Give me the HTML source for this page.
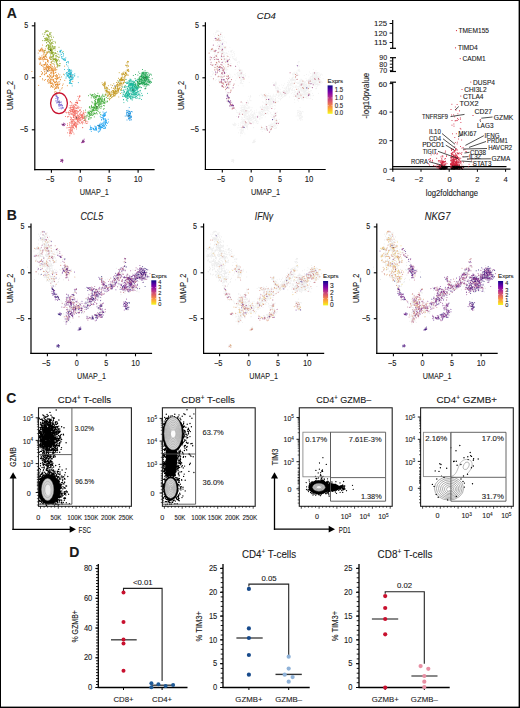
<!DOCTYPE html>
<html><head><meta charset="utf-8"><title>Figure</title>
<style>html,body{margin:0;padding:0;background:#fff}svg{display:block}text{font-family:"Liberation Sans",sans-serif;fill:#1a1a1a;stroke:#1a1a1a;stroke-width:0.1px}</style>
</head><body>
<svg width="520" height="708" viewBox="0 0 520 708">
<rect x="0" y="0" width="520" height="708" fill="#000"/>
<rect x="1" y="1" width="517.6" height="705.6" fill="#fff"/>
<text x="6.8" y="18.2" font-size="14" font-weight="bold" fill="#000">A</text>
<path d="M42.4 45.1h0m-3.5 5.1h0m.9 .3h0m.7-1.1h0m.1 1.1h0m.1-.4h0m.3-.3h0m.2-1h0m.3 .2h0m.4-1h0m.3 2.6h0m.1-.5h0m.2-.9h0m.4 .4h0m.6 1.4h0m1.5-.6h0m.3-1.5h0m5.9 3h0m-2.3-.5h0m-.6 .8h0m-1.1 .2h0m-.2 .9h0m0-1.5h0m-.4 1.2h0m-2.2-1.8h0m-.1 1.4h0m-.6 .4h0m-.4-2h0m-.4 .8h0m-1-.8h0m-1.4 0h0m-.9 .3h0m-1.4 1.8h0m1.1 3.9h0m2.6-1.1h0m1.3-1h0m.6 1.6h0m.1 .3h0m.1-2.6h0m.5 2.1h0m.7-.8h0m.2 .8h0m.1-1.6h0m.2 1.6h0m.4 .3h0m.5-2.1h0m4.2 1.9h0m5.8 3h0m-3.1-.4h0m-2.9 .4h0m-1.1-1h0m-.1-1h0m-2.1 2h0m-.3-.1h0m-.3-1.7h0m-.5 1.9h0m-.7-.4h0m-.4 .3h0m-.4-1.8h0m-.2 1.6h0m0-.9h0m-.8 1.2h0m-.4-2h0m0-.1h0m-.2 0h0m-.2 .7h0m-.2 .4h0m-.4 1.2h0m-.6-.5h0m-.6-1.9h0m-.2 .9h0m-.3-.6h0m-.1 1.5h0m-.3 .2h0m-.1-.7h0m-.6 .2h0m-.1 .9h0m-1-.8h0m1.8 3.4h0m3.1-1.2h0m2.2 1.3h0m.5 .5h0m1.5-1.3h0m.2-.7h0m.1-.2h0m.1 .5h0m.2-.7h0m.2 1.6h0m2.8 .1h0m.1 .2h0m1.4-1.3h0m4 1.4h0m1 2.9h0m-3-.4h0m-1.8-1.4h0m-1.6 1.4h0m-.7 0h0m-.1-.4h0m-.3-.2h0m-1.8 1.6h0m-.9-1.6h0m0-.1h0m-.5 1.4h0m-.3-.6h0m-.7-1.1h0m-.6-.4h0m0 1.1h0m-.3 .1h0m-.3-.3h0m-.1 .4h0m-.4 0h0m-.4-.3h0m-1.8 .2h0m-.3 .7h0m-.4 0h0m-.6-2.2h0m-.7 1.2h0m-.2-.7h0m3 2.4h0m.4-.1h0m.5 2h0m.4-.7h0m.7 1.6h0m.4-1.5h0m.6 1h0m.4-1.7h0m.4-.5h0m.3 .4h0m0 .9h0m0 .4h0m.6-.6h0m0-1h0m.4 1.1h0m.2 1.2h0m.4-2.5h0m0 2.2h0m.1-.9h0m.5 1.3h0m0-1.8h0m.1-.4h0m.1 1.8h0m.2-1.8h0m.7 1.3h0m0-.2h0m.1-.2h0m0-.4h0m.6-1h0m.6 2h0m.1 .1h0m.4-.1h0m0-1.8h0m.2 2.2h0m.4-1.7h0m.9 1.2h0m1-1.3h0m.4 2.2h0m.1-.7h0m.2-.5h0m.4 1.3h0m1.5-2.8h0m7.6 0h0m-7.9 3.3h0m-.9 .7h0m-.3-.1h0m-1.1-.1h0m-.3 0h0m-.5 1.2h0m-.2-.6h0m-.3 .6h0m-.1 .5h0m0-2.4h0m-.2 .1h0m-.3 .6h0m-.1 .8h0m-.4-.4h0m-.6-.3h0m-.2-.7h0m-.1-.3h0m-.2 1.6h0m-.8-.5h0m-.7 .3h0m-.7 .8h0m0-1.6h0m-.1 .2h0m-.2-.3h0m-.7 .5h0m-1.2 .8h0m-.2-1.8h0m-.2 .2h0m-.1-.2h0m-.1 .8h0m-1.2 1.6h0m-.5-1.8h0m-.1-.3h0m-.3 .5h0m-2.6 1.6h0m-9.4 0h0m9.6 2.7h0m.4 .5h0m.5-2h0m.1 .7h0m1.8 1h0m.2 .4h0m.2-2.8h0m.2 2h0m1-.5h0m.4-.9h0m0 .7h0m3 1.6h0m.2-.3h0m1.3-1h0m.2-.9h0m.1-.6h0m.2 .2h0m.5 1.6h0m1.1-1.1h0m.6 1.4h0m.1-1.7h0m0 1h0m.3 .1h0m.1-.5h0m1.7-.5h0m.1-.3h0m.7 2.4h0m2-.7h0m1.4 .9h0m3.7-.6h0m-2.1 2.6h0m-1.6 .8h0m-.4-.7h0m-1.2 .7h0m-.9-2.1h0m-.2 .8h0m0 1.2h0m-.5-.6h0m-.3-1.9h0m-.3 1.7h0m-.3-.5h0m-.1-.8h0m-1.8-.3h0m0 .4h0m-.5 1h0m0-.5h0m-.2 .2h0m-.1-.1h0m-.4 1.6h0m-.5-.9h0m-.4 .7h0m-.6-.6h0m-.2-1.3h0m-.4 .4h0m-.4-.2h0m-.1 .8h0m-.5 1h0m-1.3-1h0m-.3-.4h0m-.3-.1h0m-.1-.4h0m-.4 .9h0m-6.8-.2h0m-.4 .1h0m2.5 2.1h0m.3 1.1h0m1.7 .5h0m.9-.8h0m2.1 1.4h0m.3-1h0m.6-.5h0m.7 .8h0m.2-2h0m.6 2.6h0m.7-.9h0m.2-1h0m0 .5h0m.2 1.4h0m.4-1.5h0m.9 .5h0m.8 0h0m.1 .5h0m.1-.6h0m.3 .3h0m1.4-1.4h0m.7-.1h0m.5 .2h0m.1 1.2h0m.2-.2h0m.7-1.1h0m.3-.3h0m.1 .3h0m.2 .3h0m.3-.8h0m2.1 1.7h0m.4-.2h0m4.2 .8h0m8 1h0m-12.9 2.3h0m-.2-1.9h0m-1.4 .1h0m-.4 2.1h0m-.1-1h0m-.7-.6h0m-.1 1.6h0m-.4-2.5h0m-.4 .2h0m-.5 .5h0m-.1 .2h0m-.8 .1h0m-.4-.2h0m-.2-1h0m-.1 2.5h0m-.5-2.3h0m-1.1 2.4h0m-.4-1.2h0m-.2 .7h0m-.5 0h0m-.6-.2h0m0-1.2h0m-.2 .8h0m-.3 .9h0m0-2h0m-.1-.5h0m-.3 1.7h0m-.8-.4h0m-.2-.6h0m-.7 1.3h0m-.5-2h0m-9 4.2h0m12.5 0h0m.1 .3h0m0 .8h0m.1-.4h0m1 .8h0m.3-2.8h0m.4 1h0m.5 0h0m1.2 1.6h0m.7-2h0m.1-.3h0m.1 1.1h0m.2-.8h0m.2-.6h0m.5 .6h0m.1 1.8h0m.5 .2h0m.3-2h0m.2-.3h0m.2 1.3h0m0-1h0m0 .7h0m.2-.9h0m1.4 0h0m3 .8h0m.7-1.3h0m4.1 1.7h0m-5.1 2h0m-.4 1.1h0m-3.2-.5h0m-.3-.7h0m-.2-.6h0m-.3 .9h0m-1.3-.6h0m-.2 1h0m-.5 .2h0m-.3-.6h0m-.2 .2h0m-.6 .8h0m0 .7h0m-1.5-2.5h0m-.4 .1h0m-2.2-.1h0m4 5h0m1.1-.4h0m.7 .6h0m2.9 .2h0m.6-1.5h0m.2-.9h0m-1.2 3.2h0m-2 1.7h0m-.7-.9h0m-.6-.1h0" stroke="#E3892B" stroke-width="1" stroke-linecap="round"/>
<path d="M45 32.7h0m.1-.2h0m.7-1.7h0m.1 .6h0m.7 .2h0m.3-.4h0m.1-.6h0m.8 .6h0m.4 .2h0m1.7 1.3h0m1.1-.1h0m-.3 1.6h0m-.8-.6h0m-.1 .6h0m-.1 .1h0m-1.5 1h0m-.1 .6h0m-.1-.3h0m-.4-.1h0m-.1-1.1h0m-.3 1.2h0m-.3-.9h0m-2.2-.4h0m-1.9-.3h0m.9 2.4h0m.7 2h0m1.1-.2h0m0 .6h0m1.2-1h0m.3 .4h0m0 .5h0m.9-.5h0m.7-1.7h0m.1 .9h0m.9 .6h0m0-1.7h0m1-.1h0m.9 1.5h0m.2-1.7h0m1.8 1.2h0m1.7 4.8h0m-1.3-.6h0m-1.8-1.4h0m-.1-.5h0m-1.4 1.4h0m-.1 .1h0m-.2-.8h0m-.4-.8h0m-.7 1.1h0m-.8-1.3h0m0 2.4h0m-.3 .2h0m0-1.7h0m-.2-.1h0m-.3 1h0m0-1.2h0m-.1-.5h0m-.3-.1h0m-.7 .9h0m-.2 .2h0m-.1-1.2h0m-.2 .2h0m-.1 .5h0m-.1 .9h0m-.7-.6h0m-.8 .6h0m-1.6-.1h0m3.9 2.1h0m.1 0h0m1.1 1.8h0m1.2 .4h0m.3-2.8h0m.1 .5h0m.5 .6h0m.1 .4h0m.7-.4h0m0 1.5h0m.8-.7h0m.2-1.4h0m.1 .5h0m.2 .1h0m.4-1.1h0m.6 1.4h0m2.5-.6h0m3.5 4.4h0m-4 .5h0m0-1h0m-.1-.3h0m-.8 .8h0m-.7-.4h0m-1-.8h0m-.1 .2h0m-.2 1.2h0m0-2.1h0m-.3 1.6h0m-1.2 .8h0m0-1h0m-.3-1.8h0m-.2 1.8h0m0-.7h0m-.3-.5h0m-.3 2h0m-.1-.8h0m-.7 .3h0m-.1 .7h0m-.1 0h0m-.1-1.4h0m0-.7h0m0-.6h0m-.1 .5h0m-.1 1.8h0m-1.2-1.8h0m-.4 0h0m-.3 .4h0m-.2 .7h0m-1.3 4h0m.2-.2h0m2.8-1.8h0m.6-.2h0m.1 1.3h0m.4-.3h0m.3-.1h0m.5 0h0m.3-.6h0m.1 .9h0m.4-.8h0m.2 0h0m.1 1.4h0m.1 .5h0m0-1.7h0m.1-.3h0m0 1h0m.1 .8h0m0-.1h0m.1-.6h0m0-.6h0m.2 .8h0m0-.9h0m.2 1.4h0m0-1.2h0m0 1.2h0m.2-1.5h0m.2 .9h0m.2 .9h0m.2-1.7h0m.7-.9h0m.3 .6h0m.6-.6h0m0 .3h0m.9-.3h0m.2 1.8h0m8 1.5h0m-5.5 .1h0m-.8 2h0m-1.1-.4h0m-.2-.1h0m-.1-.3h0m-1.1 .3h0m-.4-.5h0m-.7-.4h0m-.3 .1h0m-.4 .5h0m0-.2h0m-.2 .3h0m-.1 .3h0m-.1-2.3h0m-.2 1.9h0m-.1-1.3h0m-.1 1.5h0m0-.4h0m0-1h0m-.5 2.1h0m0-.7h0m0 .5h0m-.1-2h0m-.5 1.2h0m-.9 0h0m0-1.1h0m-1.6 .1h0m-.7 1.1h0m-2.5-.1h0m1 2.9h0m4.2 1.1h0m.4-1.8h0m.8 1.9h0m.9-.4h0m.6-.5h0m.1-1.8h0m0-.2h0m.1 2.3h0m.3-.7h0m.1-.7h0m.2 1.2h0m.1-.9h0m0 .6h0m.4-1.4h0m1.8 1.6h0m0-.2h0m.3-.4h0m.7 .9h0m.8 .3h0m.5-2.3h0m1.4 2.9h0m-1.1 .1h0m-.2 2h0m-1.5 .3h0m-.8-1.7h0m-.1 .9h0m0 .8h0m-.1-.1h0m-.3-.1h0m-.3-.9h0m-.4 .3h0m-.3 .7h0m-.5-.2h0m0 .1h0m0-.1h0m-.1 .7h0m-.6-.8h0m-.2-2.1h0m-.2 2.7h0m0-1.6h0m-.1-.2h0m-1.4-.2h0m-.1 1.7h0m-.3-2h0m-.3 .5h0m-.4 1.1h0m1.3 3.9h0m.2-1.6h0m2.1 0h0m1 .7h0m.5-1.5h0m.1 0h0m.1-.5h0m.1 .6h0m.7 1.3h0m0-.6h0m.1-1.1h0m.2 1.8h0m.2-.4h0m.1-1.2h0m.2 0h0m.3-.3h0m.3 .6h0m1.5 .2h0m.7 2.5h0m0 2.2h0m-.1-2h0m-.3 2.1h0m-.3-.2h0m-1-.5h0m-1-.7h0m-.3-.8h0m0 .2h0m-.1 .4h0m-3.1-.2h0m3.3 3.4h0m.7-1.3h0m.2-.1h0" stroke="#8DA82A" stroke-width="1" stroke-linecap="round"/>
<path d="M60.2 50.4h0m1.2-.1h0m2.1 3.7h0m-.2-.3h0m-.9-1.1h0m-1.5 .2h0m-.2-1.1h0m-.2-.3h0m-.1-.2h0m-.3 .1h0m-.4 .5h0m.4 3.2h0m1.3 1.7h0m0-2.2h0m.7 2.2h0m1.5-.8h0m2.2 2h0m-.5 1.9h0m-.2-.6h0m-.4-.3h0m-.8 .5h0m-.1-.3h0m-.1 .6h0m-.7-.6h0m-.3-.7h0m-1.3-.4h0m2.9 2.4h0m1 .1h0m1.1 2.2h0m.2-.3h0m1-.6h0m.8 1.1h0m.2-1.1h0m-2 2.9h0m1.3 1.3h0" stroke="#1EB5CC" stroke-width="1" stroke-linecap="round"/>
<path d="M68.7 68h0m3.2 3.2h0m-.8-1.1h0m-.2 .9h0m-.1-.8h0m-.7 1h0m-.2-.2h0m-.3-1.4h0m-.2 1.4h0m0-1h0m-.3-.5h0m-.2 .8h0m-.2 1h0m-.3-.4h0m-.3 1.1h0m-.2-2.5h0m-3.5 0h0m0 5.4h0m1.6-1.3h0m.6-1h0m.4 1.8h0m.1 .4h0m0-1.6h0m.1-.6h0m1.2 1.2h0m.2-.3h0m.3 .4h0m0 1h0m.6-.2h0m0-.7h0m.1-.5h0m.4-1.1h0m0 .5h0m.2 1.5h0m.1-1.4h0m.1 1.1h0m.2 .5h0m.1-.3h0m.1-.4h0m.1-.2h0m0-.9h0m.1 2h0m.2-.5h0m.1-1.3h0m.1-.3h0m1.1 2.2h0m1.3-.1h0m1-1h0m3.2 3.1h0m-3.2-1.2h0m-.2 .3h0m-1.1 1.2h0m-.8-2.1h0m-.1 1.7h0m0 1.2h0m-.5-.6h0m-.4 .3h0m-.8-.9h0m0 .4h0m-.1-1.2h0m-.1 .2h0m-.3 .7h0m-.2-.6h0m-.5 .8h0m0 .5h0m-.5-.6h0m-.5-1.2h0m0 1.8h0m-.1-1.8h0m-.4 .5h0m-.4-.4h0m-.1-.3h0m-.2 .4h0m-.4-.6h0m-.9 1.5h0m-.2 1.3h0m3.3-.1h0m.3 2.3h0m.2 .5h0m.1-2.1h0m.4 1.4h0m.1-.8h0m0 .2h0m.1 1.2h0m.7-1.7h0m.2 .5h0m.1 .1h0m.5-1.1h0m.5 .6h0m.6-.3h0m5.2 3.7h0m-6.3 1.1h0m-.4-.2h0m-.9-.6h0m0-1.3h0m-.4 1.7h0m-.3-.5h0m-.4-.2h0m-.3 .8h0m2.9 2.5h0" stroke="#1EB5CC" stroke-width="1" stroke-linecap="round"/>
<path d="M57.2 92.8h0m-.8 2.3h0m-.1 .7h0m-.7 0h0m.2 2.8h0m.5-2h0m.1 .1h0m.4-.5h0m.3 .7h0m0 1.5h0m.2-1.5h0m0 1.8h0m.2-1.1h0m.5 .7h0m0-.8h0m.4 .3h0m3 4.2h0m-1.7-1.1h0m-1.4 .8h0m-.3-1.6h0m-.1 1.3h0m0-1.7h0m-.4 1.2h0m-.1-1.5h0m-1 1.6h0m-.7-.1h0m.8 2h0m.7-.2h0m.4-.1h0m1.1 1.7h0m.1-1.9h0m.1 2.4h0m.2 0h0m.2-1.2h0m.3 .8h0m0-2h0m.4-.1h0m.5 0h0m.3 2.2h0m.3-.2h0m.1 .3h0m.6-.3h0m1.4 3.5h0m-.4-.2h0m-.6-2h0m0 0h0m0 0h0m-.1 1.4h0m0 .6h0m-1-2h0m-.8 .2h0m0-.6h0m-1 .8h0m-.2-.1h0m-.2 0h0m.2 2.4h0m1.6-.3h0m.6 .9h0m.7-.6h0m1-.1h0" stroke="#7F6FD8" stroke-width="1" stroke-linecap="round"/>
<path d="M79.8 95.8h0m-1.9 .6h0m.5 1.9h0m1-1.2h0m.1-.3h0m.3-.8h0m.1 .4h0m.2 4.3h0m-.7-.3h0m-.8-.4h0m-1.5 1.8h0m-.3-1.4h0m-6.4 1.1h0m-.2 .5h0m1.5 .7h0m.3 1.3h0m2.2 .3h0m1.1 .5h0m0-.1h0m.2-2h0m.4-.3h0m.5 .1h0m.2 .2h0m.6-.1h0m.1 .9h0m0-.7h0m0-.1h0m.2 .5h0m.2-.1h0m3.4 4.6h0m-2-.4h0m-.4 .7h0m-.6-1.6h0m-.4 1.2h0m-.7-1.7h0m-.1 2h0m-.3-2.8h0m-.9 2.8h0m-.5-2.3h0m-.8 1.5h0m-.3-.6h0m-.1 .2h0m-.2 .8h0m-.1-1.7h0m-.4-.4h0m-.2 2h0m-.4-1.4h0m-.3 1.7h0m-.1-.5h0m-.7 .5h0m-.1-2h0m-.9 1.3h0m0 .6h0m-.5-2.1h0m-.9 2.3h0m-4.5 1.7h0m.9 1.2h0m3.9-.2h0m.6-1.7h0m.4 1.9h0m.2-2.5h0m.1 1.5h0m.7-.1h0m.3 .1h0m.1 1.1h0m.5-.1h0m0-.9h0m.3-.1h0m.1 .3h0m0-.6h0m.3-.1h0m.3-1h0m.1 1.1h0m.2 1.5h0m.2-1.2h0m0-1.4h0m.2 1.5h0m.1-1.5h0m.8 2.6h0m.1-.8h0m0 .7h0m.1-.4h0m.7-2.2h0m.5 .3h0m.1 2.1h0m.5-.3h0m.9-1.9h0m1.5 1.6h0m.3 .6h0m.5 .2h0m.3-1h0m3.1 1.1h0m1.8 1.4h0m-1.5 .1h0m0 .9h0m-.3 .5h0m-.5-.8h0m0 .6h0m-1.5-1.9h0m-1 1.1h0m-.6 .9h0m-1.4-2h0m-.5 0h0m-.8 1.1h0m0-1.5h0m-.2 2h0m-.4-1.3h0m-.4 1.6h0m-.4-2.5h0m-.3 .7h0m-.1 .4h0m-.2 1.7h0m0-.1h0m-.2-1.4h0m-.4 1.4h0m0-2.6h0m-.2 0h0m-.2 .6h0m-.1-.5h0m0 .7h0m0 1.5h0m-.2-1h0m0 .4h0m0-1.5h0m-.4 1.3h0m-.4-.1h0m-.3-1.2h0m-.2 .1h0m-.2-.2h0m0 1.9h0m-.3-1.3h0m-.6 1.8h0m-.3-2h0m-.4-.3h0m-.5 0h0m-.2 1.4h0m-.5 0h0m-.9-.8h0m-.5 .6h0m-.2 0h0m-1.6 .2h0m-.6-.5h0m-.3 4.2h0m2 .4h0m.4-.2h0m.4-2.7h0m.4 2.4h0m.8-1.7h0m.7-.7h0m1.3 .3h0m.8 .4h0m.7 .2h0m.2 .9h0m.3-.3h0m.1-1.1h0m.1 2h0m.3-1h0m.6-.1h0m.1-.4h0m.2 .4h0m.1-1.2h0m0 2.6h0m.7-.6h0m.3 .7h0m.1-.5h0m.5 .4h0m.6-.8h0m.1-.7h0m.5-.4h0m.1 2.2h0m.5-1.4h0m.2 1.3h0m.5-.4h0m.1 .2h0m.3-2.4h0m.4 1.5h0m.5-1h0m.4 .5h0m.5 0h0m0 .9h0m.3-1.3h0m.1-.3h0m0 1.6h0m.2-1.1h0m.1 1.2h0m.3-1.6h0m.3 1.2h0m.1-.3h0m0 .6h0m.1-1.2h0m1.1 1.4h0m.3-1.6h0m.6 2h0m.9-.5h0m.2 1.7h0m-.6 1.7h0m-.6 .3h0m-.2-2.6h0m-1 .6h0m-.3 .2h0m-.2 .1h0m-.1-1.1h0m-.2 1.1h0m-.1-.9h0m-.1 1.5h0m-.5-1.1h0m0-.7h0m-.2 2.4h0m-.2-1.7h0m-.5-.5h0m-.6 .9h0m-.1-.6h0m0 2.1h0m-.8-1.6h0m-.1 .8h0m-.4-.4h0m-.1 .5h0m0-.8h0m-.3 .9h0m0-1.2h0m-.4-.1h0m0 0h0m-.3 1.9h0m-.4-.3h0m-.4-1h0m-.1 .1h0m0-1.2h0m-.2 2.5h0m-.4-1.5h0m-.1 1h0m0-.3h0m-.4-.4h0m-.6 .6h0m-.2-2h0m-.3 1.3h0m-.9-.9h0m-.1 2h0m-.1-.1h0m-.3-2h0m-.3-.4h0m0 .3h0m-.4 2.5h0m-.5-.3h0m-1-.9h0m-.2-1.2h0m-.4 1.7h0m-.4-2.1h0m-.1 2.5h0m-.8 3.2h0m1.5-1.6h0m.1 1.5h0m.3-1.3h0m0 .5h0m0-1.9h0m.7 2.1h0m.1 .8h0m.1-1.9h0m.1 .4h0m.6 1.5h0m.3-1.2h0m.3-1.3h0m.8 1.4h0m.5-.7h0m.1 1.4h0m.1 .3h0m.4-.1h0m1.6-1.1h0m.3-.8h0m.1 .3h0m.3-.8h0m.4-.2h0m.4 1.4h0m.4 .8h0m0 .7h0m.1-3h0m.2 2.2h0m.5-1.7h0m.7 .2h0m.8 1.8h0m.4-1.3h0m.3 1.7h0m.7-1.1h0m.3 .8h0m.4-1.8h0m1-.5h0m.1-.1h0m.1 .2h0m1 1.5h0m.1-.2h0m1-.6h0m1.1 .8h0m-.8 1.6h0m-.3-.1h0m-1.6-.3h0m-2.7 .7h0m-2.3-.2h0m-2.2 1h0m-.3-1.6h0m-.4 1.2h0m-.6-1h0m0 2.4h0m-.3-.9h0m-.3-1.7h0m-.3 1.2h0m-.4-1.1h0m0 2.8h0m-.1-.1h0m-.1-.1h0m-.4-1.3h0m0-.9h0m0 .4h0m0 1.1h0m-.1-.4h0m-.3 .8h0m-.1-1.1h0m-.2 0h0m-.2-.5h0m0 .9h0m-.1 .1h0m-.5 .7h0m-.7 .4h0m-.2-2.1h0m-.4 1.9h0m-.1-.6h0m-.4-1.3h0m-1.2-.7h0m-.2 2.8h0m-.6-1.1h0m-1.8 .7h0m-.2-1.7h0m-.5 4.1h0m1.3-.3h0m1.6-.1h0m.4 .3h0m0-.5h0m.7 1.4h0m.1 .3h0m.3-1.5h0m.7-1.1h0m.1-.1h0m.1 1.5h0m.6 .2h0m.3-.6h0m.1 .2h0m.1 0h0m.1-1.4h0m.8 2.5h0m1.4-2.4h0m.1 .4h0m.3 .4h0m.3-.8h0m0 .1h0m0 1.1h0m.3 1.5h0m5.8-1.4h0m.4 0h0m-10.3 2.5h0m-.1-.3h0m-.2 1.8h0m-.5-1.1h0m-.5-1.3h0m-.3 1.9h0m0-.8h0m-.3 .9h0m-.3-1.1h0m-.3-.6h0m-.6 1.6h0m-.5-1.1h0m-1.2 2.8h0m1.9 .8h0m.1-1.2h0m.4 1.4h0m.3-.7h0m.2-.7h0m.3-.4h0m.4 1.7h0m.1-.5h0m1.6-.9h0m1 1.7h0m-4.2 1.8h0" stroke="#F26C62" stroke-width="1" stroke-linecap="round"/>
<path d="M106.1 89.9h0m-.1 4.1h0m-.3 .9h0m-.7 .2h0m-2.2-.8h0m-.6 1.2h0m-2.8-.1h0m-1.2 .5h0m-.3-2.6h0m-.6 2.2h0m-.1 .1h0m-.4-.1h0m-1.2-.7h0m-.8 1h0m-.2-1.9h0m-.9 1h0m-1.1-.3h0m-.3 .5h0m-.3 .3h0m-.4 0h0m-.6-.5h0m-.8-.7h0m-1.7 1.5h0m2.7 2.1h0m.7-1.6h0m1.2 .4h0m.3 .2h0m.1 1h0m1.1-1h0m0 1.4h0m.6-.3h0m.1-1.4h0m.3 1.1h0m.3-.4h0m.3 .4h0m.2-1.4h0m.4 .7h0m.5-.8h0m.9 2.5h0m.5-.3h0m.2-1.6h0m.4 2.3h0m0-2.1h0m.2-.1h0m.1 1.9h0m0-2.3h0m1 2.2h0m.2-1.3h0m.1 1.4h0m.4-2h0m.7 1h0m.7 1h0m.2-2.4h0m.5-.1h0m1.3 .5h0m0 1.8h0m1.6-1.1h0m1.6 1.1h0m3.1-2.4h0m-3.6 5.5h0m-.2-.6h0m-1.5 1h0m-.9-1.3h0m-.1-1.7h0m-.3 1.8h0m0-1.3h0m-.1-.1h0m-.1 .2h0m-.2 .6h0m-.9 1.2h0m-.2 0h0m-.1 .5h0m-.7-1.8h0m0-.9h0m-.1 1.7h0m-.1-.9h0m-.1 1.5h0m0-.7h0m-.8-1.3h0m0-.5h0m0 1.5h0m-.1 1.1h0m-.2-2.6h0m-1.1 2.7h0m0-1.6h0m-.1 .8h0m-.2-1h0m-.2-.1h0m-.4-.7h0m-.1 .7h0m-.1-.5h0m0 2.7h0m-.2-1.3h0m-.1 .2h0m-.1 .4h0m-.3-1.9h0m0 1.4h0m-.2-.8h0m-.1 .1h0m-.1 1.8h0m-1.2-2.8h0m-.7 2.2h0m0-1.8h0m-.2 2h0m-.3-1.1h0m-.5 .5h0m-2.6 .9h0m.4 1h0m1.8 .4h0m.2 1.4h0m0 .3h0m.3-1.7h0m.8 1.3h0m0-.1h0m.1-2.3h0m.1 1.4h0m.2 .3h0m.1-.6h0m0-.5h0m.8 .7h0m.1 .6h0m.4-1.8h0m.3 .1h0m.5 1.1h0m.2 1h0m0 .2h0m.1-2h0m.7 .8h0m.4 1h0m.3-2.2h0m.1 1.4h0m.1-1.6h0m.3 2.3h0m.1-1.3h0m.2 1.1h0m.4-1.1h0m.2-.9h0m.2 1h0m.6 .8h0m1.1-.5h0m.4-1h0m.7 .9h0m.1-.4h0m.3-.5h0m.4 1.2h0m2-1.6h0m-2.5 3.8h0m-1-.3h0m-1.5 .9h0m-.6 .5h0m-.1-1.9h0m-1.2 1.4h0m0 .5h0m-.7-1.7h0m0 2.5h0m-.4-2h0m-.1 1.4h0m-.2-1.6h0m-.7 1h0m-.8 .4h0m0 .8h0m-.4-1.2h0m0 .3h0m-.5-.1h0m0 0h0m-.2-.8h0m-.2 1.9h0m-.3-2h0m-.1-.5h0m-.1 .5h0m-.2 1.3h0m-.4 .6h0m-.1-.1h0m0-1.6h0m-.3 1.8h0m-.2-.2h0m-.1-.3h0m-.2-.3h0m-.3 .1h0m-.5 .1h0m-.3 .5h0m-.2 0h0m-.6-.6h0m-.4-.8h0m0-.9h0m-.2 1.8h0m-.1-.3h0m-1.7 .9h0m-.1-1.1h0m-.1 .6h0m-3.9 2.8h0m3.8 .9h0m1.7-2.7h0m.2 .9h0m1.3 1.8h0m.1-1.4h0m.5 1.3h0m.1-.4h0m.1-.2h0m.1-1.6h0m0 .7h0m.3-.1h0m.4 1.6h0m0-.4h0m.1-1.4h0m.4-.9h0m.4 2.2h0m.7-1.3h0m0 1h0m.3-1.7h0m.3-.2h0m.3 2.4h0m0-1.9h0m.2-.4h0m.1 1h0m.3-.2h0m.5 1.6h0m.1-2.3h0m1 .5h0m2.2-.4h0m2.8 .8h0m.4-.8h0m-4.1 3.8h0m-.3 .8h0m-1.5-1.7h0m-1 2.5h0m-.6-1h0m-.3-.2h0m-.8 1.1h0m-.8-.2h0m0-.1h0m-.5-.6h0m-.6 .2h0m-1.3 0h0m0-2h0m-.7 .2h0m-.1 1.1h0m-.2 .5h0m-.1-1.9h0m-.5 2.3h0m0-1.9h0m-.3-.1h0m-.9 1h0m0 .8h0m-.2-.1h0m-.1 .9h0m-.4 0h0m-.1-1.7h0m-.3 .2h0m-.1 1.1h0m-.4-1.5h0m-.7 .9h0m-2.3 3.3h0m1.8 .7h0m.1-1.5h0m.6-.3h0m.7 1.6h0m1-.4h0m.2-1.1h0m.1-.8h0m.7 .9h0m.7 .1h0m0-1.1h0m.3 1h0m.2-1.3h0m.5 .6h0m.9 .9h0m.4-.9h0m.7 0h0m.5 2.3h0m6.1-2.2h0m-9 3.1h0m-.9 0h0m-.6 1.2h0m-.4-2h0m-.7 1.4h0m-.4 .9h0m-3.4-1.2h0m-.2 .2h0m.4 2.1h0" stroke="#3DAA35" stroke-width="1" stroke-linecap="round"/>
<path d="M106.4 112.1h0m-.7 .5h0m-.1 1.3h0m-1.1-.7h0m-.2 .7h0m-.3-.7h0m-1-1.2h0m-2.8 4.3h0m1.7-1.4h0m.7 .5h0m.5 1.3h0m.2-1.6h0m.2 .9h0m.3-1.7h0m.2 .8h0m.1-.1h0m.1 1.2h0m0 .1h0m0-.8h0m.2 0h0m.4 .2h0m0-.4h0m.3-.9h0m.2 1.2h0m2.9 3.7h0m-2.3 .4h0m-.6-1h0m-.9 .3h0m-.8-.6h0m0-1.3h0m-.1 1.7h0m-.2 .7h0m-.3-1h0m-.8-1h0m-.4 0h0m-.1 2.1h0m-.7-1.9h0m.4 2.3h0m1.7 2.7h0m.8-2.7h0m.1 2.3h0m.1-.7h0m.7 1.4h0m.4-2.2h0m.1 1.7h0m.1-2.3h0m.1-.1h0m.3 1.5h0m.2-.7h0m.2 1.2h0m.1 .1h0m0 .5h0m.3-2h0m.2 2h0m1.6-.7h0m-1 1.4h0m-1 2.2h0m-.9-1.1h0m0-1.1h0m-.4 .2h0m-.3 2h0m-.2-.6h0m-1.1-1.2h0m-.1 1h0m-.2 .4h0m-.2 .1h0m-.5 .1h0m-.1 .1h0m-.1-1.9h0m-.4 1.4h0m-.1-1.2h0m-.6 .7h0m-.4 .3h0m0-1.7h0m-.2 2.9h0m-.6-1.2h0m-.4-.6h0m-.2 1.5h0m-.2 .3h0m-.2-.9h0m-.7 .4h0m-.3 0h0m-.4-.1h0m-7.3 .6h0m.1 1.4h0m.1 1.4h0m.3-1.5h0m.4 1.4h0m.5-1.2h0m1.2 .6h0m.1 .8h0m.5-.4h0m.1 .2h0m1.2-2.5h0m.4 1.6h0m.2 .7h0m.2 .4h0m.1-2.1h0m.1 2h0m.2-.3h0m.1-1.4h0m.1 0h0m.4 1h0m2 .6h0m.3-1.4h0m.2 .9h0m.1-2.1h0m.4 2.1h0m0-1.9h0m.3 1.5h0m.4-.4h0m.3 1.4h0m.1-2.2h0m0 .6h0m.2 1.5h0m.2-1.2h0m.1-.9h0m.3 .6h0m.2 .3h0m.2 .1h0m.6 0h0m.2-.6h0m.3-.8h0m.7 2.3h0m.2-2h0m.1-.4h0m0 .9h0m.5 1.4h0m.7-1.4h0m.2 1.2h0m.1-.5h0m-5.2 1.7h0m-.3 1.1h0m0-.9h0m-.3 1.8h0m-1.6-.2h0m-1.4-1.8h0m-.2-.3h0m0 1h0m-.4-.3h0m-.7 .2h0m-.9 0h0m-.4-.7h0m-.3 .5h0m-.3-.7h0m-1.9 .4h0m-.3 1.9h0m-1-1.7h0m-.4-.3h0m8.6 2.7h0" stroke="#1FA3F0" stroke-width="1" stroke-linecap="round"/>
<path d="M129.2 107.6h0m-2.7 3.3h0m.5-.4h0m1.1-.2h0m4.1 1.6h0m-.6-.4h0m-1 1.8h0m-.4 .1h0m0-.9h0m-.1-.5h0m0 1.5h0m-.3-2h0m-.1 0h0m-.1 2.4h0m-.4-.1h0m0-2h0m-.1-.7h0m-.2 2.5h0m-.2 .1h0m-.1-.4h0m-.3-1.6h0m-.4 .9h0m-.5-.5h0m-.2 .5h0m-.2 .1h0m-.4 .3h0m-1.4 3.1h0m1.2-2h0m.5 .9h0m0 .8h0m.4 .2h0m.8-.9h0m.1 1.7h0m0-1h0m0-1.5h0m.5 1.6h0m.3 .1h0m.6-.5h0m.1-.2h0m.1 .3h0m.1-.9h0m.5 1.9h0m.1-2.6h0m.4 1.6h0m.7 1h0m-.1 3.2h0m-.1-2.5h0m-.5-.1h0m-.1 1.8h0m-.4-1.1h0m-.2-.8h0m-.4 1.8h0m-.2-1h0m-.3-.3h0m-.1 1.1h0m-.2 .3h0m-.5-.3h0m0-.6h0m-1.5 1.9h0m2.9 .5h0" stroke="#1F95E0" stroke-width="1" stroke-linecap="round"/>
<path d="M126.9 62.8h0m.5-1.4h0m.4 1.5h0m.3-1.4h0m.2 .4h0m-.2 3.9h0m-.7-.7h0m-.9 .7h0m-.5-.4h0m-.1-.2h0m1.2 1.8h0m1.3-.8h0m.6 4.9h0m-.7 .4h0m0-.8h0m0-1.1h0m-.2-.3h0m-.7 1.3h0m0 0h0m-.2-.9h0m-1.1 1.3h0m-2.1 1h0m-4.8 .7h0m2.3 1.3h0m.7 .6h0m0-1h0m.1 1.1h0m.6-1.8h0m.5 1.1h0m.1 .2h0m.1-.9h0m1 1.2h0m.3 .3h0m.2-1.5h0m.4 .1h0m0-.8h0m0 1.1h0m.1-.5h0m.4-.7h0m.4 2h0m.3-1h0m1.2 1.2h0m.1 .8h0m-1.9-.1h0m-.4 .1h0m-.3 .4h0m-.3 1.1h0m-.5-.1h0m-.1-.8h0m-1.3 1.7h0m-.5-.7h0m-.6-1.1h0m-.5 1.7h0m-.5 .2h0m-3.4 2.9h0m.8-2.5h0m1 1.3h0m.3 .8h0m.2-.3h0m.3-1.2h0m0 .6h0m.1-.1h0m.2 .3h0m.3 .4h0m.2 .1h0m.2-1.5h0m.1 1.3h0m.1-1.6h0m0 2.2h0m.1-1.2h0m0 .5h0m.1-1.3h0m.1-.4h0m.5 2.1h0m0-.3h0m.1-.3h0m.3 .2h0m.1-.5h0m0 .8h0m.1-.8h0m0 .5h0m.6 .1h0m.4 0h0m.3-.8h0m.2 1.2h0m.2-2.3h0m1 1.2h0m-1 2.9h0m-.3-1h0m-.5 1.1h0m-.4 .9h0m0-.6h0m-.2 1.1h0m-1.3-1.5h0m-.3 1.1h0m-.3 .1h0m-.5-.1h0m-.2-.4h0m-.1-1.8h0m-.3 2.3h0m-.3-.2h0m-.5 .5h0m-.5-1.7h0m-.1 .2h0m-.4 .5h0m-.7 .4h0m-1.1-.6h0m-2.8 1.3h0m-8.3-.5h0m-.3-1.1h0m-.4-.1h0m-.3 .7h0m-.1 .9h0m-.4 .3h0m-.3-.2h0m-1.6-1h0m.6 1.7h0m.4 .6h0m.4 .6h0m.5-.6h0m.4 .7h0m.1 .3h0m.3 .7h0m.1-2.4h0m.1 1.4h0m0-1.6h0m0 .3h0m3.3 1.2h0m2.6-.8h0m1.6 .7h0m3.1 1.3h0m1.1-1.7h0m.1 .8h0m.1-1.4h0m.1 1.3h0m.4-1.4h0m0 .4h0m.2-.7h0m.2 2.2h0m0-.2h0m.6-1.1h0m0-.1h0m1-.9h0m.3 .8h0m.1 .5h0m.6-.6h0m.6 .5h0m.2 1.4h0m.1-2.6h0m.9 1.9h0m.1-1.9h0m2.8 1.5h0m-.8 1.8h0m-2.8 1h0m0 1.5h0m-.6-.3h0m-.8-1.9h0m-.5 1.3h0m-.3-.7h0m-.1 .1h0m0-1.3h0m-.5 2.8h0m-.2 .1h0m-.2-1.1h0m-.3 0h0m0 .4h0m-.2-.8h0m-.2-1.3h0m-.1 1h0m-.3-1.2h0m-1.2 1.5h0m-.5-1.1h0m-.1 .7h0m0-.5h0m-.3 1.4h0m-.2-.9h0m-.2 1.7h0m-.8-1.8h0m-.6 .6h0m-1.7-.9h0m-2.2 2h0m-1.3-.6h0m-.6-1h0m-.1-.1h0m-.3 1.8h0m-.4-2.5h0m-.2 .7h0m-.4-.9h0m0 1.2h0m-.3-.1h0m-.9 .3h0m0 .4h0m-.2-1.4h0m.5 3.4h0m.7-.4h0m.2 1.6h0m.3-1.7h0m.1 .4h0m.3 .1h0m.1 1h0m.2 .2h0m0-1.1h0m0 .1h0m0 .5h0m.8 .3h0m.1 .2h0m.4 0h0m.4 .1h0m.2 .4h0m.1-1h0m.6 1h0m1.4-.6h0m.6-.6h0m1-.8h0m.2 1.8h0m.1-1.6h0m.2 1.4h0m.1-.6h0m.2-1.1h0m.2 1.4h0m0-.5h0m.2 1h0m.2-1.3h0m.2 1.3h0m.2-.7h0m.5 1h0m.6-1.9h0m0 .1h0m.2 1.2h0m.1-1.2h0m0 .6h0m0 .2h0m.1-1.6h0m.1 1.1h0m.2 .4h0m.7 .8h0m.1-2.4h0m.3 1.2h0m.5-.9h0m.1-.2h0m.1 .2h0m.2 1.3h0m0-1h0m.5 1.6h0m1.7-2h0m-.1 3.3h0m-2.7-.4h0m-.8 .1h0m-.5 .5h0m-.5 .1h0m-.1-.6h0m-.2 0h0m-.3 1.8h0m-.2-.5h0m-.2 1.5h0m-.2-.5h0m0-1.7h0m-.1-.3h0m-.4-.3h0m-.2 .2h0m-.3 2h0m0-2.3h0m-.2 1.5h0m-.3 .2h0m-.1-1.5h0m-.9 1.1h0m-.6-1.4h0m-.1 1.8h0m-.3 .2h0m-.5 .7h0m-.1 .3h0m-.1-1.3h0m-.2-1.5h0m-.1 1.9h0m-.6-.9h0m0-.2h0m-.1-.5h0m0 .2h0m-.4 .6h0m-.8 1.4h0m0-1.7h0m-.2 1.2h0m-.3-1.4h0m-.6 1.6h0m-1.4-.6h0m-.4-.4h0m2.1 2h0m1.6 2.1h0m.1-1.5h0m1.1-.7h0m.4 2.2h0m0-2.4h0m.9 1.5h0m.3-.2h0m.5-.8h0m1-.5h0m.5 0h0m4.9 .9h0m-9.1 2.6h0m-.3 .2h0" stroke="#C49A22" stroke-width="1" stroke-linecap="round"/>
<path d="M126.2 79.4h0m3 1.3h0m0 .1h0m.8-.7h0m0-.9h0m.6 1.6h0m.2-1.4h0m.3 .7h0m.9 .9h0m3.6-.6h0m.1 .2h0m.3-.1h0m.1-.4h0m1.5-.8h0m.5 1.8h0m-.3 .3h0m-.7 2.4h0m-2-1.7h0m-.7 .1h0m-.2-.4h0m-.5 2.1h0m0-1.7h0m-.3 .9h0m0 .8h0m-.1-2.7h0m-.3 1.8h0m-.3 1h0m-.1-.2h0m-.1 0h0m-.2-2.3h0m-.4 1.1h0m0 1.2h0m-.2-2.6h0m-.1 2.3h0m-.1 .1h0m-.3-.2h0m-.2 .6h0m-.3-.7h0m-.4-2.1h0m0 2.6h0m-.1-.6h0m0 .1h0m0 .6h0m-.1-.2h0m-.2 .1h0m-.4-2.4h0m-.1 1.5h0m-.6 .2h0m0-2h0m-.3 1.7h0m-.8 .4h0m0 .3h0m-.4-.6h0m-.2-1h0m-.4 1.7h0m-.4-.7h0m-.6-.4h0m-6.6-1.5h0m5.1 6h0m.2-.3h0m1-.6h0m1.2 .7h0m1.3-.3h0m.5 0h0m0-.8h0m.2 .3h0m.1-1.3h0m.2 1.6h0m.6-.9h0m.2-.9h0m.1 1.3h0m.3-.9h0m.1-.5h0m.1 1.7h0m0-1.2h0m.1 .1h0m.5 .1h0m.1-.7h0m.1 .9h0m0-.3h0m.2 .8h0m.4-1.5h0m.1 0h0m.2 .8h0m.1-.6h0m.1 .6h0m0 1.6h0m.2-.8h0m0 .1h0m.3 .3h0m.1-1.3h0m0 1.8h0m0-2.1h0m.1 1.2h0m.2-.4h0m.1-.2h0m.2-.8h0m.3 .9h0m.4 1.4h0m0-.1h0m0-2.1h0m0 2.2h0m.1-2.6h0m.1 .5h0m.2 1.1h0m.5 .2h0m.1 .6h0m.1 .4h0m.2-2.8h0m.1 1.2h0m.5 .7h0m.1-1.2h0m.3 2h0m0-.4h0m.3-.3h0m.6-.1h0m2.4-1.4h0m1.8 2.9h0m-2.3 0h0m-1.1 1.1h0m-.3-.7h0m0 0h0m0-.1h0m-.1-.4h0m-.1 1h0m-.3 1h0m-.6-1h0m0-.9h0m-.1 1.7h0m-.3-.7h0m-.4-.7h0m-.1 1.2h0m-.2-1.2h0m-.2 .1h0m-.1-.4h0m-.3-.2h0m-.5 1.3h0m-.3-.9h0m0 2.2h0m0-.4h0m-.3-.8h0m0 1.2h0m-.1-.8h0m-.4-.3h0m-.1-.8h0m-.3-.8h0m0 1.2h0m-.2-.4h0m-.2 1.1h0m0-.9h0m-.1-.9h0m0 0h0m-.1 .3h0m-.1 1.7h0m0-1.9h0m-.2 2.3h0m-.2-1.7h0m-.1-.5h0m-.2 .7h0m-.1-1.1h0m-.4 2h0m-.3 .2h0m-.2-.5h0m-.1-.5h0m-.4-1.1h0m0 .4h0m-.1 1.2h0m-.1 .6h0m0-2.3h0m-.1 .9h0m-.5-.1h0m-.5 2h0m-.5-.1h0m-.1-2.7h0m-.4 1.3h0m-.2 .4h0m-.2 0h0m-.2-.7h0m-1.4 1.1h0m-.7-1.8h0m-1.2 2.3h0m-1.4-2.7h0m-.7 3.3h0m.1 2.2h0m1.2-2.2h0m.7 .5h0m.1 1.4h0m.3 0h0m.3-.8h0m1.8 .7h0m.1 .2h0m.3 .1h0m.1-.4h0m.2-2h0m.2 1.3h0m.2 .1h0m0 1.3h0m.4-2.2h0m.4 1.5h0m.2 0h0m.2-.1h0m.1-1.2h0m0 1.9h0m.5-1.8h0m.6-.7h0m1 .3h0m.1 1h0m.1-.9h0m.9 .1h0m0 1h0m.2 .2h0m.1-1.4h0m.2-.4h0m.2 1.9h0m.1-1.9h0m.2 2.1h0m0-1.8h0m.2 .5h0m0-.4h0m.2 1h0m.3 1.3h0m0-1.4h0m0 .2h0m.1 .9h0m.4-1.4h0m0-.4h0m.2 .8h0m.3 1.4h0m0-1.4h0m.2-.7h0m0 1.1h0m.1-1.4h0m.1-.3h0m.5 2.1h0m.2-2.2h0m.1 .4h0m.2 1.5h0m.3 .7h0m.2 .1h0m.1-.1h0m.4-2.7h0m.1 .2h0m.3 2.5h0m.1-1.3h0m.7 0h0m.3 .5h0m1.5-1.2h0m0 1.3h0m.3-1.6h0m7.3 3h0m-5 2h0m-.6 .4h0m-.3-2.4h0m-1.7 1.9h0m-.2-.4h0m-.7-.9h0m-.1 .2h0m-.7 .6h0m-.2-.9h0m-.1 1h0m-.5 .7h0m-.7-2.4h0m-.4 1.3h0m0 .3h0m-.7 0h0m0-1.4h0m-.4 1h0m-.1 .1h0m-.1-1.3h0m0 2h0m-.1-1.3h0m-.3 .1h0m-.1 1h0m0-1.1h0m-.8 1.2h0m-.1-.8h0m0 .2h0m-.1-1.2h0m-.6 2.5h0m-.4-1.2h0m0-1.5h0m-.6 1.5h0m-.2-.4h0m-.4-.1h0m-.1 0h0m-.3-1h0m-.9 .2h0m0 1.8h0m-.5-.5h0m-.1 .1h0m-.1-1.3h0m-.1 .4h0m-.1 .3h0m-.3-.1h0m-.1 1.7h0m-.3-1.7h0m-.2 1.7h0m-.1-2.2h0m-.1 1.9h0m-.1-.7h0m-.1 .5h0m-.1-.4h0m0 .4h0m-.2-.6h0m0 1.4h0m-.2-1.6h0m-.1 .3h0m0 1.3h0m-.1-.5h0m0-1.1h0m-.2-1.2h0m-.2 2.4h0m-.1-2.4h0m0 .7h0m0-.3h0m-.5 1.7h0m0-2h0m-.6 1.1h0m-.2-.2h0m-.1-.8h0m-.1 1.9h0m-.2 .6h0m-.1-.7h0m-.9-.3h0m-.6-.6h0m-.4-.2h0m-.6 2.1h0m.7 .2h0m1.3-.2h0m.5-.1h0m.4 0h0m.2 .7h0m.3 .6h0m.4-.3h0m.3-.4h0m.2 1.3h0m.7 .6h0m0-1.6h0m.3-.2h0m.2 1.3h0m.2 .3h0m.1-2.3h0m.8 .1h0m.1 1.3h0m.4-1.1h0m.5 .2h0m0 .6h0m.4 1.3h0m0-1.1h0m.1-1.3h0m.1 2.6h0m.2-2.5h0m.5 .7h0m.4 1.4h0m0-2.3h0m.6 1h0m.2 .4h0m.2 1.5h0m.3-2.3h0m.5 1h0m1.1-.2h0m.6-1h0m.2 .8h0m.2 .8h0m.6-1.6h0m.1 1.8h0m.3-1.8h0m1 1.5h0m1.4 .8h0m.9-1.8h0m0 1.6h0m1.6 1h0m-9.3 .6h0m-1.1-.9h0m-3.4 1.9h0m-.8-1.2h0m-.6 .1h0m-2.7-.2h0m0-.3h0m.3 3.1h0" stroke="#1DB89C" stroke-width="1" stroke-linecap="round"/>
<path d="M145.1 70.8h0m-2.7-1.3h0m-6.9 5h0m3.2-2.5h0m1.1 1.5h0m1.5 .6h0m.4 0h0m.3-1.4h0m.5 .7h0m0-1h0m.1 1.2h0m.3 .8h0m.4-2.1h0m.2 1.4h0m.2 .3h0m0-1.1h0m.2 .2h0m.1-.9h0m.1 2.3h0m0-1.5h0m.7 .1h0m.2 1.7h0m.2-.5h0m.2-1.8h0m.4 1.2h0m.1 .1h0m.4 1.1h0m.1-1.7h0m.3-.6h0m.4-.2h0m.2 2.5h0m.8-1.9h0m.8 1h0m1 .3h0m.9-.2h0m.6 .9h0m-1.9 .6h0m-.3 1.9h0m-.3-1.6h0m-.4 .9h0m-.3 .8h0m-.7 .1h0m-.2-2.7h0m-.1 2.1h0m-.1-.2h0m-.1-.4h0m-.1 .7h0m-.1-.7h0m-.1 .7h0m0-.4h0m0 .1h0m-.1 .3h0m-.3 .5h0m-.2-.8h0m-.1-1.2h0m-.2 1.8h0m-.3 .2h0m0-2.6h0m-.1 1.1h0m-.1-.3h0m-.1-.1h0m-.1 .6h0m0 1.2h0m-.2 0h0m-.1-.3h0m-.1 .6h0m-.1-2.8h0m-.5 1h0m-.1 .7h0m-.1 1.1h0m-.1-.5h0m-.2-.9h0m-.2-.2h0m-.1 1.6h0m0-2.7h0m-.1 2.1h0m-.2 .7h0m-.3 0h0m0-.3h0m0-2.6h0m-.4 2.3h0m-.2-.5h0m-.1-1.5h0m0 1.3h0m0-.6h0m-.1 .9h0m-.1-1.1h0m-.2-.5h0m-.2 1.6h0m-.1-.6h0m-.2 .1h0m-.2 .5h0m-.3-.8h0m-.6 .3h0m0 .6h0m-.6 .7h0m-1.5-2.7h0m-4.6 .4h0m1.8 3.1h0m3.1 .8h0m.6 0h0m.1-1.3h0m0 2.7h0m.2-1.5h0m.3 .9h0m.2-1.7h0m.3 .8h0m.1 .7h0m.2 0h0m.1-1h0m.5 .4h0m.1 .6h0m.2-.8h0m0 .4h0m.2 0h0m0 .4h0m.1-.9h0m.1-.4h0m.1 .5h0m.1 1.5h0m.9-.7h0m0 0h0m.1 .8h0m.4-2.7h0m0 2.3h0m.3-1.9h0m.2 0h0m.1-.2h0m.2 .3h0m.1 2.1h0m0-1.8h0m.2 .7h0m0 .3h0m0 .3h0m0-.7h0m.1 .8h0m.1-.7h0m.1 .3h0m.5 .6h0m.3-.3h0m.3-2.2h0m.1 2.2h0m.1-1.1h0m.1 1.5h0m.2-1.6h0m.1-.2h0m.1 .5h0m.1 .7h0m.1-1.4h0m0 .6h0m.1-.1h0m.3 .8h0m.1-.4h0m.6-1h0m.4 2.3h0m0-1.2h0m.1 0h0m.1 .8h0m.3-.4h0m.2-1.1h0m.6 1.2h0m.7 0h0m2.2-1.4h0m-.9 3.6h0m0-.2h0m-.9-.7h0m-.2 .8h0m-.1 1.3h0m-.4-2h0m-.1 1h0m-.1-.8h0m-.6 1.1h0m-.1-.7h0m-.4-.3h0m-.5 .4h0m-.3-.8h0m-.4 1.7h0m-.6-2h0m-.1 2.3h0m-.5 0h0m0-.7h0m-.1 1.2h0m-.5-2.4h0m-.5-.3h0m-.1 .7h0m0 .8h0m-.3-.2h0m-.1 1.4h0m-.2-1.6h0m-.2 1.2h0m-.1 .1h0m-.1-2h0m-.2 1.5h0m-.3-.5h0m-.1 .9h0m0-1.4h0m-.1 .1h0m-.2 .6h0m-.1-.6h0m-.2 .6h0m-.4 .3h0m-.1 .7h0m0-.9h0m-.3-1.7h0m0 .4h0m-.1 1.1h0m-.1 1.1h0m-.1-.3h0m-.2-1.2h0m0 0h0m-.2 .6h0m-.4-1.4h0m-.2 2.1h0m-.4 0h0m0-.2h0m-.1-.3h0m-.1 .7h0m-.2-2.2h0m-.1 2.1h0m0-.4h0m0 .6h0m-.1-2.9h0m-.2 .8h0m0 1.8h0m0-2.2h0m0 2.3h0m-.1-.2h0m0 .2h0m-.5-.9h0m-.3 .9h0m-.2-.4h0m0-.9h0m-.5-.7h0m0 1.1h0m-.4-1.5h0m0 1.5h0m0-1.1h0m-.2-.5h0m-1.4 2.7h0m-.6 0h0m-1-1.6h0m.6 4.3h0m.6-1.8h0m.5 .6h0m1.6 .5h0m.3-1.7h0m.1 .8h0m.3-.5h0m.2 .8h0m0 1.1h0m.1-.6h0m.2-.1h0m.5 1.1h0m.8-2.5h0m.1 2.4h0m.1-2.6h0m2.2 .6h0m.8-.1h0m.8 1.3h0m.5-1.4h0m.4-.3h0m.1 1.7h0m.2-1.5h0m.1 .2h0m.5-.1h0m.7-.3h0m.3 1.9h0m0-1.1h0m.4-.7h0m.4 .3h0m.4 .5h0m.5-.7h0m.7 .7h0m-3.3 2h0m0 1.4h0m-.2 .2h0m-.8 0h0m-3.8-1.1h0m-2.9 0h0m-1.8 .3h0" stroke="#1FA553" stroke-width="1" stroke-linecap="round"/>
<path d="M65 124.1h0m0 .4h0m-.6 1h0m-.1-1.9h0m-.5 2.1h0m-.1-2.6h0m-.3 1h0m-.1 .6h0m-.1 .4h0m-.3-.4h0m-.2 .4h0m0-.4h0m-.5-.1h0m-.2-.5h0" stroke="#A03C9C" stroke-width="1" stroke-linecap="round"/>
<path d="M82.5 140.3h0m.9 .3h0m.1-.4h0m.7-1h0m.3 2.1h0m-.6 .5h0m0 .3h0m-.2-.7h0m-.5 1h0m-.2-.4h0m-.2 .6h0m-.1-.4h0m0 .1h0m-.1-.9h0m-.7 .8h0m-.3 .5h0" stroke="#A03C9C" stroke-width="1" stroke-linecap="round"/>
<path d="M63 160.2h0m-.2 .2h0m0 .7h0m-.5-.6h0m0-1.2h0m-.1 2.2h0m-.2-2h0m-.2 .1h0m0 1.8h0m-.1-1.1h0m-.5 .7h0m-.6 .5h0m0-1.6h0m1.9 2.5h0" stroke="#A03C9C" stroke-width="1" stroke-linecap="round"/>
<path d="M50.4 50.2h0" stroke="#333" stroke-width="1.4" stroke-linecap="round" stroke-opacity="0.8"/>
<path d="M47.5 71h0" stroke="#333" stroke-width="1.4" stroke-linecap="round" stroke-opacity="0.8"/>
<path d="M76.5 117.7h0" stroke="#333" stroke-width="1.4" stroke-linecap="round" stroke-opacity="0.8"/>
<path d="M97 107h0" stroke="#333" stroke-width="1.4" stroke-linecap="round" stroke-opacity="0.8"/>
<path d="M99 126h0" stroke="#333" stroke-width="1.4" stroke-linecap="round" stroke-opacity="0.8"/>
<path d="M129 116h0" stroke="#333" stroke-width="1.4" stroke-linecap="round" stroke-opacity="0.8"/>
<path d="M115 86h0" stroke="#333" stroke-width="1.4" stroke-linecap="round" stroke-opacity="0.8"/>
<path d="M133 90h0" stroke="#333" stroke-width="1.4" stroke-linecap="round" stroke-opacity="0.8"/>
<path d="M145 78h0" stroke="#333" stroke-width="1.4" stroke-linecap="round" stroke-opacity="0.8"/>
<path d="M71 76h0" stroke="#333" stroke-width="1.4" stroke-linecap="round" stroke-opacity="0.8"/>
<path d="M59 102h0" stroke="#333" stroke-width="1.4" stroke-linecap="round" stroke-opacity="0.8"/>
<path d="M63.3 124.6h0" stroke="#333" stroke-width="1.4" stroke-linecap="round" stroke-opacity="0.8"/>
<path d="M82.9 141.3h0" stroke="#333" stroke-width="1.4" stroke-linecap="round" stroke-opacity="0.8"/>
<path d="M62 160.5h0" stroke="#333" stroke-width="1.4" stroke-linecap="round" stroke-opacity="0.8"/>
<ellipse cx="59" cy="103.3" rx="8.4" ry="10.4" fill="none" stroke="#C8102E" stroke-width="1.3"/>
<line x1="34.8" y1="22.3" x2="34.8" y2="170.3" stroke="#000" stroke-width="1.2"/>
<line x1="34.2" y1="169.7" x2="154.6" y2="169.7" stroke="#000" stroke-width="1.2"/>
<line x1="31.8" y1="25.8" x2="34.8" y2="25.8" stroke="#000" stroke-width="1.1"/>
<text x="28.3" y="28.3" font-size="8.7" text-anchor="end" textLength="4" lengthAdjust="spacingAndGlyphs">5</text>
<line x1="31.8" y1="77.8" x2="34.8" y2="77.8" stroke="#000" stroke-width="1.1"/>
<text x="28.3" y="80.3" font-size="8.7" text-anchor="end" textLength="4" lengthAdjust="spacingAndGlyphs">0</text>
<line x1="31.8" y1="129.8" x2="34.8" y2="129.8" stroke="#000" stroke-width="1.1"/>
<text x="28.3" y="132.3" font-size="8.7" text-anchor="end" textLength="8.6" lengthAdjust="spacingAndGlyphs">−5</text>
<line x1="51.4" y1="169.7" x2="51.4" y2="172.7" stroke="#000" stroke-width="1.1"/>
<text x="50.1" y="182.1" font-size="8.7" text-anchor="middle" textLength="8.6" lengthAdjust="spacingAndGlyphs">−5</text>
<line x1="80.3" y1="169.7" x2="80.3" y2="172.7" stroke="#000" stroke-width="1.1"/>
<text x="80.3" y="182.1" font-size="8.7" text-anchor="middle" textLength="4" lengthAdjust="spacingAndGlyphs">0</text>
<line x1="109.2" y1="169.7" x2="109.2" y2="172.7" stroke="#000" stroke-width="1.1"/>
<text x="109.2" y="182.1" font-size="8.7" text-anchor="middle" textLength="4" lengthAdjust="spacingAndGlyphs">5</text>
<line x1="138.1" y1="169.7" x2="138.1" y2="172.7" stroke="#000" stroke-width="1.1"/>
<text x="138.1" y="182.1" font-size="8.7" text-anchor="middle" textLength="8.6" lengthAdjust="spacingAndGlyphs">10</text>
<text x="94.3" y="195.4" font-size="9.9" text-anchor="middle" textLength="29.2" lengthAdjust="spacingAndGlyphs">UMAP_1</text>
<text x="9" y="99.1" font-size="9.9" text-anchor="middle" textLength="29.2" lengthAdjust="spacingAndGlyphs" transform="rotate(-90 9 95.5)">UMAP_2</text>
<text x="266.3" y="18.5" font-size="9.4" text-anchor="middle" textLength="19" lengthAdjust="spacingAndGlyphs" font-style="italic" fill="#111">CD4</text>
<path d="M215.9 32.7h0m.1-.2h0m.7-1.7h0m.1 .6h0m.7 .2h0m.3-.4h0m.1-.6h0m.8 .6h0m.4 .2h0m1.7 1.3h0m1.1-.1h0m-.3 1.6h0m-.8-.6h0m-.1 .6h0m-1.6 1.1h0m-.1 .6h0m-.1-.3h0m-.5-1.2h0m-.3 1.2h0m-.3-.9h0m-2.2-.4h0m-1.9-.3h0m.9 2.4h0m1.8 1.8h0m1.2-.4h0m.3 .4h0m0 .5h0m1.6-2.2h0m.1 .9h0m.9 .6h0m0-1.7h0m1-.1h0m.9 1.5h0m.2-1.7h0m1.8 1.2h0m1.7 4.8h0m-1.3-.6h0m-1.8-1.4h0m-.1-.5h0m-1.4 1.4h0m-.1 .1h0m-.2-.8h0m-.4-.8h0m-1.5-.2h0m0 2.4h0m-.3 .2h0m-.2-1.8h0m-.3 1h0m0-1.2h0m-.1-.5h0m-1.2 1h0m-.1-1.2h0m-.2 .2h0m-.1 .5h0m-.1 .9h0m-1.5 0h0m-1.6-.1h0m3.9 2.1h0m.1 0h0m1.1 1.8h0m1.2 .4h0m.3-2.8h0m.1 .5h0m.5 .6h0m.1 .4h0m.7-.4h0m0 1.5h0m1-2.1h0m.1 .5h0m.2 .1h0m.4-1.1h0m.6 1.4h0m2.5-.6h0m3.5 4.4h0m-4 .5h0m0-1h0m-.1-.3h0m-1.5 .4h0m-1-.8h0m-.1 .2h0m-.2 1.2h0m0-2.1h0m-.3 1.6h0m-1.2 .8h0m0-1h0m-.3-1.8h0m-.2 1.8h0m0-.7h0m-.3-.5h0m-.3 2h0m-.1-.8h0m-.7 .3h0m-.1 .7h0m-.1 0h0m-.1-2.1h0m0-.6h0m-.1 .5h0m-.1 1.8h0m-1.2-1.8h0m-.4 0h0m-.3 .4h0m-.2 .7h0m-7.2 3.5h0m.9 .3h0m.8 0h0m.1-.4h0m.3-.3h0m.9-1.8h0m.3 2.6h0m.1-.5h0m.2-.9h0m.4 .4h0m1.9 1.1h0m.2-.2h0m.3-1.6h0m3.1-.4h0m.1 1.3h0m.4-.3h0m.3-.1h0m.5 0h0m.3-.6h0m.1 .9h0m.4-.8h0m.2 0h0m.1 1.4h0m.1 .5h0m0-1.7h0m.1-.3h0m0 1h0m.1 .7h0m.1-.6h0m0-.6h0m.2 .8h0m.2 .5h0m0 0h0m.2-1.5h0m.2 .9h0m.2 .9h0m.2-1.7h0m.7-.9h0m.3 .6h0m.6-.6h0m0 .3h0m.9-.3h0m.2 1.8h0m5.1 .3h0m1.2-.1h0m2.1 3.7h0m-.2-.3h0m-.2-2.1h0m-.7 1h0m-1.5 .2h0m-.2-1.1h0m-.2-.3h0m-.1-.2h0m-.3 .1h0m-.4 .5h0m-2.1-.1h0m-.8 2h0m-1.1-.4h0m-.2-.1h0m-.1-.3h0m-1.1 .3h0m-.4-.5h0m-.7-.4h0m-.3 .1h0m-.4 .5h0m0-.2h0m-.2 .3h0m-.1 .3h0m-.1-2.3h0m-.2 1.9h0m-.1-1.3h0m-.1 1.5h0m0-.4h0m0-1h0m-.5 2.1h0m0-.7h0m0-1.2h0m-.1-.3h0m-.5 1.2h0m-.9 0h0m0-1.1h0m-.8-.3h0m-.6 .8h0m-.2-.4h0m-.7 1.1h0m-.4 .4h0m0-1.5h0m-.4 1.2h0m-1.7-.2h0m-.6-.2h0m-.6 .4h0m-.8-1.2h0m-1-.8h0m-1.4 0h0m-.9 .3h0m2.3 4.6h0m1.3-1h0m.6 1.6h0m.1 .3h0m.1-2.6h0m.5 2.1h0m1-1.6h0m.4 1h0m.2 .9h0m.5-2.1h0m3.5 2.3h0m1.2 .1h0m.9-.4h0m.6-.5h0m.1-1.8h0m0-.2h0m.4 1.6h0m.1-.7h0m.2 1.2h0m.1-.9h0m0 .6h0m.4-1.4h0m1.8 1.6h0m0-.2h0m.3-.4h0m1.5 1.2h0m.5-2.3h0m1.9 .7h0m1.3 1.7h0m0-2.2h0m.7 2.2h0m1.5-.8h0m2.2 2h0m-.5 1.9h0m-.2-.6h0m-.4-.3h0m-.8 .5h0m-.1-.3h0m-.1 .6h0m-.7-.6h0m-.3-.7h0m-1.3-.4h0m-1.8-.8h0m-1.1 .1h0m-1.7 2.3h0m-.2-.2h0m-.6-1.5h0m-.1 .9h0m0 .8h0m-.1-.1h0m-.3-.1h0m-.3-.9h0m-.4 .3h0m-.3 .7h0m-.5-.2h0m0 .1h0m0-.1h0m-.1 .7h0m-.6-.8h0m-.2-2.1h0m-.2 2.7h0m0-1.6h0m-.1-.2h0m-1.4-.2h0m-.1 1.7h0m-.3-2h0m-.3 .5h0m-.4 1.1h0m-.8-.7h0m-.1-1h0m-2.7 .2h0m-.5 1.9h0m-1.1-.1h0m-.4-1.8h0m-.2 1.6h0m0-.9h0m-1.2-.8h0m-.2-.1h0m-.2 .7h0m-.2 .4h0m-.4 1.2h0m-.6-.5h0m-.6-1.9h0m-.2 .9h0m-.4 .9h0m-.3 .2h0m-.1-.7h0m-.6 .2h0m-1.1 .1h0m4.9 2.2h0m4.2 .5h0m.2-.7h0m.1-.2h0m.3-.2h0m3 1.7h0m.5 .8h0m.2-1.6h0m.8-.3h0m1.3 .3h0m1.5-.8h0m.1 0h0m.1-.5h0m.1 .6h0m.7 1.3h0m.2 .5h0m.1-.4h0m.3-1.6h0m.5-.3h0m.3 .6h0m1.5 .2h0m5-.6h0m1 .1h0m1.1 2.2h0m.2-.3h0m1-.6h0m.8 1.1h0m.2-1.1h0m58.3 1h0m.5-1.4h0m.4 1.5h0m.3-1.4h0m.2 .4h0m-.2 3.9h0m-.7-.7h0m-1.4 .3h0m-.1-.2h0m-59.3-.5h0m-6.6-1.2h0m-.1 .2h0m-.3 2.1h0m-1.3-.7h0m-.7 .3h0m-.6-1.8h0m0 .2h0m-.1 .4h0m-2.3 .8h0m-.8-1h0m-1-.4h0m-2.3 1.4h0m-.1-.4h0m-2.1 1.4h0m-.9-1.6h0m0-.1h0m-.5 1.4h0m-.3-.6h0m-.7-1.1h0m-.6-.4h0m0 1.1h0m-.7 .2h0m-.4 0h0m-.4-.3h0m-2.1 .9h0m-1-2.2h0m-.9 .5h0m3 2.4h0m.4-.1h0m.5 2h0m1.1 .9h0m.4-1.5h0m.6 1h0m1.1-1.8h0m0 .9h0m0 .4h0m.6-.6h0m0-1h0m.6 2.3h0m.4-.3h0m.6 .4h0m.2-.4h0m.2-1.8h0m.7 1.1h0m.1-.6h0m.6-1h0m.7 2.1h0m.4-.1h0m0-1.8h0m.2 2.2h0m2.3-1.8h0m.4 2.2h0m.1-.7h0m.2-.5h0m.4 1.3h0m1.5-1.6h0m.7-1.3h0m.2-.1h0m9.9 0h0m.8 2h0m58.4-1h0m1.3-.8h0m16.7 4.6h0m-2.7-1.3h0m-13.4 1.6h0m-.7 .4h0m0-.8h0m0-1.1h0m-.2-.3h0m-.7 1.3h0m0 0h0m-.2-.9h0m-1.1 1.3h0m-2.1 1h0m-52.1-.8h0m-.8-1.1h0m-.2 .9h0m-.1-.8h0m-.7 1h0m-.2-.2h0m-.3-1.4h0m-.2 1.4h0m0-1h0m-.3-.5h0m-.4 1.8h0m-.3-.4h0m-.3 1.1h0m-.2-2.5h0m-3.5 0h0m-7.6 0h0m-.9 .7h0m-.3-.1h0m-1.1-.1h0m-.3 0h0m-.5 1.2h0m-.2-.6h0m-.3 .6h0m-.3-1.8h0m-.8 1h0m-.8-1h0m-.1-.3h0m-.2 1.6h0m-.8-.5h0m-.7 .3h0m-.7-.8h0m-.1 .2h0m-2.5-.6h0m-.2 .6h0m-1.2 1.6h0m-.5-1.8h0m-.1-.3h0m-2.9 2.1h0m-9.4 0h0m9.6 2.7h0m.4 .5h0m.5-2h0m.1 .7h0m1.8 1h0m1.6-.9h0m.4-.2h0m3 1.6h0m.2-.3h0m1.6-2.5h0m1.8 .7h0m.6 1.4h0m.4-.6h0m1.8-1h0m.1-.3h0m.7 2.4h0m2-.7h0m1.4 .9h0m3.7-.6h0m.8 .6h0m1.6-1.3h0m.6-1h0m.4 1.8h0m.1 .4h0m0-1.6h0m.1-.6h0m1.2 1.2h0m.2-.3h0m.3 .4h0m0 1h0m.6-.2h0m0-.7h0m.1-.5h0m.4-1.1h0m0 .5h0m.2 1.5h0m.2-.3h0m.2 .5h0m.1-.3h0m.1-.4h0m.1-.2h0m0-.9h0m.1 2h0m.2-.5h0m.1-1.3h0m.1-.3h0m1.1 2.2h0m1.3-.1h0m1-1h0m46.7 .2h0m.7 .6h0m0-1h0m.1 1.1h0m.6-1.8h0m.5 1.1h0m.1 .2h0m.1-.9h0m1.3 1.5h0m.2-1.5h0m.4 .1h0m0-.8h0m0 1.1h0m.1-.5h0m.4-.7h0m.4 2h0m.3-1h0m1.2 1.2h0m7.6-.2h0m3.2-2.5h0m1.1 1.5h0m1.5 .6h0m.4 0h0m.3-1.4h0m.5 .7h0m0-1h0m.1 1.2h0m.3 .8h0m.4-2.1h0m.2 1.4h0m.2 .3h0m.2-.9h0m.1-.9h0m.1 2.3h0m0-1.5h0m.7 .1h0m.2 1.7h0m.2-.5h0m.2-1.8h0m.4 1.2h0m.1 .1h0m.4 1.1h0m.1-1.7h0m.3-.6h0m.4-.2h0m.2 2.5h0m.8-1.9h0m.8 1h0m1 .3h0m.9-.2h0m.6 .9h0m-1.9 .6h0m-.3 1.9h0m-.3-1.6h0m-.4 .9h0m-.3 .8h0m-.7 .1h0m-.2-2.7h0m-.1 2.1h0m-.1-.2h0m-.1-.4h0m-.1 .7h0m-.1-.7h0m-.1 .7h0m0-.4h0m0 .1h0m-.1 .3h0m-.3 .5h0m-.2-.8h0m-.1-1.2h0m-.2 1.8h0m-.3 .2h0m0-2.6h0m-.1 1.1h0m-.1-.3h0m-.1-.1h0m-.1 .6h0m0 1.2h0m-.2 0h0m-.1-.3h0m-.1 .6h0m-.1-2.8h0m-.5 1h0m-.1 .7h0m-.1 1.1h0m-.1-.5h0m-.2-.9h0m-.2-.2h0m-.1 1.6h0m0-2.7h0m-.1 2.1h0m-.2 .7h0m-.3 0h0m0-.3h0m0-2.6h0m-.4 2.3h0m-.2-.5h0m-.1-1.5h0m0 1.3h0m0-.6h0m-.1 .9h0m-.1-1.1h0m-.2-.5h0m-.2 1.6h0m-.1-.6h0m-.2 .1h0m-.2 .5h0m-.3-.8h0m-.6 .3h0m0 .6h0m-.6 .7h0m-1.5-2.7h0m-4.6 .4h0m-5.3 0h0m-2.3 0h0m-.3 .4h0m-.3 1.1h0m-.6-.9h0m-1.3 1.7h0m-.5-.7h0m-.6-1.1h0m-.5 1.7h0m-.5 .2h0m-43.1-1h0m-3.2-1.2h0m-.2 .3h0m-1.1 1.2h0m-.8-2.1h0m-.1 1.7h0m0 1.2h0m-.9-.3h0m-.8-.9h0m0 .4h0m-.1-1.2h0m-.1 .2h0m-.3 .7h0m-.2-.6h0m-.5 .8h0m0 .5h0m-.5-.6h0m-.5-1.2h0m-.1 0h0m-.4 .5h0m-.4-.4h0m-.1-.3h0m-.2 .4h0m-.4-.6h0m-.9 1.5h0m-4.7 0h0m-1.6 .8h0m-.4-.7h0m-2.3 .6h0m-.5-.6h0m-.3-1.9h0m-.3 1.7h0m-.4-1.3h0m-1.8-.3h0m0 .4h0m-.5 1h0m0-.5h0m-.7 1.7h0m-.5-.9h0m-.4 .7h0m-.8-1.9h0m-.4 .4h0m-.4-.2h0m-.6 1.8h0m-1.3-1h0m-.6-.5h0m-.1-.4h0m-7.2 .7h0m-.4 .1h0m2.8 3.2h0m1.7 .5h0m.9-.8h0m2.1 1.4h0m.3-1h0m.6-.5h0m.7 .8h0m.2-2h0m.6 2.6h0m.9-1.9h0m.2 1.9h0m.4-1.5h0m1.8 1h0m.4-.3h0m1.4-1.4h0m1.2 .1h0m.1 1.2h0m.9-1.3h0m.6 .3h0m.3-.8h0m2.1 1.7h0m4.6 .6h0m1.2-2.2h0m3.3-.1h0m.3 2.3h0m.2 .5h0m.1-2.1h0m.4 1.4h0m.1-.8h0m0 .2h0m.1 1.2h0m.7-1.7h0m.2 .5h0m.1 .1h0m.5-1.1h0m.5 .6h0m45.2 1.6h0m.8-2.5h0m1 1.3h0m.3 .8h0m.2-.3h0m.3-1.2h0m0 .6h0m.1-.1h0m.2 .3h0m.3 .4h0m.2 .1h0m.2-1.5h0m.1 1.3h0m.1-1.6h0m0 2.2h0m.1-1.2h0m0 .5h0m.1-1.3h0m.1-.4h0m.5 2.1h0m0-.3h0m.1-.3h0m.3 .2h0m.1-.5h0m0 .8h0m.1-.8h0m0 .5h0m.6 .1h0m.4 0h0m.3-.8h0m.2 1.2h0m.2-2.3h0m1 1.2h0m3.6 1.4h0m0 .1h0m.8-.7h0m0-.9h0m.6 1.6h0m.2-1.4h0m.3 .7h0m4-1.5h0m.5 1.8h0m.1 .2h0m.3-.1h0m.1-.4h0m1.5-.8h0m.6 .1h0m.6 0h0m.1-1.3h0m0 2.7h0m.2-1.5h0m.3 .9h0m.2-1.7h0m.3 .8h0m.1 .7h0m.2 0h0m.1-1h0m.5 .4h0m.1 .6h0m.2-.8h0m0 .4h0m.2 0h0m0 .4h0m.1-.9h0m.1-.4h0m.1 .5h0m.1 1.5h0m.9-.7h0m0 0h0m.1 .8h0m.4-2.7h0m0 2.3h0m.3-1.9h0m.2 0h0m.1-.2h0m.3 2.4h0m0-1.8h0m.2 .7h0m0 .3h0m0 .3h0m.1 .1h0m.1-.7h0m.1 .3h0m.5 .6h0m.3-.3h0m.3-2.2h0m.1 2.2h0m.1-1.1h0m.1 1.5h0m.2-1.6h0m.1-.2h0m.1 .5h0m.1 .7h0m.1-1.4h0m0 .6h0m.1-.1h0m.3 .8h0m.1-.4h0m1 1.3h0m.1-1.2h0m.1 .8h0m.3-.4h0m.2-1.1h0m.6 1.2h0m.7 0h0m2.2-1.4h0m-.9 3.6h0m0-.2h0m-.9-.7h0m-.2 .8h0m-.1 1.3h0m-.4-2h0m-.1 1h0m-.1-.8h0m-.6 1.1h0m-.5-1h0m-.5 .4h0m-.3-.8h0m-.4 1.7h0m-.6-2h0m-.1 2.3h0m-.5 0h0m0-.7h0m-.1 1.2h0m-.5-2.4h0m-.5-.3h0m-.1 .7h0m0 .8h0m-.3-.2h0m-.1 1.4h0m-.2-1.6h0m-.2 1.2h0m-.1 .1h0m-.1-2h0m-.2 1.5h0m-.3-.5h0m-.1 .9h0m0-1.4h0m-.1 .1h0m-.2 .6h0m-.1-.6h0m-.2 .6h0m-.4 .3h0m-.1 .7h0m0-.9h0m-.3-1.7h0m0 .4h0m-.1 1.1h0m-.1 1.1h0m-.1-.3h0m-.2-1.2h0m0 0h0m-.2 .6h0m-.4-1.4h0m-.2 2.1h0m-.4-.2h0m-.1-.3h0m-.1 .7h0m-.2-2.2h0m-.1 2.1h0m0-.4h0m0 .6h0m-.3-2.1h0m0 1.8h0m0-2.2h0m0 2.3h0m-.1-.2h0m0 .2h0m-.5-.9h0m-.3 .9h0m-.2-1.3h0m-.4-1h0m-.1 .3h0m-.4-.4h0m0 1.5h0m0-1.1h0m-.2-.5h0m0 2.6h0m-1.4 .1h0m-.6-1.8h0m0 1.8h0m-.7-1.7h0m-.2-.4h0m-.1 .5h0m-.4 1.6h0m0-1.7h0m-.3 .9h0m0 .8h0m-.1-2.7h0m-.3 1.8h0m-.3 1h0m-.1-.2h0m-.1 0h0m-.2-2.3h0m-.4 1.1h0m0 1.2h0m-.2-2.6h0m-.1 2.3h0m-.1 .1h0m-.3-.2h0m-.5-.1h0m-.4-2.1h0m0 2.6h0m-.1-.6h0m0 .1h0m0 .6h0m-.1-.2h0m-.2 .1h0m-.4-2.4h0m-.1 1.5h0m-.6 .2h0m0-2h0m-.3 1.7h0m-.8 .4h0m0 .3h0m-.4-.6h0m-.2-1h0m-.4 1.7h0m-.4-.7h0m-.6-.4h0m-1.1-.3h0m-.3-1h0m-.5 1.1h0m-.4 .3h0m-.2 1.1h0m-1.3-1.5h0m-.3 1.1h0m-.3 .1h0m-.5-.1h0m-.2-.4h0m-.1-1.8h0m-.3 2.3h0m-.3-.2h0m-.5 .5h0m-.3-2.7h0m-.2 1h0m-.1 .2h0m-.4 .5h0m-.7 .4h0m-1.1-.6h0m-2.8 1.3h0m-8.3-.5h0m-.3-1.1h0m-.4-.1h0m-.3 .7h0m-.1 .9h0m-.4 .3h0m-.3-.2h0m-1.6-1h0m-23.8-.2h0m-5.5-1.2h0m-.8 2.3h0m-.4-.2h0m-.9-.6h0m0-1.3h0m-.4 1.7h0m-.3-.5h0m-.4-.2h0m-.3 .8h0m-9.4 .3h0m-2.8-1.3h0m-.5-.9h0m-.9 .7h0m-.1 .2h0m-1.5 1.4h0m-.5-2.3h0m-1.1 2.4h0m-1.1-.5h0m-.6-.2h0m-.5 .5h0m-.4-.8h0m-1.7 .3h0m-.5-2h0m-9 4.2h0m14.4-.3h0m.5 0h0m1.9-.4h0m.4 0h0m.2-.6h0m.5 .6h0m.1 1.8h0m.5 .2h0m.3-2h0m.2-.3h0m.2 1.3h0m0-.3h0m.2-.9h0m1.4 0h0m7.8 1.2h0m4.9 .2h0m30.5-1.4h0m.8 1.2h0m.5-.6h0m.4 .7h0m.1 .3h0m.3 .7h0m.1-2.4h0m.1 1.4h0m0-1.6h0m0 .3h0m3.3 1.2h0m2.6-.8h0m1.6 .7h0m3.1 1.3h0m1.1-1.7h0m.1 .8h0m.1-1.4h0m.1 1.3h0m.4-1.4h0m0 .4h0m.2-.7h0m.2 2.2h0m0-.2h0m.6-1.1h0m0-.1h0m1-.9h0m.3 .8h0m.1 .5h0m.6-.6h0m.6 .5h0m.2 1.4h0m.1-2.6h0m.9 1.9h0m.1-1.9h0m1.9 2.9h0m.2-.3h0m.7-1.1h0m.3 .5h0m1.2 .7h0m1.3-.3h0m.5 0h0m0-.8h0m.2 .3h0m.1-1.3h0m.2 1.6h0m.6-.9h0m.2-.9h0m.1 1.3h0m.3-.9h0m.1-.5h0m.1 1.7h0m.1-1.1h0m.5 .1h0m.1-.7h0m.1 .9h0m0-.3h0m.2 .8h0m.4-1.5h0m.1 0h0m.2 .8h0m.1-.6h0m.1 .6h0m0 1.6h0m.2-.8h0m0 .1h0m.3 .3h0m.1-1.3h0m0 1.8h0m0-2.1h0m.1 1.2h0m.2-.4h0m.1-.2h0m.2-.8h0m.3 .9h0m.4 1.4h0m0-.1h0m0-2.1h0m0 2.2h0m.1-2.6h0m.1 .5h0m.2 1.1h0m.2 .8h0m.3-.6h0m.1 .6h0m.1 .4h0m.1-2.2h0m.1-.6h0m.1 1.2h0m.3 0h0m.2 .7h0m.1-1.2h0m.3 2h0m0-.4h0m.3-.3h0m.6-.1h0m.1-.2h0m.3-1.7h0m.1 .8h0m.3-.5h0m.2 .8h0m0 1.1h0m.1-.6h0m.2-.1h0m.5 1.1h0m.6-2.1h0m.2-.4h0m.1 2.4h0m.1-2.6h0m3 .5h0m.8 1.3h0m.5-1.4h0m.4-.3h0m.1 1.7h0m.2-1.5h0m.1 .2h0m.5-.1h0m.7-.3h0m.3 1.9h0m0-1.1h0m.4-.7h0m.4 .3h0m.4 .5h0m.5-.7h0m.7 .7h0m-3.3 2h0m0 1.4h0m-.2 .2h0m-.8 0h0m-3.8-1.1h0m-1.8 0h0m-1.1 0h0m0 1.1h0m-.3-.7h0m0 0h0m0-.1h0m-.1-.4h0m-.4 2h0m-.6-1h0m0-.9h0m-.1 1.7h0m-.3-1.4h0m0 .7h0m-.5 .5h0m-.2-1.2h0m-.2 .1h0m-.1-.4h0m-.3-.2h0m-.5 1.3h0m-.3-.9h0m0 2.2h0m0-.4h0m-.3-.8h0m0 1.2h0m-.1-.8h0m-.4-.3h0m-.1-.8h0m-.3-.8h0m0 1.2h0m-.2-.4h0m-.2 1.1h0m-.1-1.8h0m0 0h0m-.1 .3h0m-.1 1.7h0m0-1.9h0m-.2 2.3h0m-.2-1.7h0m-.3 .2h0m-.1-1.1h0m-.4 2h0m-.3 .2h0m-.2-.5h0m-.1-.5h0m-.4-1.1h0m0 .4h0m-.1 1.2h0m-.1 .6h0m0-2.3h0m-.1 .9h0m-.5-.1h0m-.5 2h0m-.5-.1h0m-.1-2.7h0m-.4 1.3h0m-.2 .4h0m-.2 0h0m-.2-.7h0m-2.1-.7h0m-.8-.1h0m-.4 2.4h0m-1.4-2.7h0m-1 1.3h0m0 1.5h0m-.6-.3h0m-.8-1.9h0m-.5 1.3h0m-.3-.7h0m-.1 .1h0m0-1.3h0m-.5 2.8h0m-.2 .1h0m-.2-1.1h0m-.3 0h0m0 .4h0m-.2-.8h0m-.2-1.3h0m-.1 1h0m-.3-1.2h0m-1.2 1.5h0m-.5-1.1h0m-.1 .7h0m0-.5h0m-.3 1.4h0m-.2-.9h0m-.2 1.7h0m-.8-1.8h0m-.6 .6h0m-1.7-.9h0m-2.2 2h0m-1.3-.6h0m-.6-1h0m-.1-.1h0m-.3 1.8h0m-.4-2.5h0m-.2 .7h0m-.4 1.9h0m0-2.8h0m0 1.2h0m-.3-.1h0m-.9 .3h0m0 .4h0m-.2-1.4h0m-42.9 1.3h0m-3.2-.5h0m-.3-.7h0m-.2-.6h0m-1.8 1.3h0m-.8-.4h0m-.2 .2h0m-.6 .8h0m-1.5-1.8h0m-2.6 0h0m4 5h0m1.1-.4h0m.7 .6h0m48.8-1.4h0m.7-.4h0m.2 1.6h0m.3-1.7h0m.1 .4h0m.3 .1h0m.1 1h0m.2-.8h0m0 .5h0m.8 .3h0m.1 .2h0m.4 0h0m.4 .1h0m.2 .4h0m.1-1h0m.6 1h0m1.4-.6h0m.6-.6h0m1-.8h0m.3 .2h0m.2 1.4h0m.1-.6h0m.2-1.1h0m.2 1.4h0m0-.5h0m.2 1h0m.2-1.3h0m.2 1.3h0m.2-.7h0m.5 1h0m.6-1.9h0m0 .1h0m.2 1.2h0m.1-1.2h0m0 .6h0m0 .2h0m.1-1.6h0m.1 1.1h0m.2 .4h0m.7 .8h0m.1-2.4h0m.3 1.2h0m.5-.9h0m.1-.2h0m.1 .2h0m.2 1.3h0m0-1h0m.5 1.6h0m1.7-2h0m1.3 .2h0m.1 2.2h0m1.2-2.2h0m.7 .5h0m.1 1.4h0m.3 0h0m.3-.8h0m1.8 .7h0m.1 .2h0m.3 .1h0m.1-.4h0m.2-2h0m.2 1.3h0m.2 .1h0m0 1.3h0m.4-2.2h0m.4 1.5h0m.4-.1h0m.1-1.2h0m0 1.9h0m.5-1.8h0m.6-.7h0m1 .3h0m.1 1h0m.1-.9h0m.9 .1h0m0 1h0m.2 .2h0m.1-1.4h0m.2-.4h0m.2 1.9h0m.1-1.9h0m.2 2.1h0m0-1.8h0m.2 .5h0m0-.4h0m.2 1h0m.3 1.3h0m0-1.4h0m0 .2h0m.1 .9h0m.4-1.4h0m0-.4h0m.2 .8h0m.3 1.4h0m0-1.4h0m.2-.7h0m0 1.1h0m.1-1.4h0m.1-.3h0m.5 2.1h0m.2-2.2h0m.1 .4h0m.2 1.5h0m.3 .7h0m.2 .1h0m.1-.1h0m.4-2.7h0m.1 .2h0m.3 2.5h0m.1-1.3h0m.7 0h0m.3 .5h0m1.5-1.2h0m0 1.3h0m.3-1.6h0m7.3 3h0m-5 2h0m-.6 .4h0m-.3-2.4h0m-1.7 1.9h0m-.2-.4h0m-.7-.9h0m-.1 .2h0m-.7 .6h0m-1.5-1.6h0m-.4 1.3h0m0 .3h0m-.7 0h0m0-1.4h0m-.4 1h0m-.1 .1h0m-.1-1.3h0m0 2h0m-.1-1.3h0m-.3 .1h0m-.1 1h0m0-1.1h0m-.8 1.2h0m-.1-.8h0m0 .2h0m-.1-1.2h0m-.6 2.5h0m-.4-1.2h0m0-1.5h0m-.6 1.5h0m-.2-.4h0m-.4-.1h0m-.1 0h0m-.3-1h0m-.9 .2h0m-.5 1.3h0m-.1 .1h0m-.1-1.3h0m-.1 .4h0m-.1 .3h0m-.3-.1h0m-.1 1.7h0m-.3-1.7h0m-.2 1.7h0m-.1-2.2h0m-.1 1.9h0m-.1-.7h0m-.1 .5h0m-.1-.4h0m0 .4h0m-.2-.6h0m0 1.4h0m-.2-1.6h0m-.1 .3h0m0 1.3h0m-.1-.5h0m0-1.1h0m-.2-1.2h0m-.2 2.4h0m-.1-2.4h0m0 .4h0m-.5 1.7h0m0-2h0m-.6 1.1h0m-.2-.2h0m-.1-.8h0m-.1 1.9h0m-.2 .6h0m-.1-.7h0m-.9-.3h0m-.6-.6h0m-.4-.2h0m-2.6-.6h0m-2.7-.4h0m-.8 .1h0m-.5 .5h0m-.5 .1h0m-.1-.6h0m-.2 0h0m-.3 1.8h0m-.2-.5h0m-.2 1.5h0m-.2-.5h0m0-1.7h0m-.1-.3h0m-.6-.1h0m-.3 2h0m0-2.3h0m-.2 1.5h0m-.3 .2h0m-.1-1.5h0m-.9 1.1h0m-.6-1.4h0m-.1 1.8h0m-.3 .2h0m-.5 .7h0m-.1 .3h0m-.1-1.3h0m-.2-1.5h0m-.1 1.9h0m-.6-.9h0m0-.2h0m-.1-.5h0m0 .2h0m-.4 .6h0m-.8 1.4h0m0-1.7h0m-.2 1.2h0m-.3-1.4h0m-.6 1.6h0m-1.2-1.4h0m-.2 .8h0m-.1 .1h0m-.3-.5h0m-.4 .7h0m-2.2-.8h0m-.6 1.2h0m-2.8-.1h0m-1.2 .5h0m-.3-2.6h0m-.6 2.2h0m-.1 .1h0m-.4-.1h0m-1.2-.7h0m-1-.9h0m-2 .7h0m-.3 .5h0m-.3 .3h0m-.4 0h0m-.6-.5h0m-.8-.7h0m-1.7 1.5h0m-8.7 .1h0m-20.9-2.5h0m-2.7 .8h0m-.6 1.7h0m0-1.8h0m.7 2.6h0m.5-.4h0m.3 .7h0m0 1.5h0m.4-.8h0m20.4-1.2h0m.5 1.9h0m1-1.2h0m.1-.3h0m.3-.8h0m.1 .4h0m11.3 1.4h0m.7-1.6h0m1.2 .4h0m.3 .2h0m.1 1h0m1.1-1h0m0 1.4h0m.6-.3h0m.1-1.4h0m.3 1.1h0m.3-.4h0m.3 .4h0m.2-1.4h0m.4 .7h0m.5-.8h0m.9 2.5h0m.5-.3h0m.2-1.6h0m.4 2.3h0m0-2.1h0m.2-.1h0m.1 1.9h0m0-2.3h0m1 2.2h0m.2-1.3h0m.1 1.4h0m.4-2h0m.7 1h0m.7 1h0m.2-2.4h0m.5-.1h0m1.3 .5h0m0 1.8h0m1.6-1.1h0m1.2-1h0m.4 2.1h0m1.2 0h0m.1-1.5h0m1.1-.7h0m.4 2.2h0m0-2.4h0m.3 0h0m.6 1.5h0m.3-.2h0m.5-.8h0m1-.5h0m.5 0h0m4.9 .9h0m3.6-.8h0m.7 .2h0m1.3-.2h0m.9-.1h0m.2 .7h0m.3 .6h0m.4-.3h0m.3-.4h0m.2 1.3h0m.7 .6h0m0-1.6h0m.3-.2h0m.2 1.3h0m.3-2h0m.8 .1h0m.1 1.3h0m.4-1.1h0m.5 .2h0m0 .6h0m.4 1.3h0m0-1.1h0m.1-1.3h0m.1 2.6h0m.2-2.5h0m.5 .7h0m.4 1.4h0m0-2.3h0m.6 1h0m.4 1.9h0m.3-2.3h0m.5 1h0m1.1-.2h0m.6-1h0m.2 .8h0m.2 .8h0m.6-1.6h0m.1 1.8h0m.3-1.8h0m1 1.5h0m1.4 .8h0m.9-1.8h0m0 1.6h0m1.6 1h0m-9.3 .6h0m-1.1-.9h0m-3.4 1.9h0m-.8-1.2h0m-.6 .1h0m-2.7-.2h0m0-.3h0m-13.9 .1h0m-.3 .2h0m-2 1.8h0m-.2-.6h0m-1.5 1h0m-.9-1.3h0m-.1-1.7h0m-.3 1.8h0m0-1.3h0m-.1-.1h0m-.1 .2h0m-.2 .6h0m-.9 1.2h0m-.2 0h0m-.8-1.3h0m0-.9h0m-.1 1.7h0m-.1-.9h0m-.1 1.5h0m0-.7h0m-.8-1.3h0m0-.5h0m0 1.5h0m-.1 1.1h0m-.2-2.6h0m-1.1 2.7h0m0-1.6h0m-.1 .8h0m-.2-1h0m-.2-.1h0m-.4-.7h0m-.1 .7h0m-.1-.5h0m0 2.7h0m-.2-1.3h0m-.1 .2h0m-.1 .4h0m-.3-.5h0m-.2-.8h0m-.1 .1h0m-.1 1.8h0m-1.2-2.8h0m-.7 2.2h0m-.2 .2h0m-.3-1.1h0m-.5 .5h0m-2.6 .9h0m-11.8-1.1h0m-.7-.3h0m-.8-.4h0m-1.5 1.8h0m-.3-1.4h0m-6.4 1.1h0m-9 .5h0m-3.4-1.9h0m-.1-.4h0m-.5-.3h0m-1.7 1.5h0m.8 2h0m.7-.2h0m.4-.1h0m1.1 1.7h0m.2 .5h0m.2 0h0m.5-2.4h0m.9-.1h0m.6 2h0m.1 .3h0m10.5-1.9h0m.3 1.3h0m2.2 .3h0m1.1 .5h0m0-.1h0m.6-2.3h0m.5 .1h0m.2 .2h0m.6-.1h0m.1 .9h0m0-.7h0m0-.1h0m.2 .5h0m.2-.1h0m14.6-.3h0m1.8 .4h0m.2 1.4h0m0 .3h0m.3-1.7h0m.8 1.2h0m.1-2.3h0m.1 1.4h0m.2 .3h0m.1-.6h0m0-.5h0m.8 .7h0m.1 .6h0m.4-1.8h0m.3 .1h0m.5 1.1h0m.2 1h0m0 .2h0m.1-2h0m.7 .8h0m.4 1h0m.3-2.2h0m.1 1.4h0m.1-1.6h0m.3 2.3h0m.1-1.3h0m.2 1.1h0m.4-1.1h0m.2-.9h0m.2 1h0m.6 .8h0m1.1-.5h0m.4-1h0m.7 .9h0m.1-.4h0m.7 .7h0m2-1.6h0m17 .6h0m5.3 5h0m-24.8-1.8h0m-1-.3h0m-1.5 .9h0m-.6 .5h0m-.1-1.9h0m-1.2 1.4h0m0 .5h0m-.7-1.7h0m0 2.5h0m-.4-2h0m-.1 1.4h0m-.2-1.6h0m-.7 1h0m-.8 .4h0m0 .8h0m-.4-1.2h0m0 .3h0m-.5-.1h0m0 0h0m-.2-.8h0m-.2 1.9h0m-.3-2h0m-.1-.5h0m-.1 .5h0m-.2 1.3h0m-.4 .6h0m-.1-.1h0m0-1.6h0m-.3 1.8h0m-.2-.2h0m-.1-.3h0m-.2-.3h0m-.3 .1h0m-.5 .1h0m-.3 .5h0m-.2 0h0m-.6-.6h0m-.4-.8h0m0-.9h0m-.2 1.8h0m-.1-.3h0m-1.7 .9h0m-.1-1.1h0m-.1 .6h0m-8.2 .4h0m-2-.4h0m-.4 .7h0m-.6-1.6h0m-.4 1.2h0m-.7-1.7h0m-.1 2h0m-.3-2.8h0m-.9 2.8h0m-.5-2.3h0m-.8 1.5h0m-.3-.6h0m-.1 .2h0m-.2 .8h0m-.1-1.7h0m-.4-.4h0m-.2 2h0m-.4-1.4h0m-.3 1.7h0m-.1-.5h0m-.7 .5h0m-.1-2h0m-.9 1.3h0m0 .6h0m-.5-2.1h0m-.9 2.3h0m-6.4-.2h0m-.7 0h0m-2.8-1.6h0m-.2-.1h0m0 2.4h0m1.6-.3h0m4 1.5h0m.9 1.2h0m3.9-.2h0m.6-1.7h0m.4 1.9h0m.2-2.5h0m.1 1.5h0m.7-.1h0m.3 .1h0m.1 1.1h0m.5-.1h0m0-.9h0m.3-.1h0m.1 .3h0m0-.6h0m.3-.1h0m.3-1h0m.1 1.1h0m.2 1.5h0m.2-1.2h0m0-1.4h0m.2 1.5h0m.1-1.5h0m.8 2.6h0m.1-.8h0m.1 .3h0m.7-2.2h0m.5 .3h0m.1 2.1h0m.5-.3h0m.9-1.9h0m1.5 1.6h0m.3 .6h0m.5 .2h0m.3-1h0m3.1 1.1h0m1.8-.8h0m3.8 .9h0m1.7-2.7h0m1.5 2.7h0m.1-1.4h0m.5 1.3h0m.1-.4h0m.1-.2h0m.1-1.6h0m0 .7h0m.3-.1h0m.4 1.6h0m0-.4h0m.1-1.4h0m.4-.9h0m.4 2.2h0m.7-1.3h0m0 1h0m.3-1.7h0m.3-.2h0m.3 2.4h0m0-1.9h0m.2-.4h0m.1 1h0m.3-.2h0m.5 1.6h0m.1-2.3h0m1 .5h0m5 .4h0m.4-.8h0m22.4 2.4h0m.5-.4h0m1.1-.2h0m4.1 1.6h0m-.6-.4h0m-1 1.8h0m-.4 .1h0m0-.9h0m-.1-.5h0m0 1.5h0m-.3-2h0m-.1 0h0m-.1 2.4h0m-.4-.1h0m0-2h0m-.1-.7h0m-.2 2.5h0m-.2 .1h0m-.1-.4h0m-.3-1.6h0m-.4 .9h0m-.5-.5h0m-.2 .5h0m-.2 .1h0m-.4 .3h0m-20.2-.9h0m-.7 .5h0m-.1 1.3h0m-1.3 0h0m-.3-.7h0m-1-1.2h0m-3 .3h0m-.3 .8h0m-1.5-1.7h0m-1 2.5h0m-.6-1h0m-.3-.2h0m-.8 1.1h0m-.8-.2h0m-.5-.7h0m-.6 .2h0m-1.3 0h0m0-2h0m-.7 .2h0m-.1 1.1h0m-.2 .5h0m-.1-1.9h0m-.5 2.3h0m0-1.9h0m-.3-.1h0m-.9 1h0m0 .8h0m-.2-.1h0m-.1 .9h0m-.4 0h0m-.1-1.7h0m-.3 .2h0m-.1 1.1h0m-.4-1.5h0m-.7 .9h0m-1.8-.6h0m-1.5 .1h0m0 .9h0m-.3 .5h0m-.5-.8h0m0 .6h0m-1.5-1.9h0m-1 1.1h0m-.6 .9h0m-1.4-2h0m-.5 0h0m-.8 1.1h0m0-1.5h0m-.2 2h0m-.4-1.3h0m-.4 1.6h0m-.4-2.5h0m-.3 .7h0m-.1 .4h0m-.2 1.7h0m0-.1h0m-.2-1.4h0m-.4 1.4h0m0-2.6h0m-.2 0h0m-.2 .6h0m-.1-.5h0m0 .7h0m0 1.5h0m-.2-1h0m0 .4h0m0-1.5h0m-.4 1.3h0m-.4-.1h0m-.3-1.2h0m-.2 .1h0m-.2-.2h0m0 1.9h0m-.3-1.3h0m-.6 1.8h0m-.3-2h0m-.4-.3h0m-.5 0h0m-.2 1.4h0m-.5 0h0m-.9-.8h0m-.5 .6h0m-.2 0h0m-1.6 .2h0m-.6-.5h0m-.3 4.2h0m2.4 .2h0m.8-.3h0m.8-1.7h0m.7-.7h0m2.1 .7h0m.7 .2h0m.2 .9h0m.3-.3h0m.1-1.1h0m.1 2h0m.3-1h0m.6-.1h0m.1-.4h0m.2 .4h0m.1-1.2h0m0 2.6h0m.7-.6h0m.3 .7h0m.1-.5h0m.5 .4h0m.6-.8h0m.1-.7h0m.5-.4h0m.1 2.2h0m.5-1.4h0m.2 1.3h0m.5-.4h0m.1 .2h0m.3-2.4h0m.4 1.5h0m.5-1h0m.4 .5h0m.5 0h0m0 .9h0m.3-1.3h0m.1-.3h0m0 1.6h0m.2-1.1h0m.1 1.2h0m.3-1.6h0m.3 1.2h0m.1-.3h0m0 .6h0m.1-1.2h0m1.1 1.4h0m.3-1.6h0m.6 2h0m0-.6h0m.9 .1h0m1-.9h0m.6-.3h0m.7 1.6h0m1-.4h0m.2-1.1h0m.1-.8h0m.7 .9h0m.7 .1h0m0-1.1h0m.3 1h0m.2-1.3h0m.5 .6h0m.9 .9h0m.4-.9h0m.7 0h0m.5 2.3h0m5.9-.6h0m.2-1.6h0m1.5 .2h0m.7 .5h0m.7-.3h0m.2 .9h0m.3-1.7h0m.2 .8h0m.1-.1h0m.1 1.2h0m0 .1h0m0-.8h0m.2 0h0m.4-.2h0m.3-.9h0m.2 1.2h0m19.9 .5h0m1.2-2h0m.5 .9h0m0 .8h0m.4 .2h0m.8-.9h0m.1 1.7h0m0-1h0m0-1.5h0m.5 1.6h0m.3 .1h0m.6-.5h0m.1-.2h0m.1 .3h0m.1-.9h0m.5 1.9h0m.1-2.6h0m.4 1.6h0m.7 1h0m-.1 3.2h0m-.1-2.5h0m-.5-.1h0m-.1 1.8h0m-.4-1.1h0m-.2-.8h0m-.4 1.8h0m-.2-1h0m-.3-.3h0m-.1 1.1h0m-.2 .3h0m-.5-.3h0m0-.6h0m-1.5 1.9h0m-18.8-.7h0m-2.3 .4h0m-.6-1h0m-.9 .3h0m-.8-.6h0m0-1.3h0m-.1 1.7h0m-.2 .7h0m-.3-1h0m-.8-1h0m-.4 0h0m-.8 .2h0m-9.6 .1h0m-.9 0h0m-.6 1.2h0m-.4-2h0m-.7 1.4h0m-.4 .9h0m-2.4-1.3h0m-.6 1.7h0m-.4-1.6h0m-.2 1.9h0m0-1.7h0m-.2-.9h0m-1 .6h0m-.3 .2h0m-.2 .1h0m-.1-1.1h0m-.2 1.1h0m-.1-.9h0m-.1 1.5h0m-.5-1.1h0m0-.7h0m-.2 2.4h0m-.2-1.7h0m-.5-.5h0m-.6 .9h0m-.1-.6h0m0 2.1h0m-.8-1.6h0m-.1 .8h0m-.4-.4h0m-.1 .5h0m0-.8h0m-.3 .9h0m0-1.2h0m-.4-.1h0m0 0h0m-.3 1.9h0m-.4-.3h0m-.4-1h0m-.1 .1h0m0-1.2h0m-.2 2.5h0m-.4-1.5h0m-.1 1h0m0-.3h0m-.4-.4h0m-.6 .6h0m-.2-2h0m-.3 1.3h0m-.9-.9h0m-.1 2h0m-.1-.1h0m-.3-2h0m-.3-.4h0m0 .3h0m-.4 2.5h0m-.5-.3h0m-1-.9h0m-.2-1.2h0m-.4 1.7h0m-.4-2.1h0m-.1 2.5h0m-.8 3.2h0m1.5-1.6h0m.1 1.5h0m.3-1.3h0m0 .5h0m0-1.9h0m.7 2.1h0m.1 .8h0m.1-1.9h0m.1 .4h0m.6 1.5h0m.3-1.2h0m.3-1.3h0m1.3 .7h0m.1 1.4h0m.5 .2h0m1.6-1.1h0m.3-.8h0m.1 .3h0m.3-.8h0m.4-.2h0m.4 1.4h0m.4 .8h0m.1-2.3h0m.2 2.2h0m.5-1.7h0m.7 .2h0m.8 1.8h0m.4-1.3h0m.3 1.7h0m.7-1.1h0m.3 .8h0m.4-1.8h0m1-.5h0m.1-.1h0m.1 .2h0m.6 0h0m.4 1.5h0m.1-.2h0m1-.6h0m1.1 .8h0m13.6-1.9h0m1.7 2.7h0m.8-2.7h0m.1 2.3h0m.1-.7h0m.7 1.4h0m.4-2.2h0m.1 1.7h0m.2-2.4h0m.3 1.5h0m.2-.7h0m.2 1.2h0m.1 .1h0m0 .5h0m.3-2h0m.2 2h0m1.6-.7h0m21.5-1.5h0m-23.5 5.1h0m-.9-1.1h0m-.4-.9h0m-.3 2h0m-.2-.6h0m-1.1-1.2h0m-.1 1h0m-.2 .4h0m-.2 .1h0m-.5 .1h0m-.1 .1h0m-.1-1.9h0m-.4 1.4h0m-.1-1.2h0m-.6 .7h0m-.4 .3h0m0-1.7h0m-.2 2.9h0m-.6-1.2h0m-.4-.6h0m-.2 1.5h0m-.2 .3h0m-.2-.9h0m-.7 .4h0m-.3 0h0m-.4-.1h0m-7.3 .6h0m-3.3-2.5h0m-.3-.1h0m-1.6-.3h0m-2.7 .7h0m-4.5 .8h0m-.3-1.6h0m-.4 1.2h0m-.6-1h0m0 2.4h0m-.3-.9h0m-.3-1.7h0m-.3 1.2h0m-.4-1.1h0m0 2.8h0m-.1-.1h0m-.1-.1h0m-.4-1.3h0m0-.9h0m0 .4h0m0 1.1h0m-.1-.4h0m-.3 .8h0m-.1-1.1h0m-.2 0h0m-.2-.5h0m0 .9h0m-.1 .1h0m-.5 .7h0m-.7 .4h0m-.2-2.1h0m-.4 1.9h0m-.1-.6h0m-.4-1.3h0m-1.2-.7h0m-.2 2.8h0m-.6-1.1h0m-1.8 .7h0m-.2-1.7h0m-2.4 .3h0m0 .4h0m-.6 1h0m-.1-1.9h0m-.5 2.1h0m-.1-2.6h0m-.3 1h0m-.1 .6h0m-.1 .4h0m-.3-.4h0m-.2 .4h0m0-.4h0m-.5-.1h0m-.2-.5h0m4.9 3.8h0m1.3-.3h0m1.6-.1h0m.4 .3h0m0-.5h0m.7 1.4h0m.1 .3h0m1-2.6h0m.2 1.4h0m.6 .2h0m.4-.4h0m.1 0h0m.1-1.4h0m.8 2.5h0m1.4-2.4h0m.1 .4h0m.3 .4h0m.3-.8h0m0 .1h0m0 1.1h0m.3 1.5h0m5.8-1.4h0m.4 0h0m7.6-.2h0m.1 1.4h0m.7-.1h0m.5-1.2h0m1.2 .6h0m.1 .8h0m.5-.4h0m.1 .2h0m1.2-2.5h0m.4 1.6h0m.2 .7h0m.2 .4h0m.4-.4h0m.1-1.4h0m.1 0h0m.4 1h0m2 .6h0m.3-1.4h0m.2 .9h0m.1-2.1h0m.4 2.1h0m0-1.9h0m.3 1.5h0m.4-.4h0m.4-.8h0m0 .6h0m.2 1.5h0m.2-1.2h0m.4-.3h0m.2 .3h0m.2 .1h0m.6 0h0m.2-.6h0m.3-.8h0m.7 2.3h0m.2-2h0m.1-.4h0m0 .9h0m.5 1.4h0m.7-1.4h0m.2 1.2h0m.1-.5h0m-5.2 1.7h0m-.3 1.1h0m-.3 .9h0m-1.6-.2h0m-1.4-1.8h0m-.2-.3h0m-.4 .7h0m-.7 .2h0m-.9 0h0m-.4-.7h0m-.3 .5h0m-.3-.7h0m-1.9 .4h0m-.3 1.9h0m-1-1.7h0m-.4-.3h0m-17.4 .7h0m-.1-.3h0m-.2 1.8h0m-.5-1.1h0m-.5-1.3h0m-.3 1.9h0m0-.8h0m-.3 .9h0m-.3-1.1h0m-.3-.6h0m-.6 1.6h0m-.5-1.1h0m-1.2 2.8h0m1.9 .8h0m.1-1.2h0m.4 1.4h0m.3-.7h0m.2-.7h0m.3-.4h0m.4 1.7h0m.1-.5h0m1.6-.9h0m1 1.7h0m-4.2 1.8h0m12.7 4.5h0m.9 .3h0m.1-.4h0m.7-1h0m.3 2.1h0m-.6 .5h0m0 .3h0m-.2-.7h0m-.5 1h0m-.2-.4h0m-.2 .6h0m-.1-.4h0m0 .1h0m-.1-.9h0m-.7 .8h0m-.3 .5h0m-18.6 17.5h0m-.2 .2h0m0 .7h0m-.5-.6h0m0-1.2h0m-.1 2.2h0m-.2-2h0m-.2 .1h0m0 1.8h0m-.1-1.1h0m-.5 .7h0m-.6 .5h0m0-1.6h0m1.9 2.5h0" stroke="#f0f0f0" stroke-width="1" stroke-linecap="round"/>
<path d="M220.6 34.3h0m-8.5 14.5h0m9.9 1.8h0m.1 3h0m-4-1.2h0m-3.9-1.4h0m1.9 4.5h0m.2 .8h0m.3 0h0m4.8-1.3h0m2.5 1.3h0m.5 2.7h0m-8 .1h0m-4.9-1.5h0m7.3 3.6h0m.4 .9h0m11.7 3.6h0m-2.7-1.3h0m-6.1 .6h0m-4.6 1.3h0m2 1.2h0m.6-.9h0m1.1 .9h0m18.6 2.8h0m-15.8-1h0m-.5 .7h0m-3.8 1.3h0m-1-1.2h0m6.2 3h0m72.1 2.3h0m-57.4 2.2h0m-10.4 .1h0m-5.1-1.4h0m-.1-.1h0m-5.9 .5h0m-4.7 2h0m10.6 1.1h0m2.6-1.3h0m1.8-.2h0m3.1 1.3h0m65.6-.2h0m17.7-.8h0m4.1 1h0m.8 2.5h0m-9.3-1.1h0m-1.3 2.3h0m-7.2 .7h0m-73.2-1h0m-7-1h0m-.2 .8h0m5.1 2.7h0m6.8-.2h0m.7-1.3h0m-5.4 3.9h0m-.9 7.1h0m68 1.1h0m3.2 2.3h0m4.4-1h0m-37 2.1h0m-25.3 2.5h0m25.2 2.5h0m-32.2 3.3h0m-1-2.2h0m-1.9-.4h0m1 3.7h0m.7-.6h0m13.1 2.5h0m16-1.6h0m3.6 4.3h0m-23.1 .8h0m33.2 1.4h0m-30.4 6.1h0m.7 1h0m3.9 .2h0m-7.7 4.5h0m29.9-.9h0" stroke="#c06771" stroke-width="1.1" stroke-linecap="round" stroke-opacity="0.85"/>
<path d="M219.3 46.4h0m-.6 2.3h0m-.5 10.7h0m-3.6 .1h0m-.4-2.1h0m-3.9 2.3h0m.8 2.6h0m16.3-2h0m.4 1.4h0m2.4 3.9h0m-9.2-1.2h0m-5.1 .4h0m-.3-.3h0m-3.4 1h0m-1.3-1h0m9.1 2.5h0m1.1 .9h0m2.9 3.8h0m-.6-.9h0m-1-.7h0m-4.9 .8h0m5.2 3h0m18.5-.9h0m48.9-.3h0m24.5 .2h0m-92.5 4.1h0m5.3 2.7h0m1.1-1.1h0m86.6 .9h0m3.4-1h0m-9.5 2.6h0m-78.4 .7h0m-2.7 2.2h0m-4.9-1.3h0m-3-.2h0m2.1 2.9h0m.1 .3h0m0 .8h0m79-1.6h0m-71 7.6h0m47.8-1.5h0m5.8 1.4h0m15.5-.3h0m9.1 3.5h0m-10.8-1.7h0m-12.5-.7h0m-55.8 4.6h0m-2 3.2h0m3.2 3.4h0m15.9-1.7h0m25.4 5.8h0m3.6 4.7h0m-36.1 .8h0m34.7 2.7h0m4.3 6.7h0m-1.9 0h0m-25.4 .2h0m-8 2.7h0m23.6 .5h0m.1 2h0m4.2 .8h0m-3.5 .5h0m2 2h0" stroke="#b25577" stroke-width="1.1" stroke-linecap="round" stroke-opacity="0.85"/>
<path d="M219 40.1h0m-5.7 5h0m2.6 5.3h0m6.4-1.2h0m.2 .2h0m-7.2 1.8h0m-5.1 5.8h0m11.5-.6h0m7.5 2.9h0m-11.3 0h0m4.2 3.1h0m-3.3 5.1h0m3.6 .6h0m13.2-1.9h0m-20.2 8.6h0m1.8-2.2h0m4.5 1h0m.5-1.3h0m2.3 1.2h0m18.5 3.9h0m-14.9-1h0m-6.6 3.5h0m.2-.5h0m2.5 .3h0m5 2.2h0m-3.9 .4h0m-.2-1h0m-3.9 .4h0m-.1-.5h0m1.2 4.9h0m4.2-1.7h0m47.5 .7h0m39.2-.4h0m-.8 2.9h0m-79.3 .1h0m-6.4 .8h0m1.4 4.3h0m.8 5.5h0m44.8 3.6h0m-42.8 .4h0m2.1 4.7h0m.9 1.2h0m4.6 8.7h0m19.1 0h0" stroke="#9e417e" stroke-width="1.1" stroke-linecap="round" stroke-opacity="0.85"/>
<path d="M218.5 35.5h0m-2.1 3.3h0m2.4-.6h0m1.3 2.3h0m-2-1.3h0m-.7 .9h0m-1.4 0h0m9 7.2h0m-13.6 2.1h0m1-.4h0m2 2h0m-5.3 2.1h0m18.7 3.2h0m-6.3 3.1h0m-5.1 3h0m.5 .5h0m8.9-.8h0m2.3-1.6h0m-15.2 4.3h0m2.1 2.6h0m2.1-.6h0m2.3-.6h0m4.1 .6h0m.9 1.2h0m3.6-1.8h0m-10.7 2.9h0m-.3 0h0m-2.2 .8h0m1 4.1h0m6.1-1.3h0m73.6 1.8h0m0 2.4h0m-67.2-1.3h0m-1.6 .7h0m-5.7 .4h0m-2.1-.4h0m25.1 2.6h0m58.9 2.1h0m5.7 1.8h0m-14.3 .4h0m-65.5 .8h0m-1.7-2.3h0m-1.4 .8h0m-2.9 .9h0m-3-1.5h0m3.5 5h0m.3-2.8h0m2.1 2.6h0m3.1-2h0m79.7 3.8h0m-5-.2h0m-.8-.7h0m-6 1.7h0m-71.1 .3h0m-1.9-2.4h0m7.1 3.8h0m.2-.9h0m47 2h0m31 1.8h0m-8 1.2h0m-35.3 .7h0m-1.1-.9h0m-36.4 3.8h0m3.5 5.8h0m43.7-2.1h0m.9 17.8h0m-14.6 7.1h0m9.8 1.5h0" stroke="#cd796a" stroke-width="1.1" stroke-linecap="round" stroke-opacity="0.85"/>
<path d="M215.3 38.4h0m.3 33.6h0m8.9 .5h0m2.7 23.3h0m-.5 2.8h0m1.5-1.7h0m40.5 2.5h0m-39 3h0m.5 1.2h0m2.5 .7h0m.4 1.3h0m-1.1 0h0" stroke="#751c86" stroke-width="1.1" stroke-linecap="round" stroke-opacity="0.85"/>
<path d="M219.4 69.6h0m87.4 18.3h0m-79.5 7.2h0m1.6 2.4h0m-.5 3.4h0m44.2 18.7h0m-28.6 7.8h0" stroke="#2c0e73" stroke-width="1.1" stroke-linecap="round" stroke-opacity="0.85"/>
<path d="M223.2 79.8h0m4.2 7.5h0m3.8 18.5h0" stroke="#460f7f" stroke-width="1.1" stroke-linecap="round" stroke-opacity="0.85"/>
<path d="M222.4 44h0m4.9 17.4h0m70.1 4.4h0m11.5 29.1h0m-81.6 1.8h0m1.5 4.7h0m4.3 4.2h0" stroke="#5e1284" stroke-width="1.1" stroke-linecap="round" stroke-opacity="0.85"/>
<path d="M311 83.6h0m-80.4 17.3h0m-.8 5h0" stroke="#892d83" stroke-width="1.1" stroke-linecap="round" stroke-opacity="0.85"/>
<path d="M229.2 101.7h0" stroke="#100d66" stroke-width="1.1" stroke-linecap="round" stroke-opacity="0.85"/>
<line x1="205.4" y1="22.3" x2="205.4" y2="170.1" stroke="#000" stroke-width="1.2"/>
<line x1="204.8" y1="169.5" x2="325.7" y2="169.5" stroke="#000" stroke-width="1.2"/>
<line x1="202.4" y1="25.8" x2="205.4" y2="25.8" stroke="#000" stroke-width="1.1"/>
<text x="198.9" y="28.3" font-size="8.7" text-anchor="end" textLength="4" lengthAdjust="spacingAndGlyphs">5</text>
<line x1="202.4" y1="77.8" x2="205.4" y2="77.8" stroke="#000" stroke-width="1.1"/>
<text x="198.9" y="80.3" font-size="8.7" text-anchor="end" textLength="4" lengthAdjust="spacingAndGlyphs">0</text>
<line x1="202.4" y1="129.8" x2="205.4" y2="129.8" stroke="#000" stroke-width="1.1"/>
<text x="198.9" y="132.3" font-size="8.7" text-anchor="end" textLength="8.6" lengthAdjust="spacingAndGlyphs">−5</text>
<line x1="222.3" y1="169.5" x2="222.3" y2="172.5" stroke="#000" stroke-width="1.1"/>
<text x="221" y="181.9" font-size="8.7" text-anchor="middle" textLength="8.6" lengthAdjust="spacingAndGlyphs">−5</text>
<line x1="251.2" y1="169.5" x2="251.2" y2="172.5" stroke="#000" stroke-width="1.1"/>
<text x="251.2" y="181.9" font-size="8.7" text-anchor="middle" textLength="4" lengthAdjust="spacingAndGlyphs">0</text>
<line x1="280.1" y1="169.5" x2="280.1" y2="172.5" stroke="#000" stroke-width="1.1"/>
<text x="280.1" y="181.9" font-size="8.7" text-anchor="middle" textLength="4" lengthAdjust="spacingAndGlyphs">5</text>
<line x1="309" y1="169.5" x2="309" y2="172.5" stroke="#000" stroke-width="1.1"/>
<text x="309" y="181.9" font-size="8.7" text-anchor="middle" textLength="8.6" lengthAdjust="spacingAndGlyphs">10</text>
<text x="265.5" y="195.4" font-size="9.9" text-anchor="middle" textLength="29.2" lengthAdjust="spacingAndGlyphs">UMAP_1</text>
<text x="180.7" y="99.1" font-size="9.9" text-anchor="middle" textLength="29.2" lengthAdjust="spacingAndGlyphs" transform="rotate(-90 180.7 95.5)">UMAP_2</text>
<defs><linearGradient id="g3276" x1="0" y1="0" x2="0" y2="1"><stop offset="0" stop-color="#0d0887"/><stop offset="0.13" stop-color="#4c02a1"/><stop offset="0.25" stop-color="#7e03a8"/><stop offset="0.38" stop-color="#a92395"/><stop offset="0.5" stop-color="#cc4778"/><stop offset="0.63" stop-color="#e56b5d"/><stop offset="0.75" stop-color="#f89441"/><stop offset="0.88" stop-color="#fdc328"/><stop offset="1.0" stop-color="#f0f921"/></linearGradient></defs>
<rect x="327.6" y="85.4" width="5" height="28.4" fill="url(#g3276)"/>
<line x1="327.6" y1="97.9" x2="328.7" y2="97.9" stroke="#fff" stroke-width="0.5"/>
<line x1="331.5" y1="97.9" x2="332.6" y2="97.9" stroke="#fff" stroke-width="0.5"/>
<line x1="327.6" y1="105.6" x2="328.7" y2="105.6" stroke="#fff" stroke-width="0.5"/>
<line x1="331.5" y1="105.6" x2="332.6" y2="105.6" stroke="#fff" stroke-width="0.5"/>
<text x="327.6" y="82.7" font-size="5.9" textLength="15.5" lengthAdjust="spacingAndGlyphs">Exprs</text>
<text x="334.8" y="92.4" font-size="6.4" textLength="8.4" lengthAdjust="spacingAndGlyphs">1.5</text>
<text x="334.8" y="100.2" font-size="6.4" textLength="8.4" lengthAdjust="spacingAndGlyphs">1.0</text>
<text x="334.8" y="107.9" font-size="6.4" textLength="8.4" lengthAdjust="spacingAndGlyphs">0.5</text>
<text x="334.8" y="115" font-size="6.4" textLength="8.4" lengthAdjust="spacingAndGlyphs">0.0</text>
<line x1="392.7" y1="20.1" x2="392.7" y2="48.3" stroke="#000" stroke-width="1.2"/>
<line x1="390" y1="48.3" x2="396" y2="48.3" stroke="#000" stroke-width="1.2"/>
<line x1="389.6" y1="23.5" x2="392.7" y2="23.5" stroke="#000" stroke-width="1"/>
<text x="387.1" y="26.4" font-size="8" text-anchor="end" textLength="13" lengthAdjust="spacingAndGlyphs">125</text>
<line x1="389.6" y1="33.1" x2="392.7" y2="33.1" stroke="#000" stroke-width="1"/>
<text x="387.1" y="36" font-size="8" text-anchor="end" textLength="13" lengthAdjust="spacingAndGlyphs">120</text>
<line x1="389.6" y1="42.5" x2="392.7" y2="42.5" stroke="#000" stroke-width="1"/>
<text x="387.1" y="45.4" font-size="8" text-anchor="end" textLength="13" lengthAdjust="spacingAndGlyphs">115</text>
<line x1="392.7" y1="57.7" x2="392.7" y2="71.5" stroke="#000" stroke-width="1.2"/>
<line x1="390" y1="57.7" x2="396" y2="57.7" stroke="#000" stroke-width="1.2"/>
<line x1="390" y1="71.5" x2="396" y2="71.5" stroke="#000" stroke-width="1.2"/>
<line x1="389.8" y1="60.9" x2="392.7" y2="60.9" stroke="#000" stroke-width="0.9"/>
<line x1="389.8" y1="64.2" x2="392.7" y2="64.2" stroke="#000" stroke-width="0.9"/>
<line x1="389.8" y1="67.4" x2="392.7" y2="67.4" stroke="#000" stroke-width="0.9"/>
<line x1="389.8" y1="70.4" x2="392.7" y2="70.4" stroke="#000" stroke-width="0.9"/>
<text x="387.1" y="59.9" font-size="7.6" text-anchor="end" textLength="7.8" lengthAdjust="spacingAndGlyphs">90</text>
<text x="387.1" y="66.5" font-size="7.6" text-anchor="end" textLength="7.8" lengthAdjust="spacingAndGlyphs">80</text>
<text x="387.1" y="73.3" font-size="7.6" text-anchor="end" textLength="7.8" lengthAdjust="spacingAndGlyphs">70</text>
<line x1="392.7" y1="82.2" x2="392.7" y2="169.8" stroke="#000" stroke-width="1.2"/>
<line x1="390" y1="82.2" x2="396" y2="82.2" stroke="#000" stroke-width="1.2"/>
<line x1="389.6" y1="83.6" x2="392.7" y2="83.6" stroke="#000" stroke-width="1"/>
<text x="387.1" y="86.9" font-size="8" text-anchor="end" textLength="8.6" lengthAdjust="spacingAndGlyphs">60</text>
<line x1="389.6" y1="112.1" x2="392.7" y2="112.1" stroke="#000" stroke-width="1"/>
<text x="387.1" y="115.4" font-size="8" text-anchor="end" textLength="8.6" lengthAdjust="spacingAndGlyphs">40</text>
<line x1="389.6" y1="140.7" x2="392.7" y2="140.7" stroke="#000" stroke-width="1"/>
<text x="387.1" y="143.9" font-size="8" text-anchor="end" textLength="8.6" lengthAdjust="spacingAndGlyphs">20</text>
<line x1="389.6" y1="169.2" x2="392.7" y2="169.2" stroke="#000" stroke-width="1"/>
<text x="387.1" y="172.5" font-size="8" text-anchor="end" textLength="4" lengthAdjust="spacingAndGlyphs">0</text>
<line x1="392.1" y1="169.2" x2="510.5" y2="169.2" stroke="#000" stroke-width="1.3"/>
<line x1="392.7" y1="166.6" x2="506.5" y2="166.6" stroke="#000" stroke-width="1.3"/>
<line x1="392.8" y1="169.2" x2="392.8" y2="171.8" stroke="#000" stroke-width="1"/>
<text x="390.6" y="182" font-size="7.6" text-anchor="middle">−4</text>
<line x1="421" y1="169.2" x2="421" y2="171.8" stroke="#000" stroke-width="1"/>
<text x="418.8" y="182" font-size="7.6" text-anchor="middle">−2</text>
<line x1="449.2" y1="169.2" x2="449.2" y2="171.8" stroke="#000" stroke-width="1"/>
<text x="449.5" y="182" font-size="7.6" text-anchor="middle">0</text>
<line x1="477.4" y1="169.2" x2="477.4" y2="171.8" stroke="#000" stroke-width="1"/>
<text x="477.4" y="182" font-size="7.6" text-anchor="middle">2</text>
<line x1="505.6" y1="169.2" x2="505.6" y2="171.8" stroke="#000" stroke-width="1"/>
<text x="505.6" y="182" font-size="7.6" text-anchor="middle">4</text>
<text x="451.9" y="196.3" font-size="9" text-anchor="middle" textLength="52.3" lengthAdjust="spacingAndGlyphs">log2foldchange</text>
<text x="366.2" y="98.9" font-size="9" text-anchor="middle" textLength="45.8" lengthAdjust="spacingAndGlyphs" transform="rotate(-90 366.2 95.7)">-log10pvalue</text>
<path d="M451.9 104.3h0m5.2 .2h0m-1.8 2.5h0m2.6 6.8h0m-6.5 1.2h0m2.3-.2h0m1 2h0m5.9 2.4h0m-.3-1.3h0m-1.6 1.5h0m-1.2-1h0m-5.5 2.1h0m3.1 .3h0m.7-.1h0m1.2-.1h0m.1-.3h0m3.8 2.2h0m-7 1.5h0m-1.9 1.2h0m2 1h0m6.2 2.2h0m.7 .7h0m-1.2 2.6h0m-7.3 2.1h0m3.9-.1h0m-1.5 3.8h0m3.6 1.5h0m3.3 1h0m-4.4 2.2h0m-.2 1.7h0m-1.8-1.4h0m-.5 4.2h0m5.7-.2h0m4.5 3.1h0m-1.2 .3h0m-.7-2.4h0m-1.1 .7h0m-5.8 .4h0m-.1 1.2h0m-.2 .2h0m0-.7h0m-.4 .6h0m-2.3-.4h0m-.2-.3h0m-1.2 .3h0m-.7-.8h0m-5.9 4h0m6.3-2.3h0m.1-.2h0m.5 2.8h0m.2-.6h0m.8 .2h0m.2-.8h0m.9-1.2h0m.4 .1h0m.1 1.1h0m0 .3h0m.1-1.5h0m.2 .3h0m2.1 1.8h0m.3-2.7h0m1.8 2.9h0m2.7-.3h0m4-1.1h0m.8 .4h0m-5.1 2.4h0m-.8-.9h0m-1.9 .4h0m-.6-.4h0m-.1 .3h0m-.7-.4h0m-.6 1.6h0m-.1 .5h0m-.8 .1h0m-.2-1.1h0m0 .9h0m-.2-1.9h0m-1.5 1.9h0m-.1 .5h0m-.1-.7h0m-.5 .7h0m-.5-.8h0m-.1-.7h0m-.1-.2h0m-.7 .6h0m-.4 .6h0m-.1-1.7h0m-.1 .6h0m-.2-.7h0m-4.7 2.4h0m-3.7 0h0m-.7 .1h0m-4.8-2.6h0m-.3 .9h0m-1.2-1.2h0m-1.7 .9h0m-3 .9h0m-.7 3.6h0m6.3-.2h0m4.3-1.4h0m.8 1.5h0m1-1.5h0m2.5 1.6h0m1.1-2.2h0m4.4 2.7h0m0-1.5h0m.4-1.4h0m.1 1.7h0m0-.7h0m.2 1h0m0-.7h0m1.1-.4h0m.1 1h0m.1-1.3h0m.1 .5h0m.6 .5h0m0 .7h0m.2-2.3h0m.3 .3h0m.7 1.6h0m.1-1.8h0m.2 1.2h0m0 1h0m.2-1.9h0m.3 .4h0m.2 1.1h0m0-1.6h0m.2 0h0m.1 .7h0m.1 1h0m.2-1h0m0 1.3h0m.3-.3h0m.2-.4h0m.1-.4h0m0 1.2h0m.1 .1h0m.3-1.3h0m.2-.7h0m0 .5h0m0 .7h0m.1 .5h0m.3 .5h0m.2-1.4h0m0 .7h0m.8-.5h0m.1 .8h0m.9 .4h0m.9-.6h0m2.2-1.7h0m6.2-.5h0m2.2 4.1h0m-3.5-.8h0m-6.8 2h0m-.6 .4h0m-.2-.3h0m-.4-1h0m-.6-.3h0m-.1 1.6h0m-.3-2.3h0m-.2 .2h0m-.1 .1h0m-.5 1.5h0m-.2-.5h0m-1.1 .1h0m0 .4h0m-.1-2h0m-.2 2.2h0m-.1-2.4h0m0 2.5h0m-.2-2.5h0m0 2.9h0m-.1-.2h0m0-1.2h0m-.3-1.2h0m-.1-.3h0m0 2.9h0m-.5-2.6h0m-.6 2.1h0m-.1-.4h0m0-1.4h0m0 .1h0m-.2 1.3h0m-.3-.7h0m-.1 .5h0m0 .6h0m-.2-2h0m-.1 1.3h0m0-1.6h0m-.1 .7h0m-.1 2.2h0m-.2-2.6h0m0 1.5h0m0 .2h0m-.2 .5h0m-.1-1.3h0m-.3 1.5h0m0-2.3h0m-.2 .9h0m-.4-1h0m-.2 2.3h0m-.2-1.7h0m-.2 .5h0m-.3 .6h0m-.5-.5h0m-5.1 .6h0m0 .3h0m-.7-2.4h0m-.3 2.4h0m-.8 0h0m-.6 .4h0m0-1h0m-.1 .5h0m-.4 .3h0m-.1 .2h0m-.1-.4h0m-.5-1.6h0m0 .3h0m-.1 1h0m-.7 .2h0m-.2-.2h0m-1-.7h0m-.1 .4h0m-.7 1.1h0m-.5-1.2h0m-.3 .1h0m-5.9-.7h0m-.1 .6h0m-1.9-.6h0m-.5 1h0m-.4-2h0m-1.1 .6h0m.1 4h0m3.7-1.8h0m5 2.5h0m3.4-2.2h0m.4 2.6h0m.1-2.4h0m0 1.3h0m.2-.4h0m.2-.5h0m.1 1.6h0m.1-1.2h0m.1 .2h0m.3 1h0m.3-2.2h0m0-.1h0m.2 1.4h0m.1-1.2h0m.1 1.8h0m.2-1.7h0m0 .6h0m.1 1.8h0m.1-2.4h0m.5-.3h0m.1 1.7h0m.6 .8h0m.1-2.4h0m.5 1.4h0m.3 .4h0m.5 .6h0m.1-1.8h0m1.1 .7h0m3.6 .1h0m0 .6h0m.1 0h0m.3 .4h0m.1-1.5h0m.2 1.1h0m0 .3h0m0-.7h0m.5-.9h0m0 1.3h0m.1-2h0m0 1.2h0m.2 1.2h0m0-.2h0m.1-.9h0m0-1.3h0m.3 1.5h0m0 .6h0m0 .2h0m.1-1.8h0m.2-.1h0m.2 2.2h0m0-2.7h0m.2 .4h0m0 1.9h0m.1-2.2h0m.1 1h0m0 .7h0m0-.8h0m.1 .6h0m.1 .2h0m.3-.4h0m.2 .9h0m.1-.9h0m0-1.2h0m.1 1.7h0m.1-1h0m.4 1.2h0m0 .3h0m.1 .2h0m.1-.4h0m.1-.3h0m.1-1.1h0m.2-.5h0m0 1.5h0m.2-1.2h0m0 1.4h0m0 .2h0m.1-2.3h0m0 2.1h0m.1-1.8h0m.1 .2h0m0-.3h0m.2 .5h0m.1 1h0m0 .7h0m.1-.3h0m.1-.5h0m.1 .3h0m0-1.3h0m.1 .6h0m0 .2h0m0 1.2h0m0-.2h0m.2-2.3h0m0 .2h0m0 2.5h0m0-.9h0m.1-1.4h0m.5-.4h0m.2 2.4h0m.1-.6h0m0 .7h0m.1-1.4h0m.1-1.2h0m.2 2.4h0m.1-2.5h0m.2 .3h0m.5 1.4h0m.2-1.2h0m.2 2.5h0m.3-.1h0m.4-2h0m.9 .7h0m.1-1.1h0m.9 2.5h0m1.5-2.8h0m5.7 2.1h0m4 .3h0m-4.8 2.1h0m-5.1 .7h0m-2.3-.9h0m-.6 1h0m-.4 .2h0m-.1-2.3h0m0 2h0m-.3-.7h0m0-1h0m0 1.3h0m-.2-1h0m0 .5h0m-.1-1.2h0m-.1 1.9h0m-.1 .2h0m-.1-1.1h0m0 .2h0m0 .2h0m-.4-.1h0m-.1 1.1h0m0-1h0m-.3 1h0m0-2.4h0m-.1 1.2h0m-.1 .4h0m0 .8h0m-.1-1.3h0m0 1.3h0m-.1-.3h0m0-1.1h0m0 1.3h0m-.5-1.5h0m0-.9h0m-.1 2h0m0 .3h0m-.1-1.2h0m0 1.1h0m0-.3h0m-.1 0h0m-.1-1.2h0m0-.6h0m-.2 2.1h0m0-1.5h0m-.1-.4h0m-.1 1.6h0m0-.9h0m-.4 1.6h0m0-1.8h0m-.1 1.5h0m0-1h0m-.1-1h0m0 1.2h0m0 1.2h0m-.1-2.8h0m0 1.6h0m-.1 .6h0m0 .1h0m-.1-1.6h0m-.1 .2h0m-.1 .7h0m-.1 1.3h0m0-1.4h0m-.1 .8h0m-.2-2.4h0m0 1.6h0m-.1-1.2h0m-.1 .4h0m0 .1h0m-.1 1.9h0m-.2-1.1h0m0 0h0m-.1-1.1h0m-.1 1h0m0 1.3h0m0-.8h0m-.1 .1h0m-.1-.2h0m0-.7h0m0-1h0m-.1 .9h0m0 .8h0m0-.2h0m-.1-1.2h0m0 1.6h0m0-2.2h0m-.1 2.7h0m-.1-2.7h0m0 .3h0m-.2 2.2h0m0-.2h0m-.1 .5h0m0-1.7h0m-.1-.4h0m0 .6h0m-.1-.3h0m0 .3h0m-.2 1.6h0m0-1.9h0m0-.2h0m-.2 1.3h0m-.1 .3h0m-.1-1h0m-.1-.6h0m0 1.5h0m-.1 .1h0m0-1.7h0m0-.4h0m-.1 .4h0m0 1.7h0m-.1-.4h0m-.2-.4h0m0-.7h0m-.2 1.2h0m-.2 .7h0m-.2-2h0m-.1 1.4h0m-.1-.8h0m0 1.5h0m-.1-2.6h0m-.1 1.5h0m-.2 .5h0m-4.3 .4h0m-.4 .2h0m-1-1.1h0m-.1-1.6h0m-.1-.1h0m-.2 1.5h0m-.1-.6h0m-.5 1.4h0m-.1-2.2h0m-.1 1.4h0m-.5-.5h0m-.2-.6h0m-.1-.4h0m-.4 1.5h0m-.1 1.1h0m0-1.8h0m0 .7h0m-.3-.4h0m-.2-1h0m0 .9h0m-.1-.3h0m-.2 .6h0m-.3-1.2h0m0 .4h0m-.1 2.3h0m0-.9h0m0-1.3h0m-.2 .9h0m-.1-1.2h0m0 2.2h0m0 .2h0m-.1-1h0m-.1 .6h0m-.1-.5h0m-.3 .5h0m0 .6h0m0-2.5h0m-.1 1.5h0m-.1-1h0m-.1 1.2h0m0 .3h0m-.4 .4h0m0-2.1h0m-.3-.8h0m0 .5h0m-.6 1.6h0m-.5-1.8h0m-.7 2.6h0m-.7-1.9h0m-.2 1h0m-1.7-1h0m-1.4-.4h0m-4.1-.5h0m9.5 3.2h0m0 0h0m.4 .3h0m0 .1h0m1-.5h0m.4-.1h0m.4 .3h0m.2-.2h0m.9 .4h0m.3-.4h0m.4-.1h0m2.3 0h0m.7 .6h0m5.4-.7h0m.1 .5h0m.3-.2h0m0 .4h0m.5-.6h0m.5 .1h0m.4-.1h0m.3 0h0m.8-.1h0m.7 .1h0m0 .6h0m.4-.3h0m.6 .1h0m.4 .1h0m1.6 0h0m0-.3h0m.1 .3h0m.4-.6h0m0 .7h0m1.5-.5h0m1.1 .5h0m.7-.5h0m.9 .1h0" stroke="#D0243E" stroke-width="1" stroke-linecap="round"/>
<path d="M463.7 167.2h0m-.4-.2h0m-.1-.8h0m-1.1 .6h0m-.1 0h0m-.6 .6h0m-.5 .1h0m-.2-.5h0m-.4-.2h0m-.2 .1h0m-.2 .4h0m-.1 .6h0m-.3-.5h0m-.2 .2h0m-.1-.2h0m0-1.1h0m-.2 .7h0m-.1 .5h0m-.1-.4h0m-.3-.3h0m0-.5h0m-.1 .1h0m-.2 1.2h0m0-1.4h0m-.1 .5h0m-.1 0h0m-.4-.4h0m0 .2h0m-.1 1h0m-.1 0h0m-.1-.8h0m-.2-.6h0m-.1 1.5h0m0-.3h0m-.2-.9h0m-.2 .3h0m0-.5h0m-.1 .9h0m-.2 .3h0m0 .2h0m-.3-.2h0m-.2 .1h0m0-1.1h0m-.2 1.3h0m-.1-.1h0m0-.3h0m-.3 .4h0m0 .3h0m-.1-1.9h0m-.1 .2h0m0 1.4h0m-.2-.5h0m-.1 .4h0m-.1 .4h0m-.1-.4h0m0 .3h0m0-.3h0m-.2-.2h0m-.1-.2h0m0-.2h0m0-.6h0m-.1 0h0m0 1.1h0m-.3-.8h0m-.2 .6h0m-.1-.7h0m-.2-.3h0m0 1.4h0m-.3-.8h0m-.6-.8h0m-.4 .1h0m0 1.7h0m-4.6 0h0m-.4-.9h0m-.1-.1h0m-.3-.1h0m-.4-.4h0m-.1 1h0m-.2-.9h0m-.1 1.1h0m0-1.2h0m-.1 .1h0m-.2 .7h0m-.6 .1h0m-.1-.7h0m-.1 .3h0m0-.5h0m0-.3h0m-.1 .8h0m-.1 .5h0m0-1h0m-.1 .8h0m-.2 .8h0m-.1-1.1h0m0-.3h0m-.1 .4h0m0-.5h0m-.2 1.5h0m-.1-.5h0m0-.1h0m-.2-1.1h0m0 1.4h0m-.1-.8h0m0 1h0m0-.3h0m-.2 .2h0m-.1-.3h0m-.1 .1h0m0-.4h0m-.1 0h0m0 .1h0m-.1-.1h0m-.1 .5h0m-.1-.6h0m0-.6h0m-.1 .3h0m-.1-.2h0m-.1 .5h0m-.1-.8h0m-.3 1h0m-.1 .1h0m0-.5h0m-.4-.7h0m-.1-.1h0m-.7 1.8h0m-1.5-.2h0m.3 1h0m.9 .4h0m.8 .1h0m0-.1h0m.1-.6h0m.1 0h0m.1 .2h0m0 .3h0m.3-.6h0m.1 .1h0m.1-.3h0m0 .9h0m.2-1h0m.1 .1h0m.3 .1h0m.1 .5h0m.1-.5h0m0 0h0m.1 .4h0m.1 .2h0m0-.7h0m0 .1h0m.1 .7h0m0-.6h0m.3 .5h0m.3 .2h0m0-.7h0m.1-.1h0m.1-.1h0m.1-.1h0m.1 0h0m.1 .8h0m.1-.5h0m.2 .7h0m.1-.8h0m0 .4h0m.1-.5h0m0 0h0m.4 .8h0m.1-.9h0m.1 .4h0m.2 .5h0m.1-.7h0m.4-.1h0m.7 .1h0m.1 .2h0m4.4-.4h0m.4 .9h0m.5-.8h0m.1-.1h0m.2 .6h0m.1 .1h0m.3-.7h0m.1 .6h0m0 .3h0m.2 0h0m.7-.3h0m.3 .5h0m.2-.7h0m.1 .4h0m.4 0h0m.3 0h0m.7-.5h0m.1-.1h0m.2-.3h0m.2 .6h0m0 0h0m0 0h0m.3 .2h0m.5-.6h0m.1 .6h0m.2-.1h0m.3-.4h0m.1 .1h0m.5-.3h0m0 .9h0m1.1 .1h0m.6-.9h0m1.2 .5h0m.2-.6h0m.6 0h0m.7 1.1h0" stroke="#000" stroke-width="1.1" stroke-linecap="round"/>
<path d="M456.5 30.6h0" stroke="#D0243E" stroke-width="1.2" stroke-linecap="round"/>
<text x="458.6" y="33.3" font-size="6.6">TMEM155</text>
<path d="M455.5 47.8h0" stroke="#D0243E" stroke-width="1.2" stroke-linecap="round"/>
<text x="458" y="49.9" font-size="6.6">TIMD4</text>
<path d="M460.2 58.6h0" stroke="#D0243E" stroke-width="1.2" stroke-linecap="round"/>
<text x="462.6" y="61.4" font-size="6.6">CADM1</text>
<path d="M470.8 82h0" stroke="#D0243E" stroke-width="1.2" stroke-linecap="round"/>
<text x="473" y="84.9" font-size="6.6">DUSP4</text>
<path d="M462 89.5h0" stroke="#D0243E" stroke-width="1.2" stroke-linecap="round"/>
<text x="464.3" y="92.2" font-size="6.6">CHI3L2</text>
<path d="M460.8 96h0" stroke="#D0243E" stroke-width="1.2" stroke-linecap="round"/>
<text x="463" y="98.6" font-size="6.6">CTLA4</text>
<text x="459.5" y="106.2" font-size="6.6" textLength="19" lengthAdjust="spacingAndGlyphs">TOX2</text>
<text x="448" y="118.9" font-size="6.6" text-anchor="end" textLength="26" lengthAdjust="spacingAndGlyphs">TNFRSF9</text>
<text x="474.5" y="114.4" font-size="6.6" textLength="17.5" lengthAdjust="spacingAndGlyphs">CD27</text>
<text x="493.8" y="119.9" font-size="6.6" textLength="19.5" lengthAdjust="spacingAndGlyphs">GZMK</text>
<text x="477" y="128.2" font-size="6.6" textLength="16.5" lengthAdjust="spacingAndGlyphs">LAG3</text>
<text x="440.8" y="133.9" font-size="6.6" text-anchor="end" textLength="11.8" lengthAdjust="spacingAndGlyphs">IL10</text>
<text x="458.2" y="136.4" font-size="6.6" textLength="18.2" lengthAdjust="spacingAndGlyphs">MKI67</text>
<text x="484.6" y="137.6" font-size="6.6" textLength="15" lengthAdjust="spacingAndGlyphs">IFNG</text>
<text x="441" y="141.2" font-size="6.6" text-anchor="end" textLength="12" lengthAdjust="spacingAndGlyphs">CD4</text>
<text x="487" y="143.4" font-size="6.6" textLength="20.7" lengthAdjust="spacingAndGlyphs">PRDM1</text>
<text x="444.5" y="147.2" font-size="6.6" text-anchor="end">PDCD1</text>
<text x="488.2" y="150.3" font-size="6.6" textLength="24" lengthAdjust="spacingAndGlyphs">HAVCR2</text>
<text x="436.8" y="154" font-size="6.6" text-anchor="end" textLength="14.1" lengthAdjust="spacingAndGlyphs">TIGIT</text>
<text x="470" y="154.6" font-size="6.6" textLength="16" lengthAdjust="spacingAndGlyphs">CD38</text>
<text x="469.2" y="159" font-size="6.6" textLength="11.8" lengthAdjust="spacingAndGlyphs">IL32</text>
<text x="491.5" y="161" font-size="6.6" textLength="18.8" lengthAdjust="spacingAndGlyphs">GZMA</text>
<text x="428" y="164.4" font-size="6.6" text-anchor="end" textLength="17" lengthAdjust="spacingAndGlyphs">RORA</text>
<text x="472.8" y="165.6" font-size="6.6" textLength="18.6" lengthAdjust="spacingAndGlyphs">STAT3</text>
<line x1="455" y1="110" x2="458.8" y2="106.5" stroke="#222" stroke-width="0.8"/>
<line x1="450.5" y1="116.6" x2="464.5" y2="114.4" stroke="#222" stroke-width="0.8"/>
<line x1="481.3" y1="118.2" x2="492.5" y2="117" stroke="#222" stroke-width="0.8"/>
<line x1="480" y1="120.2" x2="480.6" y2="121.8" stroke="#222" stroke-width="0.8"/>
<line x1="442" y1="133.5" x2="455" y2="144.3" stroke="#222" stroke-width="0.8"/>
<line x1="443" y1="138.8" x2="455.8" y2="148.5" stroke="#222" stroke-width="0.8"/>
<line x1="445.8" y1="145.2" x2="454" y2="150" stroke="#222" stroke-width="0.8"/>
<line x1="438" y1="151.3" x2="458" y2="158.5" stroke="#222" stroke-width="0.8"/>
<line x1="429" y1="161.7" x2="442.7" y2="165.4" stroke="#222" stroke-width="0.8"/>
<line x1="465.4" y1="145.4" x2="483.8" y2="135.7" stroke="#222" stroke-width="0.8"/>
<line x1="469" y1="147.4" x2="486" y2="141.5" stroke="#222" stroke-width="0.8"/>
<line x1="463" y1="149" x2="487" y2="148.5" stroke="#222" stroke-width="0.8"/>
<line x1="467" y1="159" x2="490.8" y2="158.8" stroke="#222" stroke-width="0.8"/>
<line x1="461.5" y1="161" x2="472.3" y2="161.8" stroke="#222" stroke-width="0.8"/>
<line x1="473" y1="115.5" x2="473" y2="115.6" stroke="#222" stroke-width="0.8"/>
<line x1="464.5" y1="153" x2="469.5" y2="152.3" stroke="#222" stroke-width="0.8"/>
<line x1="462.5" y1="157" x2="468.5" y2="156.6" stroke="#222" stroke-width="0.8"/>
<line x1="458" y1="136.8" x2="462.5" y2="134.6" stroke="#222" stroke-width="0.8"/>
<path d="M451 109.5h0" stroke="#D0243E" stroke-width="1.2" stroke-linecap="round"/>
<path d="M456 110h0" stroke="#D0243E" stroke-width="1.2" stroke-linecap="round"/>
<path d="M459.5 110.8h0" stroke="#D0243E" stroke-width="1.2" stroke-linecap="round"/>
<path d="M473 115.5h0" stroke="#D0243E" stroke-width="1.2" stroke-linecap="round"/>
<path d="M480.3 119.5h0" stroke="#D0243E" stroke-width="1.2" stroke-linecap="round"/>
<path d="M445.5 151h0" stroke="#D0243E" stroke-width="1.2" stroke-linecap="round"/>
<text x="6.8" y="219.8" font-size="14" font-weight="bold" fill="#000">B</text>
<text x="91.8" y="219.9" font-size="10" text-anchor="middle" textLength="22.8" lengthAdjust="spacingAndGlyphs" font-style="italic" fill="#111">CCL5</text>
<path d="M47.1 232.9h0m-1.2 .1h0m-2.1-1.3h0m-.8-.6h0m-1.1 .8h0m-.1-.5h0m-.8 1.4h0m0 .2h0m-2.3 1.2h0m.9 2h0m1.1-1.8h0m2.5 1.1h0m.3-1h0m.1 1h0m.4 0h0m.1 .3h0m.1-.5h0m.5 1.1h0m.9-.2h0m.1-1.8h0m.1-.1h0m.9 1.8h0m0-1.8h0m1.1 1.6h0m1.7 1h0m-1.3 2.5h0m-.1-.4h0m-2.2-.1h0m-.3-1.2h0m-.9-.6h0m-.2 1.6h0m-.4 .8h0m-.2-1.6h0m0 1.6h0m-.3-.2h0m-.1-.4h0m-.3-.2h0m-.2-.4h0m0-.4h0m-.4-.4h0m-.1 2h0m-.3-.8h0m-.2 .1h0m-.2 .5h0m-.3-1h0m-.1-.4h0m-.4 1.7h0m-2.4 .4h0m1.6 0h0m1.6 .1h0m.8 1.7h0m.1 .1h0m.9-1.6h0m.5 .8h0m.3-.3h0m.9 .4h0m.6 1h0m.1 .5h0m.6-2.3h0m.1 1.9h0m.9 .7h0m.1-1.3h0m.3 .5h0m.5-.9h0m.5 1.2h0m2.6-.5h0m-.6 3.2h0m-.8 .7h0m-.7-.4h0m-1.1-.7h0m-.3-.6h0m-.3 1.4h0m-1.1-2h0m0 1.9h0m-.4-1.6h0m-.2 1.5h0m0-.6h0m-.3-.4h0m-.4 1h0m-.4-1.6h0m-.3 1.9h0m-.3-.7h0m0-.5h0m-.1-.2h0m-.1 1.6h0m-.5-2.5h0m-.7 1h0m-.4-.1h0m-.4 .4h0m-3.9-.7h0m-2.7 4.7h0m.8-1h0m.1 1h0m.1-.4h0m.3-.2h0m.2-.9h0m.3 .2h0m.4-.9h0m1 1.4h0m1.9 .9h0m.2-.2h0m.1 .1h0m2.8-1.6h0m.6-.2h0m.1-.6h0m.1 0h0m.3 1.6h0m.4-.2h0m.3-1.5h0m.1 1.5h0m.8-.4h0m.2-1h0m0 1h0m.3 1.6h0m0-1.4h0m0-.3h0m0 .9h0m.2 .6h0m0-.5h0m0-.6h0m.5 1.2h0m0-1.1h0m0 1.1h0m.2-1.4h0m.2 .8h0m.1-2.1h0m.3 1.4h0m1-.2h0m.6-.5h0m0 .3h0m.9-.3h0m.1-.5h0m5.3 2.3h0m3.2 2.9h0m-.3-1.8h0m-.7 .8h0m-1.5 .3h0m-.5-1.5h0m-.7 .6h0m-2.1-.2h0m-.9 1.8h0m-1.1-.4h0m-.3-.3h0m-1.2 .3h0m-.3-.4h0m-.8-.4h0m-.2 .1h0m-.1 1.6h0m-.3-1.2h0m-.3 .1h0m0-1.9h0m-.1 2.2h0m0-2h0m-.3 1.7h0m-.1-1.2h0m0 1h0m-.1-.9h0m-.4 1.8h0m0-.6h0m0 .4h0m-.1-1.4h0m0-.3h0m-2.3-.2h0m-.6 .7h0m-.2-.3h0m-.7 .9h0m-.2-.4h0m-.2 .8h0m-2.7-1.9h0m0 1.2h0m-.3 1.5h0m-.3-1.1h0m-.3-1.8h0m-.2 .1h0m-.3 .6h0m-1.1-.6h0m-1.4 0h0m-.9 .2h0m-1.5 1.6h0m1.2 3.4h0m1.7 .3h0m.9-1.3h0m1.2 1.4h0m.1-2.2h0m.1 2.2h0m0 .1h0m.5-.9h0m.2 .2h0m.6-.4h0m.1 1.2h0m.8-1.2h0m.1-1.4h0m.1 1.5h0m.3-.6h0m3.5 1.5h0m.7-.5h0m.4-1.6h0m.3 1.2h0m.3 1h0m.3-.6h0m1.7-.5h0m.1 .7h0m.1-1.3h0m.2-.6h0m.2 1.1h0m0-.9h0m.1 .6h0m.3-1.3h0m1.9 1.5h0m0-.2h0m.3-.4h0m.7 .8h0m1.3-1.7h0m.4 2.6h0m1.1-.1h0m.5-1.9h0m1.3 1.5h0m0-1.9h0m.7 1.9h0m3.3 2.7h0m-.2-.5h0m-1.5 .4h0m-.7-.5h0m-3.8 1.7h0m-1-1.5h0m-.4 1.3h0m-.3-.6h0m-.4 .4h0m-.2-.1h0m-.1-.7h0m-.4 .5h0m-.5-2.1h0m-.1 .8h0m0 .8h0m-.2 .9h0m-.1-1.2h0m-.1 1.1h0m-.3-1.9h0m-.4 .3h0m-.3 .7h0m-.5-.2h0m0 .1h0m0-.1h0m-.2 .6h0m-.9-.2h0m0-1.4h0m-.1-.2h0m-1.4-.2h0m-.2 1.5h0m-.5-1.3h0m-.1 1.2h0m-.4-.2h0m-.8-.6h0m-1.4 1.8h0m-.4 .2h0m-.1 .1h0m-.3-1.2h0m-.3-.1h0m-.3-1.5h0m-.5 1.6h0m-.8-.3h0m-.4 .2h0m-.5-.1h0m-.1-.8h0m-.7 1.1h0m-.9-1.3h0m-.6 1.4h0m-.6-.4h0m-1.2-1.4h0m-.1 1.3h0m-.2 .1h0m-.8 .5h0m.4 3.5h0m.4-1.3h0m.5 .9h0m2.7-2h0m2.6 2.7h0m.1-1.1h0m1.4 1.2h0m0 .1h0m.1-2.4h0m.8 .4h0m1.8 2.1h0m1.1-2h0m0 .2h0m.5 .5h0m.2-1.4h0m1 2h0m2.1-1.3h0m1.5-.1h0m.3 .4h0m0-.4h0m.3 1.9h0m0-2.2h0m.1 1.6h0m2.9 .2h0m.1-.2h0m6.5-.8h0m.2-.2h0m1-.5h0m60.3 .8h0m.1 3.7h0m-.6-1h0m-.4-.4h0m-.1-.1h0m-62.3 .9h0m-4.7-.5h0m-.4 .1h0m-.3-.2h0m-1.3 .4h0m-.5-.5h0m-.3-.9h0m-.1 1.6h0m-.1 1h0m-1.9 .3h0m-.6-2.4h0m-.1 1.5h0m-1.9 .1h0m-.6-.5h0m-.8-1.1h0m-.8 0h0m-.1 1.9h0m-.8-.5h0m-.4 0h0m-.1 .4h0m-.6-.7h0m-.2-.2h0m-.4 1.3h0m-.4-1h0m0 .9h0m-.6 .2h0m0-1.7h0m0 .9h0m-.3-.3h0m-.4 .4h0m-1.2-1.7h0m-.3-.3h0m-.6 2.6h0m-.4-2.6h0m-1 1.4h0m-1.1-.6h0m-.4 .1h0m2.4 2.2h0m.3 1.7h0m.3-.3h0m.5-.6h0m1.1-.4h0m.2 1.2h0m.1-.6h0m.1 .1h0m.1-.2h0m.3 1.6h0m1.5-1.9h0m.4 .8h0m0-1.1h0m.2 1.3h0m.1-.1h0m.3-.8h0m.3-.4h0m.1 1.9h0m.7-2.4h0m0 2.1h0m.9 .5h0m.4-.6h0m.1-1.8h0m.1 .1h0m.4-.1h0m.2 .4h0m.3 2h0m.1-.7h0m.2-.5h0m.2-.1h0m.2 1.6h0m.3-2.8h0m0 2.4h0m.2 .5h0m.5-1.1h0m.3 0h0m.4-.9h0m.1-.7h0m.6 .7h0m0 1h0m.3 .1h0m.9-.6h0m11.8 1.2h0m.8-1.3h0m.5 .2h0m.3 1.2h0m.2 .1h0m1-.9h0m57.2 .4h0m.7-1.1h0m.1 .3h0m0 .9h0m22.9 3h0m-3.7-1.5h0m-1.3 1.2h0m-.5-1h0m-1.3 .3h0m0 1.4h0m-.1-2.1h0m-1.5 1.3h0m0-.2h0m-1.2 .6h0m-5.9 .4h0m-7.4-2.7h0m-1.6 1.8h0m-1.1-.3h0m-1 1.2h0m-1.2-.5h0m-.6-.9h0m-.6 .6h0m-3.1-.8h0m-45 1h0m-4.1-.1h0m-.5-.6h0m-.3-.6h0m-.5 1h0m-.7 .3h0m-.5-.1h0m-1.2-1h0m-.1 .6h0m-3.6 .9h0m-5.1-.3h0m-2.7-1.4h0m-.2 .2h0m-1.7 .4h0m-.1 .5h0m-.3-.1h0m0-.9h0m-.1 1.5h0m-.5-2.2h0m-.2 1h0m-1.1 1h0m-.4-1.5h0m-.3-.2h0m0 .6h0m-.3 .8h0m-1.3 .8h0m-.7-2.9h0m-2.5 1.9h0m-.5 .1h0m-1-1.8h0m-.2 .5h0m-.4 2.1h0m-1.9-1.5h0m-.9 1.3h0m-.2-2.4h0m-9.6 0h0m10.2 2.9h0m2.6 .1h0m2.8 1.6h0m.4-.7h0m.7 .8h0m1.1-1.7h0m.2 2.5h0m.5-.9h0m.2-.7h0m.7-.1h0m.3 1.1h0m1-.1h0m.5 .8h0m.3-1.4h0m.2 .1h0m.2-.2h0m0 .4h0m.5-.9h0m0-.3h0m1.8 .3h0m.1 .7h0m.3 .4h0m.3-1.5h0m.1-.3h0m.7 2.5h0m.1-1h0m.2-.8h0m.8 1.9h0m1.2-.6h0m.5-1.8h0m1.6 1.7h0m3-1.8h0m3.1 1h0m1.2-.1h0m0-.1h0m.9-.9h0m.9 1.9h0m.3-.8h0m.2 .7h0m1.7 0h0m.9 .3h0m1.3-1.3h0m48.3-.8h0m.9 2.7h0m1.4-.8h0m.5 .1h0m.3-1h0m.3-.3h0m.4-.1h0m14.7 .7h0m.8 .2h0m.2-.9h0m.2 .4h0m.2 1h0m.1-.1h0m1 1h0m.2-2.5h0m.5 2h0m.2 .4h0m.1-1h0m.7 1h0m.3-2.8h0m.1 2.5h0m.1-1h0m0-.5h0m.2 .3h0m.6-.5h0m.1 1.1h0m.2 .7h0m.8-.7h0m1.9-.8h0m.6-.4h0m1.9-.4h0m-1 5.5h0m-.4-1.1h0m-.7 .1h0m-.8-.2h0m-1.6-.4h0m-.1 .4h0m-.3 1h0m-.3-1.6h0m-.1-.4h0m-.3 1.5h0m-1 .6h0m-.5-1.4h0m-.1 .6h0m-.3 .4h0m-.4-1.9h0m-.5-.5h0m-.4 2.4h0m-.2-.6h0m-.7 1h0m-.2-.4h0m-.1-1.4h0m-.1-.4h0m-.1 .3h0m-.3 .5h0m-.2-.2h0m-.5-.3h0m-.1 .8h0m-.4-.6h0m-.7 .1h0m-.4 0h0m-2.7 .6h0m-1-1.3h0m-1.9 2.3h0m-1.2-.2h0m-.4 .2h0m-.6-.9h0m-.3-.7h0m-.2 1.2h0m-.3 .4h0m-1.1-.3h0m0-.2h0m-.5 .4h0m-4.2-2.6h0m-.2 2h0m-.2-1h0m-.3 .6h0m-1 0h0m-.2-.5h0m-.4 .5h0m-.1 .3h0m-.7-.8h0m-.6 .7h0m-.6-.7h0m-.5 .9h0m-.4-.7h0m-47.4 1.5h0m-.3-1.9h0m-.5-.5h0m-.7 .9h0m-.2-.4h0m-1.4 1.5h0m-.4-2.4h0m-4.7 2h0m-6.8-2h0m-.2 .6h0m-.2-.2h0m-.1-.3h0m-.4 .3h0m-.9 1.1h0m-.5-1.2h0m-.8 .1h0m-.8 2.4h0m-.6-1.1h0m-.3-.3h0m-.1 .5h0m-.1-.4h0m-1.7-.4h0m-.7 0h0m0-.4h0m-.1 .9h0m-.4 1.1h0m-.4-.3h0m-.6-2.3h0m-.9 1h0m-.6 .4h0m-.1 1.2h0m-3.2-.8h0m-1.8-.4h0m-.3-1h0m5.8 4h0m.7-1.2h0m.2 .6h0m.9 .3h0m.3-1h0m.1 1.7h0m.2-.7h0m.2-.8h0m.1 1.1h0m.5 .1h0m.5 0h0m.6 .5h0m.2 .2h0m1-2.3h0m.5 2h0m.3-1.3h0m.4 .1h0m.7 2h0m.2-2h0m0-.3h0m.2 2.3h0m.2-.6h0m.2-2.1h0m.3 2.7h0m.1-2.8h0m.4 2.2h0m0-1.4h0m.5 2h0m.2-1.5h0m.2 1.5h0m0-.7h0m.1 .5h0m1.5 0h0m.2-2.4h0m3.5 2h0m6.6-1.3h0m.3 .2h0m1.6 .6h0m.5 .2h0m32.1 .1h0m.4 .1h0m.4-.2h0m.1-.8h0m.7-.6h0m.3 1h0m12.4-.1h0m.7-.4h0m.5-.6h0m1 1h0m.7-.2h0m.7 .5h0m1 .5h0m1.6-1.5h0m1.9 .2h0m2.9 .2h0m.2 1.7h0m1.2-.8h0m.2 .5h0m0-.4h0m.1-.5h0m1.6 .8h0m.3 .2h0m.4-.6h0m.6-.7h0m.3 .8h0m.1-.7h0m.7-1.1h0m.9 1.8h0m.3 .3h0m2.4-1.3h0m.4 1.5h0m.1-1.8h0m.2 1.1h0m.3-.8h0m.6 .8h0m0-.1h0m0-1.5h0m.3 1.8h0m.1 .7h0m.3-1.4h0m.1 .2h0m.1 .7h0m.9-1.1h0m.2-.5h0m.1 0h0m.8 1.3h0m.6-1.4h0m.3 0h0m.1-.1h0m.1 1.2h0m.4-.3h0m.3 .4h0m1.2 .7h0m.8-.5h0m.1-1h0m1.1 1.5h0m1.3 0h0m.1-2.3h0m.3 .3h0m.2 .6h0m.6-.9h0m.6 1.6h0m1.2-1.3h0m-4.7 3.5h0m-.8 .9h0m-4.5 .4h0m-.5 .1h0m-1.9-.8h0m-.7-.8h0m-.1 .5h0m-.2 1.1h0m-.3 .3h0m-.1-.1h0m-1.1-1.5h0m-.2 .3h0m-.4-.3h0m-.3-.7h0m-.2 0h0m-.1 2.3h0m-.3-1.2h0m-.2-.6h0m-.7 1.6h0m-1.4-1.6h0m-.1 .7h0m0-1.6h0m-.3 2.2h0m-.1-1.4h0m-.4-.7h0m0 2.7h0m-.2-.4h0m-.3-.4h0m-.4-2h0m-.2 .1h0m-.6-.1h0m0 1h0m-.2 1.1h0m-.1 .4h0m-.2-1.7h0m-.9 .4h0m-.8 .8h0m-1.6-.4h0m-2.4 .2h0m-1.7 .1h0m-2.4 .5h0m-.3-2h0m-.1-.4h0m-2.2 2h0m-.1 .8h0m-.1-2.9h0m-.7 .3h0m-1.3 2.6h0m-.1-.4h0m-.4 .4h0m-4.2-2.8h0m-2.6 .7h0m-1.6 1.4h0m-2.3-1.4h0m-.4-.6h0m-.6 .5h0m-36.7 .1h0m-4.9-.4h0m-.2 2.1h0m-4.5-1.7h0m0 2h0m-.7-1.1h0m-.4-.3h0m-.3 .8h0m-.7-1.6h0m-.2 2.1h0m-.3 .2h0m-.5-1.2h0m-1.6 .3h0m-.1-1.8h0m-.4 1.9h0m-.4-.3h0m-1-.7h0m-.1 .4h0m0-1h0m-.7 1.5h0m-12-1.5h0m16.2 3.1h0m1.1-.4h0m.5-.2h0m2.4 .1h0m1.5 1.6h0m1.7-1.2h0m44.7-.5h0m.7 2.3h0m2.6 .6h0m.3-1.6h0m3.4 .8h0m.6 .9h0m0-2.7h0m.4 2.5h0m1-1.4h0m1 .9h0m0 .1h0m.2-.1h0m.1-.7h0m.1 1h0m.3 .4h0m.8-1.4h0m.8 .2h0m.1-.1h0m0-1.1h0m.1 1.2h0m.2-1.2h0m.4 .9h0m1.8 .2h0m.4-.5h0m.6 .3h0m.1-1.3h0m1.6 1.8h0m.8-.6h0m3.1 .2h0m.2 1.2h0m.3-2.2h0m.3 1.5h0m2.1-.4h0m0-.6h0m.2-.5h0m.8 .5h0m0 1.8h0m.2-.8h0m.9 .1h0m.7-2.1h0m.3 1.8h0m1.9 .3h0m.3-.4h0m.7-.2h0m.1-.8h0m0 1.2h0m.8-1.1h0m.1-.6h0m.4 1.4h0m.2-.5h0m.9 1.6h0m2.1-.9h0m4.6-1.5h0m1-.1h0m-4.2 4.3h0m-1.9 1.3h0m-1.5-.1h0m-.3 .1h0m-1.6-1.9h0m-.7 .6h0m-.2-1h0m-.3 1.9h0m-.2-.5h0m-.2-1.7h0m-.2 .9h0m-.1 .8h0m-.9 .6h0m-.1-1.5h0m-1 1.5h0m0-2.2h0m-.8 1.9h0m-.4-.1h0m-.1 0h0m-1.9-.6h0m-.2 .3h0m-1.7 .7h0m-.8-2.2h0m-.1 1h0m0 .6h0m0-1.2h0m-.5 .6h0m-2.2 1.5h0m-1-.7h0m-1.2-1.3h0m-3.1-.4h0m-1.8 .1h0m-.6 1.2h0m-.6-1.4h0m-1.6 .3h0m-.2 .9h0m-.4-.3h0m-.5 1.5h0m0-2.3h0m-.3 .2h0m-1.3 .5h0m-.5-.9h0m-.8 1.1h0m-.8 .7h0m0-.3h0m-.5 .6h0m-.7-2h0m-.4 0h0m-.1-.2h0m-.8 .2h0m-1.3 2.4h0m-.4-.3h0m-46.9-1.7h0m-.3 .7h0m-2 1.5h0m-.5-2.4h0m-.3 1.6h0m-.5-2.1h0m-1.1 .3h0m25.6 3.3h0m8.8-.1h0m3.5 .4h0m4.3 1.3h0m.7-1.9h0m.5 0h0m.9 .4h0m1.2-.4h0m.2 .8h0m1.2 .8h0m1.3 .3h0m1.4-1.3h0m4.2 .2h0m1.7 .5h0m.9-1.6h0m.6 .5h0m.3 .4h0m1.4 .4h0m1-.4h0m9.2 .1h0m2.5-1h0m0 .8h0m.6 .7h0m.7-1.4h0m.5 2.5h0m.6-2.3h0m.3 .4h0m.6 2.2h0m0-2.1h0m.1-.3h0m.8 .5h0m.1 1.1h0m.9-2.2h0m.5 .9h0m2.5-.3h0m.8-.5h0m1.4 1.1h0m1.1 0h0m.1 1.6h0m1.2-2.3h0m2.4 1.2h0m2.8-1.4h0m-1.1 3.7h0m-1.7-.9h0m-.9 .2h0m-6.9 1.2h0m-1.8-1.4h0m-2.7 2.3h0m-.4-2.2h0m-.4 1.1h0m-3.4 0h0m-14.1-.3h0m-.4 .2h0m-2 1.6h0m-2.7-2.2h0m-.3 1.5h0m-.1-1.2h0m0 0h0m-2.2 .6h0m0-.9h0m-.2 .8h0m-.1 1.3h0m-.9-2.1h0m-.1 2.2h0m-1.2 .1h0m-.4-1.6h0m0-.8h0m-.6 .1h0m-.2 .2h0m-.2 1.2h0m-.1-1.9h0m-3 2.6h0m-.2-1h0m-3.2 1.3h0m-12.7-1.2h0m-2.4 1.2h0m-.3-1.2h0m-6.5 .9h0m-13.3-2.5h0m1.9 5.4h0m.1-1h0m1.1 1.4h0m.2-2.6h0m.9-.3h0m14.1 2.4h0m.7-2h0m1.2 .2h0m.1 .2h0m.5 .2h0m16.6 .1h0m1.8 .6h0m.1-.6h0m.8 .7h0m.4-1.6h0m1.3-.2h0m.9 2.9h0m2-1.9h0m1.8 .3h0m1.1-.1h0m0-.3h0m20-.4h0m-19.7 2.9h0m-.4 2.4h0m-2.1-1.8h0m-.7 .3h0m-1.3-.4h0m0 .5h0m-3 0h0m-.4 1.2h0m-.5-1.4h0m-.8-1.2h0m-1.4 1.8h0m-2.7-.2h0m-.1-.2h0m-1.7 .7h0m-.3-.3h0m-8.3 .3h0m-2-.3h0m-.4 .5h0m-1.1-.3h0m-.6-1.5h0m-1.9-.3h0m-1 2.4h0m-.1-1.6h0m-.1 .2h0m-1.7 .9h0m0-.5h0m-.7 .5h0m-1 .5h0m-1.5-.4h0m-7.2-.2h0m-.1 .6h0m2.7 1h0m.9 1.2h0m3.4 1h0m1.5-.4h0m.4-1.6h0m1.6 .9h0m.1-.8h0m.3 0h0m0 1.5h0m.1-1.8h0m.3-.1h0m1 .4h0m.6 1.3h0m.3-.3h0m.1-.7h0m.1 .3h0m.4 1.2h0m1-1h0m.4-.3h0m1.7 1.2h0m1.1-.9h0m4 .2h0m4.4 1h0m2.4-.6h0m.4 .1h0m.3-2h0m.6 1.9h0m.7-.2h0m.7-.2h0m.3-1.9h0m.3 .5h0m.5-.2h0m1.6 .9h0m.8 .4h0m.4-1.1h0m.3-.1h0m30.3 1.2h0m2.8 .8h0m.1 0h0m.7 1.6h0m0 .7h0m-.3-.6h0m-.1 .2h0m-.4 1.5h0m-1.2-1.7h0m-23.3 .5h0m-1.1-.7h0m-.4 1.6h0m-.1 .1h0m-1.1-2.7h0m-1.1 2.5h0m-1.5-.1h0m-4.2-1.8h0m-2.7 .3h0m-1.3 .1h0m-.8-.6h0m-.3 .4h0m-.5 .3h0m-.7 1.8h0m-.6-1.9h0m-.1 1.1h0m0 .7h0m-.1-1.9h0m-.1 .8h0m-.4-.1h0m0-1.4h0m-.5 1.1h0m-1-.5h0m-3.5-.5h0m-.2 1.3h0m-.6-.2h0m-.2 1.3h0m-.5-.4h0m-1 .6h0m-.8-2.2h0m-.1 1.8h0m-2.6-.1h0m-1.7-1h0m-1 .3h0m-.2 .1h0m-.1 1.1h0m-.8 0h0m-.2-2.1h0m-.3 1.3h0m-.1-1.5h0m-.4-.1h0m-.1 2.1h0m-.6-1.5h0m-.1 1.3h0m-4.2-1.9h0m-.2 .1h0m-1.7 .1h0m4.8 4.1h0m.2 1.1h0m2-1.1h0m0-.3h0m.5-.7h0m1.2 1.9h0m.1-1.6h0m.8-.5h0m.3 .2h0m.4 1.8h0m.1-1.4h0m1.8 .9h0m.4 .1h0m2.4-.5h0m.5 .4h0m.1-1.4h0m.3 .1h0m.6 .9h0m.1 .9h0m0-2.4h0m.1 .5h0m.5 1.7h0m.7-1.5h0m.9 .3h0m0-.5h0m.9 .1h0m.9 .5h0m2.2 1.4h0m5.5-1.4h0m9.5 .2h0m.5-.8h0m.1 .1h0m1.1-.6h0m20.2 .4h0m3.9-.1h0m.7-.3h0m.7 2h0m0-1.1h0m.5-.9h0m0 1.4h0m.6 2.3h0m-1.6 .5h0m-23.7 .3h0m-.6 .2h0m-.1-1.1h0m-.4 .4h0m-.1 0h0m-1.3 1.2h0m-.2-1.3h0m-2.3-.4h0m-.3 .4h0m-14.9 .9h0m-1 .6h0m-1.1-1.2h0m-2 1.2h0m-1-.5h0m-1.2-1.3h0m0 .9h0m-.7-.2h0m-1.2 .9h0m-.4-1.3h0m-.5 .2h0m-1.3-.9h0m-2.5 .3h0m-.1-.1h0m-1.5 .1h0m-.1 1.6h0m0-.4h0m-.9-.8h0m0 1.6h0m-4.1 1.7h0m.2 1.5h0m1.9-.6h0m.1-1.7h0m1.6-.2h0m1.9 .2h0m.2 2.3h0m1.2 0h0m.3-.4h0m0-1h0m.1 .4h0m.2-1.7h0m.4 .6h0m.6-.1h0m.6 2.3h0m.7-1.3h0m1.8-1.6h0m7.8 1h0m.3 0h0m10.8 1.7h0m2-1h0m.4 .5h0m.8 0h0m.4-.3h0m2.4-.6h0m1.3-.7h0m.3 .5h0m.4-.1h0m1.9-.1h0m-1.9 3.8h0m-2.9-.6h0m-1 .4h0m-.1-.2h0m-.5 .3h0m-.3-.3h0m-.5 .2h0m-1.4-.1h0m-2.3 .7h0m-.6-.9h0m-.7 1.3h0m-.6-2.1h0m-1.3 2.1h0m-1.8-.9h0m-.6 1h0m-.3-1.2h0m-.6-1.2h0m-7.6 1.4h0m-6.6-1h0m-.6 .3h0m-.5-.9h0m-1 2.6h0m-.8-2.2h0m-.3 1.1h0m-1-1h0m-.2-.5h0m-1.1 2.6h0m-.7-.7h0m-3.3 0h0m2.6 2.9h0m.2 1.1h0m.4-2.5h0m.5 1.4h0m.3-.7h0m.1 1.5h0m2 .2h0m17.3-2.5h0m3.7-.3h0m.2 .6h0m.3-.4h0m2.6 0h0m1.5 1.6h0m1.9-1.4h0m0 .8h0m-26.4 3.1h0m-2.6-.7h0m-.1 .5h0m-1.2 .1h0m-2.5-1h0m14.4 8.3h0" stroke="#e6e6e6" stroke-width="1" stroke-linecap="round"/>
<path d="M42.3 239.7h0m7.7 1h0m-5.6 3.3h0m-9.7 4.4h0m11.3-1.2h0m.2 .8h0m5 .3h0m.4 2.7h0m-3.8 0h0m-2.1-.2h0m-4.8-.1h0m13 3.3h0m-12.4 5.2h0m7.2-1.1h0m1.2 .2h0m3.2 2.1h0m-6.1 2h0m-.5-1.3h0m-.2 2.8h0m-10.5-2.8h0m4.3 4.2h0m7.2-.2h0m18.4 .8h0m.1 .9h0m1.1 3.2h0m-2-1h0m-29 2.7h0m7.8-.3h0m9.2 .7h0m16.1 .8h0m2-1.7h0m-4.2 3.2h0m-10.4 .1h0m-4-.9h0m-4 1h0m3.3 4h0m23.1-1.6h0m-20.6 4h0m-.1-1.5h0m-4.4-.2h0m6.4 5.2h0m22.2 20.8h0" stroke="#da8f63" stroke-width="1.1" stroke-linecap="round" stroke-opacity="0.68"/>
<path d="M46.6 240.3h0m8.6 5.5h0m-17.1 3h0m3 4.4h0m7.8 .4h0m2.8 3.6h0m-13.1-1.4h0m86.8 2.7h0m-80.8 5.2h0m-3.4-2.5h0m19.5 4.2h0m4.3-1.2h0m57.7 5h0m-56.8 .2h0m-21.9 2.1h0m2.6-.2h0m19.4 1.4h0m.1-.5h0m53.7 0h0m-1.2 3.1h0m-61.9-.9h0m-13.2 1.1h0m10.4 3.1h0m.5-2.2h0m66 1.6h0m-10.9 1.7h0m-5.1 2.2h0m-.1-.1h0m-.9 0h0m-1.8-1h0m10.6 1.9h0m-3 4.7h0m-1.7 .3h0m-31.1 1.5h0m28.7-1h0m-30 4.2h0m-3.4 4.2h0m-.9 2h0m-.4 3.8h0m.2 .6h0m1.8-.8h0m1.3 .2h0m-6.9 5.1h0m5.7 1.3h0m.1-1.6h0m1.1-.8h0m0 2.2h0m1.5-1.2h0m1.2-1.1h0m.7 2.2h0m1.5-1h0m1 .1h0m-9.6 2.8h0m9 3h0m-11.6 4.6h0m-2.9-1.3h0" stroke="#cd796a" stroke-width="1.1" stroke-linecap="round" stroke-opacity="0.68"/>
<path d="M42.9 234.8h0m3.4 4.8h0m4.8 5.8h0m-9-.1h0m-.8 2h0m5.5 1.2h0m.3 .3h0m.3-.5h0m12.4 3.5h0m-3.5-2.4h0m3.5 4.1h0m-8.3 4.1h0m-14.7-2.1h0m7 2.6h0m6 2.6h0m2.8-2.4h0m-13.5 4.1h0m3.8 1.8h0m98.5 4.4h0m-.6-.7h0m-4.7-.2h0m-15.4 1.9h0m-2-.1h0m-51.1 .2h0m-.4-.3h0m-.7 .4h0m-3.2 0h0m3.2 1.7h0m58.6-1.4h0m10.2 .3h0m1.6 2.4h0m.5-1.2h0m4.9 .8h0m2.4-.2h0m1.5 1.5h0m-3.7 1.5h0m-5.5 .5h0m-3.6-.5h0m-14.8-1.9h0m-51.8 2.2h0m-.5-1.8h0m-.7 4.1h0m50.9 .5h0m1.9 0h0m2.1-1.2h0m.1 .5h0m6.9 0h0m4 1.2h0m.1 .1h0m5.4-1.2h0m.3 .4h0m1.8 0h0m.7 .8h0m.5-1.7h0m1.2 .6h0m.8 .7h0m0-2.1h0m1.2 1.3h0m1.9 1.5h0m-8.8 2.2h0m-1.4 .4h0m-.5-1.7h0m-2.7 .5h0m-2-.3h0m-.3-.3h0m-1.3-.6h0m-1.1-.3h0m-.3 2.8h0m-.5-.1h0m-.8-1.3h0m-3.1-.4h0m-7.7 .3h0m-6.3 1.1h0m-40-1.5h0m-14.2 1.5h0m47.4 1.1h0m1.2 .9h0m10 1.4h0m3.3-2.7h0m11.5 .4h0m3.4 .9h0m0-1h0m.8 2.4h0m2.9-.1h0m.6 2.2h0m-2.1-1.6h0m-.9 1h0m-2.3-.9h0m-.8-.3h0m-3.6 1.9h0m-1.6-.7h0m-11.2 .6h0m-.1-.6h0m-.3 0h0m-17.9 .1h0m-43 .6h0m1.2 2h0m38.4 1.7h0m8.5-1.7h0m7.7-.3h0m1.3 1.3h0m13.7-1.1h0m.9 .8h0m.3-.4h0m.8-.6h0m.5-.6h0m.2-.1h0m.8 .5h0m.8 .6h0m.5 .7h0m5.7 .7h0m1-1.4h0m-6.1 2h0m-26.3-.2h0m-2.1 .3h0m-3.2 1.9h0m-23.3 1.6h0m18 1.7h0m1.2-2.3h0m4.4 1.4h0m4.8-1h0m.4 .9h0m.8-1.4h0m-7.9 4.1h0m-1.8 1.4h0m-1.6-1.9h0m-.8 .9h0m-2.3-1.5h0m-13.7 .9h0m-4.2 1.8h0m-2.1 1.1h0m1 .4h0m.9 .7h0m4.5 .7h0m2.5-1.7h0m25.5 2.6h0m-1.7 .5h0m-9.4 .3h0m-14.1 1.5h0m-12.3 .9h0m9.9-.7h0m4.7 2.5h0m9.7-2.5h0m10.5 2.7h0m0-1.6h0m.4 1.8h0m5 2.8h0m-20.3-2.3h0m-.5 2.2h0m-9.9-1.9h0m-5.9 3.6h0m5.3-.7h0m.4 1.4h0m3.4-1.9h0m17.3 2.7h0m.7-.3h0m3.4-1.3h0m.7 1.4h0m1-2.6h0m0 4.1h0m0-.8h0m-.3 2.1h0m-1.8-.7h0m-5.9-.5h0m-3.3 .9h0m-17.9-1.9h0m-5.6 1.4h0m1.4 1.4h0m19.5 .5h0m.9 1.5h0m3.3-1.2h0" stroke="#9e417e" stroke-width="1.1" stroke-linecap="round" stroke-opacity="0.68"/>
<path d="M59 255.7h0m-17.7 4.6h0m23.4-.7h0m60.6 2.6h0m-58 4.6h0m72.6-1.3h0m4 3.3h0m-.4 .5h0m-3.2 .5h0m-3-.8h0m-98.9-.1h0m25 1.2h0m.6 .8h0m4 1.9h0m75-.1h0m1.5-.4h0m.4-2h0m.1 2.4h0m1-.7h0m-.9 4h0m-1.1-2h0m-.1 .8h0m-1.9-.2h0m-2 .1h0m-1.5-.7h0m-3.3 1.9h0m-.5 0h0m-7.9 .1h0m-8-2.5h0m-.3 .1h0m-1.1 .7h0m-64.8 .2h0m14.4 2.8h0m47 1.5h0m1.9-2.1h0m5.9 0h0m3.1 1.1h0m2.4 .2h0m1.2-.3h0m1.4 .4h0m1.1-1.4h0m.8 0h0m.6-.1h0m.2 2.3h0m3-1.2h0m3.6-1.5h0m2.1-.1h0m2.7 1.7h0m.8-.3h0m.3 1.3h0m2.7-2.1h0m-16.3 4.1h0m-.5-1.3h0m-1.3 2h0m-2-2.4h0m-5.4 .6h0m-8 1.3h0m-11.3 0h0m5.7 3.8h0m1.8-.8h0m2.6-1.7h0m1.4 2.4h0m.9 .3h0m0-.9h0m.2-.6h0m6.1 1.4h0m2.7-2.9h0m.4 .6h0m.8 .9h0m.3 .8h0m.5 .1h0m3-1h0m.1 .6h0m.5-1.1h0m.4 1.1h0m1 .2h0m.3 .7h0m.2-2.5h0m3.1-.1h0m1.5 4.8h0m-2.8-1.1h0m-6.9 1.7h0m-.8-1.7h0m-.4-.5h0m-.1-.1h0m-.3 2.3h0m-.1 .1h0m-2.5-.5h0m-8.6-.9h0m-1-1.3h0m-.8 2.4h0m-.5-.6h0m-6-1.4h0m-.5 1.6h0m-5.5 .2h0m-7.4 .5h0m-38.7 2.5h0m1 .2h0m19.8-1.3h0m14.6-1.1h0m2.3 1.5h0m7.7-1.2h0m4.2 1.7h0m5.4 .2h0m2.2-2h0m1 .1h0m10.6-.2h0m1.7 .3h0m3.2 .9h0m.4 .7h0m.9-.4h0m.4-.8h0m-22.9 2.2h0m-6.3 2.5h0m-1.2-.5h0m-1.1-2h0m-2.5 2.1h0m-18.5-.2h0m-20.6 .2h0m-1.1 3h0m11.7-2h0m22.5 .6h0m4.5 .6h0m10.3-1.2h0m22.7 4.9h0m-31.1-1.9h0m-.9 2.6h0m-1-1.6h0m-19.1 1.6h0m-1-.5h0m-6.5-.7h0m.8 4.1h0m.5-.7h0m1.1 .5h0m1.4 .3h0m.2-.5h0m5.8-.4h0m12.5-1h0m5.2 .9h0m29.4 .2h0m3.6 1h0m-.5 1.7h0m-.4-.1h0m-.4-.2h0m-1.5-1.3h0m-1 1.7h0m-20.3-1.7h0m-14.8 2.2h0m-3.5-2h0m-1.6 2.7h0m-1.4-2.8h0m-10.9 1.4h0m-9.3 2.4h0m20.8 1.3h0m42.8-1.9h0m.6 0h0m.5 2.5h0m.4-2.8h0m.1 3h0m-2.7 .9h0m-21.1 2h0m-.5-.5h0m-21-1.1h0m-.3-.4h0m-2.3-.9h0m-9.8 .9h0m-1.5 1.2h0m-6.6 2.8h0m18.3-1.6h0m19.8 2.5h0m.9-.6h0m-.9 2.4h0m-1.6 1h0m-1.5-2.6h0m-.3 2.1h0m-5.6 .6h0m-.6 .1h0m-17.2-1.6h0m-.5-.7h0m-3.2 3.1h0m24.5 .2h0m-27.2 5.1h0m14.3 5.3h0m-21.8 16.5h0" stroke="#751c86" stroke-width="1.1" stroke-linecap="round" stroke-opacity="0.68"/>
<path d="M45.9 233.8h0m-3.3-1.8h0m1.9 16.1h0m2.9-.6h0m10.2 1h0m-.7 1.3h0m-8.3 .8h0m-1.9 .1h0m-4.1 1.6h0m19.4 3h0m-9.3 1.3h0m-.7 0h0m-2.7-.2h0m-13.9-.4h0m89.3 5.6h0m-70.7 .9h0m-7.7 1.2h0m1 1.7h0m.9 .9h0m18.9-.2h0m1.2 .9h0m54 1.8h0m-57.9-1.1h0m-2.1 1.4h0m4.8 2.3h0m1.8-1.2h0m49.3 2.7h0m17.3 2.8h0m-16.5-2.5h0m-.8 1.7h0m-16.3 3.5h0m8.9-.3h0m8-.4h0m7.8-.4h0m1 .8h0m1.4 .5h0m2.1-.4h0m.4 .3h0m3.6 2.8h0m-3.6-.6h0m-1.2 .5h0m-.2 .7h0m-.6-2.6h0m-2.4 1.8h0m-5.5-.4h0m-.1 .6h0m-3.4-1.9h0m-2.6-.1h0m-.6 1h0m-13.5-.2h0m-50.6 3.1h0m53.3 1.7h0m23.7-2.7h0m2.5 .1h0m1.2 .9h0m4.9 4h0m-4.4-.1h0m-.9 .3h0m-6.7 0h0m-3.8 0h0m-9.7-1.7h0m-.4 2h0m-2.1 .1h0m-1.9-1.1h0m-3.5-1.3h0m-9.8 3.6h0m17.7-.1h0m11.3-.1h0m5.9 .2h0m4.3-.8h0m-2.3 3.2h0m-6.6 1h0m-50.5 4.5h0m.7-1.4h0m20.5-1.4h0m-2.8 5.1h0m-.2 .5h0m-5.1-1.4h0m-19.2 .8h0m3 1.6h0m8.2 2h0m11-.6h0m-12.6 2.4h0m-2.8 4.3h0m1.1-.7h0m1-1h0m3.5-.7h0m2.3 2h0m.4 1.4h0m-2.1 1h0m-5.9 .2h0m-6.6 .1h0m3 2.7h0m1.7 0h0m3.4-1.1h0m-2.5 5.3h0m-4.2-2.8h0m-1.2 1.5h0m-1.1-.2h0m.5 4.5h0m1.1-1.7h0" stroke="#c06771" stroke-width="1.1" stroke-linecap="round" stroke-opacity="0.68"/>
<path d="M45.4 241.7h0m2.4 .4h0m-9.4 5.5h0m10.8-.8h0m-3.5 2.9h0m3.9 6.5h0m4.8 5.4h0m-13.9-.2h0m3.3 4.6h0m23.9 2.3h0m-2.7 4.3h0m4.4 1.2h0m-22.4 1.7h0m1.2 1.6h0m-.9 2.6h0" stroke="#e3a55d" stroke-width="1.1" stroke-linecap="round" stroke-opacity="0.68"/>
<path d="M42.9 231.6h0m4.6 5.8h0m.9 7.6h0m-10.2 3.4h0m4.8 1.5h0m-.4 1h0m-.5 3.1h0m6.1 0h0m-12.3 1.8h0m89.2 3.9h0m-60.9 2.7h0m-24.1-1h0m-2.2-.1h0m27.4 4.9h0m58 .6h0m-.6 2.2h0m-80.4-.8h0m-6 3.5h0m11.5 .9h0m17.7-.5h0m75.8 1.4h0m-14 .5h0m-3.9 .2h0m-2.8 .6h0m-.6-.6h0m-1.2 .5h0m-1.4-.9h0m-2.6 1.6h0m-48.2-.5h0m-.6 .2h0m1 1h0m34.7 2.5h0m.2 .1h0m14.6-.7h0m.9-.2h0m1.6-1.1h0m5 1.3h0m2.9 .7h0m1.4-.1h0m.5-.7h0m5.7 .2h0m7.4 .1h0m-7.9 3.2h0m-1.6-.2h0m-2.6 .1h0m-.2 0h0m-3.7-1.2h0m-.2-.3h0m-7.4 .8h0m-4.3-.7h0m-.1 .1h0m-12.3 1.4h0m1.2 2.6h0m23.2-.5h0m4.7-.9h0m4.8-.2h0m-.7 3.5h0m-1 1.9h0m-19.1-1.5h0m-4-1h0m-4.2 2h0m-3.9 .6h0m-11.2-.9h0m-15.5 2.8h0m14.2-.2h0m.1 .8h0m1.8-1.1h0m.6 .6h0m1.5-.9h0m1.4 1.9h0m.6-1.2h0m2-.2h0m3.5 0h0m23.7-1.1h0m4.5 1.7h0m3-.2h0m-12 2.1h0m-16.6 1.3h0m-2.5-.2h0m-4.2-1.6h0m-1.1-.3h0m-1.5 2.4h0m-.5-1.2h0m-3.2 .8h0m3.1 1.2h0m.4 1h0m.3 .9h0m0 .2h0m2-.3h0m-.9 3h0m-.4-1.8h0m-4.9 1.7h0m-2.2-.4h0m-16.3 .9h0m-2.1-.5h0m-.1-1.6h0m-.3 2.2h0m-3 2.2h0m1.1-1h0m.7 2h0m26.3-.5h0m1.6 1.6h0m-4.3 .6h0m-.8-.3h0m-10.5 1.2h0m-1.3-1.6h0m-3.5 1.1h0m-2.3-1.3h0m-1.9-.5h0m-5.2 1.6h0m-.7-1.1h0m-3.8-.5h0m1.7 4.2h0m.4-.2h0m5.7 .6h0m0-1.8h0m.5 2h0m3.9-.6h0m1.2 1.3h0m.6-.3h0m.8-.5h0m.9-1.2h0m2.2 1.6h0m2.1 3.4h0m-6.1-2.7h0m-.4 3h0m-1.6-2.5h0m-7.5 .2h0m12.3 7.1h0m-9.7 .3h0m-1.9 2.7h0" stroke="#b25577" stroke-width="1.1" stroke-linecap="round" stroke-opacity="0.68"/>
<path d="M45.2 239.8h0m3.7 12h0m12.7 5.7h0m-.7-1.3h0m-.7 .3h0m64.4 1.9h0m-61.7 2.9h0m-20.3 .3h0m21.6 3.8h0m75.3 2.9h0m-16.3-.2h0m-.5 .1h0m-1.9 .6h0m-64.7 3.9h0m8.4-1.2h0m.8-1.3h0m2.1 0h0m63.2 .6h0m6.8 1.4h0m2-.9h0m0 .5h0m.1-1.2h0m.7 2.1h0m0 .2h0m1.4-1.6h0m2.6 .7h0m5.7 1.6h0m-4.8-.2h0m-1 .5h0m-.9 1h0m-1.5 0h0m0-.2h0m-1.1 .4h0m-4.3 .4h0m0-2.5h0m-3.4 2.1h0m-10.1-1h0m-2.9 .6h0m-52.1-.2h0m-22.7 .4h0m21.5 2.8h0m47.9 1h0m9.9-2.2h0m3.6 1.1h0m1.6-1.5h0m1.2 2.6h0m3.9-1.5h0m1.9 .6h0m.1-1.8h0m3.4 1.2h0m1.8 1.5h0m4.8 .6h0m-2.5-.2h0m-10.4 1.7h0m-.8 .9h0m-2.4 .2h0m-8.4-.5h0m-9.5-.6h0m-.2 .5h0m-1.6 .5h0m-9.1 .4h0m.3 2.2h0m1.9-1h0m0 1.1h0m19.1-1.5h0m1.5 1.9h0m3.4-.9h0m.9-1.9h0m.7 1h0m1.8 1.4h0m2.3-2.1h0m2.3 2.8h0m-1.9 1.2h0m-.1-.4h0m-.9 1.8h0m-2.2-1.4h0m-4.5 .7h0m-.2 0h0m-.3-1.8h0m-.4 1.4h0m-4.1-1.1h0m-3.9 1.1h0m-12.8 .2h0m-52.2 2.5h0m1.7 .8h0m21.7-.7h0m12.7-1.2h0m2.9 .4h0m4.2 .8h0m29.5 1.3h0m9.8-.3h0m-36.1 2.7h0m-1.2-1.9h0m-1.3 1.2h0m-1-.3h0m-.8 .9h0m-42.8 .1h0m1.9 1.5h0m4.3 1.5h0m33 .5h0m6.7-1.7h0m2.6-.5h0m-2.6 5.4h0m-4.7-1.6h0m-.2-.7h0m-1.5 1.5h0m-2 .1h0m-19.6-2.1h0m-.2 1.8h0m-.4-1.2h0m-9.7 1.5h0m-.4-.1h0m-.6-1.8h0m7.4 4.3h0m3.1 .8h0m1.4-1.5h0m1.3 1h0m19.1 .1h0m1.6-1.6h0m34.2 2.4h0m-1 2.2h0m-.3-1.5h0m-23.5 2.4h0m-2.3 0h0m-9.6-.6h0m-5.8 .4h0m-5.8-.2h0m-5.1-2.5h0m-1.4 1.6h0m-1.2-1.2h0m15.3 3.4h0m1.3 1.3h0m10.8-.1h0m2.6 .6h0m.6-2.5h0m23.5 .4h0m.8 .7h0m3.5-.2h0m-23.7 2.4h0m-2.1 2.5h0m-1.8-2.7h0m-25.7 0h0m-1.8 1.5h0m-.2 .8h0m-.7-2.3h0m-2.1 2.4h0m-3 1.8h0m2.4 0h0m.8 .7h0m.5-1.5h0m26.1 .2h0m1.1 .6h0m3.5-1.1h0m.2 1.7h0m-.7 1h0m-.3 2.4h0m-3.4-1.6h0m-.5 .1h0m-.1 1.9h0m-1.4-2.4h0m-3.3 2.1h0m-23.1-.8h0m-2.9 2.3h0m21.6-.6h0m7 2.4h0" stroke="#892d83" stroke-width="1.1" stroke-linecap="round" stroke-opacity="0.68"/>
<path d="M44.2 231.9h0m-9.9 24.2h0m91.3 2.6h0m-84.4 5h0m106.3 6h0m-7.5-1.7h0m-16.4 1.9h0m-54.5 .5h0m50.2 .8h0m22.8-.7h0m.7 .6h0m.2-.7h0m1.2 1.9h0m.3-.7h0m2.3 .9h0m-2.8 1h0m-.4 .3h0m-1.9 .5h0m-.8-.9h0m-2.1 1h0m-3.8-.3h0m-1.9 1.1h0m-13.2-.3h0m-2.1-.4h0m-2.2-1.3h0m-48.9 1h0m32.2 3h0m14.8-.3h0m9.8 .4h0m1.5 .2h0m1.1 0h0m3.1 .6h0m.8 .2h0m.1 .6h0m7-2.8h0m2.6 1.4h0m1.1-.5h0m1.9 1.8h0m.3-2.8h0m4.2 .9h0m-11.2 2.8h0m-.8-.6h0m-1.8-.1h0m-1.6 .9h0m-.4 .9h0m-1-1.2h0m-1.8 .3h0m-12.3 1.1h0m-.8-1.8h0m-12.5 2.9h0m11.9 .2h0m.2 .6h0m1.6-.2h0m13 1h0m.7 .6h0m.2 .6h0m.3-.1h0m.6-1.2h0m2.9 0h0m8.7-1.2h0m-10.5 5.1h0m-1.6-1.7h0m-1.1 .5h0m-.6 1.3h0m-1-1.3h0m-.9 .2h0m-.5 1.1h0m-2.2-1.6h0m-.2 1.7h0m-.6-1h0m-.3-1h0m-11.2 2.3h0m-.8-1.4h0m-.3-.2h0m-3.1 1.6h0m-19-.4h0m-1.5 .3h0m-35.2 .1h0m1.6 2.9h0m38.3-.6h0m1.1-.7h0m11.7-1h0m15 .6h0m1.4-.1h0m7.4 1.8h0m.6-1.2h0m.8-.3h0m1.5 .7h0m-34.1 2.7h0m-5.6-.8h0m-39.7 1.3h0m.1 1.7h0m.8-.2h0m2.8-.3h0m16.6 .1h0m1 .2h0m18.6 .7h0m2.7-.8h0m.7 .7h0m2.9 .5h0m.9-1.8h0m.7 3.2h0m-4.7 1.3h0m-3.8 0h0m-1.6 .1h0m-1 .5h0m-1-1.3h0m-33-.3h0m-.1 0h0m20.8 3.6h0m6.1 .1h0m8.8 .4h0m2.5-1.6h0m2.2 .1h0m28.6 5.5h0m-22.2-.6h0m-11-1.3h0m-10.5 .4h0m-1.8 1.5h0m-7.3-.1h0m-.2 .3h0m-4.6-2.2h0m-.6 1.6h0m18.8 1.8h0m12.3-.4h0m2 1.2h0m1.4-1.4h0m23.7-.1h0m1.6 2h0m2.4 .8h0m-27.9 .4h0m-13.6-.4h0m-8.2 .4h0m-2.8 .5h0m-.3-.9h0m-3.3 .1h0m-11.4 5.6h0m7.6-.4h0m1.9-.2h0m.5-.5h0m1.3-1.3h0m.8 1.7h0m5.8-1.6h0m20.9 2.2h0m.5 .7h0m-3.9-.2h0m-.6 2.5h0m-2.9-1.8h0m-19.7 .7h0m-1.2-1.5h0m-1.9 1.6h0m-1.3-1.1h0m-2.1-.4h0m2.6 3.7h0m23.2-.1h0m1.2-.8h0m3.2 2h0m-29.8 1.5h0m14 5.4h0m.3 1.9h0m-.6 .6h0m-2.3 .6h0m-19.6 14.6h0m.5 1.6h0" stroke="#460f7f" stroke-width="1.1" stroke-linecap="round" stroke-opacity="0.68"/>
<path d="M56.7 249.5h0m3.8 7.9h0m-2.9-2.1h0m66.9 10.4h0m17.8 3h0m-1.2 .8h0m-2 0h0m-19.7 .5h0m-51.7-1.4h0m-.4-.2h0m-.9 .1h0m-25.6 1h0m21.7 2.5h0m4.7 .2h0m1.3 .2h0m1.7-2.2h0m4.3 1.8h0m44.3 .7h0m2.9-1.4h0m.4-1.1h0m3.1 .5h0m13.1 1.4h0m1.5 .4h0m.3-2h0m1 1.2h0m2 1.3h0m.7-2.7h0m1.7 5.1h0m-4-1.6h0m-2.7 .9h0m-3.2-.5h0m-8.3 .6h0m-5.8 1h0m-2-1.3h0m-1 .3h0m-.9 .9h0m-.5-.8h0m-54.8-1.8h0m37.2 5.6h0m18 .2h0m7-1.6h0m3.8 1h0m.9-1.2h0m2.2-.3h0m1.7 1.4h0m1.6-2h0m.4 .1h0m1.5 1.7h0m1.3-.1h0m1.1 0h0m.1-.8h0m2.6-.3h0m1.5 1.9h0m4.1-2.7h0m-4.9 4h0m-1-.1h0m-4 .8h0m-1.7-1.3h0m-.9 .6h0m-1.5 1.7h0m-.6-.3h0m-.2-.5h0m-2-1.5h0m-.9 1.2h0m-2.8-1.1h0m-7.4 .6h0m-16.1 3.8h0m.4 .4h0m1.4-1.5h0m4.9 1.5h0m1.1 .3h0m5.3-2.5h0m2.6 1.8h0m2 .5h0m4.1-2.1h0m3.3 .6h0m1.7 .8h0m.8 1.2h0m.2-2h0m1.1 1.1h0m5.2 .2h0m0 1.1h0m-12.8 2.2h0m-1.1-2h0m-.7 1.9h0m-1.7-1.8h0m-11 .9h0m-6.3-1.3h0m-.9 1.9h0m-49.7 2.6h0m23.1-.8h0m12-.5h0m3.7 2.1h0m2-2h0m10.1-.1h0m3.1 .8h0m.5-.3h0m8.2 .9h0m7.1 .3h0m1.7-.4h0m.2-.1h0m5.9 .7h0m1.2-2.3h0m7.5 .6h0m-31.8 2.5h0m-6.6 .9h0m-1.1 1.7h0m-2.1-1.8h0m-3.6 .6h0m-40.6 .7h0m-.2-1.3h0m-1.6-.7h0m3.1 5.4h0m.8-2.1h0m1.2 1.8h0m11.1-1.5h0m2.5 1.4h0m1.3-1.4h0m20.2 1.5h0m0 0h0m4.6-2.1h0m.6 1.8h0m-4.7 3.8h0m-2.9-1.1h0m-23.3-1.4h0m-9.1 0h0m-.4 2.2h0m-1.4-1.8h0m-.2 2h0m2.2 .6h0m9-.2h0m.8 2.3h0m22.5-.7h0m.2-1h0m35.5 2h0m.9-.5h0m.8 3.2h0m-3-1.8h0m-.4 .3h0m-22.6 .8h0m-4.4-1.4h0m-2.9 1.3h0m-.5-.9h0m-5.6 2.2h0m-1.6-2.6h0m-12.6 .9h0m-2.1-.8h0m-.9 .9h0m-2.6 .2h0m0 .5h0m-3.3-.2h0m5 1.5h0m2 1.3h0m7 .6h0m2.5-.4h0m21 1.1h0m24.4-.9h0m-45.6 2.3h0m-7.6-.4h0m-2 1.1h0m-4.3-1.6h0m-7.4 4.2h0m.2-.8h0m.6 .4h0m6.1-.4h0m2-.2h0m1.6 1.6h0m2.9-1.3h0m30.2 2.1h0m-1.1 2.3h0m-1.4-1.6h0m-3.4-.4h0m-10.3 2.5h0m-.1-1.3h0m-14.3-.9h0m-4.2 1.4h0m-3.3 1.9h0m32-.5h0m-31.2 3.6h0m14.1 5.9h0m-.4 1.9h0m-.4 .2h0m-.1-.3h0m0 .1h0m-.1-1.9h0m-19.9 17.6h0m-1.3 .1h0m-1.1-.3h0" stroke="#5e1284" stroke-width="1.1" stroke-linecap="round" stroke-opacity="0.68"/>
<path d="M60.1 256.3h0m4.8 2.4h0m81.5 10.7h0m-79.4 .3h0m-.3-.2h0m77.6 2.4h0m1.4 2.5h0m-2.4-.4h0m-5.9 .8h0m-96.1-.5h0m60.3 2.3h0m13.1 1.9h0m3.2-.9h0m11 .2h0m6.2 .7h0m2.2 0h0m2.2-1.2h0m2.5-.3h0m.3 .2h0m1.6 1.3h0m-10.2 3.3h0m11.4 4.7h0m-22.6 .1h0m-10.5-.7h0m-.5-.9h0m-5.6 .9h0m-54.2 2.8h0m.7 0h0m1 .9h0m36.4-.2h0m12-1.3h0m35.6 .2h0m-41.5 3.9h0m-41.4 1.7h0m1.2 2.3h0m1.6 0h0m.1 .3h0m16.5-1.2h0m24.1 1.6h0m-4.5 1.5h0m-1 .9h0m-.3-1.8h0m-.2 0h0m-4.4 2.2h0m-29.2-2.3h0m0-.1h0m-1.9 .2h0m29.4 4.6h0m43 .5h0m.6 .3h0m-2.1 .5h0m-2 2.3h0m-24.8-.7h0m-12.7-.2h0m-12.4 3.7h0m10.7-1.1h0m1.9 .7h0m10.5-.2h0m28.3 .3h0m.5-.7h0m-1.1 1.6h0m-56.7 2.4h0m-1.1 .4h0m-9.6 2.3h0m.1 .4h0m.6-.4h0m1.7-.5h0m9.8-.5h0m27.7 1.3h0m1.1-2.1h0m2.2 3.8h0m-5.4 .7h0m-.3-1.3h0m0 1.7h0m-4 .6h0m-32.3-2.8h0m32.8 3.6h0m-12.9 9.5h0m-.9 .8h0m-20 16.7h0m-.3 1.8h0m-.4-.8h0m-.4-1.7h0m0 1.6h0" stroke="#100d66" stroke-width="1.1" stroke-linecap="round" stroke-opacity="0.68"/>
<path d="M40.4 238h0m10.9 3.2h0m74.4 21.3h0m-1.1 3.9h0m1.7 .5h0m16.3-.3h0m3 2h0m-1.4-.4h0m-1.5 1.5h0m-1.5-1.3h0m-.2 .8h0m-19.8-1.5h0m-56.2-.6h0m-2.2 1.1h0m.6 2.5h0m.7 .4h0m74.5 .6h0m.3 .4h0m1.8 .2h0m.1 .6h0m.1-1.4h0m1.5 1.1h0m.9-.1h0m1-.2h0m0-.6h0m.5-1.4h0m1 2.3h0m-.1 2.5h0m-.2-.7h0m-2.7 .5h0m-1.2-.5h0m-.4-1.2h0m-2.8 1.6h0m-1.4-1.4h0m-.2 1.5h0m-2.3 .9h0m-18.3-.2h0m-60.1 2.4h0m80.9 0h0m.5 0h0m.6-2h0m2.5 2.8h0m4.8-2.1h0m3.5 .1h0m-23.8 3.7h0m-23.3-.6h0m-1.8-.6h0m4.1 5.2h0m29.7 3h0m-4.6-2.4h0m-22.6 .8h0m-16.2 2h0m-3.5-.6h0m-33.6-1.3h0m-.8 3.5h0m.8 1.5h0m21.6-.1h0m12.9-.4h0m8.5-.9h0m15.6-.7h0m16.5 2.8h0m-23.5-.6h0m-4 1.4h0m-6.3-.7h0m-1.7-.2h0m-.7 1.9h0m-38.1-1h0m0 1.1h0m0-1.4h0m.8 2.3h0m13.4 1.4h0m23.1-.7h0m1.3-.4h0m3.5 1.5h0m.3-2h0m.6 .8h0m.8-.8h0m-4.1 4.9h0m-2.8 0h0m-18.2 .7h0m-.7-.5h0m-4.3-1.9h0m-8.6 2.1h0m-.9-1h0m12.3 3.8h0m17.3-.3h0m2-.6h0m1.7 .1h0m9-1h0m24.8 .9h0m.5 3h0m-1.4-1h0m-24.3 2.2h0m-9.7-.4h0m-3-.3h0m-.1 1h0m-13.5-.2h0m-.3 1.8h0m2-.6h0m5.7 1.6h0m19.9-2.5h0m.5 .2h0m24.1 2.6h0m2.9-1.3h0m-26.6 3.2h0m-21-.6h0m-22.9 3.5h0m.2 .4h0m.7 .1h0m.4 .3h0m17.1-1.2h0m5.1-.5h0m13.1 2.1h0m5.3-.3h0m1.4-.1h0m1.7-2.1h0m.5 0h0m-11.1 5.4h0m-.7-.8h0m-23.4 3.3h0m11.7 8.6h0m-.6 .5h0m-21.4 15.5h0m-.8 1.3h0m-.6 .5h0" stroke="#2c0e73" stroke-width="1.1" stroke-linecap="round" stroke-opacity="0.68"/>
<line x1="31" y1="223.5" x2="31" y2="353.9" stroke="#000" stroke-width="1.2"/>
<line x1="30.4" y1="353.3" x2="152.1" y2="353.3" stroke="#000" stroke-width="1.2"/>
<line x1="28" y1="226.9" x2="31" y2="226.9" stroke="#000" stroke-width="1.1"/>
<text x="24.5" y="229.4" font-size="8.7" text-anchor="end" textLength="4" lengthAdjust="spacingAndGlyphs">5</text>
<line x1="28" y1="272.8" x2="31" y2="272.8" stroke="#000" stroke-width="1.1"/>
<text x="24.5" y="275.3" font-size="8.7" text-anchor="end" textLength="4" lengthAdjust="spacingAndGlyphs">0</text>
<line x1="28" y1="318.7" x2="31" y2="318.7" stroke="#000" stroke-width="1.1"/>
<text x="24.5" y="321.2" font-size="8.7" text-anchor="end" textLength="8.6" lengthAdjust="spacingAndGlyphs">−5</text>
<line x1="47.4" y1="353.3" x2="47.4" y2="356.3" stroke="#000" stroke-width="1.1"/>
<text x="46.1" y="365.7" font-size="8.7" text-anchor="middle" textLength="8.6" lengthAdjust="spacingAndGlyphs">−5</text>
<line x1="76.8" y1="353.3" x2="76.8" y2="356.3" stroke="#000" stroke-width="1.1"/>
<text x="76.8" y="365.7" font-size="8.7" text-anchor="middle" textLength="4" lengthAdjust="spacingAndGlyphs">0</text>
<line x1="106.2" y1="353.3" x2="106.2" y2="356.3" stroke="#000" stroke-width="1.1"/>
<text x="106.2" y="365.7" font-size="8.7" text-anchor="middle" textLength="4" lengthAdjust="spacingAndGlyphs">5</text>
<line x1="135.5" y1="353.3" x2="135.5" y2="356.3" stroke="#000" stroke-width="1.1"/>
<text x="135.5" y="365.7" font-size="8.7" text-anchor="middle" textLength="8.6" lengthAdjust="spacingAndGlyphs">10</text>
<text x="91.5" y="378.9" font-size="9.9" text-anchor="middle" textLength="28.8" lengthAdjust="spacingAndGlyphs">UMAP_1</text>
<text x="9.3" y="292" font-size="9.9" text-anchor="middle" textLength="29.2" lengthAdjust="spacingAndGlyphs" transform="rotate(-90 9.3 288.4)">UMAP_2</text>
<defs><linearGradient id="g1513" x1="0" y1="0" x2="0" y2="1"><stop offset="0" stop-color="#0d0887"/><stop offset="0.13" stop-color="#4c02a1"/><stop offset="0.25" stop-color="#7e03a8"/><stop offset="0.38" stop-color="#a92395"/><stop offset="0.5" stop-color="#cc4778"/><stop offset="0.63" stop-color="#e56b5d"/><stop offset="0.75" stop-color="#f89441"/><stop offset="0.88" stop-color="#fdc328"/><stop offset="1.0" stop-color="#f0f921"/></linearGradient></defs>
<rect x="151.3" y="280.3" width="5" height="24.4" fill="url(#g1513)"/>
<line x1="151.3" y1="287.5" x2="152.4" y2="287.5" stroke="#fff" stroke-width="0.5"/>
<line x1="155.2" y1="287.5" x2="156.3" y2="287.5" stroke="#fff" stroke-width="0.5"/>
<line x1="151.3" y1="292.9" x2="152.4" y2="292.9" stroke="#fff" stroke-width="0.5"/>
<line x1="155.2" y1="292.9" x2="156.3" y2="292.9" stroke="#fff" stroke-width="0.5"/>
<line x1="151.3" y1="298.6" x2="152.4" y2="298.6" stroke="#fff" stroke-width="0.5"/>
<line x1="155.2" y1="298.6" x2="156.3" y2="298.6" stroke="#fff" stroke-width="0.5"/>
<text x="151.3" y="277.9" font-size="5.9" textLength="15.5" lengthAdjust="spacingAndGlyphs">Exprs</text>
<text x="158.2" y="284.1" font-size="5.4" textLength="3.1" lengthAdjust="spacingAndGlyphs">4</text>
<text x="158.2" y="289.4" font-size="5.4" textLength="3.1" lengthAdjust="spacingAndGlyphs">3</text>
<text x="158.2" y="294.8" font-size="5.4" textLength="3.1" lengthAdjust="spacingAndGlyphs">2</text>
<text x="158.2" y="300.5" font-size="5.4" textLength="3.1" lengthAdjust="spacingAndGlyphs">1</text>
<text x="158.2" y="305.9" font-size="5.4" textLength="3.1" lengthAdjust="spacingAndGlyphs">0</text>
<text x="264" y="219.9" font-size="10" text-anchor="middle" textLength="18.3" lengthAdjust="spacingAndGlyphs" font-style="italic" fill="#111">IFNγ</text>
<path d="M219.2 232.9h0m-1.2 .1h0m0 .8h0m-1.7-1.9h0m-.4-.2h0m-.8-.6h0m-.1 .5h0m-.3 .4h0m-.7-.1h0m-.1-.5h0m-.8 1.4h0m0 .2h0m-2.2 1.2h0m.8 2h0m1.1-1.8h0m2.2 .4h0m.3 .7h0m.3-1h0m.1 1h0m.4 0h0m.2-.2h0m.5 1.1h0m.9-.2h0m.2-1.8h0m0-.1h0m.9 1.8h0m0-1.8h0m1.1 1.6h0m1.7 1h0m-1.3 2.5h0m-.1-.4h0m-.6-1.6h0m-1.2 2.2h0m-.4-.7h0m-.3-1.2h0m-.4 2.1h0m-.5-2.7h0m-.2 1.6h0m-.4 .8h0m-.1-1.6h0m-.1 1.6h0m-.3-.2h0m-.1-.4h0m-.3-.2h0m-.2-.4h0m0-.4h0m-.3-.4h0m-.2 2h0m-.2 .2h0m-.1-1h0m-.2 .1h0m-.1 .5h0m-.4-1h0m-.1-.4h0m-.3 1.7h0m-.7-1.6h0m1.4 2.1h0m.8 1.7h0m.1 .1h0m.9-1.6h0m.5 .8h0m.3-.3h0m.9 .4h0m.6 1h0m.7-1.8h0m0-.1h0m.1 2h0m.9 .7h0m.1-1.3h0m.1 .4h0m.2 .1h0m.5-.9h0m.5 1.2h0m.9-1.8h0m1.4 .5h0m.3 .8h0m3.5 3.8h0m-4-.4h0m-.1-.2h0m-.8 .7h0m-.7-.4h0m-1.1-.7h0m0 .2h0m-.3-.8h0m-.3 1.4h0m-1.1-2h0m0 1.9h0m-.4-1.6h0m-.2 1.5h0m0-.6h0m-.2-.4h0m-.5 1h0m-.3-1.6h0m-.3 1.9h0m-.4-.7h0m0-1h0m-.1 .3h0m-.1 1.6h0m-.4-2.5h0m-.8 1h0m-.4-.1h0m-.4 .4h0m-.1 .6h0m-3.8-1.3h0m-3.5 4.4h0m.9 .3h0m.7-1h0m.1 1h0m.1-.4h0m.3-.2h0m.2-.9h0m.8-.7h0m.2 2.3h0m.2-.4h0m.1-.8h0m.5 .3h0m1.9 .9h0m.1-.2h0m.1 .1h0m.3-1.4h0m2.5-.2h0m.7-.2h0m0 1.2h0m0-1.8h0m.1 0h0m.3 1.6h0m.4-.2h0m.3-1.5h0m.1 1.5h0m.3-.5h0m.2 .8h0m.3-.7h0m.2-1h0m0 1h0m.1 1.2h0m.2 .4h0m0-1.4h0m0-.3h0m0 .9h0m.1 .7h0m.1-.1h0m0-.5h0m0-.6h0m.2 .7h0m0-.8h0m.3 1.3h0m0-1.1h0m0 1.1h0m.2-1.4h0m.2 .8h0m.1-2.1h0m.3 1.4h0m.6-.7h0m.4 .5h0m.6-.5h0m0 .3h0m.9-.3h0m.1-.5h0m.1 2h0m5.2 .3h0m1.1-.1h0m2.2 3.3h0m-.2-.3h0m-.2-1.8h0m-.8 .8h0m-1.4 .3h0m-.3-1h0m-.1-.3h0m-.1-.2h0m-.4 .1h0m-.4 .5h0m-2-.2h0m-.9 1.8h0m-1.1-.4h0m-.2-.1h0m-.1-.2h0m-1.2 .3h0m-.3-.4h0m-.8-.4h0m-.2 .1h0m-.1 1.4h0m0 .2h0m-.3-1.2h0m0-.2h0m-.3 .3h0m0-1.9h0m-.1 2.2h0m0-2h0m-.3 1.7h0m-.1-1.2h0m0 1.3h0m0-.3h0m-.1-.9h0m-.4 1.8h0m0-.6h0m0 .4h0m-.1-1.4h0m0-.3h0m-.5 1h0m-1 .1h0m0-1.1h0m-.8-.2h0m-.6 .7h0m-.2-.3h0m-.7 .9h0m-.2-.4h0m-.2 .8h0m0-1.3h0m-.4 1h0m-1.7-.2h0m-.6-1.4h0m0 1.2h0m-.3 1.5h0m-.3-1.1h0m-.2-1.8h0m-.2 .1h0m-.4 .6h0m-1.1-.6h0m-1.4 0h0m-.9 .2h0m-1.4 1.6h0m1.1 3.4h0m1.8 .3h0m.9-1.3h0m1.1 1.4h0m.1-2.2h0m.2 2.2h0m0 .1h0m.5-.9h0m.1 .2h0m.6-.4h0m.2 1.2h0m.7-1.2h0m.1-1.4h0m.1 1.5h0m.3-.6h0m.2 .7h0m.5-1.7h0m2.8 2.5h0m.7-.5h0m.4-1.6h0m.3 1.2h0m.3 1h0m.3-.6h0m.8-.3h0m.7-.4h0m.2 .2h0m.1 .7h0m.1-1.3h0m.2-.6h0m.2 .2h0m.1 .6h0m.3-1.3h0m1.9 1.5h0m0-.2h0m.3-.4h0m.7 .8h0m.9 .2h0m.4-1.9h0m.4 2.6h0m1.1-.1h0m.5-1.9h0m1.3 1.5h0m0-1.9h0m.6 1.9h0m1.6-.7h0m2.2 1.8h0m-.5 2.2h0m0-.6h0m-.1-.5h0m-.5-.2h0m-.4 1.2h0m-.4-.9h0m-.2 .3h0m-1-1.1h0m-1.3-.4h0m-2.2 2.7h0m-1-1.5h0m-.4 1.3h0m-.3-.6h0m-.4 .4h0m-.2-.1h0m-.1-.7h0m-.3-.2h0m-.1 .7h0m-.5-2.1h0m-.1 .8h0m0 .8h0m-.1-.2h0m-.1 1.1h0m-.1-.5h0m-.1-.7h0m0 1.1h0m-.1 0h0m-.2-1.9h0m-.4 .3h0m-.8 .5h0m0 .1h0m0-.1h0m-.2 .6h0m-.3-.9h0m-.3 .2h0m-.3 .5h0m-.1-1.6h0m-1.4-.2h0m-.2 1.5h0m-.5-1.3h0m-.1 1.2h0m-.4-.2h0m-.8-.6h0m-1.4 1.8h0m-.3 .2h0m-.1 .1h0m-.4-1.2h0m-.3-.1h0m-.8 .1h0m-.7-.3h0m-.5 .2h0m-.5-.1h0m-.1-.8h0m-.7 1.1h0m-.8-1.3h0m-.2 .4h0m-.5 1h0m-.6-.4h0m-.8-.9h0m-.3-.5h0m-.1 1.3h0m-.3 .1h0m-.1-.6h0m-.6 .2h0m-.1 .9h0m-1-.8h0m1.4 4.3h0m.4-1.3h0m.5 .9h0m2.7-2h0m2 2.3h0m.2-1.1h0m.4 1.5h0m.1-1.1h0m1.4 1.2h0m0 .1h0m.1-2.4h0m.4-.4h0m.4 .8h0m1.8 2.1h0m1.1-2h0m0 .2h0m.5 .5h0m.2-1.4h0m.8-.2h0m.2 2.2h0m.9 .4h0m.1-2.4h0m1.1 .7h0m1.5-.1h0m.1-.6h0m.2 1h0m0-.4h0m.2 1.9h0m0-2.2h0m.1 1.8h0m0-.2h0m3 .2h0m.1-.2h0m6.5-.8h0m.1-.2h0m1.1-.5h0m.7 .9h0m.2-.9h0m59.1 .8h0m.4-1.1h0m.5 1.3h0m.3-1.2h0m.2 .2h0m.1 3.8h0m-.4-.3h0m-.6-.6h0m-.3 1.6h0m-.6-1h0m-.5-.4h0m-.1-.1h0m-58.8 .7h0m-1.2-1.1h0m-2 1.3h0m-4.7-.5h0m-.4 .1h0m-.3-.2h0m-1.1-.4h0m-.3 .8h0m-.2 .1h0m-.2-.6h0m-.5 .7h0m0 1h0m-1.9 .3h0m-.6-2.4h0m-.1 1.5h0m-1.9 .1h0m-.6-.5h0m-.8-1.1h0m-.3 .9h0m-.5-.9h0m0-.4h0m-.1 2.3h0m-.1 .3h0m0 .2h0m-.7-1h0m-.4 0h0m0 .4h0m-.6 .4h0m-.1-1.1h0m-.2-.2h0m-.4 1.3h0m-.4-1h0m0 .9h0m-.6 .2h0m0-1.7h0m0 .9h0m-.3-1.4h0m0 1.1h0m-.4 .4h0m-1-1.9h0m0 2.5h0m-.2-2.3h0m-.3-.3h0m-.2 .3h0m-.4 0h0m0 2.3h0m-.4-2.6h0m-.6 1.3h0m-.4 .1h0m-.7-1.2h0m-.4 .6h0m-.4 .1h0m-1.3-.9h0m3.7 3.1h0m.3 1.7h0m.3-.6h0m0 .3h0m.5-.6h0m1.1-.4h0m.2 1.2h0m.1-.6h0m.1 .1h0m.2-.2h0m.2 1.6h0m.3-2.5h0m.9 1.8h0m.3-1.2h0m.4 .8h0m.1-1.1h0m.2 1.3h0m0-.1h0m.3-.8h0m.3-.4h0m.1 1.9h0m.7-2.4h0m0 2.1h0m1.1-1h0m0 .3h0m.2 .6h0m.1-1.8h0m.1 .1h0m.4-.1h0m.1 2.1h0m.1-1.7h0m.3 2h0m.1-.7h0m.2-.5h0m.4 1.5h0m.3-2.8h0m0 2.4h0m.2 .5h0m.5-1.1h0m.3 0h0m.4-.9h0m.7 0h0m0 1h0m.3 .1h0m.9-.6h0m7.7-.1h0m4.4-1.2h0m.2 2h0m.2-.8h0m.2 .5h0m.1 .9h0m.2-1.2h0m.3 1.2h0m.2 .1h0m.7-.8h0m.1 .7h0m.2-.8h0m55.6 .8h0m1.2-1.1h0m.1 .7h0m.1 0h0m.8-.8h0m0 .9h0m.8 .4h0m13.6-1.4h0m6.5 3.9h0m-.8-.8h0m-1-.6h0m-.4 .2h0m-.3 .6h0m-.5 .5h0m-.1-.1h0m-.7 .5h0m-1-1.2h0m-.1 1.4h0m0-2.1h0m-.1 .8h0m-.2-.2h0m-.2 .8h0m-.3-1.3h0m-.7 1.2h0m0-.2h0m-.5-.6h0m-.4 1.2h0m-1.8-.5h0m-1.2-1.3h0m-3.2 2.2h0m-7.3-2.7h0m-1.6 1.8h0m-.3 .9h0m-.5-1.8h0m-.4 .6h0m0 .5h0m-.1-1h0m0 .8h0m-.3-.2h0m-1.1-1.1h0m-.5 1.1h0m-.1 .8h0m-.1-.2h0m-.5-.9h0m-.7 .6h0m0 .9h0m-.7-.5h0m-2.3-1.2h0m-44.9 1h0m-3.5-1h0m-.1 .3h0m-.1 1.1h0m-.3-1.3h0m-.1 1h0m-.1 .3h0m-.1 .3h0m-.3-1.4h0m-.2 1.2h0m-.1-1.3h0m0-.5h0m-.4 1h0m-.1 .4h0m-.7-.1h0m-.2-2.2h0m0 1.9h0m-.3 .2h0m-.2-1.5h0m-1 1.1h0m-.6-.6h0m-3.1 1.5h0m-5-.3h0m-2.8-1.4h0m-.1 .2h0m-1.8 .4h0m0 .5h0m-.3-.1h0m0-.9h0m-.1 1.5h0m-.5-2.2h0m-.2 1h0m-1.1 1h0m-.4-1.5h0m-.3-.2h0m0 .6h0m-.3 .8h0m-1.3 .8h0m-.7-2.9h0m-2.5 1.9h0m0-.7h0m-.4 .8h0m-1.1 .5h0m0-2.3h0m-.2 .5h0m-.3 2.1h0m-1.8-.9h0m-.2-.6h0m-.8 1.3h0m-.2-2.4h0m-9.6 0h0m8.2 4.5h0m.4 0h0m1.5-1.6h0m2.7 .1h0m2.7 1.6h0m.4-.7h0m.1 .3h0m.3 .1h0m.3 .4h0m1.1-1.7h0m.2 2.5h0m.5-.9h0m.2-.7h0m.3 .2h0m.4-.3h0m.3 1.1h0m.5 .5h0m.5-.6h0m.5 .8h0m.3-1.4h0m.2 .1h0m.1-.2h0m.1 .4h0m.5-.9h0m0-.3h0m1.8 .3h0m.1 .7h0m.3 .4h0m.3-1.5h0m.1-.3h0m.2 2h0m.5 .5h0m0-1h0m.3-.8h0m.8 1.9h0m1.2-.6h0m.4 .6h0m.1-2.4h0m6.3 1.7h0m.9-1.9h0m.1 .6h0m.3 .5h0m.3-.3h0m0 .2h0m.9 0h0m0 1.5h0m.1-1.6h0m.2-.8h0m.2 1.9h0m.4-2h0m.1 2.6h0m.1-.5h0m.4-.7h0m.6-.1h0m0-.2h0m.2 1h0m0-.3h0m.1-1.7h0m.7 2.6h0m.8-2.6h0m.1 2.7h0m.9-.7h0m.3-2h0m.8 1h0m.2-.3h0m3.3 1.1h0m43.6 .9h0m1.2-2.8h0m.4 2.1h0m.6 .6h0m1.2-1.5h0m.1 .7h0m.6 .1h0m.5-1.3h0m2.3-.7h0m.1 .6h0m5.3 .1h0m4.7-.4h0m1.6 2.4h0m.5-1.2h0m.6-.2h0m.3 .7h0m.3-.4h0m.2-.1h0m0 .5h0m.2-1.4h0m.2 .4h0m.2 .7h0m.1-1.2h0m0 1.4h0m.3 .5h0m.3-2h0m.1 2.2h0m0 .2h0m.3 .1h0m.2-.7h0m0-1.8h0m.1 2.4h0m.3-1.2h0m.1 .8h0m.2 .4h0m.1-1h0m.6-1.4h0m.1 2.4h0m0-.5h0m.2 .2h0m.1-2.5h0m.1 2.5h0m0-1h0m.2-.5h0m.1 .3h0m.1-1h0m0 2.3h0m.1 .3h0m.2-.5h0m.2-1.6h0m.1 1.1h0m.2 .7h0m.4-.4h0m0-.3h0m0-.1h0m.1 .4h0m0-.6h0m.1 .6h0m.1-.7h0m.1 .4h0m.2-1.7h0m0 0h0m.2 2.4h0m1-.7h0m.5-.8h0m.3 1.3h0m.2-1.7h0m2-.4h0m.8 3.2h0m-1.8 2.3h0m-.4-1.1h0m-.8 .1h0m-1.1 .2h0m-.1-.7h0m-.1 0h0m0 1h0m-.4-2h0m0 2.6h0m-.7-1.3h0m-.3 1h0m0-1.8h0m-.1 .1h0m-.1 .8h0m-.1-.7h0m-.1-.4h0m-.1 .1h0m-.2 1.4h0m-.1-1.2h0m-.1 .9h0m-.4 0h0m-.4 .3h0m0 .6h0m-.5-1.2h0m0-.2h0m-.2 .5h0m0-.2h0m-.2-.9h0m-.1 1.6h0m-.1-1.9h0m-.1-.3h0m-.3 .2h0m-.3 1.7h0m-.1-2.1h0m-.3 2.4h0m-.2-.7h0m0 .1h0m-1-.8h0m-.1-.4h0m-.1 .3h0m0 .5h0m-.3 0h0m0-.4h0m-.1 .8h0m-.2-.6h0m-.5-.3h0m0 .8h0m-.4-.6h0m-.3-.7h0m0 2.3h0m-.4-1.5h0m-.3 1.3h0m0-2.5h0m-.7 1.2h0m-.1 1.5h0m-.3 .2h0m-.7-.1h0m-1-1h0m-.1 .4h0m-.3 0h0m-.2-.1h0m-.4-1.6h0m-1.8 2.3h0m-1.3-.2h0m-.4 .2h0m-.6-.9h0m-.3-.7h0m-.2 1.2h0m-.2 .4h0m-.4-1.8h0m0 .8h0m-.5 1.2h0m-.3-.5h0m0-.2h0m-.5 .4h0m-2.6-1.5h0m-.6-.1h0m-.9-1h0m-.3 2h0m-.1 .7h0m-.1-1.7h0m-.2 .6h0m-.5 .1h0m-.5-.1h0m-.2 .2h0m0-.7h0m-.1 .5h0m-.3-.2h0m-.1 .2h0m0 .3h0m-.5-1.8h0m-.1 .3h0m-.1 1.2h0m0-.5h0m-.1 1.1h0m0-2h0m-.1 1.5h0m-.1-1.2h0m-.2 1.3h0m-.2 0h0m-.3-.4h0m-.2 1.2h0m0-1.5h0m-.1 .1h0m0-.5h0m-.4 1.1h0m-.1 .2h0m-1.3-1.9h0m-.8 2.2h0m-45.2-1.6h0m-.3 2.1h0m-.3-1.9h0m-.5-.5h0m-.5 1h0m-.2-.1h0m-.1-.4h0m-.7 1.5h0m-.1-1.1h0m0-.2h0m-.1 .7h0m-.4-1.2h0m-.2 1.8h0m-.1-.4h0m-.3-2h0m-3.4 0h0m-1.2 2h0m-4.3-.7h0m-.4 .1h0m-2.1-1.4h0m-.3 .6h0m-.2-.2h0m0-.3h0m-.4 .3h0m-.7 1h0m-.2 .1h0m-.1-1h0m-.5-.2h0m-.8 .1h0m-.7 2.4h0m-.6-1.1h0m-.3-.3h0m-.1 .5h0m-.1-.4h0m-.8 0h0m-.9-.4h0m-.5 1.3h0m-.2-1.3h0m0-.4h0m-.1 .9h0m-.8 .8h0m-.6-2.3h0m-.2 1.7h0m-.6-.7h0m-.7 .4h0m-.1 1.2h0m-.2-.3h0m-2.1-1.2h0m-.9 .7h0m-1.8-.4h0m-.3-1h0m5.8 4h0m.7-1.2h0m.2 .6h0m.9 .3h0m.3-1h0m.1 1.7h0m.2-.7h0m.2-.8h0m.6 1.2h0m.5 0h0m.6 .5h0m.2 .2h0m1-2.3h0m.4 2h0m.3-1.3h0m.5 .1h0m.7 2h0m.1-.3h0m0-1.7h0m.1-.3h0m.2 2.3h0m.2-.6h0m.1-2.1h0m.4-.1h0m.4 2.2h0m.1-1.4h0m.4 2h0m.3-.3h0m0-1.2h0m.1 1.5h0m0-.7h0m.2 .5h0m.2-2.3h0m1.2 2.3h0m.3-2.4h0m.2 1.7h0m3.3 .3h0m6.2-.5h0m.7-.6h0m.3 .5h0m.4-1.6h0m0 1.2h0m1.3 .7h0m6.4-1h0m24.6 1.7h0m1.1-.6h0m.3 .1h0m.7-1.6h0m.2 2h0m.1-.2h0m0 .3h0m.2-2.1h0m.3 1h0m8.4 .5h0m2.9-1.2h0m.3 1.9h0m.4-.1h0m.3-.2h0m.8-1.4h0m.3-.4h0m.6 1.6h0m.1-.3h0m.5-.5h0m.7-.2h0m.2 .3h0m.5 .2h0m.3-.1h0m.3-1h0m.4 1.6h0m.9-.3h0m.2-.9h0m.1 .5h0m.3-.8h0m.9-.1h0m1.7 .6h0m.4 .7h0m.4-1.5h0m.1 .8h0m.5 .5h0m.8-.6h0m.2 1.7h0m.1-1.4h0m.6-.2h0m.3 1.4h0m.2-.6h0m.2-.1h0m.1 .6h0m0-.4h0m0-.6h0m.1 .5h0m.4-.5h0m.3 1h0m0-.3h0m.3-.6h0m.2 .2h0m.1-.1h0m.1 .8h0m.1-.1h0m.1-.4h0m0-1h0m.2 1.6h0m.2-2.6h0m.2 2h0m.1 0h0m.2 .2h0m.6-.1h0m.1 .5h0m0-1.2h0m.3-.8h0m0 1.5h0m.4 .6h0m0-.3h0m.1-2.1h0m0 2.5h0m.2-2.2h0m.6 1.5h0m.2 .7h0m1.9-.8h0m.2-1.9h0m0 1h0m.4 1.3h0m0-1.3h0m0-.9h0m.4 2.4h0m.1-1.8h0m.5 .3h0m.6 .8h0m0-2h0m0 1.9h0m0-1.5h0m.3 1.8h0m0-.5h0m0 .3h0m.1-1.9h0m0 2.8h0m.2-.8h0m0 .4h0m.1-1h0m.1 .2h0m0 .3h0m0 .4h0m.6-2.4h0m.4 1.3h0m.2-.5h0m.3 1.1h0m.1 .2h0m.4-.8h0m.1 .8h0m.1-.6h0m.4-.3h0m.1-.5h0m.1 .5h0m.2-.5h0m.1-.1h0m.2 .4h0m.3 .5h0m.2-1.4h0m.1 1.8h0m.3-1.1h0m.1 1.9h0m.4-.2h0m.1-1.3h0m0-.8h0m.3 2.2h0m.1 .2h0m.5-.1h0m.2-.6h0m0-1h0m.1 .6h0m.4 .8h0m.1-.7h0m.6 .8h0m.4 .2h0m.4-2.1h0m.5 1.9h0m0-2.3h0m.4 .3h0m.2 .6h0m.5-.9h0m.2 .6h0m.1-.9h0m.3 1.9h0m1.3-1.3h0m0 .2h0m-2.2 2.5h0m-1.3-.1h0m-2.1 1.8h0m-.9-1h0m-1-.1h0m-2.5 1.5h0m-.5 .1h0m-1-.8h0m-.8 .7h0m-.6-1.7h0m-.3 .7h0m0-1h0m-.2 2.1h0m-.3-2.4h0m-.1 2.6h0m0-.4h0m-.3-1.3h0m-.1 .1h0m-.6 .1h0m-.1 1.2h0m-.2-.6h0m-.1 1h0m-.3-2.8h0m0 1.2h0m-.1 1.5h0m-.1-2.2h0m-.3 0h0m-.1 2.3h0m-.1-.4h0m-.2-.5h0m0-.3h0m-.1 .6h0m-.1-1.2h0m-.5-.1h0m-.2 1.7h0m-.1-.8h0m0-.1h0m0 .1h0m-.4-1.3h0m-.5 2.4h0m-.1-2.5h0m-.2 1.8h0m0-1.2h0m-.2 .7h0m0-1.6h0m-.1 1.2h0m-.2 1h0m0 0h0m-.1-1.4h0m0 1.6h0m-.1-.2h0m0-.7h0m-.1-1.3h0m-.2-.1h0m0 2.7h0m-.5-.8h0m-.2-1.2h0m-.2-.5h0m-.7-.3h0m0 0h0m-.1 1h0m-.2 1.1h0m0-2.1h0m0 2.5h0m-.2-.5h0m-.1-1.2h0m0 2h0m-.3-2.4h0m-.2 2.3h0m-.4-1.5h0m-.3-.2h0m-.2-.3h0m0 .7h0m-.3 .6h0m-.3-.6h0m-1.3 .2h0m-1.2-.6h0m-.3 1.3h0m-.6-.7h0m-.1 .6h0m-.2-.4h0m-1.7 .1h0m-.3-.9h0m-1 .5h0m-.3-1.2h0m-.8 2.1h0m-.3-2h0m-.1-.4h0m-.6 1.9h0m-.7-1.8h0m-.1 .1h0m-.5 1h0m-.3 1.6h0m-.2-2.9h0m-.2 2h0m-.2-1.1h0m-.1 .1h0m-.1-.7h0m-1.2 1.5h0m-.1 .5h0m0 .6h0m-.1-.4h0m-.4 .4h0m-1.1-.1h0m-1.4-2.1h0m-.9 1.8h0m-.8-2.4h0m-2.6 .7h0m-.8 2.1h0m-.1-.1h0m-.7-.6h0m-.2 .6h0m-.4-.8h0m-1.1-1.1h0m-.2 .9h0m-.3-.7h0m-.1-.3h0m-.4-.6h0m-.6 .5h0m-.3-.4h0m-36.2 .5h0m-5-.4h0m-.2 2.1h0m-4 0h0m-.2-.5h0m-.2-1.2h0m0 2h0m-.7-1.1h0m-.5-.3h0m-.2 .8h0m-.8-1.6h0m-.2 2.1h0m-.2 .2h0m-.5-1.2h0m-1.2-1.4h0m-.5-.1h0m-.4 1.9h0m-.4-.3h0m-1-.7h0m-.1 .4h0m0-.8h0m0-.2h0m-.7 1.5h0m-12-1.5h0m16.2 3.7h0m0-.6h0m1.1-.4h0m.5-.2h0m2.3 .1h0m1.4 2.4h0m.1-.8h0m1.8-1.2h0m43.6 .1h0m0-.4h0m.3 2.2h0m.7-.4h0m.2-1.9h0m.1 1.4h0m.3 .8h0m.6-.9h0m0 1.1h0m.1 .4h0m1-2.1h0m1.2 .5h0m2.4 1.5h0m1-.7h0m.3 .2h0m.3-2h0m.2 1.7h0m.2 .8h0m.4-.2h0m.6-1.2h0m.5-.7h0m.5 1.7h0m.2-.1h0m0 .6h0m.1-1.3h0m.1-1.3h0m0 2.3h0m.3 .4h0m.8-1.4h0m.2 1.1h0m.4-2.4h0m.2 1.5h0m.1-.1h0m0-.8h0m0-.3h0m.2 2.4h0m.1-.9h0m0-1.5h0m.1 .9h0m.3 0h0m.5-1.3h0m.1-.1h0m1.2 1.6h0m.4-.5h0m.6 .3h0m0-1.3h0m.3 1.7h0m1.3 .1h0m.7 .4h0m.2-1h0m.6 1.5h0m1.3-1.9h0m1.1 .6h0m.2 1.2h0m.1-2.8h0m.1 2.9h0m.3-2.3h0m.2 1.5h0m0-1.8h0m.5 1.2h0m.4 .8h0m.5 .1h0m.6-.7h0m.2-1.1h0m.5-.4h0m.1 .4h0m.2 1.4h0m0-.9h0m.1 1.8h0m.1-.8h0m.1-1.2h0m.6-.8h0m.2 2.1h0m.2-.8h0m.2 .6h0m0-.9h0m.1 .6h0m.3-1.6h0m0 .8h0m.1 .8h0m.2 .2h0m0-1.6h0m.1 1.7h0m.2 .9h0m.1-2.3h0m.3 2.2h0m0 .1h0m.2-2h0m0 .6h0m.1-1h0m.1 2h0m0-.3h0m.1-1h0m.1 .4h0m.1 1.3h0m.2-2.5h0m.1 2.5h0m.1-.7h0m.1-.2h0m.2-.2h0m.7-.2h0m.1-.8h0m0 1.2h0m.5-1.6h0m.3 .5h0m.1-.6h0m.3 1.3h0m.1 .1h0m.2-.5h0m.2 1.6h0m.1-2.5h0m.5 .1h0m1.9 1.8h0m.3-.3h0m5.5-1.6h0m1.9 4.2h0m-7.7-1.2h0m-.2 2.6h0m-.7-.8h0m-.1 .1h0m-.7 .6h0m-.2-.8h0m-.1 .9h0m-.6-2h0m-.6 .5h0m-.2-.4h0m-.2 0h0m0 1.5h0m0 .3h0m-.1-1.8h0m-.3-.6h0m-.3 2.4h0m-.2-2.2h0m-.3 1.9h0m0 0h0m-.1-1.1h0m-.1 .6h0m-.2-1.7h0m-.2 1.8h0m-.1-.1h0m-.8 .4h0m0 .2h0m0-1.8h0m-.2 .6h0m0-.3h0m-.7-.6h0m-.3-.1h0m0 .9h0m-.5-1.1h0m-.1 2.4h0m0-2.5h0m-.2 2.2h0m-.4-.1h0m0 0h0m-.4-.9h0m-.9 .2h0m-.5 1.1h0m-.1 .1h0m-.2-.8h0m-.2 .2h0m-.2 0h0m-.2-1.1h0m-.1-.7h0m-.2 .2h0m-.2 1.2h0m-.2 1h0m-.2 .1h0m-.2-.2h0m-.2-1.6h0m-.1 1.5h0m0 .2h0m-.2-.3h0m-.1-1h0m-.2-1h0m-.1 1h0m-.1 .6h0m0-.3h0m0-.9h0m-.3-.1h0m-.1-.2h0m-.1 .9h0m-.6 1h0m-.1-.1h0m-.2-.7h0m-1.1-1h0m-.2 2.3h0m-.1-2.3h0m-.5 1.8h0m-.4-.2h0m-1.1-1.3h0m-1.5 .8h0m-1.7-1.2h0m-1.1 .8h0m-.7-.7h0m0 .8h0m-1-1.3h0m-.1 1.3h0m-.3 0h0m-.3 1.6h0m-.1-.5h0m-.2-1.6h0m-.3 1h0m-.4-1.2h0m-.1 .7h0m-.2 .2h0m-.1-.9h0m-.2-.4h0m0 1h0m-.2 1.4h0m-.3 .1h0m0-2.3h0m-.3 .2h0m-.7 1.7h0m-.6-1.2h0m-.2 1.6h0m-.4-2.5h0m-.5 2.4h0m-.2-1.3h0m-.7-.5h0m-.1 1.4h0m0-.2h0m-.5 .3h0m-.1-1.5h0m-.2-.4h0m-.4-.1h0m-.1 1.7h0m-.3-1.7h0m-.2 1.5h0m-.7-1.5h0m-.2-.2h0m-.8 .2h0m-.1 1.7h0m-.6 .4h0m-2.6-.2h0m-5-.8h0m-2.3 1.3h0m-1-.8h0m-.9 .9h0m-2.8 0h0m-.8-.6h0m-31.3-1.5h0m-.4 .7h0m-2 1.5h0m-.5-2.4h0m-.2 1.6h0m-.5-2.1h0m-.1 2h0m-1.1-1.7h0m1.1 3.3h0m.7 .7h0m.1-1.4h0m0 1.5h0m.4-.4h0m.3 .6h0m.1 1.3h0m.8-.1h0m0-.7h0m.5 .3h0m19.7-1.3h0m.5 1.7h0m1-1.1h0m.4-.9h0m0-.2h0m8.8-.1h0m3.1-.2h0m.3 .6h0m.4-.9h0m.9 1.3h0m.4 1h0m1-.8h0m.1 1.2h0m.6-.3h0m.1-1.2h0m.3 1h0m.3-.4h0m.3 .4h0m.5-.7h0m.1-1.2h0m.5 .1h0m0 .5h0m.1-.6h0m.8 .4h0m.5 2.1h0m.2-1.4h0m.4 .2h0m.2-.1h0m.1-.4h0m1.2 .8h0m.5-.5h0m.8 .8h0m.1-1.9h0m1.3 .6h0m1.3 .5h0m.3-1.4h0m1.3 2h0m1.3-.9h0m.6-1h0m.1 .4h0m1 1.1h0m.9-1.6h0m.1 1.1h0m.3-.4h0m.2-.2h0m0 .3h0m.8 1.4h0m.3-.2h0m.6-.7h0m1-.4h0m.3-.7h0m.2 .6h0m.8-.5h0m4.2 1.4h0m3.6-.7h0m.7 .1h0m1.8-1.1h0m.2 .7h0m.1-.6h0m.2 .8h0m.1 .6h0m.3 .5h0m.4-1.9h0m.1 1.6h0m.3-.4h0m.1 1.3h0m.2-2.2h0m.4 .3h0m.2 .9h0m.1-.9h0m.1 .8h0m.2-1.4h0m.1-.1h0m0 2.7h0m.1-2.4h0m.2 .5h0m0-.3h0m.5 0h0m.3 .5h0m.1 1.1h0m.4-1h0m.5 .2h0m0 .5h0m.1-1.9h0m.3 2.1h0m.1-1.2h0m.3 .1h0m.6 .7h0m.3 1.2h0m0-2h0m.6 .8h0m.2 .4h0m.5-1.5h0m.1 .8h0m.4 .9h0m.3-2.2h0m.8 2h0m.1-2.1h0m.4 .2h0m.2 1h0m.2 .7h0m.2 .7h0m.7 .2h0m.3-1.6h0m.9-.7h0m.1 2h0m2.3-.8h0m.1-1.4h0m2.1 .3h0m.5-.3h0m-1 3.7h0m-1.7-.9h0m-7.2 .3h0m-.6 1.1h0m-1.1-.8h0m-.5-.5h0m-.2-.1h0m-2.7 2.3h0m-.4-2.2h0m-.4 1.1h0m-3.3 0h0m-.1-.3h0m-13-.9h0m-1 .9h0m-.6-.9h0m-1.2 0h0m-.6 2.7h0m-2.6-.7h0m-.1-2.1h0m-.3 2.1h0m-.1-1.2h0m0 0h0m-.3 .6h0m-.9 1.2h0m-.2-.1h0m-.8-1.1h0m0-.9h0m-.1 1.6h0m-.1-.8h0m-.1 1.3h0m-.1-.6h0m-.7-1.2h0m-.1 .9h0m-.1-1.5h0m0 2.5h0m-.1-2.3h0m-.1-.4h0m-1 2.8h0m-.1-1.4h0m0-1.3h0m-.1 2h0m-.2-.9h0m0-.8h0m-.2 .7h0m-.3-.6h0m-.1 .6h0m-.2-.4h0m-.2 1.2h0m0-1.9h0m-.1 2.1h0m-.4-.1h0m-.2-.7h0m0 .1h0m-1.4-.9h0m-.7 1.9h0m-.3 .2h0m-.2-1h0m-.5 .5h0m-2.7 .8h0m-12.6-1.2h0m-.8-.4h0m-1.6 1.6h0m-.3-1.2h0m-6.4 .9h0m-12.6-1.2h0m0-.3h0m-.4 1h0m-.2-1.3h0m-.1-.7h0m-.9 2.1h0m-.6-2.1h0m-.1 2h0m.8 1.8h0m2.2 1.2h0m.2 .4h0m.3 0h0m.1-1h0m.3 .6h0m.1-1.7h0m.4 0h0m.5-.1h0m.5 1.8h0m.2 .3h0m.6-.3h0m8.4-2h0m1.6 .6h0m.3 1.1h0m2.2 .3h0m1.1 .4h0m0-.1h0m.2-1.7h0m.5-.3h0m.6 .3h0m.8 .1h0m0-.1h0m.1 .5h0m.3-.2h0m16.8 1.6h0m.3-1.5h0m.7 1.1h0m0 0h0m.2-2.1h0m.1 1.3h0m.3-.3h0m0-.4h0m.8 .6h0m.1 .5h0m.4-1.6h0m.8 1.1h0m.4-.7h0m.1-.6h0m.5 1.3h0m.4 1.6h0m0-.7h0m.4-2h0m0 1.3h0m.5 .6h0m.1-1.1h0m.1 .9h0m.7 .9h0m.2-1.8h0m.5 .8h0m1.2-.5h0m.4-.9h0m.7 .8h0m0-.3h0m.4-.4h0m1.2-.5h0m1.2 .1h0m22.6 4.9h0m-25.1-1.6h0m-1-.2h0m-2.2 1.1h0m-.3 1.5h0m-.9-1.9h0m0 .5h0m-.7 .7h0m-.5-1.8h0m0 1.2h0m-.3-1.4h0m-.7 1h0m-.2 1.6h0m-.6-.6h0m-.4-1h0m0 .2h0m0 1.3h0m-.5-1.4h0m0 1.3h0m-.4-.3h0m-.7-.7h0m-.6-.9h0m0 2h0m-.2-.5h0m-.2-.1h0m-.1-.2h0m-.2-.3h0m-.3 .1h0m-.5 0h0m-.4 .5h0m-.2 0h0m-.6-.5h0m-.3-.8h0m-.3 .8h0m-1.8 .5h0m-.1-.9h0m-.1 .6h0m-8.3 .3h0m-2-.3h0m-.4 .5h0m-.6-1.4h0m-.2 1.8h0m-.2-.7h0m-.7-1.5h0m-.1 1.7h0m-.6 .6h0m-.5-.3h0m-.2-.2h0m-.5-2.1h0m-.8 1.3h0m-.3-.3h0m-.2 1.5h0m-.1-.7h0m-.1-1.6h0m-.3 2.2h0m-.3-.8h0m-.8-.2h0m-.7 .5h0m-.9 .5h0m-.1-1.1h0m0 .5h0m-.5-1.8h0m-1 2h0m-6-.1h0m-.4-.1h0m-.6-1.7h0m0-.1h0m-.1 1.3h0m0 .5h0m-.1 .6h0m-.9-2.4h0m-.9 .2h0m-1.1 2.2h0m-.1-2.1h0m2.2 2.7h0m3.5 .4h0m.9 1.2h0m3.3 1h0m.7-1.3h0m.6-1.5h0m.3 2.4h0m.1-.6h0m.4 .5h0m.4 .3h0m.5-1.8h0m.1 1.1h0m.3 .9h0m.2-1.1h0m.1 .6h0m.2-1.4h0m.1 .3h0m0-.6h0m.3-.1h0m.4 .1h0m.2 1.3h0m.4-1h0m.1 2h0m.1-.6h0m.3-.1h0m.1 0h0m.3-.3h0m.1-.7h0m.1 .6h0m0-.3h0m.4 1.2h0m.4-.6h0m.6-.4h0m.5-.3h0m.2 .9h0m.9 .3h0m.5 0h0m.8-1.5h0m.3 .6h0m.5 .1h0m1.4 .8h0m2.1-.7h0m1.8-.7h0m2.5 1.7h0m2.5-.6h0m.3 .1h0m.4-2h0m.1 1.6h0m.5 .3h0m.7-.2h0m.1-.1h0m.1-1.2h0m.4 1.1h0m.1-.3h0m.2-.2h0m0-1.4h0m.1 .6h0m.6 1.3h0m.1-.3h0m.1-1.3h0m.8 1.2h0m.7-1.2h0m0 .9h0m.9 .4h0m0-1.6h0m.6 .4h0m.5 1.3h0m.6 .6h0m.6-2.2h0m5 .4h0m23.1 1.4h0m.4-.3h0m1.2-.2h0m.2 1.2h0m.8-.5h0m.6 .3h0m.1 0h0m.3 .5h0m1.5-.4h0m.6 .3h0m-1.6 1.2h0m-.1 .7h0m-.3-1.4h0m-.1 1h0m-.2 1h0m-.2 .5h0m-.1-1.2h0m-.4-.1h0m-.3-.2h0m-.8 1.3h0m-.2-2.2h0m-.9 .1h0m-.4 .3h0m-.3 .9h0m-20.2-1.7h0m-.7 .5h0m0 1.1h0m-.6 .4h0m-1 .5h0m-.1 .1h0m0-1.6h0m-.3 .9h0m-.8-2h0m-.4 2.9h0m-.7-.4h0m-1.4-.1h0m-.5-2.1h0m-.2 .7h0m-2.6 .6h0m-.6-.9h0m-.3-.1h0m-.8 1h0m-1.7 .7h0m-.3-1.4h0m-.4 1.4h0m-.8-1.3h0m-.8-.6h0m-.3 1.4h0m0-1h0m-.2 2.1h0m-1 0h0m-.6-1.9h0m-.1 1.1h0m-.1 .7h0m0-1.9h0m-.1 .8h0m-.4-.1h0m-.4-1.3h0m-.1 1h0m-.9 1.4h0m-.2-1.9h0m-.5 2.2h0m-1.3-2.8h0m-1.6 1h0m-.2 .4h0m-.6-.7h0m0 .5h0m-.2 1.3h0m-.5-.4h0m-.3 .4h0m-.7 .2h0m-.5 0h0m-.3-2.2h0m-.1 1.8h0m-.5-1h0m-.4 .5h0m-2.3-1.3h0m-.2 .5h0m-.5-1.2h0m-.4 1.4h0m-.8-1.2h0m-.2 1.5h0m-.2 .1h0m0-1.4h0m-.1 2.5h0m-.9-2.5h0m-.1 .4h0m-.3 1.3h0m-.5-1.6h0m-.7 .6h0m-.1 1.3h0m-.8-.9h0m-1.3 .3h0m-.2-1.1h0m-.6 1.6h0m-1.1-.5h0m-.1-1.3h0m-1.9 .2h0m-.5-.5h0m2.1 4h0m.8-.4h0m1.6 .7h0m.8 .3h0m.2 1.1h0m1.9-2.6h0m0 1.2h0m.3 .3h0m.1-1.8h0m.1 .8h0m.4 1.2h0m.9-.9h0m1.1 .1h0m0-.4h0m.6 .4h0m.5 1.6h0m0-2.4h0m.7 1h0m.4 .7h0m.2-2h0m.2 1.3h0m.3 1.1h0m.2 .2h0m0-1.7h0m.1 .1h0m.6-.8h0m.6 1.6h0m.7-.2h0m.2-1h0m.3 1.4h0m.1-1.4h0m.3 .8h0m.1 .7h0m.5-.5h0m.1-1.3h0m0 2.2h0m0-2.4h0m.1 .5h0m.3 1.9h0m.4-.3h0m.4-1.4h0m.7 .9h0m.1 .8h0m.2-1.4h0m0-.5h0m.1 1.7h0m.8-1.6h0m.2 1.5h0m.7-1h0m1.4-.2h0m.7 1.6h0m.3-1.9h0m1.4 1.3h0m1 0h0m2.9-.8h0m5.9-.6h0m.9 1.3h0m.7-.1h0m.4 0h0m.9 .9h0m.1-1.6h0m.3 1.8h0m.1-2.5h0m.1 1h0m0 1.1h0m.6-1.9h0m0 .1h0m.6-.5h0m.5-.1h0m0 2.7h0m21.9-2.5h0m.4 .1h0m.8-.1h0m.3 2h0m.1 .5h0m.5-2.4h0m.3 1.5h0m.3-1.9h0m0 2.1h0m.2-2h0m.4 1.3h0m.3-.4h0m.4 .5h0m.7-.6h0m-1.7 3.4h0m-.1-1.3h0m-.8 0h0m-20.9 2.7h0m-1.8-1.1h0m-.3 1.3h0m-.1-.1h0m-.1-1h0m-.2-1.1h0m-.5 .4h0m-.2 .6h0m-.8-1.6h0m-.3 2.2h0m-.2-1.3h0m-14.1-.9h0m-1.6 .3h0m-.6 2.2h0m-1.2-.7h0m-1.1 .7h0m-.1-1.9h0m-.3 .6h0m-.4-.4h0m-.2 .2h0m-.1 .1h0m-1.1 .5h0m-.7 .8h0m-.1-2.5h0m-.9 2h0m-1.2-.4h0m-.9-1.7h0m-.4 3h0m-.1-1.9h0m-.3-.9h0m-.2 2.2h0m-.4-1.3h0m-.1-.3h0m-.4 .5h0m-.1-.8h0m-.1 1.5h0m-.2-.3h0m-.2 .8h0m-.2-1.6h0m-.5-.5h0m-.9-.1h0m-1.2 2.3h0m-.3-1.9h0m-.1-.1h0m-.7 1.9h0m-.4-1.5h0m-.5-.3h0m0 1.6h0m-.1-.4h0m-.2 1h0m-.7-.2h0m0-.5h0m-1.2-1.5h0m-7.6 4.9h0m.2-.4h0m.4 0h0m1.1 .7h0m.6-.9h0m0-.3h0m2.6 1.2h0m1.9-.6h0m.1-1.7h0m.7 .2h0m1.2 .6h0m.4 1.1h0m.5-1.1h0m.7-.8h0m.2 2.3h0m.5-.6h0m.1-.1h0m.1-.8h0m.1 .4h0m.2 0h0m.2 1.1h0m.2-.8h0m.1 .4h0m0-1h0m.1-.3h0m.2-1h0m.2 .4h0m.2 .2h0m.4 1h0m.2-1.1h0m.3 1.5h0m.3 .8h0m.7-1.3h0m1.8-1.6h0m0 .6h0m1.1 .6h0m1.2-1.1h0m.7 .4h0m1-.2h0m2.2 .4h0m1.6 .3h0m.3 0h0m10.7 1.7h0m.4 .1h0m.3 0h0m.8-.3h0m.5-.8h0m.5 .5h0m1.2-.3h0m.6-.6h0m1.2 1.3h0m.1-2.3h0m.3 1.9h0m.1-.9h0m.5-1.3h0m.6 2.4h0m.2-1.8h0m.7 .4h0m0 .9h0m.8-1.6h0m.1 2.6h0m.4-2.6h0m.6 .6h0m-1.9 3.8h0m-.3-.6h0m-1.2 0h0m-.1-.5h0m-.9-.2h0m-.4 .7h0m-.2 .5h0m-.8-.1h0m-.1-.2h0m-.6 1.3h0m-.3-1.8h0m-.1-.6h0m-.6 1.6h0m-.4-1.3h0m0 1.7h0m-.1-2.2h0m-.2 .2h0m-.1 .1h0m0 1.8h0m-.3-.7h0m-2.3 .7h0m-.4-.9h0m-.1 0h0m-.3 1.5h0m-.1-1.8h0m-.3 1.6h0m-.3-.6h0m-.3-1.5h0m-1.2 2.3h0m-.7 .1h0m-1.2-1.2h0m-.6 1h0m-.3-1.2h0m-.4 1.3h0m-7.8-1.1h0m-.4 .1h0m-5.9 1.2h0m-.3-2.4h0m-.2 .7h0m-.4-.3h0m-.1-.4h0m-.3-.3h0m-.1-.1h0m-1 2.5h0m-.8-2.2h0m-.1 1.3h0m-.1-.1h0m-.1-.1h0m-.3 .5h0m-.3-1.9h0m-.3 1.8h0m-.1-1.4h0m-.2-.5h0m-.6 1.6h0m-.3 1.3h0m-.1-.3h0m-.8-1.2h0m0 .5h0m-.2-1.7h0m-.2 1.4h0m-1.5 0h0m-1.3 .3h0m-3.2-1.9h0m5.2 3.8h0m.5 1h0m.6-1.4h0m.3 .5h0m.3 .9h0m0 1.1h0m.3-1.8h0m0 .6h0m0 .9h0m.2-2.6h0m.6 1.2h0m.7-.6h0m.1 .3h0m.5 1.9h0m17.6-2.3h0m3.2-.5h0m.6 .2h0m.4 .6h0m2 0h0m.2-.6h0m3.3 .2h0m.1 .8h0m.3-.9h0m-26.7 4h0m-2.6-.7h0m-.1 .5h0m-1.2 .1h0m-.4 1.7h0m-.1-2h0m-1.9-.7h0m16.6 5.7h0m.3 1.9h0m-.6 .6h0m-.3-1.6h0m-.8 2.1h0m-.1-.3h0m-.1-.7h0m0-1.1h0m-.7 1.7h0m-20.1 15.3h0m1 .6h0m-.2 .8h0m-.6 .4h0m-.4-.1h0m-.1-1h0m-1.2-.3h0" stroke="#ebebeb" stroke-width="1" stroke-linecap="round"/>
<path d="M217.5 241.7h0m-4.3 11.5h0m84 12.1h0m22.9 4.2h0m-6-.8h0m-84.3 3.3h0m2.9-1.8h0m62.5 .5h0m22.8 3h0m-2.2-.2h0m-97.4 2.3h0m1.9 1.3h0m4.5 1.8h0m89-1.9h0m.9-1h0m1.3 3.1h0m-7.7 1.6h0m-6.1-1.1h0m-8 .1h0m-19.6 2.3h0m1.4 2.5h0m31.4 .3h0m-23.9 1.8h0m-9 1.3h0m5.4 1.1h0m-11.3 5.2h0m1.3 .1h0m1.6-.2h0m21.4 .5h0m-28.2 3h0m-.6-.1h0m0-.4h0m-.1 .4h0m-.6 1.7h0m-.1-.1h0m-3.7 .6h0m-18.8-.5h0m.4 3.3h0m.1 0h0m21.5 1.3h0m-2.3 1.5h0m-20.5-.3h0m3.4 3.7h0m7.2-1.9h0m49.4-.6h0m-29.9 3.9h0m-30.3 0h0m-.3 2.3h0m11.5 1h0m22.6 1.6h0m-2.9 1.8h0m-9.1 .4h0m-2.7-1.9h0m-14.1 .4h0m-14.2 29h0" stroke="#e9bc58" stroke-width="1.1" stroke-linecap="round" stroke-opacity="0.68"/>
<path d="M218.1 242.7h0m-8.6 4.7h0m22.6 8.9h0m-11-.8h0m-6.3-.5h0m10.7 6h0m-2.3 3.3h0m13.1 1.1h0m78.4 2.8h0m-21 1.7h0m-53.2 2.5h0m74-1.3h0m3 1.5h0m-77.5 5.2h0m33.2 .2h0m16.2 .9h0m.9-.6h0m4.4-1.3h0m7.5 .4h0m8.8-1.2h0m-3.4 3.7h0m-.6 1.9h0m-20.5-.7h0m-8.6 3.8h0m-1.2 .3h0m-51 5.1h0m79.7-1.1h0m-31.9 2.4h0m-3.8 0h0m-2.9 2h0m-18.3-.6h0m-23.1 1.8h0m37.3 .4h0m3.5-1.1h0m4.5 4h0m-5.8 .2h0m-22.1 4.5h0m53.5 .7h0m-22.7 2.4h0m-10.3-1.6h0m-3.9-.2h0m-2.1-.9h0m-4.9 .1h0m-18.5 3.7h0m24.2 .4h0m15-1.3h0m21.2 .5h0m4 2.3h0m1.2-.7h0m1-.6h0m-28.4 2h0m-17.8 2h0m-3.9-2h0m-7 1.4h0m-4 .1h0m-.2-1.7h0m-7.2 3.4h0m8.7-.2h0m28.9 1.7h0m1.5-1h0m.9 1.3h0m-9.9 3h0m-24 3.4h0m14.1 7.9h0m-2.1 1.2h0m-19 15.6h0" stroke="#e3a55d" stroke-width="1.1" stroke-linecap="round" stroke-opacity="0.68"/>
<path d="M221.2 265.3h0m15.3 6.2h0m79.1-1.2h0m-57.5 33h0m-13 9.6h0" stroke="#892d83" stroke-width="1.1" stroke-linecap="round" stroke-opacity="0.68"/>
<path d="M216.5 244.5h0m5.3 9.2h0m-2.6 12.9h0m95.2 0h0m4.9 3.1h0m-6.4-.2h0m-1.1-1.5h0m-1.2 1.5h0m-75.1-1.3h0m-.1 1.6h0m3.4 2.2h0m2.2-.1h0m53-1.7h0m17.2 1.1h0m5.1 3h0m-2.9 .1h0m-2.3 1.4h0m-.5-1.1h0m-4.1 1.2h0m-18.5-.3h0m-69 2h0m19-.6h0m35.3 .2h0m15.9 .6h0m15-1.2h0m.4 1.9h0m.3-.3h0m2.7-.2h0m.8 0h0m4.1-.2h0m.8 0h0m.3 .4h0m2.9-.7h0m3.1-.8h0m-3.6 3.4h0m-10.4 .4h0m-5.5-1.3h0m-17.9 5.8h0m16.8-1.9h0m4.8 3.1h0m-2.1 1.4h0m-16.8-.6h0m-.1-1.6h0m-2.8 1.1h0m-21.4 1.8h0m1.4 1.3h0m14.1-1.2h0m20.2 0h0m-1 4h0m-28.8-.6h0m-.7 6.7h0m-23.2-.4h0m-13.6 1.4h0m69.3 3.3h0m-48 2.5h0m-.1 .2h0m-12.1-1.8h0m-2.2 3.7h0m7.8 .2h0m.6-1h0m.7 2h0m.8 0h0m1.5-.4h0m1.8 .3h0m50.8 .7h0m-25.5 1h0m-26.1 .3h0m-12.6 2.9h0m10.7 .7h0m26.4 1.3h0m-29.2-.3h0m-3.2 .6h0m24.8 2.4h0m2.1 2.7h0m1.1-.7h0m-16.4 8.1h0m-21.2 19.3h0m-.2-1.7h0m-1.7 .9h0" stroke="#da8f63" stroke-width="1.1" stroke-linecap="round" stroke-opacity="0.68"/>
<path d="M241.1 270.4h0m70 1.7h0m1.6-.6h0m5.2 3.2h0m-4.3 .3h0m-.1-.7h0m-4.3 .5h0m-.6 .1h0m-.6-.7h0m-37.2 3h0m17.1-.7h0m11.4 1.2h0m2.7 1.2h0m1.2-2.1h0m5.2 1h0m1.3 .1h0m-5.9 2.7h0m-2.3-.6h0m-28 1.4h0m-32.9-1.4h0m-19.2 1h0m53.9 2.9h0m.3 .4h0m8.9 0h0m2.5-.5h0m9.5-1.2h0m5.7 1.7h0m11.9-1.9h0m.8 0h0m-10 4.2h0m-6.4 0h0m-13.1 .2h0m-10.8 1h0m-49.2-1.8h0m46.3 3.1h0m21.8 0h0m3.7 1.9h0m11 .3h0m-30 .9h0m-5.2-.2h0m-8.9 0h0m-36.1 1.2h0m1 3.1h0m15.8-1.7h0m21.4-.2h0m7.5 1.1h0m-13.9 3h0m-17.2 1.2h0m-.8-2.6h0m-14.6 .5h0m12 3.3h0m58.5 3.3h0m-1.7 1.5h0m-52.3-1.1h0m-.6 0h0m-1.6 1h0m-5-2h0m10.4 4.5h0m4.9 .3h0m46-2h0m-23.2 5.1h0m-21.4-1.1h0m-5.6-1.2h0m-2.7 0h0m-2.9 1.2h0m-10.5 4.1h0m11.7-.6h0m.7-1.4h0m26.8 2h0m3.4-2.2h0m-1.6 5.2h0m-3.2 .3h0m-5 .1h0m-4.4 2.2h0m.3-1.7h0m-21.4 3.2h0m13.6 7.7h0m-.9 .1h0m-.3 .4h0m-21.1 15.2h0" stroke="#c06771" stroke-width="1.1" stroke-linecap="round" stroke-opacity="0.68"/>
<path d="M210.7 240h0m1.7 0h0m18.9 16.3h0m-8.6 .4h0m14.1 10h0m3.5 .3h0m71.8 2.8h0m-73.3-.3h0m-4.5-.4h0m56.3 3.6h0m3.8-1.6h0m19 .2h0m-.6 2.2h0m-24.3 .9h0m-1.8 3.1h0m10.1 0h0m10.6 .2h0m3.2-.9h0m.3 .3h0m1.5 1.7h0m-5.4 3h0m-2.2-.1h0m-78.6-2.2h0m62.4 3.2h0m9.3 .8h0m13 3.1h0m-3.1-1.4h0m-10.2 1.9h0m-.3-1.7h0m-13.9-.4h0m-3.3 3h0m-1.7-1.2h0m-17.2 .8h0m-13.2 1.9h0m.4-.3h0m11.4 1.3h0m3.7-1.8h0m1.6 .3h0m3-.6h0m25.8 .5h0m-17.8 4.4h0m-49.6 .6h0m19.2 .8h0m17.3 1.8h0m1.5-.7h0m2.4 .7h0m2.8-1.5h0m-9.6 2.1h0m-19 .6h0m-1.2-.2h0m-8.6 2.1h0m8.6 1.3h0m.9 .1h0m1.5-.1h0m.1 1.5h0m19.9-1.8h0m3.2 0h0m32.3 3.9h0m-.5 .5h0m-24-1h0m-1.2 1.7h0m-8.7-1.3h0m-4 1.6h0m-6.5-.5h0m-9.6 .1h0m-.2 .3h0m2.5 1.7h0m2.6 .8h0m49-1.2h0m-48.2 2.6h0m-18.7 3.9h0m.1 .4h0m39.5 1.7h0m-29.3 4.5h0m26.3-.4h0m-15.2 9.9h0m-22.2 16.4h0" stroke="#cd796a" stroke-width="1.1" stroke-linecap="round" stroke-opacity="0.68"/>
<path d="M216.2 235.8h0m70.6 44.6h0m13.8 29.5h0m-54.6 2.8h0" stroke="#2c0e73" stroke-width="1.1" stroke-linecap="round" stroke-opacity="0.68"/>
<path d="M239.2 269.2h0m70 3h0m7.3 0h0m-24.6 2h0m19.7 4.7h0m-11.4 .2h0m-21.8 7.6h0m-7 4.6h0m-41.7 2.8h0m16 1.4h0m27.1 4.4h0m-42.3-2.6h0m-2.9 .4h0m21.5 3.3h0m8.7 1.1h0m41.5 2.1h0m-2.9-1.1h0m-50 2.3h0m-3.8 .5h0m-.6-2.3h0m19.4 2.5h0m11.6 0h0m-40.4 7.1h0m37-.4h0m3.7 4.6h0m-3.5-.7h0m-.3-.3h0m-10.5 .1h0m-14.2 .2h0m19.3 2.2h0" stroke="#b25577" stroke-width="1.1" stroke-linecap="round" stroke-opacity="0.68"/>
<path d="M291.1 271.2h0m19.8 4.2h0m-86.4 13.3h0m1.7 4.9h0m-.4 1.1h0m1.2-.2h0m18.1 2.4h0m15.8-2.1h0m3.7 5h0m8.5 4.9h0m4 4.7h0m-6.6 .3h0m-39.6 4.5h0m.8-.6h0m39.5 1.3h0m.1-.1h0m2.6-1.6h0m-6.6 4.6h0m-2.6-.3h0m-6.2 .9h0m4 .3h0m2.3 0h0" stroke="#9e417e" stroke-width="1.1" stroke-linecap="round" stroke-opacity="0.68"/>
<path d="M301.9 281.9h0m-73.4 15.1h0m16.1 11.8h0m6.9-1.2h0m44.6 2.4h0m-21.9 7.3h0" stroke="#5e1284" stroke-width="1.1" stroke-linecap="round" stroke-opacity="0.68"/>
<path d="M225.5 289.6h0" stroke="#751c86" stroke-width="1.1" stroke-linecap="round" stroke-opacity="0.68"/>
<path d="M306.8 274.1h0m-23 14.8h0m-16.9 7.4h0m-7.4 8.7h0m-13.6 .8h0m-3.3-1.5h0m-.9 3.5h0" stroke="#460f7f" stroke-width="1.1" stroke-linecap="round" stroke-opacity="0.68"/>
<path d="M300.9 281.5h0m-31.8 35.1h0" stroke="#100d66" stroke-width="1.1" stroke-linecap="round" stroke-opacity="0.68"/>
<line x1="203.6" y1="223.5" x2="203.6" y2="353.9" stroke="#000" stroke-width="1.2"/>
<line x1="203" y1="353.3" x2="324.2" y2="353.3" stroke="#000" stroke-width="1.2"/>
<line x1="200.6" y1="226.9" x2="203.6" y2="226.9" stroke="#000" stroke-width="1.1"/>
<text x="197.1" y="229.4" font-size="8.7" text-anchor="end" textLength="4" lengthAdjust="spacingAndGlyphs">5</text>
<line x1="200.6" y1="272.8" x2="203.6" y2="272.8" stroke="#000" stroke-width="1.1"/>
<text x="197.1" y="275.3" font-size="8.7" text-anchor="end" textLength="4" lengthAdjust="spacingAndGlyphs">0</text>
<line x1="200.6" y1="318.7" x2="203.6" y2="318.7" stroke="#000" stroke-width="1.1"/>
<text x="197.1" y="321.2" font-size="8.7" text-anchor="end" textLength="8.6" lengthAdjust="spacingAndGlyphs">−5</text>
<line x1="219.6" y1="353.3" x2="219.6" y2="356.3" stroke="#000" stroke-width="1.1"/>
<text x="218.2" y="365.7" font-size="8.7" text-anchor="middle" textLength="8.6" lengthAdjust="spacingAndGlyphs">−5</text>
<line x1="248.8" y1="353.3" x2="248.8" y2="356.3" stroke="#000" stroke-width="1.1"/>
<text x="248.8" y="365.7" font-size="8.7" text-anchor="middle" textLength="4" lengthAdjust="spacingAndGlyphs">0</text>
<line x1="278.1" y1="353.3" x2="278.1" y2="356.3" stroke="#000" stroke-width="1.1"/>
<text x="278.1" y="365.7" font-size="8.7" text-anchor="middle" textLength="4" lengthAdjust="spacingAndGlyphs">5</text>
<line x1="307.3" y1="353.3" x2="307.3" y2="356.3" stroke="#000" stroke-width="1.1"/>
<text x="307.3" y="365.7" font-size="8.7" text-anchor="middle" textLength="8.6" lengthAdjust="spacingAndGlyphs">10</text>
<text x="263.6" y="378.9" font-size="9.9" text-anchor="middle" textLength="28.8" lengthAdjust="spacingAndGlyphs">UMAP_1</text>
<text x="182.3" y="292" font-size="9.9" text-anchor="middle" textLength="29.2" lengthAdjust="spacingAndGlyphs" transform="rotate(-90 182.3 288.4)">UMAP_2</text>
<defs><linearGradient id="g3231" x1="0" y1="0" x2="0" y2="1"><stop offset="0" stop-color="#0d0887"/><stop offset="0.13" stop-color="#4c02a1"/><stop offset="0.25" stop-color="#7e03a8"/><stop offset="0.38" stop-color="#a92395"/><stop offset="0.5" stop-color="#cc4778"/><stop offset="0.63" stop-color="#e56b5d"/><stop offset="0.75" stop-color="#f89441"/><stop offset="0.88" stop-color="#fdc328"/><stop offset="1.0" stop-color="#f0f921"/></linearGradient></defs>
<rect x="323.1" y="281" width="5" height="24.4" fill="url(#g3231)"/>
<line x1="323.1" y1="292.9" x2="324.2" y2="292.9" stroke="#fff" stroke-width="0.5"/>
<line x1="327" y1="292.9" x2="328.1" y2="292.9" stroke="#fff" stroke-width="0.5"/>
<line x1="323.1" y1="298.6" x2="324.2" y2="298.6" stroke="#fff" stroke-width="0.5"/>
<line x1="327" y1="298.6" x2="328.1" y2="298.6" stroke="#fff" stroke-width="0.5"/>
<text x="323.1" y="277.9" font-size="5.9" textLength="15.5" lengthAdjust="spacingAndGlyphs">Exprs</text>
<text x="330.1" y="287.8" font-size="6.4" textLength="3.7" lengthAdjust="spacingAndGlyphs">3</text>
<text x="330.1" y="295.2" font-size="6.4" textLength="3.7" lengthAdjust="spacingAndGlyphs">2</text>
<text x="330.1" y="300.9" font-size="6.4" textLength="3.7" lengthAdjust="spacingAndGlyphs">1</text>
<text x="330.1" y="307.3" font-size="6.4" textLength="3.7" lengthAdjust="spacingAndGlyphs">0</text>
<text x="437.6" y="219.9" font-size="10" text-anchor="middle" textLength="25.5" lengthAdjust="spacingAndGlyphs" font-style="italic" fill="#111">NKG7</text>
<path d="M393 232.9h0m-1.2 .1h0m0 .8h0m-2.1-2.1h0m-1.2 .3h0m-1.6 .8h0m-2.2 1.4h0m.8 2h0m1.1-1.8h0m2.2 .4h0m.3 .7h0m.3-1h0m.1 1h0m.4 0h0m.1 .3h0m.1-.5h0m.5 1.1h0m.9-.2h0m.2-1.8h0m0-.1h0m2 1.6h0m1.7 1h0m-1.3 2.5h0m-.7-2h0m-1.2 2.2h0m-.4-.7h0m-1.2-1.8h0m-.6 2.4h0m-.1-1.6h0m-.1 1.6h0m-.4-.6h0m-.3-.2h0m-.2-.4h0m-.8 .4h0m-.2 .1h0m-.1 .5h0m-.4-1h0m-.1-.4h0m-1 .1h0m-1.8 2h0m1.7 0h0m2.3 1.8h0m1-1.5h0m.8 .5h0m.9 .4h0m.1 .5h0m.5 .5h0m.1 .5h0m.6-2.3h0m0-.1h0m.1 2h0m.9 .7h0m.1-1.3h0m.1 .4h0m.2 .1h0m.5-.9h0m1.4-.6h0m1.4 .5h0m-.2 4.2h0m-.9 .5h0m-.7-.4h0m-1.1-.7h0m0 .2h0m-1.7-1.4h0m0 1.9h0m-.6-.7h0m-.2-.4h0m-.5 1h0m-1-.4h0m0-.5h0m0-.5h0m-.6-.6h0m-.8 1h0m-.4-.1h0m-.4 .4h0m-3.9-.7h0m-2.6 4.7h0m1.2-.6h0m1-1.6h0m.5 1.1h0m.5 .3h0m1.9 .9h0m.1-.2h0m2.9-1.5h0m.7-.2h0m0 1.2h0m.1-1.8h0m.3 1.6h0m.4-.2h0m.3-1.5h0m.1 1.5h0m1-1.4h0m0 1h0m.1 1.2h0m.2 .4h0m0-1.4h0m.2 1.2h0m0-.5h0m.5 .6h0m0 0h0m.2-1.4h0m.3-1.3h0m.9 .7h0m1 0h0m0 .3h0m1.1 1.2h0m8.5 3.5h0m-.4-2.1h0m-2.2 1.1h0m-.4-1.3h0m-.1-.2h0m-.8 .6h0m-2-.2h0m-.9 1.8h0m-1.1-.4h0m-1.8-.4h0m-.8-.4h0m-.2 .1h0m-.1 1.4h0m0 .2h0m-.3-1.2h0m-.3 .1h0m0-1.9h0m-.1 2.2h0m-.3-.3h0m-.1-1.2h0m0 1.3h0m0-.3h0m-.1-.9h0m-.4 1.2h0m0 .4h0m-.1-1.7h0m-.5 1h0m-1 .1h0m0-1.1h0m-.8-.2h0m-.6 .7h0m-.2-.3h0m-.7 .9h0m-.4 .4h0m0-1.3h0m-2.1 .8h0m-.9 1.3h0m-.3-1.1h0m-.2-1.8h0m-4 .3h0m-.3 5h0m3.8 .4h0m.1-2.2h0m.2 2.2h0m0 .1h0m.5-.9h0m.7-.2h0m.2 1.2h0m.4-1.8h0m.4-.8h0m.4 .9h0m.2 .7h0m4 .3h0m.7-.4h0m.3 1h0m1.8-1.3h0m.3 .9h0m.3-1.9h0m.2 1.1h0m.1-.3h0m.3-1.3h0m1.9 1.3h0m.3-.4h0m1.6 1h0m1.9 .6h0m1.8-2.3h0m3.9 4.6h0m-.1-.5h0m-.5-.2h0m-.8 .3h0m-.2 .3h0m-5.9 1h0m-.3-.6h0m-.7-.4h0m-.4 .5h0m-.5-2.1h0m-.1 .8h0m0 .8h0m-.2 .9h0m-.1-.5h0m-.8-1.2h0m-.8 .5h0m0 .1h0m0-.1h0m-.5-.3h0m-.3 .2h0m-.3 .5h0m-.1-1.6h0m-1.4-.2h0m-.7 .2h0m-.1 1.2h0m-2.6 1h0m-.8-.9h0m-.6-1.6h0m-1.7 1.5h0m-.6-.9h0m-1.5-.2h0m-.2 .4h0m-.5 1h0m-.6-.4h0m-.8-.9h0m-.7 .9h0m-1.8-.3h0m1.8 3h0m3.2-1.1h0m2 2.3h0m.2-1.1h0m.4 1.5h0m.1-1.1h0m1.4 1.2h0m0 .1h0m.5-2.8h0m.4 .8h0m1.8 2.1h0m1.1-2h0m.7-.7h0m1.9 2.4h0m.1-2.4h0m1.1 .7h0m1.6-.7h0m.4 .3h0m.1 1.8h0m0-.2h0m3.1 0h0m6.6-1h0m1.1-.5h0m60.4-.3h0m1 .3h0m.1 3.8h0m-1.3 .7h0m-1.1-1.4h0m-58.9 .6h0m-3.2 .2h0m-5.1-.4h0m-1.4-.6h0m-.3 .8h0m-.2 .1h0m-.5-1.5h0m-.2 2.6h0m-2.5-2.1h0m-.1 1.5h0m-2.5-.4h0m-.8-1.1h0m-.3 .9h0m-.5-1.3h0m-.1 2.3h0m-.8-.5h0m-.4 0h0m0 .4h0m-.9-.9h0m-.4 1.3h0m-.4-1h0m0 .9h0m-.6-1.5h0m0 .9h0m-.7 .1h0m-1 .6h0m-.2-2.3h0m-.3-.3h0m-.2 .3h0m-.4 0h0m0 2.3h0m-1.4-1.2h0m-.7-1.2h0m-.4 .6h0m-1.7-.8h0m3.7 3.1h0m.3 1.7h0m.3-.6h0m0 .3h0m.5-.6h0m1.5 .3h0m.4 1.4h0m1.5-1.9h0m.5-.3h0m.2 1.3h0m.3-.9h0m.3-.4h0m.1 1.9h0m.7-2.4h0m0 2.1h0m1.1-1h0m.3-.9h0m.1 .1h0m.4-.1h0m.2 .4h0m.3 2h0m.3-1.2h0m.2-.1h0m.7 1.7h0m.5-1.1h0m.3 0h0m.4-.9h0m.7 0h0m0 1h0m.3 .1h0m8.6-.7h0m4.8 0h0m1.7 .7h0m55.9 .7h0m1.3-.4h0m.1 0h0m.7-1.1h0m.1 1.2h0m14.4-1h0m6.5 3.9h0m-.8-.8h0m-2.2 .7h0m-2.2-.9h0m-.5-.5h0m-.4 1.9h0m-.3-.7h0m0-.2h0m-14.4-1.7h0m-2.8 1.5h0m-.1 .3h0m-.3-.2h0m-.5 1.1h0m-1.8-1.4h0m-.7 1.5h0m-.7-.5h0m-47.2-.2h0m-3.6-.7h0m-.5 .6h0m0 .2h0m-.7 .4h0m-.6-.4h0m-1.2-.2h0m-1.3 .6h0m-3.6-.1h0m-5-.3h0m-2.8-1.4h0m-.1 .2h0m-2.9 .2h0m-1.8-.1h0m-.3 .8h0m-1.3 .8h0m-.7-2.9h0m-2.5 1.9h0m0-.7h0m-.4 .8h0m-1.6 .8h0m-2-1.5h0m-.8 1.3h0m-9.8-2.4h0m8.2 4.5h0m4.6-1.5h0m2.7 1.6h0m.4-.7h0m.1 .3h0m.3 .1h0m.3 .4h0m1.1-1.7h0m1.2 1.1h0m.7 .8h0m1-.1h0m.5 .8h0m.6-1.5h0m.6-.8h0m1.8 .3h0m1 1.3h0m.8-1.3h0m.8 1.9h0m1.6 0h0m4.6-2.5h0m3.4 .9h0m2.7 .9h0m.6-1.8h0m.7 2.6h0m.4-.4h0m2.7-1.5h0m3.3 1.1h0m44.1 .7h0m.5-1.5h0m.6 1h0m1.8-.9h0m.1 .7h0m.4-1.8h0m.2 1.9h0m2.8-2h0m12.2 2.1h0m.6-.8h0m1.4-.1h0m.1 .7h0m1.3 .9h0m1.8-.3h0m.1-1.5h0m.2 .3h0m.2 1.6h0m.4-2.1h0m.3 1.8h0m.6-.4h0m.1-.7h0m.3-1.3h0m1.7 .9h0m.3 1.3h0m1.2 3.4h0m-1.8-2.2h0m-.1 1h0m-1 1.3h0m-1-.3h0m-.3-1.6h0m-1 .8h0m-.9-.3h0m-.6-1.1h0m-.1-.3h0m-1.2 1.6h0m-1.6 0h0m-.7-.9h0m-.4 .2h0m-.3-.7h0m0 2.3h0m-.7-2.7h0m-.1 1.2h0m-.7 1.5h0m-.8 .2h0m-1.2-1.1h0m-.1 .4h0m-2.7 .6h0m-1.3-.2h0m-.4 .2h0m-1.7-1h0m-4.5-.7h0m-1.6 .6h0m-.5 .1h0m-.6-.6h0m-.2 .5h0m-.4 0h0m0 .3h0m-.6-1.5h0m-.1 .7h0m-.5 .7h0m-.2 0h0m-1 0h0m-1.4-1.7h0m-.8 2.2h0m-45.8-1.4h0m-1.2 .4h0m-.1-.4h0m-.8 .2h0m-5.7 .9h0m-4.7-.6h0m-2.4-.8h0m-.2-.2h0m0-.3h0m-.4 .3h0m-.7 1h0m-.2 .1h0m-.1-1h0m-1.3-.1h0m-.7 2.4h0m-1.9-1.3h0m-.9-.4h0m-.5 1.3h0m-.2-1.3h0m0-.4h0m-.1 .9h0m-1.6 .2h0m-.6-.7h0m-1 1.3h0m.7 2.1h0m.7-1.2h0m.2 .6h0m.9 .3h0m.6 0h0m.2-.8h0m.1 1.1h0m.5 .1h0m.8-.6h0m.3 1.1h0m.2 .2h0m2.2-1.5h0m.8 1.7h0m0-1.7h0m.3 2h0m.2-.6h0m.5 .6h0m.9 0h0m.4-.7h0m2.1-.2h0m3.3 .3h0m6.5-1.3h0m2.4 1h0m31 .7h0m1.9-1.5h0m.5 1.2h0m.2-1.8h0m.3 1h0m12 1.1h0m.4-1.2h0m1.2-1h0m.5 1.5h0m1.2-.7h0m.7 .5h0m.6-1.1h0m2.8 0h0m1 .3h0m.7 .3h0m3.1 0h0m.3 1.4h0m.2-.6h0m.3-.4h0m.1 .4h0m1.2-.2h0m1.6-.5h0m.7-.7h0m.4 1.8h0m.1-2.1h0m.2 .3h0m.6-.1h0m2.7 1.9h0m.5-.8h0m1 .3h0m.9-.3h0m1-.4h0m.2-.5h0m.5-.6h0m.9 1h0m.7-.2h0m.3 .5h0m.6-.7h0m1.2-.8h0m1.7 2.6h0m1.9-1.4h0m1.3-.5h0m-8.9 4.7h0m-2.3 0h0m-.8-1.5h0m-.1 .5h0m-.2 1.1h0m-.3 .3h0m0 0h0m-.1-.1h0m0-.4h0m-1-1.1h0m-.7-1.2h0m-.1 2.7h0m-.8-1.1h0m-1 .2h0m-1.2 .4h0m-.2-.5h0m-.1-.4h0m-.2 1h0m-.1-1.3h0m-2-.9h0m-.1 1h0m-.2-1h0m-.3 .8h0m0 2h0m-1.4-2.1h0m-3.3-.1h0m-.7 1h0m-.3 .2h0m-1.7 .1h0m-2.4 .5h0m-1-.5h0m-.7-1.8h0m-.1 .1h0m-.5 1.1h0m-.3 .7h0m-.2-2.1h0m-.2 2h0m-1.6-.2h0m-.1 1.1h0m-.1-.4h0m-.4 .4h0m-2.5-2.2h0m-5.2 2.1h0m-.9 0h0m-1.5-1.9h0m-1-.7h0m-.6 .5h0m-36.5 .1h0m-5-.4h0m-.2 2.1h0m-4 0h0m-.2-.5h0m-.1-1.5h0m-.1 .3h0m-.7 .9h0m-1.7 1h0m-.2 .2h0m-1.7-2.6h0m-.4 1.7h0m-.1-1.8h0m-.8 1.6h0m-1.1-1.1h0m-.7 1.3h0m-12-1.5h0m16.2 3.7h0m0-.6h0m3.9-.5h0m1.5 1.6h0m1.8-1.2h0m43.6 .1h0m0-.4h0m.9-.2h0m.3 .1h0m.7 2.2h0m.3-.9h0m0 1.1h0m2.3-1.2h0m2.4 1.5h0m1.3-.5h0m.3 .7h0m0-2.7h0m.2 1.7h0m2.2 .4h0m.2-.1h0m0 .6h0m.2-2.6h0m2 1.4h0m0-.8h0m0 .9h0m.2 1.2h0m.5-1.5h0m.9-.8h0m4.4 .7h0m3.3-1.4h0m.6 2.1h0m1.4 .3h0m.8-1.8h0m.8 1.4h0m0-.9h0m.1 1.8h0m1.8-2.8h0m0 .8h0m.1 .8h0m.2-1.4h0m.1 2h0m.3-1.7h0m.3 2.3h0m.3-2.4h0m.1 2h0m0-.3h0m.5-1.8h0m.5 1.4h0m2.6-1.5h0m2.7 1.6h0m5.4-1.5h0m-4 4.2h0m-3.1-1.4h0m-1.8 1.2h0m-.4 1.1h0m-.1-1.5h0m-1.5-.7h0m-.2 .9h0m-.1 .8h0m-.8 .6h0m0-1.8h0m-1.2 1.8h0m-3.2-1h0m-.3 .5h0m-.5-1.8h0m-.4 1.4h0m-.4 1.1h0m-.4-1.8h0m-.1 1.5h0m-.2-.1h0m-.1-1h0m-.2-1h0m-.1 1h0m-.1 .3h0m-1.2 .6h0m-.2-.7h0m-1.1-1h0m-2.3 .3h0m-1.5 .8h0m-1.7-1.2h0m-1.8 .9h0m-1-1.3h0m-.4 1.3h0m-.3 1.6h0m-.6-1.1h0m-.8-1.2h0m-.2 .6h0m-1.5 1.1h0m-.8 .4h0m-.9-.1h0m-1-.6h0m-.8-1.6h0m-.4-.1h0m-.1 1.7h0m-1.2-1.7h0m-11.6 2.4h0m-4.7 .1h0m-.8-.6h0m-31.3-1.5h0m-.4 .7h0m-2.5-.9h0m-.2 1.6h0m-.5-2.1h0m.6 3.6h0m.9 2.3h0m.8-.1h0m0-.7h0m.5 .3h0m19.7-1.3h0m1.9-.5h0m11.5 1.8h0m2-1.1h0m.2 .2h0m2.3 .7h0m.6 0h0m.2-1.3h0m.9-.5h0m1.4 2.4h0m.2-1.4h0m.5-1.1h0m1.9 1.1h0m.9-1.1h0m5.5 .8h0m1.7 .5h0m.9-1.6h0m.6 .8h0m.3 .1h0m2.4 0h0m.3-.7h0m.2 .6h0m.8-.5h0m.2 .5h0m4 .9h0m6.3-1h0m.4 .8h0m.7-1.4h0m1.8-.1h0m.3 .8h0m0-.3h0m.9 1.6h0m1.3-.1h0m.1-1.2h0m.3 .1h0m.6 .7h0m.3 1.2h0m1.4-1.5h0m1.5 .7h0m1.7-.9h0m.1 1.6h0m.3-1.6h0m.9-.7h0m.1 2h0m4.5-1.9h0m.5-.3h0m-1 3.7h0m-9.5 .5h0m-5.3-.2h0m-16.4-1.2h0m-3.4 2.7h0m-.1-.5h0m-2.6-2.3h0m0 .6h0m-.4 .3h0m-.3 .6h0m-1.9 0h0m-.1 .7h0m-2.5-2h0m-.1 2h0m-1-1.4h0m-.2 1.2h0m0-1.9h0m-.1 2.1h0m-.4-1.4h0m0 1.3h0m-.2-.7h0m-5.8 1.6h0m-12-1h0m-.6-.2h0m-.8-.4h0m-21.5-.5h0m1.8 4.7h0m2.7-.4h0m10-1.4h0m3.6 1.7h0m.2-1.7h0m1.9 .1h0m0-.1h0m.4 .3h0m14.7-.3h0m2.1 1.7h0m1-.2h0m.5-.5h0m.1-.6h0m1.6-.8h0m.7 1.9h0m0 .2h0m.2-1.8h0m.6 .7h0m.4 .9h0m.4-2h0m.1-.1h0m.4 2h0m.1-1.1h0m.6-.1h0m.2 1.9h0m1.9-1.5h0m.4-.9h0m1.1 .1h0m.4 .9h0m.8-1.4h0m23.8 5h0m-26.1-1.8h0m-1.5 .8h0m-.7 .3h0m-1.2-.4h0m-.7 1.2h0m-1.5-1h0m-.8 .3h0m-.9-.2h0m0 0h0m0 1.3h0m-.4-.3h0m-.4-1.8h0m-.3 1.1h0m-.6-.9h0m-.2 1.5h0m-.2-.1h0m-.6-.4h0m-1.7 0h0m-.6 0h0m-.3 1h0m-1.6-1.4h0m-.1 .6h0m-10.3 0h0m-.4 .5h0m-2.9 .2h0m-.2-.2h0m-1.5 .3h0m-.4-.6h0m-.1-1.6h0m-.3 2.2h0m-.3-.8h0m-1.6-1.4h0m-.8 2.2h0m-.1-.6h0m-.5-1.8h0m-1 2h0m-7-2h0m-1.1 0h0m-.9 .2h0m1 2.8h0m7.7 2.6h0m.7-1.3h0m.6-1.5h0m.3 2.4h0m.1-.6h0m.4 .5h0m.9-1.5h0m.1 1.1h0m.3 .9h0m.2-1.1h0m.4-1.1h0m.1 1.8h0m.6-1.8h0m.2 1.3h0m.3 .4h0m.1-1.4h0m.1 2h0m.1-.6h0m.3-.1h0m.5-1h0m.9 .9h0m.6-.4h0m1.6 .9h0m.5 0h0m1.1-.9h0m4 .2h0m7.5-1.5h0m.1 1.6h0m.5 .3h0m.8-.3h0m.1-1.2h0m2.4 .7h0m.7-1.2h0m0 .9h0m.9-1.2h0m1.1 1.7h0m6.2-1.2h0m23.1 1.4h0m1.6-.5h0m1 .7h0m1 .8h0m2.1-.1h0m-1.6 1.2h0m-.1 .7h0m-1.3-.2h0m-.3-.2h0m-.2 .1h0m-.5 .5h0m-1-1.5h0m-.2 .1h0m-23.3 2.1h0m-.7 0h0m-.4-2.7h0m-1.1 2.5h0m-2.1-1.5h0m-2.6 .6h0m-.6-.9h0m-1.9 .7h0m-1.2-.5h0m-1.2 .1h0m-.5 1.3h0m-.6-1.5h0m-.2 2.1h0m-.3 .1h0m0-1.9h0m-.7 1.8h0m-.7-.8h0m-.1 .7h0m0-1.9h0m-1 .4h0m-.9 1.4h0m-4.4-1.8h0m0 .5h0m-.2 1.3h0m-.5-.4h0m-.3 .4h0m-1.2 .2h0m-.9-1.4h0m-2.9-.3h0m-.5-1.2h0m-1.4 1.7h0m-.6-.1h0m-.5-.3h0m-1-.8h0m-.1 2.1h0m-1.5-1.1h0m-1.3 .3h0m-.2-1.1h0m-.4 0h0m-1.6-.1h0m-1.7 .1h0m-.5-.5h0m2.1 4h0m2.4 .3h0m.8 .3h0m.2 1.1h0m1.9-2.6h0m0 1.2h0m.5-.7h0m1.2 1.9h0m.1-1.6h0m1.5 1.5h0m1.4-1.2h0m.4 .7h0m.1 0h0m.1-2h0m.2 1.3h0m.5-.4h0m.5 1.4h0m.2-2.1h0m1.8 1.8h0m.4-1.3h0m.6 .9h0m.1-1.3h0m0 2.2h0m.1-1.9h0m.4 1.7h0m2.6-1.6h0m.9 .5h0m2.4-.5h0m.4 .6h0m10.8-.7h0m2.9 2.1h0m.1-1.6h0m.4-.7h0m.7 .2h0m0 .1h0m0-.7h0m.6 .2h0m.5 2.6h0m21.9-2.5h0m.4 .1h0m.8 .7h0m.3 1.2h0m3-.8h0m.1 2.3h0m-.7-.7h0m-3.8 .8h0m-21.1 1.9h0m-.3-2.1h0m-4.6 .3h0m-11.5-.9h0m-2.2 2.5h0m-2.3 0h0m-.1-1.9h0m-.7 .2h0m-2.1 1.6h0m-.1-2.5h0m-.7 .5h0m-1.4 .2h0m0 .9h0m-.9-1.7h0m-1.5 .8h0m-.4 .5h0m-.1-.8h0m-.1 1.5h0m-.6-1.1h0m-3.4 .5h0m-.3 1.1h0m-.9-.2h0m-.1-.4h0m-.9-.8h0m0 1.1h0m-.6-1.8h0m-3.5 4h0m2.1 .9h0m.1-1.7h0m.7 .2h0m.9-.4h0m.7 2.1h0m1.2-1.9h0m.7 1.7h0m.2-.9h0m.5 1.5h0m.2-.8h0m.1-.6h0m.1-.3h0m0 .7h0m.4-1.3h0m.8 .1h0m.3 1.5h0m2.8-2.1h0m0 .6h0m3-.1h0m.5 .8h0m2.7-.6h0m1.6 .3h0m.3 0h0m11.4 1.8h0m3.7-.4h0m.6 .3h0m.5-.1h0m.1-2.3h0m.4 1h0m2.8-1h0m1.1 .6h0m-1.9 3.8h0m-.3-.6h0m-.4-1.2h0m-3.2 1.6h0m-1.1 1.2h0m-.2-1.2h0m-.8-1h0m-.3-.3h0m-.1 1.9h0m-2.6 0h0m-4.9-.5h0m-1.3 1.1h0m-8.2-1h0m-5.9 1.2h0m-.3-2.4h0m-.7 0h0m-.3-.3h0m-2 1.5h0m-.2-.2h0m-.3 .5h0m-.3-1.9h0m-.3 1.8h0m-.1-1.4h0m-.8 1.1h0m-.4 1h0m-.8-.7h0m-.4-.3h0m-1.5 0h0m.7 2.2h0m.5 1h0m.6-1.4h0m.3 .5h0m.6 .2h0m0 1.5h0m.8-1.4h0m.5 1h0m.8 .6h0m17.1-2.5h0m1.7 0h0m4.6 .3h0m.4-.6h0m3.9 .3h0m-26.7 4h0m-3.6-.8h0m-.3 .7h0m-.4 1.7h0m-2-2.7h0m15 6.6h0m-20.3 19.6h0" stroke="#e6e6e6" stroke-width="1" stroke-linecap="round"/>
<path d="M387.8 231.9h0m4.8 2.4h0m1.4 4.7h0m-2.9 .8h0m-.7-1.1h0m-1.8-1.2h0m-.2 2h0m-1.4 .1h0m.7 .5h0m7.2 2.4h0m2 2.7h0m-6.7-.9h0m-7.8 4.4h0m4.5 0h0m.3-1.4h0m3.2-1h0m1.5 .9h0m1 .9h0m2.5-.8h0m1.5-.5h0m.5 4h0m-1.2 .3h0m-3 .5h0m-.1-1.6h0m-4 .4h0m-6.2 4.3h0m2.9-.5h0m5.5 .6h0m3.7-1h0m3.9 0h0m1.4 2.7h0m-1.1 1.1h0m-1.7 0h0m-6.1-1.9h0m-3.3 .9h0m5.5 3.1h0m1-1.6h0m2.6 5.8h0m-2.6-.8h0m-5.8 .7h0m-3.2-2.7h0m-2.5 .9h0m4.9 3.2h0m7.9 3.4h0m-.3-.5h0m-2.6-.4h0m-9.8-.5h0m8.8 4.6h0m1.7 .8h0m1.3-1.2h0m4.2 .2h0m15.8 4.3h0m-19.8-.9h0m-.1-.4h0m-2.8 3.4h0m1.5-.3h0m1.8-1.6h0m.4 2h0m1.5 .8h0m1.5-.6h0m2.8-2h0m-3.3 4.9h0m-.8-1.6h0m-4.5-.1h0m4.6 2.7h0m24.3 6.7h0m-3.1 3.9h0m4.4 6.4h0m-6.8-.6h0m-.3-.3h0m-1.4-.6h0m-1.9 3.2h0m3.6 1.9h0m.6-.8h0m.2-.1h0m0-.3h0m4.5 3.4h0m-2.2 .8h0m-2.6-.2h0m-1.2-.5h0m-4.2 .2h0m9.9 1.8h0m2.4 4h0m-2.5 .9h0m-3.7-2.7h0m-3.3 4.1h0m2.9 1.8h0m0-.1h0m-5.1 1.4h0" stroke="#da8f63" stroke-width="1.1" stroke-linecap="round" stroke-opacity="0.68"/>
<path d="M387.7 231.4h0m-.8 1.6h0m6.8 12.6h0m-1.5-1.7h0m-1.2-.1h0m-8.7 3.9h0m.2 .6h0m.8-.9h0m.7 1.4h0m8.1-.8h0m.3-.7h0m.5-.1h0m.2 .4h0m.2 .7h0m1.2 2.3h0m-6 .3h0m-3.7-1.1h0m-1 3.6h0m10.3 .6h0m3.8-.4h0m1.1 3.9h0m-1.5-1h0m-.1 1.1h0m-.2-1.9h0m-.7 1h0m-3.3-.1h0m-3.6 1.2h0m-2.2-1.5h0m-5.8 4.1h0m.9-.4h0m12.3 .3h0m7.2 .1h0m.1 1.7h0m-3 .5h0m-6.9 1.1h0m-1.7 0h0m-.1-1.1h0m-1.9-1h0m-1.4-.4h0m-2.1 1.2h0m2.9 3.4h0m.9-1.6h0m.9 1.8h0m5.5 .9h0m-1.5 2.5h0m-.4-1.5h0m-6.6 1.6h0m-.2-1.8h0m5 5h0m.7-1.6h0m3.7-.3h0m2.2 1.1h0m.4-1.8h0m3.5 .2h0m1.6 1.7h0m-13.9 2.6h0m-2.4-.3h0m-.9 .7h0m11.8 1.2h0m1.7 2.7h0m-6.7 1.6h0m19.1 13.7h0m6.5 .6h0m.7-.1h0m.5 4.4h0m-.8 .2h0m-4.5 3.1h0m.3 .1h0m0-1.2h0m12.8 1.9h0m-4.1 2.7h0m-6.5 0h0m-.3 0h0m-.5 0h0m7.7 .8h0m1.4 1.9h0m-11.9 3.1h0m5.3 1.2h0m6.4-.5h0m-.2 4.3h0m-12.3 3.2h0" stroke="#e3a55d" stroke-width="1.1" stroke-linecap="round" stroke-opacity="0.68"/>
<path d="M390.1 231.9h0m-1.2-.8h0m-.1 .5h0m1.2 9.5h0m4 3.1h0m-3.3 1.5h0m-2.7-.4h0m6.4 2.2h0m-8.2 1.8h0m0 1.2h0m1.1 3.3h0m13.3 .9h0m-11.7 1.8h0m-3.3 .2h0m-3.7-.9h0m7.5 2.7h0m9 .4h0m71.4 .6h0m-68.4 2.5h0m-12.9 .7h0m-.2 2.4h0m2.4 .6h0m2.3 .9h0m1.1-.3h0m1.4-2.2h0m71.4 3.6h0m-4.9 .6h0m-67-.9h0m-12.8 4.3h0m1.5-1.6h0m11.5 1.4h0m4 1.1h0m65.4 .6h0m-62 1.2h0m-7 .4h0m-3.4 1h0m-1-2.6h0m-1.6 2.6h0m-5-1.2h0m-.3-1h0m13.4 3h0m1.4 .3h0m64.1 2h0m-13.9 2.3h0m-49.4 .6h0m-1.2-1.4h0m-5.4-.3h0m5 1.9h0m58.1 3.3h0m-5.8 .1h0m-51.7 2.6h0m-2.4-2.6h0m25.7 3.8h0m29.8 3h0m-32.7 5.4h0m-3.7-.5h0m-.7 3.9h0m2.9 1.8h0m8.2 1.8h0m-3.2 .9h0m-4.3-1.1h0m-1 .2h0m-6.9 .2h0m5.2 3h0m.1-1.8h0m1.6 1.6h0m.9-.8h0m1 .8h0m1.9 .9h0m6-1.3h0m1.1 1.1h0m-1.5 1.9h0m-12.3-.5h0m-4.9 5.2h0m7.5-2.7h0m.4 .6h0m-3.5 2.3h0m-2 .2h0m2.6 3.7h0" stroke="#cd796a" stroke-width="1.1" stroke-linecap="round" stroke-opacity="0.68"/>
<path d="M402.7 249.8h0m2.4 6.5h0m5.4 3.3h0m-10.9 2.3h0m11.9 4h0m.3-.3h0m2.3 1.4h0m56-1.3h0m23 4h0m-4.2-.5h0m-1.7-.7h0m-18.9-.3h0m-54.7 .1h0m-.5 .1h0m-.9 .1h0m-.4 .5h0m-2.5-.8h0m0 2.5h0m.3 .5h0m1.3-.2h0m5.9 .2h0m51.4-.1h0m2.7-.4h0m14.8-.2h0m1 1.2h0m3.1 .2h0m1.5 3.2h0m-.2 .3h0m-.4-2h0m-3.2 1h0m-4.2 .3h0m-2.5 1.2h0m-.2-1.8h0m-6.6 .8h0m-5-.7h0m-3.8 .3h0m-.9 .8h0m-.2-1.7h0m-.9 2.1h0m0-1.5h0m-49.4 3.6h0m33.7 .8h0m.1 .1h0m12.8-.2h0m9.6-2h0m.6 1h0m2.5 1.1h0m2.3-.5h0m2.6 .1h0m2.7-1.9h0m2.2 2.2h0m.6-.6h0m6 .6h0m-9.1 1.5h0m-1.4 .2h0m-1.9 .5h0m-.9 1.2h0m-.5 0h0m-.8 0h0m-2.7-.1h0m-1.2-.7h0m-1.6-.4h0m-6.8-1.2h0m-3.1-.2h0m-11.7 5.1h0m2 .5h0m7.6-1.5h0m3.7 .7h0m9.6-1.8h0m3.2 1.8h0m1.4-.4h0m.9 1.2h0m2.5-1.3h0m1.3 0h0m.3-.4h0m2.5 4.7h0m-.7-.8h0m-.8 .7h0m-3.1-.3h0m-1.7-1.4h0m-1-.7h0m-.8 1.9h0m-.8-1h0m-4.8-.8h0m-2.9 1.9h0m-6.5-1.8h0m-1 1.4h0m-9.2-1.8h0m-1.1 2.6h0m-12.2 .1h0m-37.1 1.8h0m.4 .6h0m34.9-2h0m3.3 2.2h0m.1-1.2h0m4.2 .3h0m5.6-1.5h0m17.6 1h0m.7 .1h0m2.3-.2h0m1.9-.6h0m0 .4h0m.9 2.2h0m1.9-1.6h0m3.5 .9h0m-29 2.8h0m-1.7 .6h0m-1.4-.6h0m-.9-1.8h0m-1.3 1.2h0m-.5-.3h0m-1 1.4h0m-2.7-1.6h0m-40.1-.8h0m2.9 5h0m1-1.7h0m16.5 0h0m.7 2.4h0m27.7 3h0m-30.5-.1h0m-2.3-.6h0m-12.6 .5h0m-.2-2.1h0m13.6 3.4h0m2.3 1.3h0m2.4-.8h0m4.6 1.2h0m11.5-.7h0m.3-.5h0m3.9-1h0m8.7 3.1h0m-2 1.4h0m-12.3-1.6h0m-.3 1.4h0m-4.1-1h0m-.5 2.2h0m-5-.7h0m-9.4-1.2h0m-5 3.3h0m9.9 1.2h0m3.3-.1h0m2.2-2.3h0m.2 1.4h0m1-.7h0m6.6 1.2h0m2.3-2h0m9.1 1.8h0m1.7 1.1h0m.2-.4h0m2.5 2.3h0m-2.8-1.3h0m-15.1-.1h0m-9.7-.3h0m-2.4 0h0m-2.3 4.6h0m27 .5h0m2.4 .3h0m.7 1.1h0m-1.5 1h0m-3.3-1.3h0m-3.5 .6h0m-2.8 1.9h0m-16.8-2.2h0m-2.2 2h0m-1-1h0m-1.2-1h0m-1 2.3h0m-.4 3h0m.3-1.2h0m23.2-1.1h0m4.8 2.1h0" stroke="#9e417e" stroke-width="1.1" stroke-linecap="round" stroke-opacity="0.68"/>
<path d="M388.9 237.9h0m8.6 4.1h0m-16.8 6.4h0m12.3 .4h0m-7.8 .4h0m-2.9 0h0m6.2 3.1h0m7.1 .5h0m4.6-.7h0m-1.3 8.7h0m-6.5 .7h0m1 4.5h0m2 5.7h0m2.4-.2h0m.6-1.1h0m1.7 2.7h0m-2.4 .3h0m-5.5 2.9h0m6.4-.2h0m1.5 2.6h0m1.4 0h0m-4.7 2h0m5.2 3.8h0" stroke="#ebd658" stroke-width="1.1" stroke-linecap="round" stroke-opacity="0.68"/>
<path d="M391.5 237.7h0m-2 1.6h0m-1.3 .4h0m.4 2.2h0m12.4 3.9h0m-10.9 .1h0m-7.1 1.3h0m1.2 1.2h0m9.4-.7h0m.4 .5h0m3-1.9h0m.5 4.7h0m-3.4-1.8h0m-6.6 4.7h0m4.9-1.2h0m.9 1.6h0m1.9-1.1h0m6.1 4.8h0m-3.5-1.4h0m-2 .5h0m-.9-1.6h0m-5.2 2.2h0m-3.3-1.3h0m-4-1.4h0m-.1 1.3h0m-1-.3h0m-.1 .9h0m17.5 2.4h0m0-.4h0m-11 5.7h0m2.7 1h0m2.8-.2h0m1.4 .5h0m.9 .6h0m1.5-2.2h0m1.8 1.2h0m-2.9 3.6h0m-.3-.1h0m-8.9-1.8h0m-2.3 1.7h0m8.5 2.1h0m2.4 3.5h0m1 2.3h0m3.5 1.8h0m.5-2.2h0m-2.7 10.7h0" stroke="#e9bc58" stroke-width="1.1" stroke-linecap="round" stroke-opacity="0.68"/>
<path d="M380 251h0m28.6 8.4h0m2.1-.7h0m58.7 3.5h0m-77.2 1.7h0m20.1 3h0m77.9 1.1h0m-2 1.7h0m-1.2-1.1h0m-17.7 1.3h0m-3-.3h0m-.1-.2h0m-52.8 .3h0m-.9-1.1h0m-.3-.6h0m-2.9 .8h0m2.4 1.3h0m1.2 1.1h0m.2 1h0m0-.3h0m69.9-.3h0m1.9 .5h0m.5 .4h0m.4 .2h0m0 .2h0m2.4-1.3h0m.7 .9h0m.9-.2h0m.5-.1h0m2.3-1.4h0m.6 4h0m-4.3-.8h0m-.9 1.2h0m-1.8-.1h0m-.6-.4h0m-1.1-1.1h0m-10.8 .6h0m-.8-.2h0m-.5 2h0m-5.4-1.9h0m-1.2 .6h0m-2.7-.9h0m-50.5 .6h0m-.7 1.1h0m34.4 2.6h0m10.2 0h0m2.9-1.2h0m1.8 .2h0m2.9 1.2h0m6-1h0m.5 .5h0m3-.2h0m1.4 1.1h0m.5-.6h0m5.9-.1h0m.9-1.6h0m.3 1.6h0m1.8-1.2h0m.7 .5h0m1.2 .5h0m1.6-.6h0m1.7 .6h0m1.4-1.1h0m1.8 .2h0m.1-.9h0m-3.1 3.1h0m-6.8 1.6h0m-1.4-1h0m-1.3 .4h0m-2.9-.2h0m-1.4-.3h0m-.7 .3h0m0 1.6h0m-1.4-2.3h0m-1.1 1.9h0m-1.3-1h0m-.2 .4h0m-.6 0h0m-5.7-.4h0m-4.7 1.8h0m-9.4-2.1h0m-3.5 1h0m-.1 .6h0m1.2 2.6h0m.6 .3h0m.7 .2h0m10.1-.9h0m.2 1.1h0m8.6-1.7h0m1.8-.4h0m4.3 1.6h0m1.1-.3h0m.1 .1h0m.8-1.1h0m1 1.1h0m1 0h0m.8-1.1h0m1.5-.5h0m.1 2.4h0m-1.8 3h0m-1.2-.3h0m-.1-1.1h0m-6.5-.4h0m-2.1-.2h0m-2.7 2.1h0m-6.4-1.6h0m-4.5 1.5h0m-3.7-1h0m-3.6 .3h0m-.6 .4h0m-7.6-1h0m-42.1 2.9h0m.1-1.4h0m22.3 2.9h0m13.6-1.9h0m4.1 .9h0m7.6-.9h0m2.9 1.1h0m1-1.7h0m3.3 .4h0m.2-.2h0m16.1 2.1h0m.9-1.9h0m1.2-.2h0m.8 .6h0m.6-1.2h0m4.6 0h0m.4 .2h0m4.9 1.5h0m-.9 1.6h0m-37.5 1.1h0m-2.7-.1h0m-42.2 2.4h0m3.5 1.5h0m.2 .3h0m40.6-1.4h0m1.4-1h0m1.4 1.2h0m0-.3h0m-5.3 2.4h0m-7.4 .5h0m-.1-.8h0m-.3 1.4h0m-28.5 1.1h0m-.8-2.3h0m28.8 5.2h0m2.7-1.8h0m.7 1h0m35 2.5h0m-2-.3h0m-21.2 .8h0m-1.2-.7h0m-.2 .7h0m-.2 .9h0m-8.7-1h0m-7.5 2.5h0m.7 1.6h0m12.4-.7h0m2.6-.5h0m21.9-.9h0m5.7 1h0m-22.8 4.2h0m-.1-2.4h0m-2.5 2.1h0m-19.4-.5h0m-7.6-1.8h0m-15.9 4.4h0m1.6 .1h0m33.4 1.2h0m4.4-1.6h0m3.2 .7h0m.9 1h0m-2.7 2.5h0m-1.1-1.3h0m-1.1 .2h0m-.5 .3h0m-1.6-1.6h0m-.6 1.4h0m-3.5 1.1h0m-2.5-.4h0m-2.6-.7h0m5.1 2.4h0m4.3 1.2h0m-16.3 7.8h0m-.9 1.8h0m0 .1h0m-.8-.2h0m-.3 .5h0m-19.5 14.6h0" stroke="#5e1284" stroke-width="1.1" stroke-linecap="round" stroke-opacity="0.68"/>
<path d="M392.6 236.1h0m14.8 21.4h0m-1.5-1.2h0m-7.3 .3h0m-6.4-.3h0m78.8 2.2h0m.9 8.4h0m-2.3 2.1h0m-2.4 6.1h0m-.1 .7h0m-2.8-2.5h0m-72.5 2.2h0m72.6 2.2h0m-.7 1.7h0m-10.2-.3h0m-4.7 4.4h0m.3 .4h0m1.7-1.1h0m5.6 2h0m2.3-1.2h0m.1 1h0m2-2h0m2.5 1.1h0m-7.5 2.8h0m-.2-.8h0m-1.7 2.3h0m-2.3-2.1h0m-2.9-.5h0m-26.9 4.1h0m31.1-.3h0m1.6 .9h0m.6-.7h0m-8.1 3.7h0m-2.6 .6h0m-1.1-2.2h0m-25.8 5.1h0m1.1-2h0m.9 .9h0m17.3 1.2h0m1-.4h0m5.9-2h0m-23.3 3.7h0m-.2 1.8h0m-1.6 .1h0m-11.8 .8h0m6.7 2h0m9-.8h0m9.1 .2h0m-4.9 3.4h0m-.5-2.2h0m-3.3 .4h0m-5.6-.3h0m-1.5 .2h0m-1.2 1.8h0m-.8-.4h0m-3.3-1.5h0m.5 3.3h0m7.4 .4h0m.6 0h0m.5 1.6h0m4.2-2.1h0m.7 .8h0m.1 .7h0m3 2.2h0m-1.8 .4h0m-3.6-.3h0m-5.8-.8h0m-1.8 2.9h0m9.1-.4h0m-5 4.5h0m-.7-.7h0m-8.8 1h0m5.5 1.7h0m-2.8 3.3h0" stroke="#c06771" stroke-width="1.1" stroke-linecap="round" stroke-opacity="0.68"/>
<path d="M393.1 259.2h0m77.2 2.4h0m-61.5-.3h0m1.8 5.4h0m79.2 1.5h0m-.3 .6h0m-1-.6h0m-75.9 1.3h0m-1.8-.5h0m-15.3 .6h0m14.4 1.3h0m.4 .6h0m1.5 1.2h0m2.9-2.5h0m.1 2.7h0m.1-2.5h0m1.1-.2h0m66.5 2.6h0m1.4-.7h0m.5 0h0m1.7 .9h0m.7-.5h0m.2 .4h0m1-.3h0m.6-2.2h0m1 3.1h0m-1.6 2.3h0m-.7-.9h0m-.3 .5h0m-.5-2h0m-.4-.4h0m-1.5 1h0m-.5 0h0m-.3 .2h0m-.8 .6h0m-1.1 .7h0m-.7-1.3h0m-7.7 1.2h0m-1.9 .3h0m-9-.6h0m-49.9 .4h0m-1.2 2.3h0m55.1-1h0m7.6 .9h0m.6-.6h0m1 1.8h0m.9-.7h0m.3-1.4h0m.2 2.1h0m1 0h0m1.9-.8h0m.2-.9h0m.4 0h0m1.6-1.2h0m.3 2.2h0m2.1-.1h0m2.7 .1h0m1.6-1.1h0m.1 .6h0m1.5 1.1h0m1.3-2.2h0m-10.6 2.8h0m-.5-.3h0m-1.4 1.7h0m-.8 .9h0m-.2 .1h0m-.1-.4h0m-1.6-1.9h0m-1.5 1.1h0m-.5 .9h0m-.7-2.1h0m-1 2.2h0m-5.1-.2h0m-20.9-1.6h0m20.4 5.1h0m2.4-1.3h0m.4 1.3h0m2.5-1.2h0m.7-1.5h0m9.6 2h0m0 1.1h0m-4.5 .3h0m-.5 1.4h0m-.4 .1h0m-.9 .3h0m-1.8-2.3h0m-.6 2.1h0m-1.9 .5h0m-.2-.8h0m-.8 .2h0m-3 .3h0m-10.7-1.5h0m-.5-.9h0m-.3 1.4h0m-11.5 .9h0m-46.2-1.3h0m41.5 2.8h0m13.5 1.5h0m14.4-.2h0m1.1-1.6h0m4.9 .4h0m.8 1.2h0m3.2 .5h0m-4.6 1.1h0m-.5-.5h0m-3.3 0h0m-3.7 1.1h0m-15.9-1.2h0m-7.4 0h0m-1.9 .5h0m-3.3 1.9h0m-.5-.8h0m-35.7 .5h0m-2.5-2h0m-.9 2.1h0m-.7-.1h0m1.5 1.6h0m1.6-.3h0m2.7-.4h0m34.6 1.4h0m4.9 .5h0m.5 3.9h0m-4.3-1.5h0m0 1.3h0m-1.3-2.6h0m-.1 .4h0m-.8 2.2h0m-32.8-.6h0m-1.4 .4h0m27.5 3.5h0m5.2-1.3h0m.9 .3h0m38.1 .6h0m-1.5 1.8h0m-.4 1.5h0m-24.9-.8h0m-8.9-1.5h0m-2.2 .2h0m-4.7 .2h0m-.7 .6h0m-14.8 3.4h0m54.6-1.6h0m2.8-.2h0m-24.6 4.5h0m-.3 1.3h0m-.9-1.8h0m-.2 .6h0m-.8-1.6h0m-.5 .9h0m-29.3 .9h0m-4 .1h0m-8.2 3.1h0m1.5 .7h0m33.6-.1h0m2-1h0m1.3-1h0m.4 1.2h0m4.1-1.7h0m.1 5h0m-1.4-1.1h0m-2.1 .6h0m-.8-1h0m-5 .5h0m-.1 0h0m-.3 1.5h0m-2.2 0h0m-2.5-.1h0m-27.7-2.6h0m27.8 5h0m2.9-1.8h0m5.9 .2h0m.1 .8h0m-16.4 10h0m-.7 .5h0m-21.4 15.1h0m1 .6h0m-.2 .2h0m-1-.7h0m0 1.6h0m-.6-.4h0m-.7-.9h0" stroke="#460f7f" stroke-width="1.1" stroke-linecap="round" stroke-opacity="0.68"/>
<path d="M393.3 247.5h0m-9.6 1.7h0m104.5 17.4h0m-.3 2.1h0m-.8 1.2h0m-74.2-.2h0m-2.1-2.6h0m-2.7 2h0m2.7 3.5h0m53.1 .3h0m2.2-.1h0m10.1-2h0m8 .9h0m2.1 .6h0m3.9-.3h0m4.4-1.6h0m-2.2 4.5h0m-71.8 2.1h0m49 1h0m3.5-.4h0m1.4 .2h0m7.8 .1h0m.3-.2h0m.4-.2h0m.7-1.5h0m2.2 1.2h0m1.1 .7h0m.9-1.5h0m-3.9 5.1h0m-8.6-.2h0m-80.7-.2h0m77.1 6h0m-5.1-1.5h0m-10 1h0m-58.3 2.9h0m52.4-1.3h0m24.9 3.2h0m-28.9 .6h0m-4.6 1.9h0m-42.2-1.4h0m37.1 6.6h0m-.6-.2h0m-32.4 .8h0m69 4.5h0m-1.5 2.2h0m.9-.3h0m.9 1h0m-.7 2h0m-31.1 5.5h0m-26 .9h0m10.9 11.5h0m-.3 2.5h0m-.9-.1h0m-.4-.4h0m-22.2 17.7h0" stroke="#100d66" stroke-width="1.1" stroke-linecap="round" stroke-opacity="0.68"/>
<path d="M402.3 248.6h0m-.1 4.1h0m1.3 1.5h0m.6 0h0m3.8 1.1h0m-4.4 0h0m67.2 4.4h0m-1.9 2h0m-55.5 4.3h0m51.7 3.1h0m-54.7-1.4h0m-1.6 .5h0m-7.2 3.9h0m9.6-1.9h0m.8 2h0m2.9-.3h0m63.7 3.2h0m-6.4 .4h0m-4.6-2.4h0m-1.9 1.8h0m-51.9-.4h0m-5.6-1.4h0m-8.3 4.3h0m46.8 .8h0m15.5 .1h0m.6-.8h0m3.3 .5h0m.2-.9h0m5.5 .4h0m2.2 .8h0m.8 .2h0m3.8 1h0m-2.8-.4h0m-1.5 .8h0m-13.6 .4h0m-6.3 1.2h0m-5.6-.5h0m-34.3-1h0m42.4 4.6h0m4.3-2h0m.9-.4h0m2.6 1.7h0m2 .5h0m7.4-1.5h0m.6-.8h0m.4 1.3h0m.2-.3h0m1.9 .1h0m.1 .4h0m.1 1.3h0m3.8 2.1h0m-2.4-.4h0m-2.2-.2h0m-1.6 1.2h0m-3.6-2.1h0m-.4 2.2h0m-18.6-1.8h0m-.6 1.5h0m-14.6-.4h0m-2.4 1.1h0m2.3 1.5h0m.1 1.2h0m.2-2.1h0m2.6-.3h0m4.7 1.9h0m.9-1.2h0m5.4-.5h0m16.4 .5h0m2.1 .3h0m13.6-1.1h0m-13.9 4.1h0m-25.6 .4h0m-.1 1h0m-6.4-.6h0m-24.4 .5h0m1.6 2.2h0m2.2 .3h0m22.9-.3h0m.7-1.8h0m1 0h0m1.3 1.5h0m-2.7 3.6h0m-4.5 0h0m-.2 0h0m-17.5-1.9h0m-4.6 1.3h0m2.5 2h0m17.5 1.8h0m3.3-1.8h0m-2.8 4.4h0m-7.1-.8h0m-2.2 1.3h0m-6.7-.7h0m-1-1.4h0m-8.6 3.6h0m10.4-.4h0m1.4-.2h0m7.6 2.2h0m6.8-.5h0m2.9-.8h0m-8.7 4.3h0m-6.7-1.5h0m-2.7-.7h0m-2.5 .2h0m-1.1 .4h0m-.8 1.9h0m-1.9-2.2h0m1.2 3.7h0m1.8 1.5h0m.6-.7h0m.9 .3h0m1.1-.7h0m1.5-.1h0m2.9-.4h0m-4.1 3h0m-6.4 4.7h0m1.4-2.9h0m.3 3.6h0m-.1 .5h0" stroke="#b25577" stroke-width="1.1" stroke-linecap="round" stroke-opacity="0.68"/>
<path d="M392 245.4h0m11.4 3.1h0m2 3h0m1 5.9h0m3.7 8h0m1.5 1.4h0m75 2.4h0m-1.9 .3h0m-.3 0h0m-2.7-1.8h0m-3.2 2.2h0m-65.7 .1h0m-1.8-.7h0m-.2 1.8h0m54.3-1h0m3.9 .6h0m15.4 .9h0m.4-.5h0m3.3-1h0m.3 1h0m1.4 .9h0m.1 .3h0m.7 .4h0m1-.7h0m-.4 2.4h0m-2.4 .5h0m-1.5-.6h0m-.7-.8h0m-1.9 1.9h0m-.3-1.5h0m-.3 .5h0m-18.5-.2h0m-51.4-.7h0m-2.1 .2h0m-.3 1.4h0m-.3-2h0m1.4 4.2h0m60.1 .7h0m.1 .2h0m3.3 .5h0m0-1.2h0m2.3 .7h0m4 .7h0m.4-.9h0m0 .4h0m1.5-.5h0m.1-.8h0m1.1-.4h0m.4-.1h0m.9 1.2h0m1.2 1h0m.7-.7h0m3.6-1.8h0m.6 1.6h0m1.3-1.3h0m0 .2h0m-2.2 2.5h0m-3.4 1.7h0m-.9-1h0m-5.9 .7h0m-4.1 .5h0m-.4-.6h0m-2.4 .7h0m-.8-.2h0m-.4-2h0m-2.2 1.2h0m-15.2 1.5h0m-10.9-2.5h0m6 5.6h0m18.3-.1h0m1.7-1.3h0m3.5 .5h0m2.4 .9h0m1.7-2.5h0m2.7 4.8h0m-1.6-1.3h0m-1.4-.5h0m-7.9 0h0m-.9 2.3h0m-14 0h0m-58.6 1h0m36.4-.3h0m5.2 1.2h0m28.5-1.5h0m3 .1h0m1.2 .9h0m4-.5h0m.8-.5h0m1.5 1.1h0m.2 .7h0m4.5 1.2h0m-12.3 2.3h0m-18.8-2.3h0m-51.8 1.1h0m.9 4.4h0m39.3 3.2h0m-8.3-.6h0m-26.6 0h0m34 1.4h0m30.5 1.1h0m1.4 1h0m.9 .1h0m.5-.3h0m.1 0h0m.4 .9h0m-2.9-.3h0m-21.2 0h0m-11.9 1.2h0m-5.2-1h0m-6 5h0m45.5 .6h0m.8-.9h0m.5-1.8h0m.4 1.3h0m1.4-.5h0m-30.2 2.7h0m-39.6 4.5h0m.6 .3h0m.5-1.7h0m1.3 1.2h0m35.5 .3h0m4.6 .2h0m.5-1.3h0m-.6 4.2h0m-8.6 .1h0m-2.5 .6h0m3 .8h0m-13 10h0m-.9 1.1h0m-20.2 16.3h0m-1.1-.7h0" stroke="#2c0e73" stroke-width="1.1" stroke-linecap="round" stroke-opacity="0.68"/>
<path d="M405.7 253.5h0m65.2 8.7h0m-58.8 4.6h0m59-1.2h0m16 2.2h0m-.4 1.7h0m-3.8-.5h0m-14.5 .2h0m-60.1 2.8h0m3 .1h0m69.6-1.7h0m3.7 .3h0m1.7-.2h0m.8 1.4h0m.1-.6h0m.5-.8h0m.1 2.4h0m1.4-.9h0m.2-1.7h0m.5 1.4h0m.5-1.4h0m5 3.3h0m-5.4 1.1h0m-1 .5h0m-1.7-.5h0m-.2-.9h0m-1.3 1.6h0m-.9 .4h0m-2.5-.9h0m-.2-.7h0m-2.1 1.6h0m-2-2.3h0m-4.8 2.3h0m-9.9-1.3h0m-.3-.2h0m-1.3 1.3h0m-46.5-1.8h0m-3.1 3.4h0m.3 .5h0m34.5 .3h0m16-.2h0m.6-.2h0m8 1.3h0m3-.3h0m.2-.5h0m.9 .2h0m1.4 .5h0m1.3-.3h0m1.9-2.3h0m.8 2.5h0m.1-1.8h0m.5 .3h0m.5 .6h0m.1 .2h0m.4-1.9h0m2.5 2h0m.1-.6h0m.1 1.4h0m.7-2.2h0m1.5 .3h0m.2 1.5h0m2 1.6h0m-2.8-.2h0m-7.6 .6h0m-.1 1.3h0m-1.4-1.8h0m-.7 1.6h0m-.1-.8h0m-1.2-.8h0m-.8-.7h0m-.2-.1h0m-1.9 2h0m-.6-1.7h0m-8.4 1.1h0m-1.5-1.5h0m-2.8 .8h0m-1.5 1.4h0m-2.8 2.8h0m2.5-1.4h0m5.8 .5h0m.6-1h0m6 .4h0m1.3 1.7h0m1.2-1.2h0m.7-.5h0m3.3 .9h0m12-1.2h0m1.9 4.2h0m-9.7 1.4h0m-5.5-1.6h0m-1.2 .9h0m-1.3-.7h0m-2.5 1.1h0m-1.3-1.9h0m-.2 .7h0m-11.1 1.1h0m-4.9-1.1h0m-.8 .9h0m-1.7-2.1h0m-.1 1.7h0m-51.1 2.7h0m31.6-1h0m5.1 1.8h0m6.1-1.2h0m1.2 .8h0m24.4-1.1h0m5.2 1h0m.4 1.2h0m-6.9 .9h0m-19.5-.1h0m-1.4 1.7h0m-.3-2.3h0m-.5 .3h0m-1.1 .3h0m-2.4 .3h0m-1.1 .3h0m-1.4-.9h0m-19.4 2.4h0m-19.3-.4h0m-.4-.4h0m2.5 1.3h0m17.6 .8h0m16.8-.1h0m2.7 .2h0m.5-1.1h0m.8 1.1h0m1.4 1.6h0m7.6-2.8h0m17.2 .4h0m-19.7 2.9h0m-5.6 1.1h0m-.3-1.4h0m-4.8 1.4h0m-.8 .1h0m-19.1-.6h0m-1.8 1.1h0m-.1-.5h0m-9.6 .4h0m-3.5-1.4h0m6.3 4.2h0m8.4-1h0m3.4 1.5h0m2.2-1.2h0m1.2-.2h0m11.9 1.2h0m.9-2.1h0m.9 .3h0m4.1 2h0m.6-2.2h0m29.7 5.5h0m-1.2 0h0m-.6-.9h0m-21.8 1.1h0m-.8-1.8h0m-1.5 1.8h0m-2.6-2.6h0m-6.9 2h0m-4-.6h0m-11.4 .7h0m-4-1.6h0m-.7 4h0m5.6 .4h0m.4 .5h0m1.3-.8h0m.7-.2h0m3.9 .7h0m44.5-1.9h0m.2 2.4h0m.7 1.5h0m-24.6-.2h0m-1.5 1.2h0m-19.7-1h0m-.2-.1h0m-5.9 1.1h0m-.4-1.3h0m-1.1 1.4h0m-14 2.7h0m10.8-.4h0m1.5-1.3h0m2.1 .2h0m26.8-.6h0m1.5 1h0m1.3-.7h0m-3.8 3.1h0m-2.3 .9h0m-.1-.5h0m-1.1 1.4h0m-1 .5h0m-3 .1h0m-.5-.9h0m-.3-1.5h0m-4 1h0m-.6-1.2h0m.1 3.3h0m7.9 1.3h0" stroke="#892d83" stroke-width="1.1" stroke-linecap="round" stroke-opacity="0.68"/>
<path d="M404.4 250.5h0m-2.3-1.1h0m2.7 6.3h0m6.1 8.5h0m.2 2h0m2 .6h0m80.8 2.7h0m-8.3-1.5h0m-.5 .3h0m-16.3-.2h0m-2.4 .7h0m-57.2 1.3h0m3.1 1.4h0m.6-.1h0m2.8 .8h0m52.8-1.4h0m16.5 1h0m.1-1.2h0m1.4 .9h0m1.3 .9h0m.8 .3h0m2.7-.1h0m-.2 1.8h0m-1-.1h0m-.4-.4h0m-.1 .1h0m-.1 .8h0m-.2-1.1h0m-.1 .1h0m-1.8 1.2h0m-.2-.6h0m-2.8 .3h0m0-.3h0m-5.7 .8h0m-6.6 .1h0m-7.7-.6h0m-.2 .1h0m-1.9-.4h0m-49.8 .5h0m.4 1.2h0m31.7 1.1h0m2.7-.6h0m12.4 2.2h0m1.8-2.1h0m3.6 1.6h0m1.2-.7h0m5.1-.4h0m2.5 1.4h0m1.3-2.5h0m1.1 2.1h0m6.6-.1h0m3.3 .7h0m.7-2.7h0m.5 2.6h0m.8-.1h0m.6 .1h0m1.5-1.2h0m1.2 1.1h0m0-2.3h0m-.5 2.9h0m-11.4 2.2h0m-.8-1.9h0m-.7 1.4h0m-2-1.5h0m-2.8-.3h0m-5.1 1h0m-1 1.2h0m-7.6-1.3h0m-9.5 1.9h0m-3-1.8h0m11.2 4.2h0m.8 .7h0m1.4-2.7h0m.2 1.5h0m.5-.3h0m.9-1.4h0m2.2 1.4h0m1.6 .5h0m5.3-.5h0m5.4 1.3h0m1.1-.6h0m1.1-1.4h0m.9-.5h0m.4 1.4h0m.4 1.1h0m7.4-2.4h0m-8.3 3.6h0m-.2 0h0m-.7 1.8h0m-2.9-2.3h0m-.8-.3h0m-2.5 2.4h0m-3-.6h0m-3.7 .2h0m-6.6-.4h0m-.6-1.4h0m0 1h0m-1.3 .2h0m-.3-.9h0m-1.1-.2h0m-1.6 .7h0m-.6-.9h0m-1.5 1.4h0m-3.9 1.2h0m-13.3-.3h0m-36.2 1.5h0m22.9 .7h0m17.6-1.4h0m.5 .6h0m2 .7h0m5.5-.2h0m20.7-1.3h0m1.1 1.6h0m1.2-.1h0m.2-.1h0m.3 1.2h0m.1-2.4h0m4.3 1.3h0m-22.8 2.3h0m-8.9-.4h0m-1.7-.1h0m-4.1 2.2h0m-37.4 .2h0m-1.8 1.1h0m2.8 .6h0m.3 .6h0m.7 .8h0m.3-2.6h0m.2 1.9h0m34.3-1.1h0m.9-1h0m.4 .6h0m6 1.1h0m-1.8 2.6h0m-3.4-.3h0m-.7-.6h0m-.1 2.2h0m-1.2-.6h0m-32.9-1.8h0m-.1 1.2h0m-3.1-1h0m12.6 3.3h0m14.1 .4h0m11.2 .4h0m33.8 3.7h0m-.3-.7h0m-1.7-1.2h0m-27.8 1.9h0m-6.7-.1h0m-5.2-2.1h0m-.3 .1h0m-11.2 .4h0m-1.9-.5h0m.7 5.6h0m8.6-1h0m.3-1.1h0m17.4 1.2h0m2.2-1.8h0m1 .1h0m24.6 2h0m.8 0h0m-1.4 .9h0m-52.3 1.6h0m-3 .9h0m-12.5 2.1h0m.1 .4h0m.6 .5h0m1.6-1.4h0m12.4 1.8h0m1.4-.9h0m24.2-.7h0m.6 1.5h0m1-.6h0m1.4-1.6h0m-.8 2.7h0m-3.1 2.3h0m-.4-2.4h0m-.6 1.6h0m-6.6 .7h0m1.1 1.3h0m2.2-.6h0m-12.4 10.6h0m-1-.7h0m-21.4 17.6h0m-.1 .9h0" stroke="#751c86" stroke-width="1.1" stroke-linecap="round" stroke-opacity="0.68"/>
<line x1="376.8" y1="223.5" x2="376.8" y2="353.9" stroke="#000" stroke-width="1.2"/>
<line x1="376.2" y1="353.3" x2="497.7" y2="353.3" stroke="#000" stroke-width="1.2"/>
<line x1="373.8" y1="226.9" x2="376.8" y2="226.9" stroke="#000" stroke-width="1.1"/>
<text x="370.3" y="229.4" font-size="8.7" text-anchor="end" textLength="4" lengthAdjust="spacingAndGlyphs">5</text>
<line x1="373.8" y1="272.8" x2="376.8" y2="272.8" stroke="#000" stroke-width="1.1"/>
<text x="370.3" y="275.3" font-size="8.7" text-anchor="end" textLength="4" lengthAdjust="spacingAndGlyphs">0</text>
<line x1="373.8" y1="318.7" x2="376.8" y2="318.7" stroke="#000" stroke-width="1.1"/>
<text x="370.3" y="321.2" font-size="8.7" text-anchor="end" textLength="8.6" lengthAdjust="spacingAndGlyphs">−5</text>
<line x1="393.4" y1="353.3" x2="393.4" y2="356.3" stroke="#000" stroke-width="1.1"/>
<text x="392.1" y="365.7" font-size="8.7" text-anchor="middle" textLength="8.6" lengthAdjust="spacingAndGlyphs">−5</text>
<line x1="422.6" y1="353.3" x2="422.6" y2="356.3" stroke="#000" stroke-width="1.1"/>
<text x="422.6" y="365.7" font-size="8.7" text-anchor="middle" textLength="4" lengthAdjust="spacingAndGlyphs">0</text>
<line x1="451.9" y1="353.3" x2="451.9" y2="356.3" stroke="#000" stroke-width="1.1"/>
<text x="451.9" y="365.7" font-size="8.7" text-anchor="middle" textLength="4" lengthAdjust="spacingAndGlyphs">5</text>
<line x1="481.1" y1="353.3" x2="481.1" y2="356.3" stroke="#000" stroke-width="1.1"/>
<text x="481.1" y="365.7" font-size="8.7" text-anchor="middle" textLength="8.6" lengthAdjust="spacingAndGlyphs">10</text>
<text x="437.1" y="378.9" font-size="9.9" text-anchor="middle" textLength="28.8" lengthAdjust="spacingAndGlyphs">UMAP_1</text>
<text x="355.6" y="292" font-size="9.9" text-anchor="middle" textLength="29.2" lengthAdjust="spacingAndGlyphs" transform="rotate(-90 355.6 288.4)">UMAP_2</text>
<defs><linearGradient id="g4981" x1="0" y1="0" x2="0" y2="1"><stop offset="0" stop-color="#0d0887"/><stop offset="0.13" stop-color="#4c02a1"/><stop offset="0.25" stop-color="#7e03a8"/><stop offset="0.38" stop-color="#a92395"/><stop offset="0.5" stop-color="#cc4778"/><stop offset="0.63" stop-color="#e56b5d"/><stop offset="0.75" stop-color="#f89441"/><stop offset="0.88" stop-color="#fdc328"/><stop offset="1.0" stop-color="#f0f921"/></linearGradient></defs>
<rect x="498.1" y="281" width="5" height="24" fill="url(#g4981)"/>
<line x1="498.1" y1="289.6" x2="499.2" y2="289.6" stroke="#fff" stroke-width="0.5"/>
<line x1="502" y1="289.6" x2="503.1" y2="289.6" stroke="#fff" stroke-width="0.5"/>
<line x1="498.1" y1="294.6" x2="499.2" y2="294.6" stroke="#fff" stroke-width="0.5"/>
<line x1="502" y1="294.6" x2="503.1" y2="294.6" stroke="#fff" stroke-width="0.5"/>
<line x1="498.1" y1="300" x2="499.2" y2="300" stroke="#fff" stroke-width="0.5"/>
<line x1="502" y1="300" x2="503.1" y2="300" stroke="#fff" stroke-width="0.5"/>
<text x="498.1" y="277.9" font-size="5.9" textLength="15.5" lengthAdjust="spacingAndGlyphs">Exprs</text>
<text x="505.2" y="284.7" font-size="5.4" textLength="3.1" lengthAdjust="spacingAndGlyphs">4</text>
<text x="505.2" y="291.5" font-size="5.4" textLength="3.1" lengthAdjust="spacingAndGlyphs">3</text>
<text x="505.2" y="296.5" font-size="5.4" textLength="3.1" lengthAdjust="spacingAndGlyphs">2</text>
<text x="505.2" y="301.9" font-size="5.4" textLength="3.1" lengthAdjust="spacingAndGlyphs">1</text>
<text x="505.2" y="307.3" font-size="5.4" textLength="3.1" lengthAdjust="spacingAndGlyphs">0</text>
<text x="6.3" y="403.4" font-size="14" font-weight="bold" fill="#000">C</text>
<text x="57.8" y="403.4" font-size="9.6" textLength="53.4" lengthAdjust="spacingAndGlyphs">CD4<tspan font-size="6.3" dy="-3.5">+</tspan><tspan dy="3.5"> T-cells</tspan></text>
<path d="M56.2 410h0m-6.2 2.4h0m-7.1 2.5h0m.9 .9h0m1.2 .6h0m1.8 .3h0m.3-2.2h0m.1 2h0m1-.8h0m2.8-.4h0m7.9 4.7h0m-4.7-2h0m0 .2h0m-.8-.3h0m0 1.2h0m-.2-1.4h0m-1.2-.7h0m-.8 2.1h0m-.8 .7h0m-.7-.5h0m-.1 .4h0m-.4-.5h0m-.2 .1h0m-.8-.4h0m-.8 .1h0m-1.9-1.7h0m-.4 2.1h0m-.5-1.2h0m-.7-.3h0m-1.9 1h0m-.4 .7h0m-1.3-.2h0m-.9-1.1h0m1.3 4.2h0m1.8-1.6h0m.1-.9h0m.2 2.4h0m.8-1.8h0m.7 1.7h0m.2-.6h0m.2-.7h0m.1 1.9h0m0-.2h0m.3-.9h0m.3-.4h0m.7-1.1h0m.1 .9h0m.2 1h0m.2 .5h0m.3-2.2h0m.2 .6h0m0 .4h0m.7-.1h0m.5 1.1h0m.6 0h0m.4-1.6h0m.2-.5h0m.3 1.3h0m0 .5h0m.7-1.6h0m.1 1.5h0m.2 .2h0m.4-1.9h0m0 2.6h0m1.5-.9h0m.2 .6h0m.2-1.8h0m.3-.4h0m1.9 1.8h0m.3 .3h0m.5-1h0m1.1 .5h0m.3 1.3h0m-.7 .8h0m-.4 .4h0m-.9-.6h0m-1 1.3h0m-.7-1.2h0m-.8-.8h0m0 1.2h0m-.3-1.1h0m-.4 1.6h0m-.6 .2h0m-1-1.2h0m-.1 1.6h0m0 .2h0m-.1-.6h0m-.3-1.9h0m-.3-.1h0m-.3 1.9h0m0-.7h0m-.1-.2h0m-.2 .3h0m-.1 1.2h0m-.3 .1h0m-.6-1.9h0m-.1 1h0m-.2-1h0m-.2 1.3h0m-.2-.9h0m-.2-1.2h0m-.3 .7h0m-.1 1.2h0m-.8-.9h0m-.6-.8h0m-.3 2h0m-.1-.5h0m0 .7h0m-.4-.4h0m-.5-.4h0m-.2 1h0m0-2h0m-.6 0h0m-.1 2.2h0m-.5-.2h0m-.3-2.5h0m-.2 .7h0m-.7 1.3h0m-.2 .6h0m-.3-.8h0m-.1 .1h0m-.1-.8h0m-.1-.6h0m-.4 .9h0m-.5 2.9h0m.6 .3h0m.2 1h0m.1-1.3h0m1.1-1.1h0m0 .5h0m.2 .5h0m.3 1.6h0m0-1.3h0m.4 1h0m.1-1.2h0m.2 1.1h0m0-1h0m.8 1h0m.1-1.2h0m0-.3h0m.1 0h0m0-.2h0m.1 2.1h0m.3-3h0m0 2.8h0m.3-1h0m0 .2h0m.1-1.5h0m.2 .2h0m0 1.5h0m.2-.5h0m0-.6h0m.1 .4h0m.1 .6h0m.3-.4h0m.3-1.4h0m0 .7h0m.1 1.8h0m.1-2.5h0m.3 .7h0m.1 1.1h0m.2 .7h0m.6-.1h0m.2 .1h0m.2-1.3h0m0 .2h0m.2 .9h0m0 .4h0m.3-1.5h0m.2 1.4h0m.1-2.7h0m0 .4h0m.1 2h0m.1-.5h0m0-1.4h0m0-.5h0m.2 2.4h0m0-2.4h0m0 .8h0m.4 1.1h0m.1-1.1h0m.1 1.5h0m.1-1.3h0m.1 1.3h0m.1-.4h0m.3 .2h0m.1-2.1h0m.2 2.7h0m.2-2.3h0m0 1.7h0m.1-1.6h0m0 .1h0m.1-.4h0m.3-.3h0m0 .1h0m.1 1.2h0m0-1.4h0m.3 2.1h0m.1 .2h0m.3-2.2h0m.1 1h0m.5 .2h0m0 0h0m.1 1.6h0m0-.6h0m0-1.8h0m.1 1.2h0m0 .5h0m.2 .4h0m.3-1.2h0m0-1h0m.1 .4h0m0 0h0m.1 .3h0m.4 .3h0m.1-.6h0m0 .8h0m.2-.4h0m.6 .7h0m.1 0h0m0 .8h0m.2-1.4h0m.3 .5h0m0 0h0m.2-1.1h0m.1 .5h0m0 1.5h0m.6-1.7h0m.7-.4h0m.4 .2h0m.1 1.1h0m.6 .8h0m.5-2.6h0m.9 2.8h0m1.9-2.1h0m2.4 1h0m-3.8 3.4h0m-1.1-.5h0m-.5-.9h0m-.2 2h0m-1.1-1h0m-.3-1h0m0 1.9h0m-.1-.3h0m-.1-1.5h0m-.8 1.8h0m-.1-2.4h0m0 2.1h0m-.9-1.2h0m-.4 .3h0m-.1 .2h0m-.1 .4h0m0-1.5h0m-.3 2.4h0m-.2-1.9h0m-.2 1.9h0m-.1-.7h0m-.3 0h0m-.1-1.2h0m0 1.9h0m0-1.5h0m-.1 .9h0m0 .5h0m0-.9h0m0-.1h0m-.1-.6h0m-.1 1.1h0m-.1-1.4h0m0-.8h0m-.1 1.4h0m0 1.2h0m-.1-2.3h0m-.1 .8h0m-.1-.5h0m0 .4h0m-.2-.2h0m-.1 .3h0m-.3-.1h0m0-.4h0m0-.6h0m-.2 .7h0m-.2 .1h0m-.3 .2h0m-.2 .9h0m-.1 .5h0m0-2.4h0m-.3 2.2h0m-.3-1.2h0m-.1 1.5h0m-.3-1.3h0m-.2-.1h0m0-.3h0m-.3 1.5h0m-.1-1.2h0m0 .5h0m0 .9h0m-.2-.1h0m-.1-1.8h0m-.1-.7h0m0 .3h0m-.1 0h0m-.1 2.4h0m-.1-1.7h0m0 .9h0m-.1-1.7h0m0 2.3h0m0-.7h0m-.2-1.8h0m-.1 1.2h0m0 .3h0m-.1-.1h0m0-.2h0m-.1 1h0m0 .1h0m-.2-.5h0m-.1-1.4h0m-.1 .7h0m-.4 1.1h0m0 .2h0m-.1 .3h0m-.4-2.8h0m-.2 2.2h0m0-1.7h0m-.1-.1h0m0 1.2h0m0 .4h0m-.1 .8h0m0-1.1h0m0 1.3h0m-.1-2.6h0m-.3 1.8h0m-.1 .6h0m0-1.5h0m-.1 0h0m-.1 .7h0m0-1.3h0m-.1 .3h0m-.1 1.5h0m0-.7h0m-.2-.7h0m-.2-.8h0m-.2 1.1h0m-.1 .5h0m-.2-.4h0m-.2 .6h0m-.1-.5h0m-.1 1h0m0-.2h0m-.1-1.2h0m-.2 1.2h0m0-1.4h0m-.1-.5h0m-.1 2.1h0m0-.4h0m-.1-1.2h0m-.1 1.8h0m0-.3h0m-.1-.6h0m-.4-1h0m-.1 .6h0m-.3-1.4h0m0 2.6h0m-.5-2.5h0m-.7 1.9h0m-.3 .7h0m-.2 .1h0m-.2 0h0m0-2.5h0m-.3 1.5h0m-.5 .8h0m-.1-1.2h0m-.1 1.2h0m0 0h0m0 1.6h0m.7 .1h0m0-.5h0m.1 0h0m.3 1.5h0m.1-2.3h0m.1 2h0m.1 .7h0m.3-.3h0m.2-.6h0m.1-.7h0m.1 .9h0m.1-.7h0m0 .9h0m.2 .4h0m.1-2.2h0m.1 2.3h0m.3-.8h0m0 .8h0m.9-2.8h0m.1 1.8h0m.2-1.1h0m.2-.3h0m.2 2.1h0m.2-1.4h0m0 0h0m.2 0h0m0 0h0m.1 1.8h0m.1-2.1h0m0 2.2h0m.1-1.9h0m.2-.9h0m.1 1.3h0m0-.2h0m.2 1.7h0m.2-1h0m0-1.6h0m.1 1.6h0m.2-1.1h0m0 1.1h0m.1-1h0m.1 .6h0m0 0h0m.2-1.1h0m0 .1h0m0 1.8h0m.1 0h0m0-.9h0m0 .1h0m.4-1.4h0m0 1.2h0m.1 .9h0m0-.7h0m0 .8h0m.1 .3h0m.3-.3h0m.1-2h0m.1 1h0m.1 1.3h0m0 .1h0m.2 0h0m0-.6h0m0-.8h0m.1-1.2h0m0 2.1h0m0 .6h0m.1-.7h0m.1-1.3h0m.1 1.9h0m.1-1.9h0m.1 .5h0m0-1.1h0m.1 2.7h0m.1-.3h0m.2-2.5h0m0 1.6h0m.1 0h0m.5 .3h0m0-1.3h0m.2 1.1h0m0-.9h0m.1 .1h0m.3-.1h0m.1 1h0m0-.8h0m0 .2h0m.2-.4h0m.1 .3h0m0 1.2h0m.1-2.3h0m.1-.1h0m.3 2.2h0m0-2h0m.2 2.1h0m0 .4h0m0-1.9h0m.1 1.2h0m0 .7h0m.2-2.4h0m.9 2.3h0m0-1.2h0m0-.9h0m.1-.3h0m0 .7h0m0 .9h0m0 .5h0m.1-.1h0m.2-.3h0m.1 .3h0m.1-1.6h0m0 2.3h0m.1-2.6h0m.1 .3h0m0 1.2h0m.1-1.1h0m.1 .4h0m.1 .1h0m.5 .6h0m0-.2h0m.2-1.3h0m.3 1.5h0m0-.4h0m.2-.8h0m.1 1.4h0m0 .1h0m0-1.2h0m.2 .3h0m.1 .9h0m0 .8h0m.1-3h0m0 .9h0m.3 .3h0m.2 1.8h0m.3-3h0m.1 .7h0m.5 1.9h0m.1-.3h0m.2-1.3h0m.3 1.7h0m.4-2.6h0m.1 2h0m.1-.1h0m1-1.4h0m0 .7h0m.7-1.3h0m.4 .2h0m1.6 2.2h0m2.1-.1h0m.2 .6h0m-2.9 2.8h0m-.1-1.7h0m-.2-.6h0m-.8 1.4h0m-.9-1.3h0m-1.6 1.2h0m-1.4 1.2h0m-.1-.8h0m-.4-.3h0m0-1.5h0m-.1 2.4h0m-.3-.5h0m-.5-.6h0m-.3-1h0m-.2 2.2h0m0-.4h0m0 .2h0m-.1-.7h0m0 .6h0m0-1.7h0m-.1-.1h0m-.3 .5h0m0-1.1h0m0 .6h0m-.1 1.5h0m0-.7h0m-.1-.4h0m-.1 .4h0m-.1 .1h0m-.4 .2h0m-.3 1h0m-.1-1.9h0m0-.5h0m-.1 1.4h0m0 .9h0m0-2.3h0m-.1 .3h0m-.1 .4h0m-.1-.5h0m0 .4h0m-.1 .7h0m-.1 .3h0m0-1h0m0 0h0m-.1-.9h0m-.1 .5h0m0 .9h0m0 1.3h0m0-2.1h0m-.2 1.5h0m-.2-1h0m-.1 .9h0m-.2-.6h0m0-.7h0m-.1 .2h0m-.1-.1h0m0 .6h0m-.1-1.4h0m-.1 0h0m-.1 1.3h0m-.1 1.2h0m-.2-1.7h0m0-.3h0m0-.3h0m0-.2h0m-.1 .3h0m0 .6h0m0 1.6h0m-.1-.8h0m-.3-.5h0m0 .5h0m0-.5h0m0-.6h0m0 2.1h0m-.1-1.1h0m0-1.5h0m0 1.4h0m-.2-1.4h0m-.1 .9h0m0 .6h0m-.1-.7h0m-.1 1.4h0m0 0h0m-.1 .5h0m0-.1h0m-.1-2.8h0m-.1 .9h0m0-.7h0m-.5 1.9h0m0-1.6h0m-.1 1.6h0m-.1-1.2h0m0 .6h0m-.1-1.4h0m-.1 2.4h0m0-2h0m-.1 2.4h0m0-2.7h0m-.2 1h0m-.2-.2h0m0-.7h0m-.1 1.7h0m-.1-1h0m0-.6h0m-.1 0h0m-.1-.3h0m-.1 .4h0m-.1-.3h0m-.1 1.5h0m-.1 .1h0m0-.8h0m-.1-.3h0m-.1 1h0m-.2-1h0m-.1 .4h0m0-.9h0m-.2 2.2h0m-.3-.4h0m0-1.6h0m-.2 .3h0m-.1-.1h0m0 .5h0m0-.6h0m-.2 1.3h0m0 0h0m-.1-.7h0m-.1 .5h0m-.1 1.3h0m-.1-.6h0m-.1-1h0m-.1-.7h0m-.1 2.1h0m0-1.7h0m0 1h0m-.1 .3h0m-.1-1.2h0m-.3 .8h0m-.1 1h0m-.1 0h0m-.2-1.6h0m-.2-.6h0m-.1 .4h0m0-.7h0m0-.3h0m-.1 .3h0m-.2 1.5h0m-.1-1.2h0m0 1h0m-.1-.8h0m0 1.1h0m-.2-1.6h0m-.1 1.3h0m-.1-1.4h0m-.1 1.3h0m0-.3h0m-.2-.7h0m-.1 1.3h0m-.2-1.6h0m0 .5h0m-.2 1.2h0m-.1 .4h0m-.2-1.6h0m-.3 .8h0m-.5 .2h0m-.1-1.1h0m-.2 .6h0m-.1 1.1h0m-.1 .1h0m.5 2.8h0m0-2.2h0m.1 2.8h0m.2-2.6h0m.3 2.5h0m.1-1.5h0m.2-.7h0m0 2h0m.1 .2h0m.1-.8h0m0 .3h0m.1-1.4h0m0 .6h0m.4-.5h0m.1 .3h0m.1 1.6h0m.1-2.3h0m.1 2.2h0m.1-1.6h0m.1-1.1h0m.3 1.8h0m.1-.9h0m.2-.9h0m0 1.7h0m.1-.2h0m0-.1h0m.1 .3h0m.1-.6h0m0 1.2h0m.3-.6h0m0-.9h0m.1 1.7h0m.1-1.1h0m.1 .2h0m0-.3h0m0 1.3h0m.1-2.6h0m0 1.6h0m0-.8h0m.2-.2h0m.1 1.8h0m0 .3h0m0-.4h0m0 .1h0m.1-.2h0m.3 0h0m.2-.7h0m0 .8h0m.1-1.7h0m.1 1.3h0m.2-1.7h0m0-.1h0m.4 .1h0m.2 .8h0m.1-.3h0m.3-.3h0m0 .3h0m.1 .6h0m0 .3h0m.1-1.7h0m0 1.2h0m0 .9h0m.1-2h0m.2 1.3h0m0-.8h0m0 .7h0m.1 .9h0m.1-.4h0m.1-.4h0m.3 .4h0m0-1.6h0m0 1.4h0m.1-1.5h0m0 2.8h0m0-1.2h0m.2 1.2h0m0-.9h0m.2-1.8h0m0-.1h0m0 1.7h0m0-1.5h0m.3 .9h0m0-.3h0m.1 1.4h0m0-2.2h0m.3 .4h0m0 1.7h0m.2-.2h0m0-1.7h0m.1-.1h0m.1-.2h0m0 1.2h0m0 .8h0m.1 .7h0m0-.3h0m0-1.1h0m.1-.5h0m0 2h0m.1-.5h0m0-.2h0m0-1.7h0m0 1.2h0m.1-.2h0m.2-.7h0m0 1.7h0m.1-.1h0m0-1.7h0m.2 2.2h0m.1-1.9h0m0 1.9h0m0-.5h0m.1-1.9h0m0 1.8h0m.5 .4h0m.1-1.6h0m0-.8h0m.2-.1h0m.1 .5h0m.1 .8h0m.4 1.5h0m.1-.6h0m.1-1.5h0m.3 .8h0m.2-.7h0m.1 1h0m.1-.9h0m.3 .8h0m.1-.6h0m0 1.6h0m0-1.9h0m.1-.2h0m0-.7h0m.1 2.4h0m.1-2.1h0m0 1.3h0m.1 .9h0m.1-.6h0m.1-1h0m.1 .4h0m0 .1h0m0 .9h0m0-1.8h0m.3 1.6h0m0 .3h0m.1-1.4h0m.5-.9h0m0 0h0m.1 0h0m.4 1.9h0m0-1.2h0m.4 1.1h0m.3-.5h0m0-.7h0m.2-.3h0m.5-.3h0m.1 1.2h0m.1 1.7h0m.1-2h0m.2 1h0m.1-1h0m.2 1.4h0m0-1.7h0m.1-.6h0m.5 2.2h0m0-2h0m.5 2.4h0m.3-.8h0m.1-1.4h0m.1 .5h0m.2 1.6h0m.1-1.4h0m0 .7h0m.9-1.8h0m0 .3h0m.3 1.8h0m1.4-1h0m.4 .4h0m4.4 3.1h0m-5.2-.9h0m-1.1 1.4h0m-.1-.8h0m0 .3h0m-.2 1.2h0m-1.6-.5h0m-.2-1.6h0m-.2-.2h0m-.8 .2h0m-.2 0h0m-.4 .8h0m-.5 0h0m-.2-.5h0m-.1 .8h0m-.4-.9h0m-.1 .5h0m-.3 1.5h0m-.1-2.1h0m0 1.7h0m-.1-.7h0m-.1 .6h0m-.2 .2h0m-.1-.3h0m-.1-1.7h0m0 .4h0m-.1 .7h0m-.3-1.7h0m-.1 .9h0m-.2 1.6h0m-.2-2.3h0m-.2 2.5h0m-.1-.7h0m-.3-.1h0m0-.9h0m-.2-.5h0m-.4 .2h0m0 1.3h0m0 .4h0m-.3-1.7h0m-.1-.5h0m-.1-.3h0m-.1 .5h0m0 2.1h0m-.1-2.4h0m-.1 1.4h0m0-1.3h0m-.1 1h0m-.1-1.3h0m-.4 .8h0m-.1 1.9h0m0-.2h0m-.2-1.1h0m-.5-.2h0m-.2 .5h0m0-1.6h0m0 2.6h0m0-2.5h0m0 .8h0m-.2 .2h0m-.3 .3h0m-.1-.4h0m0 1.4h0m0-1.7h0m-.3 .3h0m-.3 .4h0m0-.5h0m-.1 .7h0m0 .8h0m-.1-.4h0m-.1 .3h0m-.1-1.2h0m-.1-.7h0m-.1-.4h0m-.2 .6h0m0 .6h0m-.1 .2h0m0-.5h0m-.2 .1h0m-.1-.2h0m0 1.6h0m0-1.5h0m-.2 1.5h0m-.1-.8h0m-.5-.1h0m0 .3h0m-.1 1.1h0m-.1-2.6h0m0 2h0m-.2-.6h0m0 .5h0m-.1-1.7h0m0 2.3h0m-.1-1.9h0m-.1-.8h0m-.1 .1h0m0 .6h0m-.1 1h0m-.1-1.2h0m-.1 0h0m-.2-.2h0m-.4 .4h0m-.1 .2h0m-.2 .7h0m-.3 .8h0m-.2-2.5h0m-.2 .4h0m-.2 1.9h0m-.1-2.3h0m-.2 1.3h0m-.4 0h0m-.1-.6h0m0 1.3h0m-.1 .7h0m-.1-2.3h0m-.1-.3h0m-.1 1.2h0m-.3-.4h0m-.4 1.1h0m-.4-1.5h0m-.3 1.5h0m-.3 .8h0m-.1-2.1h0m-.6 2.9h0m.1 1.4h0m.6 .5h0m0-2.6h0m.3 1.5h0m.5-.9h0m.1 .4h0m.2 0h0m.1 1.7h0m.5-.9h0m.2 .1h0m.2-1.6h0m.1 1.9h0m.3-2h0m0 .7h0m.3 1.3h0m.3-1.7h0m.3 2.1h0m.3-1.7h0m.1 1.6h0m.2-.4h0m.2 .2h0m.1-2.1h0m.1 .4h0m0-.5h0m.1 .4h0m0 1.2h0m0 1.1h0m.1-1.6h0m.2-.1h0m.2 .1h0m.2-.6h0m.2 1.6h0m0-1.9h0m.1 .9h0m0 .5h0m.1-.9h0m.1 1.9h0m.1-.5h0m.2 0h0m.1-1.2h0m0-.6h0m.1 .2h0m.2 2h0m.1 .3h0m0-.6h0m.2-.8h0m.1-1h0m.4 .2h0m.1 .4h0m0-.6h0m.2-.3h0m0 .4h0m0 1.6h0m0-2.1h0m.1 .1h0m.1-.1h0m.2 1.9h0m.1-1.3h0m.3-.1h0m0 .3h0m.1-.6h0m0 .8h0m.3-.7h0m.1 1.8h0m.2-1.3h0m0 .4h0m0 .8h0m.1 .7h0m.2-2.7h0m0 1.7h0m.2 .8h0m.1-1h0m.3-1.1h0m0 .3h0m.1-.6h0m.3 .4h0m.2 .9h0m0 .3h0m.1-.1h0m0-.1h0m.1 1.4h0m.1-1.8h0m.1-.4h0m.2-.2h0m0 1.9h0m.1-1.7h0m.2 1.1h0m.1 .7h0m.1-.3h0m.5-1.2h0m.4-.1h0m0-.8h0m.1 .7h0m.2-.6h0m.1 .2h0m.1-.3h0m.2 2.3h0m.1-1.5h0m.1 .8h0m.6-1.1h0m.1 1.1h0m.1-.9h0m.2 .8h0m.3-.6h0m.1 1.3h0m.3 .2h0m.1-.2h0m.1-1h0m.3 .1h0m.5-1.2h0m.3 .1h0m0 .1h0m.2 1.6h0m.2-1.1h0m.7 .7h0m1-.4h0m.4 1h0m.2-.9h0m2.1 2.2h0m-.4 1.8h0m-3.6-.1h0m-.1-1.6h0m-.3 1.2h0m-.2 .2h0m-.6-.3h0m-.1-.2h0m-.3-.3h0m0 .5h0m-.7-1h0m-.2 1.5h0m-.4-1.8h0m-.4 2.2h0m-.2-.8h0m-.8-.8h0m-.3 1.2h0m-.3-.9h0m-.2 0h0m-.2 .5h0m0 1h0m-.1 0h0m-.5-.3h0m-.1-2.5h0m0 1.8h0m-.4-1.9h0m-.4 .4h0m-.9 1.9h0m-.2-1.4h0m-.1 1.2h0m-.1-.6h0m-.4 .9h0m-.1-2.4h0m-.9 1.7h0m-.3 .5h0m0-1.2h0m-.1-.2h0m-.6 .2h0m-.3-.7h0m-.1 2.5h0m-.2-2.8h0m0 .9h0m0 1.3h0m-.1-.6h0m0 0h0m-.1-1.5h0m-.4 .5h0m0 .5h0m-.2 1.5h0m0 .1h0m-.2 .2h0m-.9-2.8h0m-.2 .3h0m0 .8h0m0 .1h0m0 1.6h0m-.8-1.7h0m0 1.7h0m-.8-2.6h0m-.8 2.6h0m-1.8-2.2h0m.4 3.7h0m.9 0h0m1.3 1.3h0m.4-2.2h0m.3 1.5h0m.1-1.5h0m.6 2h0m2.3-.4h0m.2-1.3h0m.2 1.4h0m0 .1h0m.6-1.7h0m1 .5h0m.2 1.7h0m0-2.2h0m.1 .5h0m.5-.4h0m.9-.1h0m0 1.8h0m.8-1.9h0m.1-.5h0m1 2.6h0m0-2.4h0m1.2 2.2h0m0-1h0m.2-.4h0m.1-.5h0m.5 2.2h0m.5-2.3h0m.4-.3h0m.2 2.5h0m.4-1.4h0m.5-.8h0m1.2-.3h0m.3 .5h0m2.2 1.7h0m-4.8 2.8h0m-1 .1h0m-.1-2.2h0m-.9 .7h0m-1.1 1.2h0m-1.5-.1h0m-1.5 .1h0m-.3-1.3h0m-.2 .9h0m-.5 1.4h0m-.7-.7h0m-.5-2.1h0m0 1.4h0m-1.5 1.3h0m-.9-2.6h0m-1.3 2.1h0m-.2-1.7h0m-1.8 1.5h0m.4 1.6h0m.3 1.9h0m1.7 .2h0m6.9-2.3h0m.4 .2h0m2.7-.3h0m0 1h0m.6-.4h0m1.3-.3h0m-9.3 2.9h0m-1.6 2.7h0m3.8 4.2h0" stroke="#000" stroke-width="1.44" stroke-linecap="round"/>
<path d="M52.9 449.4h0m-3.6-.9h0m-.3 1.3h0m-2.2-.2h0m0-.3h0m-.8 .5h0m-.2-1h0m-2.9 0h0m-1.1-1h0m-2.4 4.5h0m4.4-1.4h0m1 .8h0m1.4 1h0m.2-.3h0m0 .4h0m1.1-.5h0m.1-2.1h0m3.8 .3h0m-1.3 5h0m-.2-.8h0m-1.6 .5h0m-.8-.5h0m-.4 .4h0m-1-1.8h0m-.1 1.9h0m-.4-.6h0m-.6 1.2h0m-.6-1.9h0m-.2 2h0m-.2-1.3h0m-.3-.3h0m-.7 1.7h0m-2.4 2.5h0m.6-.9h0m1.6 .5h0m.2 .7h0m.4-2.3h0m.8 .9h0m.7 .2h0m.4 .8h0m.2-.2h0m.5-1.4h0m.5 .6h0m.2 1.3h0m.2-.5h0m0-.6h0m.1 .4h0m.5-1.3h0m.7 1.6h0m0-2.3h0m.3 .4h0m.7 1.9h0m.4-1.7h0m.3 1.1h0m.1-1.1h0m.3 1.1h0m.3-.8h0m.6-.1h0m.2 1.9h0m.8 .1h0m-.2 3h0m-.7-.6h0m-.7-1h0m-.1 1.8h0m-.1-1.3h0m-1.3 .5h0m-.2 .2h0m0-2.2h0m-.2 2.5h0m0-2h0m-.2 2.3h0m-.3-.3h0m-.6-1.3h0m-.1 1h0m-.2-.8h0m0 .5h0m-.1-.6h0m-.1 1.2h0m-.9-.1h0m-.9-.8h0m0-.7h0m-.4-1h0m-.1 .6h0m-.2 2h0m-.3-.8h0m-.4-1.3h0m-.1 1.5h0m-.1-.1h0m-1-.3h0m-.6-.7h0m-1.5 3.5h0m1.9-.7h0m.4 2h0m.4-1h0m1.1 .5h0m.1-2.1h0m.2 2.3h0m.2-.1h0m.6-2.2h0m.5 .7h0m1.3 .6h0m.4 .7h0m.7-.2h0m0 .1h0m.1-1.1h0m.2 .4h0m.4-1.1h0m.1 0h0m.3 .7h0m.2 1.9h0m.1-1.6h0m.8 1.1h0m1.2 0h0m.1-1.2h0m.4 1.2h0m.5 .8h0m-.6 2.7h0m-.4-2.3h0m-1 2h0m0-1.1h0m-.4 1.1h0m-.2-2.3h0m-2 .5h0m-.1 .5h0m0-.7h0m0 1.8h0m-.1-.4h0m-.5-.6h0m-.3-.7h0m-1.3-.5h0m-1.6 2.8h0m-.2-1h0m-.3 .7h0m-.3-2.4h0m-1.4 2.2h0m-1.6-1.8h0m-.1 3.8h0m3.2 .1h0m3.2 .7h0m0-.5h0m.1-.8h0m.6-1h0m.6 .8h0m2.1 1.1h0m1.6-.5h0m.1 1.2h0m-2 2.2h0m-3.2 1.4h0m.4 2h0" stroke="#000" stroke-width="1.36" stroke-linecap="round"/>
<ellipse cx="49" cy="489.5" rx="11.3" ry="15" fill="#000"/>
<path d="M57.1 452.4h0m-5.4 9.5h0m-5.3 2.4h0m2.3-2.1h0m2.3 2.5h0m1.9-1.4h0m6.3 1.1h0m.6 2.3h0m-4.1-1.2h0m-2.1 1.5h0m-4 .7h0m-.8-2.5h0m-2.3 .5h0m-7.1 2.7h0m3.9 2.2h0m2.8-.6h0m.4 .3h0m.1-.3h0m.2-1.8h0m.3-.1h0m.3 2.6h0m.8 .3h0m1.1-1h0m3.4 .7h0m.5-.1h0m.3-.7h0m5-.5h0m.4-.1h0m3.2 .7h0m4.1-1.1h0m-.9 3.7h0m-5.3-.6h0m-1.2 1.9h0m-.3-2.5h0m-.4 2.5h0m-.3-2.4h0m-.3 1.3h0m-.2-1.5h0m-1.6 1.9h0m-.7-1.9h0m-.3 1.6h0m-.8-.1h0m-.1-1.5h0m-.1 2.5h0m-.1-.4h0m-1 .3h0m-.1-.6h0m-.7 .8h0m-.1-1h0m-.8-.7h0m-.7-1.1h0m-.2 2h0m-.6-.8h0m0-1.1h0m-.3 2.5h0m0-1.8h0m-.3-.1h0m-.7 .7h0m-.5 1.1h0m-2.2-.1h0m-.7-1.4h0m0 .2h0m-1.9-.1h0m0 1.7h0m-.1-1.1h0m-1 .5h0m-1.6-2.2h0m-.4 1.8h0m-.1 3.8h0m.3-1h0m.3-.9h0m.3 .2h0m.4 1.4h0m.7-2h0m.9 1.6h0m.4 .4h0m.4-1.1h0m.7 .2h0m.8 1.3h0m.3-1.8h0m0-.6h0m.6 2.2h0m.4-1.2h0m.1 .1h0m.5-1.3h0m.1 2.6h0m.3 .1h0m.5-.5h0m.1 .4h0m.2-.4h0m0-2.1h0m.5 2.2h0m.1 .1h0m0 0h0m.2 0h0m.1-2.2h0m.2 1.4h0m.2 .3h0m.4 .8h0m0-1h0m.4-1h0m.4 1.7h0m.7-1.3h0m.3-.2h0m.4-.1h0m.1-.1h0m.1 1.6h0m0-.4h0m.3-.3h0m.1 1.2h0m.3-2.8h0m.2 .4h0m.8 1.2h0m.1 .4h0m.2-1.9h0m.6 .7h0m.3 1.5h0m1.1-1.2h0m0 1.4h0m.5-1.4h0m.1 .5h0m0-1h0m.9 1.9h0m1.1 .1h0m.2 0h0m0-2.7h0m1.1 .7h0m.2-.8h0m1.7 1.9h0m1.9 .8h0m1-1.8h0m3.1 1.6h0m-2.9 2.7h0m-.3-.8h0m-1.8-1.3h0m0 2.2h0m-.6-2.2h0m-1.2 0h0m-.2 1.8h0m-.8 .2h0m-.7-.3h0m-.2-1.4h0m-.2-.3h0m-1 2.8h0m-.3-2.3h0m-.3 1.1h0m-.6 .5h0m-.7-.3h0m-.1-.1h0m-.3-.5h0m0 1h0m-.4 .4h0m-.1 0h0m-.2-.7h0m-.1-.9h0m-.4 .7h0m-.4-1.8h0m-.2 .9h0m-.2-.4h0m-.2 1h0m-.1-.2h0m-.1-.6h0m-.2 2.2h0m-.2-2.1h0m-.6 2h0m0-1h0m-.1 .7h0m-.3-1.8h0m-.2 2.3h0m-.1-1.9h0m-.1 1.8h0m0-.6h0m-.1-.8h0m-.1 .9h0m-.4-1.4h0m-.1-.1h0m-.1 1.9h0m0-2.8h0m-.1 1.1h0m-.2 .7h0m-.4-1h0m-.1 .7h0m-.2-1.2h0m-.1 .1h0m0 2.3h0m-.6 .1h0m-.3-2.1h0m-.1 .3h0m-.2 1.8h0m-.5-1.6h0m-.1 .2h0m0 .1h0m-.2 1.2h0m-.1-1h0m-.3 .8h0m-.2 .4h0m-.4-1h0m0 .1h0m-.1 .3h0m-.1-1.2h0m0 1.8h0m0 0h0m-.2-1h0m0 .2h0m-.2-1.2h0m0 1h0m-.1-1.3h0m0 1.6h0m-.4-.9h0m0-.5h0m-.1-.1h0m-.1 .6h0m0 1.3h0m-.1-.5h0m-.4 .7h0m-.2-1h0m0 1.2h0m-.1-2.1h0m-.1 .1h0m-.2 1.5h0m-.5-1.5h0m-.1 1h0m0 .7h0m-.1-2.1h0m0 1.1h0m-.2 1.2h0m-.6-1.5h0m0-.4h0m0-.7h0m-.2 2.3h0m-.2-1.5h0m-.1 .8h0m-.1-1.3h0m0-.2h0m-.8 .6h0m-.3 .5h0m-.2 1.3h0m-.4-.8h0m-.5-.9h0m-.3 1.3h0m0 2.9h0m.3-1h0m.4 .8h0m.3-1.2h0m.2 1.3h0m.6-.2h0m.2-2h0m.2 1.6h0m.1 .1h0m.1 1.3h0m0-2.9h0m.3 1.4h0m.3-.1h0m.2-.3h0m.1-.5h0m.2 1h0m0 .7h0m.1-.3h0m.8-.2h0m.3 .4h0m.1-2h0m0 .4h0m.2 1.2h0m.3 .3h0m0-2h0m.2 .3h0m.1 1.7h0m.1-1.8h0m0 1.1h0m.3-.5h0m.1 .9h0m0-.5h0m.1-1.3h0m.1 2.9h0m0-2.5h0m0 .4h0m.1 1.2h0m0-1.5h0m.1-.3h0m0 2.8h0m.2-1.8h0m.1 .9h0m.3 .4h0m.1-1.6h0m0 1.5h0m.5-1.2h0m.1 .7h0m.1 .8h0m0 .3h0m.2-.1h0m0-.5h0m.1-1.1h0m.2 .4h0m0 .6h0m.1-1.5h0m.1 1.9h0m.2-1.1h0m0 .3h0m0 .8h0m0-1.6h0m.1-.4h0m.1-.5h0m0 1.3h0m.1 .1h0m0-.3h0m.1 1.7h0m.2-1.4h0m.4 1.4h0m0-.2h0m.2-.9h0m.5-1.1h0m.1-.3h0m.2 1.3h0m0-.6h0m.1 1.2h0m.5-1.7h0m.1-.4h0m0-.1h0m.1 .3h0m.2-.3h0m.4 .4h0m.1 .8h0m0 1h0m.5-1h0m.1-.3h0m.1 .9h0m0-1.9h0m0 .4h0m.4 1.4h0m0-1.7h0m0 .6h0m.2 .8h0m0-.6h0m.1 1.5h0m0-1.8h0m.1 .6h0m0 1.3h0m.3-.6h0m0-1h0m0-.5h0m.2 .7h0m0 0h0m.4-.9h0m.2 2h0m0 .3h0m.2 .1h0m.1-1.5h0m.2-.5h0m.1-.2h0m0-.1h0m.1 1.3h0m0-1.6h0m.1 1.5h0m.2-.1h0m0 .2h0m0-1h0m.4-.3h0m.1 2.6h0m.2-1.9h0m.1-.3h0m.2 .5h0m.2 .5h0m.5-1h0m.1 0h0m0 1.1h0m.2-1.3h0m.4 .6h0m.3 1.7h0m.1-.5h0m.1 .6h0m.2-.6h0m.1-1.5h0m0 1.6h0m.3-2.5h0m0 1.7h0m.3-.5h0m.2 .8h0m.1 .1h0m2 .5h0m1 .1h0m.1-2h0m1.9 1.5h0m.2 .1h0m1.2 3.7h0m-2-2h0m0-.2h0m-.1-.2h0m-2 .9h0m-.1 .2h0m-1 1.2h0m-.1-.8h0m0 .1h0m-.1-1.1h0m-.1 .7h0m-.5 1.2h0m-.1-2.4h0m-.2 1.6h0m-.1-.6h0m-.1 1.3h0m-.5-1.7h0m-.4-.1h0m-.3 .8h0m-.2-1.6h0m-.1 1.4h0m-.1-1.3h0m0 2.3h0m-.2-1.2h0m0 .4h0m-.4-.4h0m-.1 .9h0m-.4-2h0m-.1 .2h0m0 2.1h0m0 0h0m-.1-.4h0m-.2-1h0m0 1.7h0m-.2-2.4h0m-.1 .3h0m-.1 2h0m0-1.4h0m-.1 .7h0m0-2.2h0m-.1 .4h0m0 1.1h0m-.1 .9h0m-.1-2.1h0m0 1.5h0m-.1-1.2h0m0 2.1h0m-.1-.6h0m0 .1h0m-.1-1.3h0m0 .2h0m0 1.8h0m-.3-.1h0m-.1-2h0m-.1 .8h0m-.1 1h0m-.4-1.5h0m0 .1h0m-.3 .3h0m0-.3h0m0-1.2h0m0 1.8h0m-.1-.1h0m-.5 .8h0m-.1-2h0m-.3 .5h0m0-.6h0m-.1 .9h0m-.3-.9h0m0-.1h0m-.1 1.1h0m0-.4h0m-.1 1.2h0m0 .4h0m-.1-1.9h0m-.1 1.1h0m-.1-.6h0m0 1.1h0m0-2.3h0m0 1.6h0m-.1 .5h0m0-1.4h0m0 .3h0m-.3 .7h0m0 .2h0m-.1-1.9h0m-.5 1.7h0m-.1-.5h0m-.1 1.2h0m-.1-.5h0m0-.1h0m-.2-.2h0m-.1 1.1h0m0-2.3h0m0 2.2h0m-.1-1.1h0m0 1.2h0m-.1-.7h0m0 .6h0m-.1-1.5h0m-.1 1h0m-.1-1.4h0m0 1.4h0m-.1 .7h0m0 .1h0m-.1-1.6h0m0 1.6h0m-.1-1.6h0m-.1 1.3h0m-.1-1h0m0 .4h0m-.2 .1h0m0-1h0m0 .1h0m-.1 1.2h0m0-1.4h0m-.2 1h0m0 .2h0m0 .4h0m-.2-2.5h0m-.1 1.5h0m-.1 1.3h0m-.2-2.1h0m-.1 .7h0m0-.8h0m-.1-.3h0m-.1 .7h0m0 1.7h0m0-2.4h0m0-.3h0m0 2.2h0m0 .5h0m-.1-.1h0m-.2-1.1h0m-.1 .6h0m-.1-1.6h0m0 .9h0m0-.2h0m-.2-.4h0m0 1.9h0m-.1-.7h0m-.3-.8h0m0 .2h0m-.1-.5h0m-.2-.5h0m-.2 2.1h0m0 0h0m-.2-1.1h0m-.2 .6h0m0 .6h0m-.1-.1h0m-.1-1.9h0m0-.3h0m0 .5h0m-.1 .6h0m-.1-.4h0m-.4 1.9h0m-.1-1.5h0m-.1-.5h0m0 .6h0m0 .5h0m-.2 .2h0m-.1 .1h0m-.2-2.1h0m-.1 .6h0m0-.4h0m0 0h0m-.1 2.2h0m-.2 .1h0m-.6 .1h0m-.1-2.7h0m-.1 .1h0m-.3 .5h0m0 .7h0m-.1-.6h0m-.2 2h0m-.1-.7h0m-.2-1.4h0m-.4-.1h0m-.1 1.6h0m0 0h0m-.1-.4h0m0-1.6h0m-.1 1.5h0m0-.1h0m-.1 0h0m-.3-.4h0m-.3-.1h0m-.1 1.1h0m-.6 .3h0m0-.4h0m-.1-1.1h0m-.3-.4h0m0-.3h0m-.5 3.6h0m.3-.2h0m.4 .6h0m0-.5h0m.1 1.1h0m0 .6h0m.2-.4h0m.1-1.7h0m0 2.4h0m.2-1.7h0m.2 1.4h0m0-2h0m0 .4h0m.1 1.1h0m.1-.5h0m.1-1.2h0m.1 1.5h0m.3 .6h0m.1-1.6h0m0-.8h0m.1 2.5h0m.5-1.5h0m.4 1h0m.3-2.1h0m0 1.4h0m.2 1h0m.1 .1h0m.1-1.6h0m0-.4h0m.1 1h0m.1-.9h0m.1-.4h0m0 2.8h0m.4-2.4h0m.1 2.4h0m.1-2.6h0m.1-.1h0m.1 2.7h0m.2-.2h0m0-2.1h0m.4 1.8h0m0-1.3h0m0-.3h0m.2-.5h0m.1 .3h0m0 .5h0m.1-.1h0m.1 1h0m.1-1.1h0m.2 1.6h0m.1-2.1h0m.1 1.6h0m0 .2h0m.1-.4h0m0-1.6h0m.4 2.6h0m.2-.4h0m0-1.4h0m.4 1.7h0m0-2.6h0m.2 2.2h0m.1 0h0m.1-.1h0m0 .3h0m.1-1.3h0m0 .6h0m.2-1.3h0m.1 .5h0m.1 0h0m0-.5h0m0-.5h0m.4 1.7h0m0 .2h0m.1-.8h0m.1 1.2h0m.2-.5h0m0-1.9h0m0 2.6h0m.1-1h0m0 .5h0m.1 .4h0m0-1h0m0-.8h0m.1 .1h0m.1-.1h0m.2 1.4h0m.1 .8h0m.1-.8h0m0-.6h0m0-1.2h0m.1 2.6h0m0-1.8h0m.2 .7h0m0-.1h0m.1 .2h0m.1 1h0m.1-1.1h0m0 1h0m.3-1.4h0m.2 .5h0m.1-1.5h0m.1 1.2h0m.3-.7h0m.1-.1h0m.1-.5h0m0 .9h0m0 1.5h0m.1-.7h0m0-1.7h0m.1 1.4h0m.1-.9h0m0 1h0m0-.9h0m0 .3h0m0-.3h0m.1 .1h0m0 .4h0m.1 1.5h0m.1-.3h0m0-1.8h0m0 1.6h0m0-2.4h0m.1 1.3h0m.1 .6h0m0 1h0m.1-1.8h0m.1 .5h0m.1 1.2h0m.1-2.6h0m.1 1.7h0m0 .3h0m.1-2.2h0m.1 .7h0m0 1.4h0m0-.8h0m.1 1.5h0m.2 0h0m.1-.3h0m0-.2h0m.1-.8h0m.1-1.1h0m.1-.2h0m.2 2.4h0m0-.4h0m.1-1.3h0m0 1.7h0m0-2.1h0m.3 1.9h0m.2-.2h0m.1-.1h0m0-2.1h0m.1 1h0m.1 .8h0m0 .2h0m0 .5h0m.1-1.4h0m.1-.7h0m.1-.3h0m0 .7h0m.2 .1h0m0 .5h0m.1 .2h0m0 .7h0m.3 .5h0m.2-1.9h0m0 .1h0m0-.5h0m.1 1h0m0-1.1h0m.2 1.1h0m0-.8h0m0 .8h0m.1-1.2h0m.2 .2h0m.2 2.2h0m.1-.3h0m.2-.1h0m.4-2h0m.3 .4h0m.1-.1h0m.1-.5h0m0 .9h0m.1-1h0m0 2.6h0m.1-2h0m.3 0h0m.1 1.3h0m.1 .7h0m0-2.5h0m0 2.1h0m.1 .4h0m.1 .4h0m.5-.3h0m.2-2h0m.2 1.9h0m0-.8h0m.7 .7h0m.3-1.6h0m0 1.4h0m.8-1.2h0m0 1h0m1.3 .8h0m.2-2.3h0m1 1.2h0m.8-.1h0m.3 .5h0m1.5-2.2h0m.6 5.8h0m-.9-.8h0m-1.2 .6h0m-.8 .2h0m-2.5-.8h0m-1.3 .5h0m-.1 0h0m-.4-.7h0m0 .5h0m-.6-.3h0m-.1-1.6h0m-.2 .7h0m-.3 1.3h0m-.1-1.9h0m-.1 1.9h0m0-1.8h0m0 .4h0m-.2-.8h0m0 1h0m-.1-.3h0m-.3 .7h0m-.3-1.6h0m-.2 .8h0m0 .8h0m-.2 1h0m-.3-1.7h0m-.2 1.2h0m-.1-.9h0m-.2 .5h0m-.2 1.2h0m0 .1h0m0-2.5h0m-.1 1.3h0m-.2-.7h0m-.1 .1h0m-.1 .6h0m-.1-.4h0m0 1h0m-.1 0h0m0-1h0m-.1 .3h0m-.1-1.1h0m0-.5h0m-.6 2.1h0m-.2-.2h0m-.2 0h0m-.1-.7h0m-.1-.4h0m-.1 .9h0m-.1-1.1h0m0 .3h0m0 1.8h0m-.1-1.5h0m0-.2h0m-.1 1.4h0m0-2.2h0m0-.1h0m-.1 1.9h0m0 .2h0m-.1-1.5h0m-.1-.2h0m0 2.3h0m-.1-1.5h0m0 .3h0m-.1 .2h0m-.1-1.3h0m0 2.3h0m-.1-2h0m0 1.9h0m-.1-2.2h0m-.1 .4h0m-.1 1.3h0m-.1-.3h0m-.1-.2h0m0-1h0m-.2 1.4h0m-.1 .5h0m0-1.4h0m0-.6h0m-.1 2.2h0m0-.3h0m-.5-.2h0m-.1-1.7h0m0 1.5h0m-.1 .4h0m0 .3h0m0-2.2h0m-.1 .6h0m0 .3h0m-.1-1.2h0m0-.3h0m-.1 .9h0m-.1-.9h0m-.1 1.5h0m-.1-1.4h0m0 .7h0m-.1 1.9h0m0-1.9h0m0 0h0m0 1.5h0m-.3 .2h0m-.1-1.2h0m0-.3h0m-.1-.4h0m-.1 1.8h0m0-.9h0m-.1-.7h0m0-.7h0m0 .5h0m-.1 1.6h0m-.2-2.3h0m-.1 1.9h0m-.1-1.6h0m0 2h0m0 .6h0m-.1-2.4h0m-.1 1.8h0m0 .1h0m-.1-.1h0m-.3-1.8h0m-.1-.2h0m0 2.5h0m-.1-1.6h0m-.1-.7h0m0 1.9h0m0-1.5h0m-.3 1.7h0m0-.9h0m-.2-1.2h0m0 .1h0m-.3 .7h0m0-1.1h0m-.1 .3h0m-.1 .7h0m-.1 0h0m0 .2h0m-.1-1.2h0m0 2h0m-.1-.3h0m0 .1h0m-.3 .2h0m-.2 .3h0m-.2-1.6h0m0 0h0m-.1 .4h0m0-1h0m-.2 1.1h0m0 .1h0m0-1.1h0m-.1 .8h0m-.1 1h0m0 .7h0m-.1-1.2h0m-.1-1.2h0m0 1.8h0m-.1-1.7h0m0 2.3h0m-.1-.7h0m-.5-1.8h0m-.3 1.9h0m-.1 .1h0m-.4-.1h0m0-1.6h0m-.1 .8h0m-.3-1.4h0m0 2.4h0m0 .4h0m-.3 0h0m0-1.8h0m0 1.4h0m-.1 .2h0m0-1.4h0m-.1-1.2h0m0 2.8h0m-.1-2.3h0m-.1 .8h0m0-1.3h0m-.1 .9h0m0 1.2h0m-.2-.5h0m0 .6h0m-.1-2.3h0m-.2 1.8h0m0-1h0m-.1 .9h0m0-.7h0m-.1 1.1h0m0-.1h0m-.1 .8h0m-.1-2.4h0m-.2 1.9h0m-.5-.5h0m-.1 .3h0m0-1.2h0m-.2 .5h0m0-1h0m-.1 1h0m0 .9h0m-.1-1.4h0m-.4-.8h0m-.1 .7h0m-.1 .5h0m0 .4h0m-.1-.7h0m-.5 .3h0m-.3 .2h0m-.2-.1h0m-.2 2.7h0m.5 1.3h0m.3-2h0m.1 1.8h0m0 .5h0m.3-.9h0m.1-1.2h0m.2-.5h0m0 1.2h0m.1 .3h0m.1 .3h0m.3-1.6h0m0 .3h0m.1 1.1h0m.8 .2h0m0 .8h0m.3-1.8h0m.2-.7h0m0 2.6h0m.2-.6h0m0-1.7h0m.3 1.4h0m.1-1.5h0m.1 2.3h0m0-1.9h0m.2-.6h0m0 1.1h0m0-.9h0m0-.2h0m.1 1.7h0m0-1.3h0m0 .5h0m.1 .5h0m.1-.7h0m.3-.9h0m.1 2.8h0m0-1.2h0m.1-1.4h0m0 2.3h0m0-1.6h0m.1 .5h0m0 .4h0m.1-.2h0m.2 1.3h0m0 .1h0m0-2.6h0m.2 .2h0m.1 1.4h0m.2-1.5h0m.3 2.1h0m0-.7h0m0 .8h0m.1-1.3h0m.2 .6h0m0-.7h0m.2-.4h0m.5 0h0m0 1.9h0m.1-2h0m.1 1.9h0m0-1.1h0m.1-1.3h0m.1 1h0m.1-1.1h0m.1 .1h0m0 .2h0m0 2.3h0m0-1.3h0m0-1h0m.3-.4h0m.3 2h0m.2 .1h0m.1 0h0m.1-1.1h0m0-.5h0m.1-.1h0m.1-.4h0m0 0h0m.2 1.9h0m.1 .5h0m.1-2.3h0m.1 .2h0m.2 1.6h0m.1-1.1h0m0 .4h0m.1 1.5h0m.1-1.7h0m.1-.3h0m0 .1h0m.2 1.9h0m.1-2.6h0m0 2h0m.2 .6h0m0-.6h0m0-1.2h0m.1 1.8h0m0-1.2h0m.1-1.3h0m0-.1h0m.1 1.4h0m0 .5h0m.1-.5h0m.1-1.4h0m.1 1.6h0m0-.2h0m.1 .9h0m.1-.3h0m0 .5h0m0-.8h0m.1-1.6h0m.1 .2h0m0 0h0m.1 1h0m.1 1.1h0m.1-2.3h0m.1 1h0m0-1h0m.1 .7h0m0 1h0m.1-1.7h0m0 1.1h0m.2 .1h0m.2-1.4h0m.4 2.6h0m.2-2.4h0m.1 .2h0m0 .8h0m.1-.4h0m.2 1.5h0m.1 .2h0m.4-2.2h0m.2 2.2h0m.1-.7h0m0 1h0m.2-1h0m.1-.8h0m.1 1.1h0m.1-.2h0m.4-.3h0m.1-.3h0m.4-.9h0m.2 .2h0m0 0h0m0-.7h0m.1 .8h0m0 1.4h0m.1-.2h0m.2-1.5h0m0-.4h0m.3 2.8h0m.3-1.9h0m.3 .1h0m.4-1h0m.1 1.3h0m.4-.8h0m.4-.5h0m.3 2.6h0m.1-1.1h0m.1-.7h0m.3 0h0m0 1.5h0m.1-1.2h0m.5 1.7h0m0-1.9h0m.2 .8h0m.1-.8h0m.7-.2h0m.6 1.1h0m0 .7h0m0-1.8h0m.1 1.3h0m.2-.7h0m1-.1h0m1.5-.2h0m.8 1.3h0m.1-.7h0m0-.7h0m.8 .2h0m.3 1.7h0m1.2-2.3h0m1.6 1.7h0m-3.8 3.4h0m-1.8-2.5h0m-.5-.2h0m-.5 1.5h0m-.2-1.3h0m-.9 2h0m-.5-1.3h0m0 1h0m-.7-.4h0m-.3 .8h0m0 .5h0m0-.3h0m-.3-1.2h0m0-1.2h0m-.1 1.7h0m-.1-.3h0m-.5 1.1h0m-.1-.7h0m-.1-1.7h0m-.1 1.1h0m0-.2h0m-.2 0h0m-.1 .2h0m0 .5h0m-.1-.6h0m-.1-.3h0m-.1 .1h0m-.2-.7h0m-.1 1.9h0m-.2 .6h0m-.1-1.8h0m-.1 2h0m-.8-2.5h0m-.1 2.5h0m-.1-1.5h0m-.5 .4h0m-.1-.9h0m0-.2h0m-.2-.3h0m-.1 .8h0m-.6 .4h0m-.2-.2h0m-.1 1h0m-.1-1.5h0m-.2 1.7h0m-.1-2.3h0m-.1 1.3h0m0-.6h0m0 1.8h0m-.1-1.5h0m0-1.4h0m-.1 1.3h0m-.3-.1h0m0 0h0m0-.1h0m0 .1h0m-.2 1.1h0m-.1 .2h0m0-2.4h0m0 1.4h0m-.2 .4h0m-.2-.4h0m-.1 1.3h0m0-1.6h0m-.4-1h0m-.1 .9h0m-.1 1.5h0m-.1-1.9h0m0 1.6h0m-.1-1.1h0m0 1h0m-.1-1.9h0m0 1.5h0m0-1h0m-.1 1.4h0m0-.4h0m0 .2h0m-.1 .5h0m-.1-1.5h0m0 .5h0m0 .5h0m-.1 .9h0m-.2-2.1h0m-.1 1.7h0m0-1.3h0m0 .2h0m-.1-.1h0m0 1.1h0m-.2-.5h0m0-.5h0m0-.8h0m0 .1h0m-.1-.2h0m-.1-.2h0m0 1.5h0m-.1-.2h0m0-.4h0m-.1-1.1h0m-.1 2h0m-.1 0h0m-.1-.8h0m0 .1h0m0 .1h0m-.1-.9h0m-.1 1.7h0m-.1-1.6h0m-.1 1.2h0m-.2-1.6h0m-.1 1.9h0m-.1-.7h0m0-.1h0m-.1-1.2h0m-.1 2.1h0m-.1 .3h0m0-2.1h0m0 1.3h0m-.2-.4h0m0 1.2h0m-.1 .2h0m-.1-1.1h0m-.1 .9h0m0-.1h0m-.3-.8h0m-.1-1.2h0m0 2h0m-.2-1.9h0m-.1-.2h0m-.1 2.5h0m-.1-1.9h0m0-.2h0m-.1-.2h0m0 1.5h0m-.1 .1h0m-.2 0h0m-.1-1.3h0m0-.2h0m-.3 1.3h0m-.1-.8h0m-.1 1.1h0m0-.6h0m-.1-1.5h0m-.1 .9h0m0 .1h0m0 .1h0m-.5 .9h0m-.2-.5h0m0 1.2h0m-.2-1.5h0m-.1 .3h0m0-1.5h0m0 1.9h0m-.2 .1h0m0 .7h0m-.2-.4h0m-.3-.2h0m0-2.3h0m-.1 .2h0m-.1 2h0m-.2-.7h0m-.1-.1h0m-.1-.8h0m-.1 1.4h0m-.1 .9h0m-.2-.4h0m-.1-1.1h0m-.2 1.5h0m-.2-1.5h0m-.4 .3h0m-.1 .1h0m-.4-1.3h0m-.2 1.2h0m-.2 .4h0m-.3 .3h0m-.3 .5h0m-.3-1.6h0m-.2 0h0m-.2 .2h0m-.1 .2h0m-.5 0h0m.1 3.8h0m.2 .4h0m.1-2.9h0m.3 1h0m.5-.7h0m.7 2.3h0m.6-.3h0m.1 .1h0m.4-1.3h0m0 .7h0m0-.7h0m0 1.2h0m.3-2h0m.1 1.2h0m.2 .9h0m.3-2.2h0m.1-.2h0m0 1.8h0m.2-1.1h0m0-.4h0m.2 .9h0m.1 .6h0m.1 1h0m.2-1.5h0m.2-.1h0m.1 .9h0m.2-.2h0m.1-1.7h0m0 1.8h0m.4-1.3h0m.2 1.5h0m.1-1.1h0m.1-.2h0m0 .2h0m.1 .2h0m.2 .7h0m.3-1.3h0m0 1.3h0m.1 .5h0m0-.5h0m.2-2h0m.2 1.3h0m0 0h0m.1-1.1h0m.4 2.6h0m0-2.2h0m0 1.8h0m.1-2.2h0m.3 0h0m.1 1.1h0m.2 1.3h0m0-2.1h0m.2-.1h0m.3 1h0m.1-.8h0m.6 .3h0m.1 1.7h0m.2 .3h0m.2-.9h0m.2-.1h0m.8-.8h0m.2 .5h0m.2 1h0m0-2.2h0m0 1.8h0m.4-.3h0m0-1.8h0m.1 1h0m.1 .2h0m0-1.1h0m.1 1.4h0m.1-.5h0m0 1.2h0m.1 0h0m.1-1.4h0m.1 .8h0m.2 .3h0m0 .1h0m.2-.3h0m.1-1h0m.1 .8h0m0-.8h0m.5-.1h0m0-.6h0m.5 .9h0m.1-.2h0m.1 1.7h0m0-1.3h0m.5-.9h0m.2 1.2h0m.1 1.2h0m.2-1.5h0m.1 .7h0m.3-1.3h0m0 0h0m.2 .2h0m.8 .3h0m.2-.9h0m0 1h0m.1 1h0m.1-1.2h0m.2 .6h0m.2 .2h0m.4 .8h0m.3-.9h0m1-.1h0m.4 1h0m.4-.4h0m1.2-.3h0m.8 .4h0m2.1-2h0m.5 1.9h0m.2-1.6h0m.6-.1h0m.4-.3h0m3.9 5.4h0m-3.1-.9h0m-3-.2h0m-1.2 1.5h0m-.3-1.9h0m-.5 0h0m0 .6h0m-1.9-.8h0m-.1 .2h0m-1.6 .4h0m-.1-1.2h0m-.1 1.6h0m-.8-1.3h0m-.7-.4h0m-.4 2.4h0m0-1.5h0m-1.3 .2h0m-.3 1.2h0m0-2.3h0m-.2 1.8h0m-.4-.5h0m-.2-1.5h0m-.1 2.7h0m-.4-.9h0m-1.1 .4h0m-.1-1.2h0m-.2-.4h0m-.3 .9h0m-1.3-1.5h0m-.1 .4h0m-.2 .6h0m-.5-.1h0m-.2-.8h0m-.1 .2h0m-.3 2.4h0m-.1-.3h0m-.8-1.1h0m-.4 .6h0m-.1-.5h0m-.1 1.5h0m-.7-2.8h0m-.3 2.1h0m-.2-.6h0m-.1 .3h0m-.1-.7h0m-.3 1.1h0m-.1-2.1h0m-.4 0h0m-.3 .9h0m-.2-.8h0m0-.1h0m-.4 1.2h0m-.3 1.4h0m-.2-1.7h0m-.2-.5h0m-.4 2h0m-.8-1.5h0m-.1 .4h0m-.4-1h0m-.7-.2h0m-.3 2.6h0m-.1-2.4h0m-.5 0h0m6.1 2.6h0m.1 .7h0m.3 0h0m.1 0h0m.3 .6h0m5.6-1.3h0m1.6-.1h0m.7 1.1h0m1.1-.9h0m.7 0h0m1.5 .6h0m.7 .3h0m.4-.7h0" stroke="#000" stroke-width="1.36" stroke-linecap="round"/>
<ellipse cx="47.6" cy="489.5" rx="6" ry="11" fill="#d2d2d2" stroke="#a0a0a0" stroke-width="0.5"/>
<ellipse cx="47.6" cy="489.5" rx="4.5" ry="8.2" fill="none" stroke="#a0a0a0" stroke-width="0.5"/>
<ellipse cx="47.6" cy="489.5" rx="3" ry="5.5" fill="none" stroke="#a0a0a0" stroke-width="0.5"/>
<ellipse cx="47.6" cy="489.5" rx="1.5" ry="2.8" fill="none" stroke="#a0a0a0" stroke-width="0.5"/>
<ellipse cx="48" cy="490" rx="2.6" ry="5.5" fill="#ececec"/>
<rect x="38.5" y="407.8" width="92.9" height="98.5" fill="none" stroke="#222" stroke-width="1.1"/>
<path d="M71.9 408V504.2H38.5M38.5 454.6H71.9" fill="none" stroke="#555" stroke-width="0.9"/>
<text x="74.8" y="431.2" font-size="6.3" textLength="19.2" lengthAdjust="spacingAndGlyphs">3.02%</text>
<text x="75.2" y="483.9" font-size="6.3" textLength="19" lengthAdjust="spacingAndGlyphs">96.5%</text>
<line x1="35.7" y1="417.8" x2="38.5" y2="417.8" stroke="#000" stroke-width="0.9"/>
<line x1="35.7" y1="440.4" x2="38.5" y2="440.4" stroke="#000" stroke-width="0.9"/>
<line x1="35.7" y1="463.6" x2="38.5" y2="463.6" stroke="#000" stroke-width="0.9"/>
<line x1="35.7" y1="492.5" x2="38.5" y2="492.5" stroke="#000" stroke-width="0.9"/>
<line x1="36.9" y1="433.6" x2="38.5" y2="433.6" stroke="#000" stroke-width="0.6"/>
<line x1="36.9" y1="429.6" x2="38.5" y2="429.6" stroke="#000" stroke-width="0.6"/>
<line x1="36.9" y1="426.8" x2="38.5" y2="426.8" stroke="#000" stroke-width="0.6"/>
<line x1="36.9" y1="424.6" x2="38.5" y2="424.6" stroke="#000" stroke-width="0.6"/>
<line x1="36.9" y1="422.8" x2="38.5" y2="422.8" stroke="#000" stroke-width="0.6"/>
<line x1="36.9" y1="421.3" x2="38.5" y2="421.3" stroke="#000" stroke-width="0.6"/>
<line x1="36.9" y1="420" x2="38.5" y2="420" stroke="#000" stroke-width="0.6"/>
<line x1="36.9" y1="418.8" x2="38.5" y2="418.8" stroke="#000" stroke-width="0.6"/>
<line x1="36.9" y1="456.6" x2="38.5" y2="456.6" stroke="#000" stroke-width="0.6"/>
<line x1="36.9" y1="452.5" x2="38.5" y2="452.5" stroke="#000" stroke-width="0.6"/>
<line x1="36.9" y1="449.6" x2="38.5" y2="449.6" stroke="#000" stroke-width="0.6"/>
<line x1="36.9" y1="447.4" x2="38.5" y2="447.4" stroke="#000" stroke-width="0.6"/>
<line x1="36.9" y1="445.5" x2="38.5" y2="445.5" stroke="#000" stroke-width="0.6"/>
<line x1="36.9" y1="444" x2="38.5" y2="444" stroke="#000" stroke-width="0.6"/>
<line x1="36.9" y1="442.6" x2="38.5" y2="442.6" stroke="#000" stroke-width="0.6"/>
<line x1="36.9" y1="441.5" x2="38.5" y2="441.5" stroke="#000" stroke-width="0.6"/>
<line x1="36.9" y1="470.6" x2="38.5" y2="470.6" stroke="#000" stroke-width="0.6"/>
<line x1="36.9" y1="474.7" x2="38.5" y2="474.7" stroke="#000" stroke-width="0.6"/>
<line x1="36.9" y1="477.6" x2="38.5" y2="477.6" stroke="#000" stroke-width="0.6"/>
<line x1="36.9" y1="479.8" x2="38.5" y2="479.8" stroke="#000" stroke-width="0.6"/>
<line x1="36.9" y1="481.7" x2="38.5" y2="481.7" stroke="#000" stroke-width="0.6"/>
<line x1="36.9" y1="483.2" x2="38.5" y2="483.2" stroke="#000" stroke-width="0.6"/>
<line x1="36.9" y1="484.6" x2="38.5" y2="484.6" stroke="#000" stroke-width="0.6"/>
<line x1="36.9" y1="485.7" x2="38.5" y2="485.7" stroke="#000" stroke-width="0.6"/>
<line x1="36.9" y1="466.6" x2="38.5" y2="466.6" stroke="#000" stroke-width="0.6"/>
<line x1="36.9" y1="469.8" x2="38.5" y2="469.8" stroke="#000" stroke-width="0.6"/>
<line x1="36.9" y1="473" x2="38.5" y2="473" stroke="#000" stroke-width="0.6"/>
<line x1="36.9" y1="476.2" x2="38.5" y2="476.2" stroke="#000" stroke-width="0.6"/>
<line x1="36.9" y1="479.4" x2="38.5" y2="479.4" stroke="#000" stroke-width="0.6"/>
<line x1="36.9" y1="482.6" x2="38.5" y2="482.6" stroke="#000" stroke-width="0.6"/>
<line x1="36.9" y1="485.8" x2="38.5" y2="485.8" stroke="#000" stroke-width="0.6"/>
<line x1="36.9" y1="489" x2="38.5" y2="489" stroke="#000" stroke-width="0.6"/>
<line x1="36.9" y1="492.2" x2="38.5" y2="492.2" stroke="#000" stroke-width="0.6"/>
<line x1="36.9" y1="495.4" x2="38.5" y2="495.4" stroke="#000" stroke-width="0.6"/>
<line x1="36.9" y1="498.6" x2="38.5" y2="498.6" stroke="#000" stroke-width="0.6"/>
<line x1="36.9" y1="501.8" x2="38.5" y2="501.8" stroke="#000" stroke-width="0.6"/>
<line x1="36.9" y1="505" x2="38.5" y2="505" stroke="#000" stroke-width="0.6"/>
<text x="33.1" y="420.9" font-size="6.9" text-anchor="end" fill="#222">10<tspan font-size="4.7" dy="-2.6">5</tspan></text>
<text x="33.1" y="443.5" font-size="6.9" text-anchor="end" fill="#222">10<tspan font-size="4.7" dy="-2.6">4</tspan></text>
<text x="33.1" y="466.7" font-size="6.9" text-anchor="end" fill="#222">10<tspan font-size="4.7" dy="-2.6">3</tspan></text>
<text x="30.7" y="495.7" font-size="7.2" text-anchor="end">0</text>
<line x1="40.5" y1="506.3" x2="40.5" y2="508.7" stroke="#000" stroke-width="0.7"/>
<line x1="44.1" y1="506.3" x2="44.1" y2="507.7" stroke="#000" stroke-width="0.7"/>
<line x1="47.6" y1="506.3" x2="47.6" y2="507.7" stroke="#000" stroke-width="0.7"/>
<line x1="51.2" y1="506.3" x2="51.2" y2="507.7" stroke="#000" stroke-width="0.7"/>
<line x1="54.7" y1="506.3" x2="54.7" y2="507.7" stroke="#000" stroke-width="0.7"/>
<line x1="58.3" y1="506.3" x2="58.3" y2="508.7" stroke="#000" stroke-width="0.7"/>
<line x1="61.8" y1="506.3" x2="61.8" y2="507.7" stroke="#000" stroke-width="0.7"/>
<line x1="65.4" y1="506.3" x2="65.4" y2="507.7" stroke="#000" stroke-width="0.7"/>
<line x1="68.9" y1="506.3" x2="68.9" y2="507.7" stroke="#000" stroke-width="0.7"/>
<line x1="72.5" y1="506.3" x2="72.5" y2="507.7" stroke="#000" stroke-width="0.7"/>
<line x1="76.1" y1="506.3" x2="76.1" y2="508.7" stroke="#000" stroke-width="0.7"/>
<line x1="79.6" y1="506.3" x2="79.6" y2="507.7" stroke="#000" stroke-width="0.7"/>
<line x1="83.2" y1="506.3" x2="83.2" y2="507.7" stroke="#000" stroke-width="0.7"/>
<line x1="86.7" y1="506.3" x2="86.7" y2="507.7" stroke="#000" stroke-width="0.7"/>
<line x1="90.3" y1="506.3" x2="90.3" y2="507.7" stroke="#000" stroke-width="0.7"/>
<line x1="93.8" y1="506.3" x2="93.8" y2="508.7" stroke="#000" stroke-width="0.7"/>
<line x1="97.4" y1="506.3" x2="97.4" y2="507.7" stroke="#000" stroke-width="0.7"/>
<line x1="101" y1="506.3" x2="101" y2="507.7" stroke="#000" stroke-width="0.7"/>
<line x1="104.5" y1="506.3" x2="104.5" y2="507.7" stroke="#000" stroke-width="0.7"/>
<line x1="108.1" y1="506.3" x2="108.1" y2="507.7" stroke="#000" stroke-width="0.7"/>
<line x1="111.6" y1="506.3" x2="111.6" y2="508.7" stroke="#000" stroke-width="0.7"/>
<line x1="115.2" y1="506.3" x2="115.2" y2="507.7" stroke="#000" stroke-width="0.7"/>
<line x1="118.7" y1="506.3" x2="118.7" y2="507.7" stroke="#000" stroke-width="0.7"/>
<line x1="122.3" y1="506.3" x2="122.3" y2="507.7" stroke="#000" stroke-width="0.7"/>
<line x1="125.8" y1="506.3" x2="125.8" y2="507.7" stroke="#000" stroke-width="0.7"/>
<line x1="129.4" y1="506.3" x2="129.4" y2="508.7" stroke="#000" stroke-width="0.7"/>
<text x="38.3" y="519.6" font-size="7" text-anchor="middle" textLength="4" lengthAdjust="spacingAndGlyphs">0</text>
<text x="56" y="519.6" font-size="7" text-anchor="middle" textLength="10.8" lengthAdjust="spacingAndGlyphs">50K</text>
<text x="74.7" y="519.6" font-size="7" text-anchor="middle" textLength="14.8" lengthAdjust="spacingAndGlyphs">100K</text>
<text x="91.1" y="519.6" font-size="7" text-anchor="middle" textLength="14.3" lengthAdjust="spacingAndGlyphs">150K</text>
<text x="108.4" y="519.6" font-size="7" text-anchor="middle" textLength="14.8" lengthAdjust="spacingAndGlyphs">200K</text>
<text x="125.9" y="519.6" font-size="7" text-anchor="middle" textLength="14.8" lengthAdjust="spacingAndGlyphs">250K</text>
<line x1="13.1" y1="477.2" x2="13.1" y2="529.9" stroke="#000" stroke-width="1.3"/>
<line x1="12.4" y1="529.3" x2="71" y2="529.3" stroke="#000" stroke-width="1.3"/>
<path d="M13.1 472.2L9.6 478.5L16.6 478.5z" fill="#000"/>
<path d="M76 529.3L69.7 525.9L69.7 532.7z" fill="#000"/>
<text x="78.6" y="532.7" font-size="8.6" textLength="12.4" lengthAdjust="spacingAndGlyphs">FSC</text>
<text x="12.7" y="460" font-size="8.2" text-anchor="middle" textLength="19.7" lengthAdjust="spacingAndGlyphs" transform="rotate(-90 12.7 457)">GZMB</text>
<text x="181.2" y="403.4" font-size="9.6" textLength="53.8" lengthAdjust="spacingAndGlyphs">CD8<tspan font-size="6.3" dy="-3.5">+</tspan><tspan dy="3.5"> T-cells</tspan></text>
<ellipse cx="173" cy="434" rx="10.8" ry="17.6" fill="#000"/>
<ellipse cx="170.8" cy="488.3" rx="7.6" ry="11.8" fill="#000"/>
<path d="M166 450C169 448 174 448 177 451C178 458 177 466 175 476L166 476Z" fill="#000"/>
<path d="M187 409.7h0m6.9 4.2h0m-10-.1h0m-17.6 .4h0m2.3 2h0m1.9-.1h0m1.6-.4h0m2.4 1.1h0m.3-2.5h0m3.3 2.5h0m.9-1.9h0m3.2 1.3h0m2.8-1.7h0m5 1.7h0m1.9 2.1h0m-11.1 1.4h0m-.7-1.4h0m-1.9 .8h0m-.5-1.5h0m-.4 1.8h0m-.2-.6h0m-1.2 .6h0m-2.3-.5h0m-4 .9h0m-.1-.1h0m-.8-.6h0m-.4-1.4h0m-.1 1.1h0m-.9-.5h0m-.4 0h0m-.9 .1h0m-.4 .9h0m-.9-1.8h0m-.5 3.6h0m1.8-.2h0m1-.2h0m.6 .9h0m1.2 1.1h0m0-.2h0m.8 .3h0m.3-.1h0m0-.7h0m.6-1.9h0m1 2.4h0m.9-.4h0m1.1 0h0m.6-1.4h0m1.1 1h0m.2-1h0m.5 2h0m.2-.1h0m.7 .2h0m0-.7h0m.5-1.7h0m.1 2.3h0m0-.6h0m.1-.1h0m6.2-.1h0m6.3 1.6h0m-2.8 .7h0m-3.6-.8h0m-.5 1.1h0m-.6 .6h0m0 .3h0m-1.1-2.2h0m-1 2.4h0m-.5-1.7h0m-.3 2h0m0-1.6h0m-.2-.9h0m-.2-.2h0m-.1 .7h0m-.4 .9h0m-.2 .7h0m-.3-1.3h0m-.1 .5h0m-.3 1.3h0m-.3-.5h0m-.3-2.3h0m0 1.5h0m-.5-1.5h0m-.3 2.1h0m-1-.9h0m-.6 0h0m-.5-.1h0m-.1-.6h0m-.9-.2h0m-.5 1.7h0m-.2 .5h0m-.1-.5h0m-.4-1.8h0m-.6 1.8h0m-.1-.3h0m-.4 .4h0m-.5 0h0m-.1-.2h0m-.2-.1h0m-.9 .4h0m-.8-1.2h0m-.1-.5h0m-.2-.1h0m-.1 1.3h0m-.3 .4h0m-.1-.8h0m-1 1h0m-.2 .5h0m-.9-.2h0m-1.3-2.4h0m-.2-.1h0m-.2 .5h0m-.4 .5h0m-.2 4.6h0m.5-1.5h0m1.5 .8h0m.8 .7h0m.5-2.1h0m.1 .8h0m0-1.4h0m1.1 1.1h0m.3-.1h0m.1-.8h0m.5 2.2h0m.2-.4h0m.2 .7h0m0-1.8h0m.5 0h0m.2 .5h0m.1 1h0m.6-1.7h0m0 2.1h0m.5-1.5h0m.2 1.4h0m0-1.5h0m1.2 1.5h0m.3 .1h0m.1-2.3h0m.1 1h0m.1 1h0m.1 .1h0m.2-1h0m0-1.5h0m.7 2.6h0m.1-.5h0m.2-1.2h0m.6 .2h0m0 .5h0m.2-.7h0m.3-.9h0m.2 1.5h0m.8-1.8h0m.4 1.9h0m.1 .7h0m0-2h0m.1 1.4h0m.1 .6h0m.9-2.5h0m.1 .3h0m.5 0h0m.2-.3h0m.7 2.3h0m.2 .1h0m.7-1.2h0m.5-.8h0m1 1.3h0m.6 0h0m.2-1.5h0m.3 0h0m.7 1h0m.3-1.2h0m.4 .1h0m1.5 1.1h0m2.4 .8h0m.1 .6h0m3-1.9h0m-1 4.8h0m-1-1.1h0m-.8-1.3h0m-.1 2.6h0m-.7-2.3h0m-.3 1.6h0m-2.6-.4h0m-.8 .4h0m-.1-.9h0m-1.4-.6h0m-.2 .3h0m0 1.7h0m-.4 .4h0m-.4-1h0m0-1.5h0m-.1 1.2h0m-.6 .7h0m-.1-.5h0m-.6-.9h0m-.1 1.4h0m0-.4h0m-.2 .4h0m-.4 .1h0m-.1-1.3h0m0-.5h0m-.1 .1h0m-.2 0h0m-.1-.4h0m-.2 1.2h0m0 0h0m-.4 .6h0m-.2-.5h0m-.4-.3h0m-.4-1.1h0m-.1 .9h0m-.1-1.1h0m-.1 .8h0m-.4 1.8h0m-.1-.2h0m-.1-1.8h0m-.2 .8h0m0-.9h0m-.3 .5h0m-.2 .3h0m-.3-.7h0m-.1 1.4h0m-.1-1.1h0m0 .3h0m-.1-1.3h0m-.1 2h0m-.6-1.3h0m0-.3h0m-.1 2.3h0m-.3-1.1h0m-.1-1h0m-.4 .6h0m-.2 1.1h0m0 .6h0m-.1-1h0m-.3 .2h0m0-2h0m-.4 2.6h0m0-2.1h0m0-.5h0m-.3 .6h0m-.1-.4h0m-.2 1.7h0m-.2 .2h0m-.1-.3h0m0-.3h0m-.2-1.2h0m-.1 .8h0m-.5-1h0m-.3 1.8h0m-.6-.9h0m-.2-.3h0m-.1 1.8h0m-.5-2h0m-.1-.4h0m0 2.2h0m-.9-1.2h0m-.8 1.4h0m-.2-2.4h0m0 .9h0m-.5 1.7h0m-.8-1.2h0m-.5-.9h0m-.6 1.1h0m-1.1 1.1h0m-.3-2.1h0m1.3 4.4h0m1.2 .6h0m.3-1.6h0m0 .3h0m.3 .5h0m.3-1.6h0m.7 .5h0m0 1h0m.6 1h0m.6-.8h0m0 .7h0m0-1.7h0m.2 1.4h0m.3-2.1h0m.2 .9h0m.3 1h0m0 .6h0m.1-2h0m.2 1.2h0m.3-1.2h0m.2-.8h0m.3 2.8h0m.1-.2h0m0-.7h0m.1-1.7h0m0 2.4h0m.3-.5h0m0-1h0m.1 1.6h0m.1-1.1h0m.1-.8h0m.2 .8h0m.1-1.3h0m.2 2.3h0m.1-1h0m.6-.2h0m.5-1.4h0m.1 1.3h0m.1-1h0m0 0h0m0 .3h0m.2 2.1h0m0-.9h0m.1 .7h0m1.2-.9h0m.1-.4h0m.2 .6h0m.1-.2h0m0 0h0m.3-1h0m.3-.5h0m0 1.7h0m.2-.6h0m.2-.3h0m.2-.9h0m0 1.8h0m.2-.1h0m0 1.1h0m0-1.1h0m.6 .9h0m.2-1.2h0m0 .7h0m.4-.5h0m0-1.5h0m.3-.1h0m.1 2.4h0m.9-1.7h0m.1 1.8h0m0 .2h0m.4-2.5h0m0 .6h0m.9-.9h0m.2 1.3h0m.6-1h0m.6 .8h0m.3-1h0m.2 2.8h0m.6-1.4h0m.8 .9h0m.1 .1h0m0-.7h0m.1-1.6h0m1.3-.2h0m.1 2.1h0m.6 .1h0m2.2-.3h0m.1-.6h0m1.5 3.3h0m-2.3 .9h0m-.6-2.3h0m-.1 2.8h0m-1-1.2h0m-1.5-1h0m-.3 .7h0m-.5 1.3h0m0-.3h0m-.3-.2h0m-.4 0h0m-.3-2.1h0m-.1 1.2h0m-.1 .9h0m0-1.9h0m-.2 2.3h0m-.1-.6h0m-.2 .7h0m-.5-.4h0m-1-.6h0m-.4 .1h0m-.4 .4h0m-.7-1.3h0m0 .7h0m-.3-1h0m-.1 .4h0m-.6 .7h0m-.1 1.2h0m0-.9h0m-.4-.6h0m-.1 .2h0m-.4 .1h0m-.1 0h0m0-.4h0m0 1.1h0m-.4-1.6h0m-.1 1.1h0m-.1-.3h0m0-1.1h0m-.4 .7h0m-.2 1.3h0m-.2 .2h0m0-1.5h0m0 .7h0m-.3-1.5h0m-.3 .1h0m-.1-.1h0m0 .9h0m-.3 0h0m0 .1h0m-.5-.3h0m-.3 .6h0m-.1-1.7h0m-.1 2.1h0m0-1.5h0m-.7-.5h0m-.2 1.3h0m-.1 .4h0m-.2-1.3h0m-.1 .3h0m-.2 2.1h0m-.1-.2h0m-.9 0h0m-.3-2.5h0m-.1 1h0m-.4-.5h0m-.3 .5h0m0-1.1h0m-.2 1.8h0m-.1 .3h0m-.5-.9h0m-.2-.1h0m-.1 1.1h0m0-.4h0m-.1-.6h0m-1.2 1.1h0m-.1-2.2h0m-.4 2.6h0m-1.6-2.8h0m0-.1h0m-1.2 2.6h0m-.1 0h0m-.1-.9h0m-.9 3.1h0m1.6-1.4h0m.1 0h0m.6 2.4h0m1.1-.7h0m.6 .3h0m.1-1.5h0m.2-.9h0m.2 .7h0m0 .1h0m.3 .8h0m0-1.2h0m.6 1h0m.6-.4h0m.3 .1h0m0 .2h0m.2 .1h0m.1 1h0m.1 .3h0m.4-2.3h0m.4 1h0m0-.5h0m.1 1.6h0m.4-.3h0m0 .6h0m.3-1.4h0m.1-.5h0m0-.1h0m.1 .8h0m0-1h0m.1 1.8h0m.1-1.5h0m0-.6h0m0 2.4h0m.1-1h0m.1-1.7h0m.4 1h0m.7 1.6h0m.1-.1h0m.2-1.7h0m.5-.2h0m.2 .3h0m.1-.8h0m.3 1.9h0m.7 .6h0m.2-1.8h0m.2 1h0m.3-1h0m.3 1.2h0m.7-.9h0m.2 .7h0m.1-.8h0m0 1.2h0m.5-.9h0m.2-.4h0m.1 1.1h0m.9-1.7h0m.3 .6h0m.1 1.6h0m.1 .2h0m.2-1.7h0m.1 .3h0m.1 .2h0m.1 .7h0m.6-.6h0m.1-.7h0m.9 0h0m.3 .5h0m2.7 .6h0m1.3 .2h0m6.3 3.3h0m-1.2 .3h0m-2.8-.8h0m-.9 .2h0m-.8-.9h0m-2.2-.9h0m-1 1.1h0m-.7 1.3h0m0-1.7h0m-.3 1.3h0m-.1-1.8h0m-.1 1.1h0m-.4 .9h0m-.8-.9h0m-.6-1.6h0m-.2 .7h0m-.1 1.1h0m0-.3h0m-.3-1.1h0m-.6 2.3h0m-.2-2.1h0m-.3-.6h0m-.1 1.5h0m-.1-.3h0m-.2-.4h0m-.4 .2h0m-.4 .8h0m-.1 .5h0m-.1-1.7h0m0-.3h0m-.6-.3h0m-.4 .3h0m-.2 2.3h0m0-.2h0m-.2 .5h0m-.4-1.1h0m-.1-.5h0m-.5 1.2h0m0-1.8h0m-.5-.5h0m-.2 1.9h0m0-1.4h0m-.4-.1h0m-1.2 .4h0m-.2-.3h0m-.2-.5h0m0 .2h0m-1 2.4h0m-.6-1.7h0m-.4 .9h0m-.1-1.5h0m-.1 1.8h0m-.1-1.7h0m-.3 1.1h0m-.5-.7h0m0-.8h0m-1.1 .8h0m-.2-.2h0m-1.1 .1h0m-.2 1.5h0m-.2-2h0m-.1 .2h0m-1-.7h0m0 2.4h0m-.1-.6h0m-.3 1h0m-.7 2.4h0m.3-2h0m.1 1.3h0m.9-1.5h0m.4 .2h0m.2 1.9h0m0-1.9h0m0 2.6h0m1.7-2h0m.1 .3h0m.1-.2h0m.2-.7h0m0 1.3h0m1-.8h0m.3 1h0m.8 1.2h0m.4-1.8h0m.8-.2h0m0-.5h0m0 .4h0m.8-.3h0m.5 1.6h0m.4-1.7h0m0 1.3h0m.1 .5h0m.3-.3h0m.9-.5h0m1.2-1.1h0m.1-.3h0m.9 1.6h0m.2 1.2h0m0-1.2h0m.7 .6h0m.2-.5h0m.3-1.1h0m.6 .3h0m.4-.9h0m0 .6h0m.5-.2h0m.6 2.2h0m.5-1.4h0m1.2-1.1h0m.3 .9h0m2.4 1.7h0m.2-1.1h0m.9-.1h0m1.7 .9h0m5.6-.6h0m-6 1.4h0m-.2 2.6h0m-1.5-1.6h0m-5.7-.5h0m-.9 .3h0m-.2-.9h0m0 2.1h0m-.3 .5h0m-.8-2.2h0m-1.8-.3h0m-.1 .5h0m-.2-.1h0m-.3 2.1h0m-1.1 .2h0m-.3-2h0m-.1 1.9h0m0-1.2h0m-.5-1.3h0m0 1h0m-.2-.8h0m-.1 1.7h0m-.2-2.2h0m-.4 1.5h0m0 1.2h0m-.2-2.4h0m-.1 .8h0m-.1 1h0m0-.8h0m0-1.1h0m-.4 1.2h0m-.1-1.3h0m-.5 .4h0m-.1 2.5h0m-.2-.3h0m-.4 .2h0m-.1-.3h0m-.1-1.4h0m-.1 .5h0m-.1 .5h0m-.3 .4h0m-.3-.8h0m-.2-1.4h0m-.4 1.7h0m-.5 .2h0m0-1.7h0m-.1 1.5h0m-.3-1.1h0m-.7-.2h0m-.4 1.9h0m0-.6h0m0-.8h0m-.5 .2h0m-.3 0h0m-.4 1.3h0m-.6-.5h0m-1.2 .3h0m1.5 .9h0m.4 2.2h0m1.2-1.9h0m.1 .4h0m.5 1.4h0m1.1-.1h0m.2-2.4h0m0 1.3h0m.5 .2h0m.2-.7h0m.1 2h0m.5-1.3h0m.3 .9h0m.3-.1h0m0-.1h0m.3 .1h0m.4-1.1h0m.6-1.2h0m.5 1.1h0m.4 1.4h0m.3-1.4h0m0-1.1h0m.8 1.1h0m0-.3h0m.5 .5h0m.1-.3h0m0 .6h0m.3 .1h0m0 0h0m.6-.4h0m0 1.5h0m.4-.6h0m.1 .6h0m1.3-1.9h0m.5 1.7h0m0 .2h0m.9-2.8h0m.9 1.6h0m.3-.3h0m.5 1.1h0m.1-1.5h0m.5-.9h0m.4 1.4h0m1.8 .8h0m1.9-1.8h0m2.3-.5h0m3.5 5.1h0m-.6-.8h0m-.6-.3h0m-5.7 0h0m-.5-1h0m-3 .2h0m-.1 2.6h0m-.3-1.7h0m-.4 .5h0m-.3-1.3h0m-.4-.2h0m-.5 2.7h0m-.5-2.3h0m-1 2.1h0m-.3-.5h0m-.1 .1h0m-.4-.5h0m-.1-.6h0m-.5-.1h0m-.3 1.1h0m-.6-.6h0m-.2-1h0m-.1 .1h0m-.1 1.6h0m-.1-.1h0m-.2-.5h0m-.1 .6h0m-.4-.5h0m-.2 .2h0m-.1 .4h0m-.3-.3h0m-.2-.6h0m-.4 .1h0m-.3-.5h0m-.2 .6h0m0 .9h0m-.2-.2h0m-.2-.9h0m-.3 .9h0m-.4 .2h0m-.5-.7h0m0-1.1h0m-.5-.1h0m-.2 .2h0m0 2h0m-.3-2.1h0m0 .4h0m-.5-.7h0m-.1 2h0m-.4-.9h0m-.8-1.2h0m-.1 2.3h0m-.2-1.3h0m-.1 .6h0m-1.3-.6h0m-.3 1.5h0m0-1.1h0m-.2-.2h0m-.6 1.1h0m-.4-1.8h0m-.1 .9h0m-.2 .8h0m.2 1.7h0m.3-.1h0m1-.7h0m.4 .4h0m.1 0h0m.3 .4h0m.2-.2h0m.8 1.8h0m.2-.1h0m.1-2.1h0m0 1.9h0m.1-.3h0m.3-.4h0m0 .6h0m.1-.2h0m.1-.9h0m0 1.3h0m0-1.3h0m.1 1.4h0m.1-2.2h0m.3 .3h0m.1-.6h0m.1 1.7h0m.1-.1h0m.1-.2h0m.9 .2h0m.1-.7h0m.5-.1h0m.1-.3h0m.1 .9h0m.1-.5h0m.1 1.1h0m.1 .3h0m.1-2.4h0m.1 1.1h0m.3 1.1h0m.1-1h0m0-1.3h0m.1 2.1h0m.4-1.3h0m.3-.3h0m.4 1.9h0m.2-1.9h0m.1 2.3h0m.4-.2h0m.2-2.4h0m.1 2.1h0m.7 .6h0m0-1.4h0m.3 .8h0m.1 .2h0m0-.5h0m.1-.4h0m.1-.5h0m.2 .5h0m.1-.7h0m0 1.9h0m.1-2.3h0m.1 1.5h0m0 .8h0m.2-.7h0m.8 .8h0m.1-.7h0m.4 .5h0m.7-1.1h0m.6 1.2h0m.2-.8h0m.5-1.3h0m.3-.5h0m1.5 1.7h0m.4-1.6h0m2.7 1.1h0m.2-1h0m2 .3h0m5.5-.4h0m2.2 .4h0m-12.6 2.9h0m-.1 1.9h0m-.1-2.5h0m-.2 1.1h0m-.1 .5h0m-.6-.5h0m-.3 0h0m-.1 1h0m-.5-.4h0m-.5-1.6h0m-1.3 1h0m-.5 1.9h0m0-.9h0m-.2 .8h0m0-.3h0m-.4-1.4h0m-.1 .7h0m-.1 .2h0m-.2-.4h0m-.1-.3h0m-.4-1h0m-.1 1.1h0m0-.6h0m-.4 2h0m-.3-2.2h0m0 1.5h0m-.4-.3h0m-.1-.8h0m-.1-.9h0m-.1 1.6h0m-.1-1.4h0m0 1.9h0m-.3-2.1h0m-.4 .1h0m-.1 2.1h0m0-.7h0m-.1-1.3h0m0 1.1h0m-.1 .4h0m0-.3h0m0 .9h0m-.1-.5h0m0 .1h0m-.2-1.1h0m-.4 .8h0m-.1-1.4h0m0 1.4h0m0 1.1h0m-.2-.3h0m-.1-1.7h0m-.1 .3h0m0 1.4h0m0-.9h0m-.1 .2h0m-.4-1.3h0m-.1 1.4h0m-.1 0h0m-.2-1.8h0m-.1 .3h0m-.1 2.4h0m-.1-1.8h0m-.1-.5h0m-.1 .5h0m0 .9h0m-.1-.8h0m-.2-1h0m-.1 2.5h0m-.1-1h0m0 .3h0m-.1-1.8h0m-.1 1.8h0m-.1-1h0m-.1 1.1h0m-.1-.6h0m-.1 1h0m0-2.3h0m0 .3h0m-.1 2h0m-.3 .2h0m0-.9h0m0 .9h0m-.2-.5h0m0-1.3h0m-.3 1.2h0m-.3-1.6h0m-.1 1.6h0m0-.4h0m0 .8h0m-.1-2.2h0m-.3 .7h0m-.2 1.3h0m0-1.1h0m0 1.5h0m-.3-1.6h0m0 .1h0m-.1-.3h0m-.3 1h0m-.5 1.1h0m-.1-.3h0m-1.9-.1h0m-.1-2.5h0m-.2 .7h0m0 3.7h0m.2 .3h0m.3-.6h0m.2-1.1h0m.2 1h0m.1 .2h0m.1 .5h0m.1 .4h0m0-2h0m.5 1.1h0m.5 .3h0m.1 1.3h0m.4-1.5h0m.4 1.5h0m.1-.1h0m0-.5h0m0-1h0m.1 1h0m0-2.1h0m.1 1.6h0m.7-1.4h0m.3 1.2h0m.2-.1h0m.2-1.3h0m.1 1.2h0m0-.7h0m.1 .8h0m.1 .9h0m.3 .5h0m.1-1h0m.2-1h0m0 1.3h0m.1 .3h0m.1-.4h0m.1 .6h0m.2-.6h0m.1-1.8h0m.2 .6h0m.1 1.8h0m.1-2.4h0m0 1.1h0m0 1h0m.1-.7h0m.5 .9h0m.4-.7h0m.1-.7h0m0 1h0m.1-.6h0m0-1.2h0m.3 0h0m.2 2.4h0m.1-.2h0m0-2.4h0m.2-.2h0m.1 1.3h0m.5 .3h0m.2 .4h0m.2-1.5h0m0 .3h0m.1-.7h0m0 2.2h0m.1 .4h0m.1-1.8h0m.1 1.2h0m.1-1.2h0m.1 .1h0m.2 1.7h0m0-.1h0m.4-1.5h0m0 0h0m.1-.3h0m.1 .2h0m.4-.3h0m.1 .2h0m0 .7h0m0-.2h0m0-.9h0m.3 1.8h0m.2-.5h0m.2 0h0m.3-.5h0m1.2 0h0m.1-.7h0m1.8 .6h0m0-1h0m.1 1.1h0m.1 0h0m.8 0h0m.1 .2h0m.1-.8h0m.4 .6h0m.3 .3h0m.1 1.1h0m.6-1.9h0m.3 .1h0m7.9 1.6h0m.7-1.2h0m-5.7 2.8h0m-1.3 1.8h0m-.9-2.3h0m-.6 1.2h0m-2.1 .8h0m-.8-2.1h0m0 1.7h0m-.5-1.3h0m-.2 .2h0m-.1 .5h0m-.7 .2h0m-.2-1.7h0m-.3 1.8h0m0 1h0m0-1.7h0m-.2 .9h0m-.4-.3h0m-.7-1.5h0m-.2 2.4h0m-.5-2.5h0m-.1 1.7h0m-.3-1.8h0m-.2 .8h0m-.2 .4h0m-.3 1h0m0-2h0m-.2 1.2h0m-.1-.4h0m0 .9h0m-.3 .6h0m0-2.3h0m-.1 .6h0m-.1 1h0m0-1.6h0m0 0h0m0 1.7h0m-.1-.7h0m-.1-.4h0m-.1-.3h0m-.1 1.7h0m-.3-1.5h0m-.2 1.1h0m0 .5h0m0-.2h0m-.1-1.4h0m0-.7h0m0 1.5h0m-.1 1.3h0m-.2-.1h0m0 0h0m0-1.8h0m-.1 1.5h0m-.1-1.1h0m-.1-.9h0m0-.3h0m-.1 2.1h0m0-2.2h0m-.1 1.9h0m0-1.9h0m-.1 .8h0m0 .6h0m-.1-1h0m0 .6h0m-.5 .9h0m-.1 .3h0m0-.5h0m-.3-1.7h0m-.1-.1h0m-.1 1.1h0m0-.7h0m-.4 1.6h0m-.1-.5h0m-.3-.4h0m-.1 .1h0m-.2-.6h0m-.1 .5h0m0-.1h0m-.2-.5h0m-.1-.3h0m-.2 2h0m0-.9h0m-.3 1h0m-.1 .1h0m0-.9h0m-.2 1.5h0m-.2 0h0m0-3h0m-.1 .1h0m-.1 0h0m-.1 1h0m0-.8h0m-.4 1.3h0m-.6 .3h0m-.2-.9h0m-.1 .8h0m-.1 .8h0m-.2 .3h0m-1-1.8h0m-.5 1.2h0m-.3-1.9h0m-.3-.2h0m-.3 1.1h0m.2 2h0m.5 2.5h0m.4-1.4h0m.2 .3h0m.1-.8h0m0-.5h0m.1 1.9h0m0 .2h0m.1-1.3h0m.3 .9h0m.2-1.1h0m.1 .5h0m.3 .2h0m.4-.3h0m0 .9h0m.1-1.9h0m.1 2.1h0m.5 .3h0m.1-1.4h0m0 1h0m.1-2.4h0m.1 2h0m.1-1.1h0m.2 1.2h0m.1 .2h0m.1-1.7h0m.3 1.1h0m.1-1.5h0m0 .6h0m.3 .5h0m.1-.3h0m0 .5h0m.3-.1h0m.1 1.3h0m0-.1h0m0-.2h0m.1-.8h0m.2 .4h0m0-1.2h0m.4 1.8h0m.1-2h0m0 1.5h0m.4-.6h0m0 .9h0m.3-1.7h0m0 .5h0m.1-.4h0m0 .1h0m0-.7h0m.1 1.2h0m.1 .6h0m0-.3h0m.4-1.3h0m0 1.2h0m.6 .1h0m.7-1.3h0m0 1.6h0m0 .6h0m.2-1.2h0m.1 .6h0m.2-.8h0m.3-.2h0m.1 1.2h0m.1-1.9h0m1.2 1.4h0m0-.5h0m.7 1.3h0m.1-2h0m0-.4h0m0 .9h0m.5 1.6h0m.1-.5h0m1-1.9h0m0 1.2h0m.6-.3h0m.2-.4h0m.4 1.9h0m.1 .2h0m.1-2.5h0m.1 .5h0m15.6 3.7h0m-5-1.1h0m-7.3 .4h0m-1.6 .2h0m-1.6 .9h0m-.1 1h0m-1.9-2.8h0m-.7 1.5h0m-.5-1.2h0m-.1-.1h0m-1-.3h0m-.2 .5h0m-.2 .5h0m-1.2-.7h0m-.2 .6h0m0 2h0m-.2-1.7h0m-.4 .8h0m0-1h0m-.1-.7h0m-.1 1.9h0m-.1 .4h0m-.1-.1h0m0-1.9h0m-.3 1.5h0m0-.8h0m-.6-.2h0m0 1.5h0m-.3-.4h0m-.1 .2h0m-.1-1.3h0m-.3 1.5h0m-.1-2.2h0m-.3 .6h0m-.1-.2h0m-.2 2h0m-.7-2h0m-.3 1.2h0m-.3 .8h0m0-2.4h0m-.1 .4h0m-.1-.5h0m-.6 1.5h0m-.1-.7h0m-.1 .8h0m-.5-.1h0m-.1 .7h0m-.4-.4h0m0 .7h0m-.1-1.5h0m0 .8h0m-.1-1.2h0m-.4 .9h0m-.1-1.7h0m-.2 .3h0m-.1 2h0m0-.5h0m-.6-1.7h0m-.8 .6h0m1.7 4.7h0m.4-1.3h0m.5-1.2h0m.1 1h0m.6-.3h0m.1 2.2h0m.5-1.9h0m.3 1.4h0m.1-.8h0m0-.8h0m.6 2.1h0m0-.4h0m0 .4h0m.1-.4h0m0-1.3h0m.1-.9h0m.2 0h0m.5 .7h0m.9 .1h0m.2 1h0m.5 .7h0m.3-2h0m.4-.4h0m0-.1h0m.2 .4h0m.1 .5h0m.1-.1h0m.2-.5h0m0 .3h0m.5 .7h0m.1-.7h0m.2-.2h0m.5 1.3h0m.3 .8h0m.1-.6h0m0 .6h0m.4-2.2h0m.1 1.3h0m.3-1.6h0m.5 1.4h0m.1 .1h0m.1-1.4h0m.2 1.1h0m3.5-1.2h0m.3 1.4h0m4.5 .7h0m.6-2.3h0m-2.6 5.5h0m-2.1-1h0m-.6-.2h0m-.2 1.2h0m-.8-.2h0m-.4-1.3h0m-.3-.1h0m-.1 1.6h0m-.4-2h0m-.6 2.4h0m0-1.9h0m-.6 1.8h0m-.1-2.3h0m-1 2h0m-.4 .3h0m0 0h0m-.1-.1h0m0-1.1h0m-.2 .4h0m-.5 .2h0m-.1-.2h0m0 .6h0m-.5-2.2h0m-.2 1h0m-.6-1.3h0m-.1 1.7h0m-.4-.3h0m0 0h0m-.2 .9h0m-.4-2h0m-.1-.2h0m-.1 1.9h0m0-1.1h0m-.1 .8h0m-.3 1.1h0m-.6-1.4h0m-.4-1.3h0m0 1.9h0m-.6-1.3h0m-.5 .9h0m0 .5h0m-1.1 .1h0m-.8-2.2h0m-.8 2.7h0m0-.8h0m-.5 .6h0m-.3-.8h0m-.8 .5h0m1.2 1.7h0m.8 0h0m.1 .8h0m.8-.1h0m.5 1h0m0-2.2h0m.2 1.5h0m.3-1.3h0m0-.1h0m.6 1.4h0m.5-1.4h0m.1 1.8h0m.2 .2h0m.1-1.5h0m0-.8h0m0 .9h0m.3 .1h0m.1 .7h0m.1-.5h0m.1-.3h0m0-.6h0m0-.4h0m1 2.7h0m.1-2.2h0m.1 2h0m.9-1.3h0m.7 .9h0m.3-1.9h0m0 1.1h0m.7 1.2h0m.2-.9h0m.4-1.3h0m.1-.4h0m.8 .9h0m0 1.6h0m0-1.5h0m.1 .6h0m.4-1h0m.1-.7h0m.3 1.3h0m2-.9h0m.8 1.9h0m.3-1.2h0m0 1.1h0m.2 .1h0m.2-1.8h0m2.3-.4h0m3.5 0h0m-4.9 4h0m-1.2 1.7h0m-.1-.5h0m-.7-.9h0m-.5-.3h0m-.7 1.4h0m-1.4-.8h0m-.1-.8h0m-.4 .8h0m-.4 .9h0m-.1-1.8h0m-.1 1.8h0m-.3-1.4h0m-.2 .9h0m-.1-1.5h0m0 1h0m-.1 .4h0m0-1.7h0m-.2 0h0m-.1 2.4h0m0 .2h0m0-.6h0m-.1-.5h0m-.2 .6h0m-.2-.7h0m-.1 .4h0m-.2 .5h0m-.5-1.7h0m0 .2h0m-.7 .6h0m0 .9h0m0-.8h0m-.2-.1h0m-.5-1.1h0m-.4 .5h0m-.4 .6h0m-.5 1.1h0m-.3 0h0m-.2-2.1h0m0 .5h0m-.5 1.5h0m0-.8h0m-.1 .5h0m-.1-2.1h0m-.3 1.4h0m-.1 .7h0m-.2-.7h0m-.2-1.3h0m-.2 1.3h0m0 .7h0m-.8-.2h0m-.3-2.2h0m-.3 1.5h0m-.8 .4h0m-.5-.4h0m-.6-1h0m0 .1h0m-.6 .7h0m-.3 .8h0m0 1.2h0m.1 2.1h0m0-.8h0m.8-1.7h0m.5 .9h0m.3 .9h0m1.2 .8h0m0 .2h0m.2 .2h0m0-.1h0m.1-2.4h0m.1 .7h0m.2 1.6h0m.2-1.1h0m0 1h0m.5-.5h0m0-1.4h0m.2 .2h0m1.2-.9h0m.2 .8h0m0 1.4h0m.3-1.4h0m.1-.8h0m.1 1.4h0m0 1.2h0m.1-1.8h0m.1-.6h0m.1 1.8h0m.1-.7h0m.1 1.3h0m0 .3h0m.1-.1h0m0-2.6h0m.1 .6h0m.2 1h0m.2-.5h0m.1 .8h0m.1-.7h0m.3-.5h0m.1 .3h0m.2-.5h0m.1-.1h0m.2 2h0m.1-1.6h0m.4-.5h0m.1 1.3h0m.6 .5h0m.7-.4h0m.7-1.9h0m.1 0h0m.5 1.9h0m.2-1.8h0m.2 2.1h0m0-1.5h0m.3 .1h0m.3-.5h0m.7 .3h0m2.4 2.2h0m1.5-1.9h0m.3 .4h0m0 1.1h0m.5-1.9h0m1.7 .6h0m2.2 3.7h0m-2.2-1.8h0m-2.1 .8h0m-2.7 1h0m-.8-.6h0m-.4-.5h0m0 2.1h0m-.2-1.5h0m-.4-.7h0m-1.6 2.2h0m-.1-.9h0m-.5-1.9h0m-.1 .1h0m-.1 2.4h0m-.3-1.1h0m-.1 .2h0m-.6-1.2h0m-.2 1.7h0m-.4-.1h0m-.1 .4h0m-.1-1.1h0m-.3 .4h0m0 .2h0m0 .6h0m-.5-2.3h0m-.1 .1h0m-.1 2.2h0m-.1-2h0m-.3-.1h0m-.2 .2h0m-.2 2.2h0m-.1-1.9h0m-.2 0h0m0 .8h0m0 .2h0m-.1 .2h0m-.1-1.9h0m-.3 .8h0m0-.7h0m-.3 .3h0m-.4 .7h0m-.4-.3h0m-.4 .7h0m-.2-1.5h0m-.1 2h0m-.1 .4h0m-.5-2.4h0m-.1 2.4h0m0-2.4h0m-.6 1.9h0m-.6-.9h0m0 .7h0m-.2 .1h0m-.1 .6h0m-.2-1.9h0m-1.2-.4h0m-.2 2.5h0m-.2-.7h0m-.6-.1h0m0 0h0m1 3.1h0m1.2-2.1h0m.7 1.3h0m.3 .2h0m.3 1.2h0m0-1.3h0m.1-.3h0m0 .6h0m.1 .7h0m.8-2.2h0m0 2.4h0m0-1.3h0m.3 .4h0m.2-.9h0m0 .7h0m.1-.9h0m.1 .7h0m.1 1.3h0m.1-.7h0m0-1.3h0m.3 1.5h0m0-1h0m0 .2h0m.2 0h0m0 .4h0m.1-.2h0m0-1.6h0m.1 .8h0m.1 1.4h0m.1 .1h0m.1 .2h0m0-2.3h0m0 .7h0m.1 .3h0m.1 1.4h0m.1-.7h0m0 .9h0m.1-2.4h0m.1 1.9h0m.6 .3h0m.2 .1h0m.1-.2h0m.1-1h0m0 1.3h0m.1-2.7h0m.1 1.2h0m.1-.8h0m.1 1.5h0m0-1.1h0m.1 .3h0m.1-.3h0m.1 .8h0m.1-1.4h0m.3 1.6h0m.9-1.9h0m.6 2.1h0m.1-.9h0m.2 1.8h0m0 0h0m.1-2.5h0m0 .5h0m1.1-.1h0m.3 1.3h0m.2-1.9h0m.1 1.2h0m.2-.4h0m0 1.8h0m.3-.4h0m.2-1.4h0m.2-1.1h0m.3 .9h0m1.2 2h0m1.5-1.6h0m.3 .9h0m2.9 1.7h0m-.9 1.7h0m-3.2-2.2h0m-.3 .6h0m0 1h0m-1-.4h0m-.5 .3h0m-1 .7h0m-.5-2.1h0m-.6 .7h0m-.6 .3h0m-.3-1.2h0m-.3 .7h0m-.3 1.8h0m-.4-2.6h0m-.3 2.4h0m-.1-1.6h0m0 1.2h0m0 .4h0m-.4-2.2h0m-.6 .4h0m-1.1 1.1h0m-.1-.7h0m-.2 .4h0m-.3 .5h0m-.7-1h0m-.2 1.3h0m-.2 .3h0m0-.3h0m-.2 .2h0m-.3-1.6h0m-.3-.9h0m0 1.4h0m-.4 .3h0m-.9 .2h0m0-1.5h0m-.2-.3h0m-.1 0h0m-.2 .5h0m-.3-.5h0m-.1 2.1h0m-.7-1.2h0m-.5 .7h0m-.2-.6h0m-1 1.4h0m-.4 2.7h0m.4-2h0m2 .3h0m1 .6h0m.7 .4h0m0-.2h0m.2 .2h0m.2-.4h0m.3 .7h0m.1-1.2h0m.7 .2h0m.2 1.3h0m.1 .8h0m.2-2.3h0m.1 1.6h0m0 .2h0m0-1.6h0m.3 .7h0m.1-1.5h0m.1 2.5h0m.2-1.2h0m.3 .3h0m.1-1.2h0m0 .6h0m.4-.2h0m.4 1.9h0m.6-2.1h0m.7 .1h0m.5 2.1h0m.3-.3h0m.5-.3h0m.7-.2h0m2-1.6h0m.1-.4h0m.6 1.4h0m.9-.4h0m.3 1h0m.2-.2h0m.1-1.7h0m.4 .3h0m.2 2.2h0m-2 3.1h0m-1.8-2.7h0m-.5 2.6h0m-1.8-2.6h0m-.2-.1h0m-.3 1.4h0m-1.6 .2h0m-1.4-.1h0m-.6-.7h0m-.2-.2h0m-.7 .4h0m-1.4-.2h0m-.7-.2h0m-.4 .1h0m-1.7 .4h0m1.9 2.6h0m1.6-.5h0m2.3 0h0m1.5 .1h0m.1-.1h0" stroke="#000" stroke-width="1.36" stroke-linecap="round"/>
<ellipse cx="173" cy="433.4" rx="8.8" ry="16.4" fill="#e0e0e0" stroke="#8a8a8a" stroke-width="0.45"/>
<ellipse cx="173" cy="433.4" rx="7.9" ry="14.8" fill="none" stroke="#8a8a8a" stroke-width="0.45"/>
<ellipse cx="173" cy="433.5" rx="7" ry="13.1" fill="none" stroke="#8a8a8a" stroke-width="0.45"/>
<ellipse cx="173" cy="433.5" rx="6.2" ry="11.5" fill="none" stroke="#8a8a8a" stroke-width="0.45"/>
<ellipse cx="173" cy="433.6" rx="5.3" ry="9.8" fill="none" stroke="#8a8a8a" stroke-width="0.45"/>
<ellipse cx="173" cy="433.6" rx="4.4" ry="8.2" fill="none" stroke="#8a8a8a" stroke-width="0.45"/>
<ellipse cx="173" cy="433.7" rx="3.5" ry="6.6" fill="none" stroke="#8a8a8a" stroke-width="0.45"/>
<ellipse cx="173" cy="433.8" rx="2.6" ry="4.9" fill="none" stroke="#8a8a8a" stroke-width="0.45"/>
<ellipse cx="173" cy="433.8" rx="1.8" ry="3.3" fill="none" stroke="#8a8a8a" stroke-width="0.45"/>
<ellipse cx="173" cy="433.8" rx=".9" ry="1.6" fill="none" stroke="#8a8a8a" stroke-width="0.45"/>
<ellipse cx="173.2" cy="433.8" rx="2.3" ry="3.4" fill="#fbfbfb"/>
<ellipse cx="170.7" cy="488.3" rx="5.8" ry="10" fill="#dcdcdc" stroke="#8a8a8a" stroke-width="0.45"/>
<ellipse cx="170.7" cy="488.3" rx="4.8" ry="8.3" fill="none" stroke="#8a8a8a" stroke-width="0.45"/>
<ellipse cx="170.7" cy="488.3" rx="3.9" ry="6.7" fill="none" stroke="#8a8a8a" stroke-width="0.45"/>
<ellipse cx="170.7" cy="488.3" rx="2.9" ry="5" fill="none" stroke="#8a8a8a" stroke-width="0.45"/>
<ellipse cx="170.7" cy="488.3" rx="1.9" ry="3.3" fill="none" stroke="#8a8a8a" stroke-width="0.45"/>
<ellipse cx="170.7" cy="488.3" rx="1" ry="1.7" fill="none" stroke="#8a8a8a" stroke-width="0.45"/>
<rect x="162.4" y="407.8" width="92.8" height="98.5" fill="none" stroke="#222" stroke-width="1.1"/>
<path d="M195.6 408V504.2H162.4M162.4 454H195.6" fill="none" stroke="#555" stroke-width="0.9"/>
<text x="202.5" y="434.9" font-size="7.4" textLength="21.3" lengthAdjust="spacingAndGlyphs">63.7%</text>
<text x="202.5" y="485" font-size="7.4" textLength="21.3" lengthAdjust="spacingAndGlyphs">36.0%</text>
<line x1="159.6" y1="418.4" x2="162.4" y2="418.4" stroke="#000" stroke-width="0.9"/>
<line x1="159.6" y1="441.1" x2="162.4" y2="441.1" stroke="#000" stroke-width="0.9"/>
<line x1="159.6" y1="464.3" x2="162.4" y2="464.3" stroke="#000" stroke-width="0.9"/>
<line x1="159.6" y1="493" x2="162.4" y2="493" stroke="#000" stroke-width="0.9"/>
<line x1="160.8" y1="434.3" x2="162.4" y2="434.3" stroke="#000" stroke-width="0.6"/>
<line x1="160.8" y1="430.3" x2="162.4" y2="430.3" stroke="#000" stroke-width="0.6"/>
<line x1="160.8" y1="427.4" x2="162.4" y2="427.4" stroke="#000" stroke-width="0.6"/>
<line x1="160.8" y1="425.2" x2="162.4" y2="425.2" stroke="#000" stroke-width="0.6"/>
<line x1="160.8" y1="423.4" x2="162.4" y2="423.4" stroke="#000" stroke-width="0.6"/>
<line x1="160.8" y1="421.9" x2="162.4" y2="421.9" stroke="#000" stroke-width="0.6"/>
<line x1="160.8" y1="420.6" x2="162.4" y2="420.6" stroke="#000" stroke-width="0.6"/>
<line x1="160.8" y1="419.4" x2="162.4" y2="419.4" stroke="#000" stroke-width="0.6"/>
<line x1="160.8" y1="457.3" x2="162.4" y2="457.3" stroke="#000" stroke-width="0.6"/>
<line x1="160.8" y1="453.2" x2="162.4" y2="453.2" stroke="#000" stroke-width="0.6"/>
<line x1="160.8" y1="450.3" x2="162.4" y2="450.3" stroke="#000" stroke-width="0.6"/>
<line x1="160.8" y1="448.1" x2="162.4" y2="448.1" stroke="#000" stroke-width="0.6"/>
<line x1="160.8" y1="446.2" x2="162.4" y2="446.2" stroke="#000" stroke-width="0.6"/>
<line x1="160.8" y1="444.7" x2="162.4" y2="444.7" stroke="#000" stroke-width="0.6"/>
<line x1="160.8" y1="443.3" x2="162.4" y2="443.3" stroke="#000" stroke-width="0.6"/>
<line x1="160.8" y1="442.2" x2="162.4" y2="442.2" stroke="#000" stroke-width="0.6"/>
<line x1="160.8" y1="471.3" x2="162.4" y2="471.3" stroke="#000" stroke-width="0.6"/>
<line x1="160.8" y1="475.4" x2="162.4" y2="475.4" stroke="#000" stroke-width="0.6"/>
<line x1="160.8" y1="478.3" x2="162.4" y2="478.3" stroke="#000" stroke-width="0.6"/>
<line x1="160.8" y1="480.5" x2="162.4" y2="480.5" stroke="#000" stroke-width="0.6"/>
<line x1="160.8" y1="482.4" x2="162.4" y2="482.4" stroke="#000" stroke-width="0.6"/>
<line x1="160.8" y1="483.9" x2="162.4" y2="483.9" stroke="#000" stroke-width="0.6"/>
<line x1="160.8" y1="485.3" x2="162.4" y2="485.3" stroke="#000" stroke-width="0.6"/>
<line x1="160.8" y1="486.4" x2="162.4" y2="486.4" stroke="#000" stroke-width="0.6"/>
<line x1="160.8" y1="467.3" x2="162.4" y2="467.3" stroke="#000" stroke-width="0.6"/>
<line x1="160.8" y1="470.5" x2="162.4" y2="470.5" stroke="#000" stroke-width="0.6"/>
<line x1="160.8" y1="473.7" x2="162.4" y2="473.7" stroke="#000" stroke-width="0.6"/>
<line x1="160.8" y1="476.9" x2="162.4" y2="476.9" stroke="#000" stroke-width="0.6"/>
<line x1="160.8" y1="480.1" x2="162.4" y2="480.1" stroke="#000" stroke-width="0.6"/>
<line x1="160.8" y1="483.3" x2="162.4" y2="483.3" stroke="#000" stroke-width="0.6"/>
<line x1="160.8" y1="486.5" x2="162.4" y2="486.5" stroke="#000" stroke-width="0.6"/>
<line x1="160.8" y1="489.7" x2="162.4" y2="489.7" stroke="#000" stroke-width="0.6"/>
<line x1="160.8" y1="492.9" x2="162.4" y2="492.9" stroke="#000" stroke-width="0.6"/>
<line x1="160.8" y1="496.1" x2="162.4" y2="496.1" stroke="#000" stroke-width="0.6"/>
<line x1="160.8" y1="499.3" x2="162.4" y2="499.3" stroke="#000" stroke-width="0.6"/>
<line x1="160.8" y1="502.5" x2="162.4" y2="502.5" stroke="#000" stroke-width="0.6"/>
<text x="157" y="421.5" font-size="6.9" text-anchor="end" fill="#222">10<tspan font-size="4.7" dy="-2.6">5</tspan></text>
<text x="157" y="444.2" font-size="6.9" text-anchor="end" fill="#222">10<tspan font-size="4.7" dy="-2.6">4</tspan></text>
<text x="157" y="467.4" font-size="6.9" text-anchor="end" fill="#222">10<tspan font-size="4.7" dy="-2.6">3</tspan></text>
<text x="154.6" y="495.9" font-size="7.2" text-anchor="end">0</text>
<line x1="164.4" y1="506.3" x2="164.4" y2="508.7" stroke="#000" stroke-width="0.7"/>
<line x1="168" y1="506.3" x2="168" y2="507.7" stroke="#000" stroke-width="0.7"/>
<line x1="171.5" y1="506.3" x2="171.5" y2="507.7" stroke="#000" stroke-width="0.7"/>
<line x1="175.1" y1="506.3" x2="175.1" y2="507.7" stroke="#000" stroke-width="0.7"/>
<line x1="178.6" y1="506.3" x2="178.6" y2="507.7" stroke="#000" stroke-width="0.7"/>
<line x1="182.2" y1="506.3" x2="182.2" y2="508.7" stroke="#000" stroke-width="0.7"/>
<line x1="185.7" y1="506.3" x2="185.7" y2="507.7" stroke="#000" stroke-width="0.7"/>
<line x1="189.3" y1="506.3" x2="189.3" y2="507.7" stroke="#000" stroke-width="0.7"/>
<line x1="192.8" y1="506.3" x2="192.8" y2="507.7" stroke="#000" stroke-width="0.7"/>
<line x1="196.4" y1="506.3" x2="196.4" y2="507.7" stroke="#000" stroke-width="0.7"/>
<line x1="199.9" y1="506.3" x2="199.9" y2="508.7" stroke="#000" stroke-width="0.7"/>
<line x1="203.5" y1="506.3" x2="203.5" y2="507.7" stroke="#000" stroke-width="0.7"/>
<line x1="207" y1="506.3" x2="207" y2="507.7" stroke="#000" stroke-width="0.7"/>
<line x1="210.6" y1="506.3" x2="210.6" y2="507.7" stroke="#000" stroke-width="0.7"/>
<line x1="214.1" y1="506.3" x2="214.1" y2="507.7" stroke="#000" stroke-width="0.7"/>
<line x1="217.7" y1="506.3" x2="217.7" y2="508.7" stroke="#000" stroke-width="0.7"/>
<line x1="221.2" y1="506.3" x2="221.2" y2="507.7" stroke="#000" stroke-width="0.7"/>
<line x1="224.8" y1="506.3" x2="224.8" y2="507.7" stroke="#000" stroke-width="0.7"/>
<line x1="228.3" y1="506.3" x2="228.3" y2="507.7" stroke="#000" stroke-width="0.7"/>
<line x1="231.9" y1="506.3" x2="231.9" y2="507.7" stroke="#000" stroke-width="0.7"/>
<line x1="235.4" y1="506.3" x2="235.4" y2="508.7" stroke="#000" stroke-width="0.7"/>
<line x1="239" y1="506.3" x2="239" y2="507.7" stroke="#000" stroke-width="0.7"/>
<line x1="242.5" y1="506.3" x2="242.5" y2="507.7" stroke="#000" stroke-width="0.7"/>
<line x1="246.1" y1="506.3" x2="246.1" y2="507.7" stroke="#000" stroke-width="0.7"/>
<line x1="249.6" y1="506.3" x2="249.6" y2="507.7" stroke="#000" stroke-width="0.7"/>
<line x1="253.2" y1="506.3" x2="253.2" y2="508.7" stroke="#000" stroke-width="0.7"/>
<text x="162.2" y="519.6" font-size="7" text-anchor="middle" textLength="4" lengthAdjust="spacingAndGlyphs">0</text>
<text x="180" y="519.6" font-size="7" text-anchor="middle" textLength="10.8" lengthAdjust="spacingAndGlyphs">50K</text>
<text x="198.6" y="519.6" font-size="7" text-anchor="middle" textLength="14.8" lengthAdjust="spacingAndGlyphs">100K</text>
<text x="215" y="519.6" font-size="7" text-anchor="middle" textLength="14.3" lengthAdjust="spacingAndGlyphs">150K</text>
<text x="232.3" y="519.6" font-size="7" text-anchor="middle" textLength="14.8" lengthAdjust="spacingAndGlyphs">200K</text>
<text x="249.8" y="519.6" font-size="7" text-anchor="middle" textLength="14.8" lengthAdjust="spacingAndGlyphs">250K</text>
<text x="316.2" y="403.4" font-size="9.6" textLength="55" lengthAdjust="spacingAndGlyphs">CD4<tspan font-size="6.3" dy="-3.5">+</tspan><tspan dy="3.5"> GZMB–</tspan></text>
<ellipse cx="319" cy="487.2" rx="10.6" ry="7" fill="#000"/>
<ellipse cx="331" cy="487.5" rx="9" ry="4" fill="#000"/>
<path d="M322.9 457.7h0m-3.4 5.3h0m6.8 1.4h0m-10.4 6h0m3.5-1.2h0m3.1 .8h0m.1 1.4h0m-1-.4h0m-.9 1.6h0m-2.5 .3h0m-2.8 3.4h0m5-.6h0m.2-1.4h0m.6 1.6h0m1.9 .5h0m4.4 2.4h0m-3.2 .8h0m-.1-.8h0m-2.1-1.6h0m-.4 1.3h0m-.5 1.3h0m-.1-1.7h0m-.1 1.6h0m-2.5-1.8h0m-1.7 .6h0m-.5 .3h0m-.3-.3h0m-6.9 1.4h0m-2.9 2.7h0m3.2-.8h0m1.6 .9h0m1-.7h0m.1-.4h0m.9 1.3h0m.1-.4h0m1.5-.6h0m0 .8h0m.1 .3h0m.1-.7h0m.7-.1h0m0-1.3h0m.1 .2h0m.1-.1h0m.8 .8h0m.1-.7h0m.2 1.2h0m.1 .5h0m0-1.6h0m.3 1.2h0m.1 .3h0m.6-.4h0m.1-.1h0m.2-1.4h0m.2 1.7h0m.4 .2h0m.2-.3h0m.1-.6h0m0 .9h0m0-.1h0m.2-1.2h0m.2 1.6h0m.1-1.1h0m.8-.7h0m.3 1.8h0m.3-1.7h0m.1 .2h0m.2 .2h0m0 .6h0m0-.6h0m0-.4h0m0 .7h0m.1-1.4h0m0 2.4h0m.1-.3h0m.3 .2h0m.3-1.1h0m0-1h0m.3-.6h0m.3 2.6h0m0-2.7h0m.4 .5h0m.1 1.9h0m.1-.3h0m.3-1.5h0m.3 1.7h0m0 .1h0m.2 .1h0m.1-1.2h0m.2 .1h0m0 1h0m1.1 .1h0m.3-.2h0m.1 .4h0m.5-.3h0m.1-.5h0m.3-.2h0m.7 .7h0m.3-1.3h0m.9 .8h0m.3 .9h0m2.9-1.1h0m4-.1h0m4.1 1.2h0m3.6-1.4h0m8.9 3.8h0m-7.9 .7h0m-1.8-.8h0m-.1-.2h0m-.9 .6h0m-1 .1h0m-5.1-1.3h0m-.2 0h0m-.1 1.2h0m-1.3-.8h0m-1 1.1h0m0-.7h0m-.3-.4h0m-.7-1.7h0m-.5 2.7h0m-.4-.9h0m-.1 .7h0m-.1-2.3h0m-.5 2.5h0m0-.7h0m-.3-.2h0m-.1-1.5h0m-.2 1.8h0m-.1-1.1h0m-.3-1.1h0m-.1 2.5h0m-.2-.9h0m0 .9h0m-.1-1h0m-.3 .4h0m-.5 .1h0m-.1 .4h0m-.1-.3h0m-.1-.6h0m-.1 .3h0m-.2-.2h0m0-.6h0m0-.2h0m-.2 .1h0m0 .1h0m0 1.6h0m-.3 .1h0m0-.4h0m-.1-.7h0m-.1-1h0m-.1 .3h0m-.1 .5h0m-.3-1.1h0m-.1 .2h0m-.2 1.5h0m0 .9h0m-.5-.9h0m0 .7h0m-.1-1.8h0m-.1 1.3h0m-.1-.1h0m-.1 .7h0m-.2-.6h0m-.2-.2h0m-.1-1.1h0m0-.4h0m-.1 .5h0m0 .8h0m-.1-.3h0m-.1-1.2h0m-.1 1.9h0m-.2-1.2h0m-.2 .2h0m-.3 1.5h0m-.1-2.3h0m0 .7h0m-.1 1.8h0m-.1-1.1h0m-.1 .4h0m0-1.2h0m-.1-.9h0m0 2.3h0m0-1.3h0m0 1.2h0m0-.9h0m-.1-.9h0m0 1.4h0m0 .4h0m-.1-.9h0m-.1 1.6h0m0-2.3h0m-.1 1.1h0m0 .9h0m0-1.7h0m0 .5h0m0-.1h0m0-.3h0m-.1-.5h0m0 2.3h0m0 .1h0m0-1.3h0m0 1.2h0m0-1.2h0m-.1 1h0m0-.8h0m-.1 .7h0m0-2.4h0m-.1 2.5h0m0-2.2h0m0 1.8h0m-.1-1.5h0m-.1 .5h0m0-.7h0m-.1 1.5h0m-.1-1h0m-.1 1.1h0m-.1 .8h0m0-1h0m0 .5h0m-.1-1.6h0m0-.4h0m-.1-.5h0m0 2.7h0m-.1-.5h0m0-1.8h0m0 2.1h0m-.1 .2h0m0-1.9h0m-.1 .7h0m0 1.3h0m-.2 .1h0m0-.4h0m0-1.5h0m0 .9h0m-.1-.8h0m0-.5h0m-.1 .5h0m0-.1h0m0-.4h0m0 1.5h0m-.1 .6h0m0 0h0m-.2-.3h0m0 .1h0m0-2.2h0m-.1 .1h0m-.1 .3h0m-.1 2.1h0m-.1 0h0m0-2.3h0m-.1 1.8h0m0-1.4h0m-.1 1.9h0m-.1-1.4h0m-.1 .9h0m0-.2h0m0 .4h0m-.1-.3h0m0 .3h0m0-.2h0m-.1 .4h0m0-.2h0m-.1 0h0m0 0h0m0-1.9h0m0 2.3h0m-.1-1.2h0m-.1-.7h0m0 1.7h0m-.1-.5h0m-.1-1.5h0m0 1.5h0m0 .4h0m0-.5h0m-.1 .3h0m0 .4h0m0-1.5h0m-.1 .9h0m-.1-1.9h0m0 1.6h0m0-.8h0m0 .9h0m-.2 0h0m0 .5h0m-.1 .2h0m0-2.2h0m0-.4h0m0 1.8h0m-.1-.4h0m0-1h0m-.5 1.3h0m-.1-.1h0m0 .7h0m0 .1h0m0-1.1h0m-.1 1.6h0m0-1.9h0m-.1-1h0m0 .8h0m-.3 .2h0m-.1 .5h0m0 .8h0m-.1-.6h0m0 .7h0m-.1-.9h0m-.1-.9h0m0-.4h0m-.1 2.5h0m-.1-2.1h0m-.2 1.1h0m0-1h0m-.1 .4h0m-.1 1.6h0m-.1-1.2h0m-.1 .1h0m-.2 1h0m-.1 .3h0m-.1-.8h0m-.1-.7h0m-.1-1.2h0m-.1 2.2h0m-.1 .1h0m0-1.1h0m-.3 .3h0m0 1h0m-.1-1.8h0m-.1 .3h0m-.1 1.4h0m-.1 .2h0m0-1.7h0m-.3-.7h0m-.1 2.3h0m0 0h0m0-.5h0m-.1-1h0m0 0h0m-.5-.1h0m-.2-.4h0m-.1 1.1h0m-.1 .3h0m-.1 .7h0m0-.6h0m0-1.4h0m-.1 1h0m-.1-.5h0m0 1.2h0m-.4-1.6h0m-.1 .1h0m-.3 .9h0m-.1 0h0m0 .1h0m-.5 .3h0m-.1-1.3h0m-.7 1.5h0m-.6-.3h0m-.2-.1h0m-.3-1.5h0m-3 3.1h0m2.9 1.4h0m.4 .6h0m.2-1.1h0m.2 1.1h0m.2-2.7h0m.2 .5h0m.6-.4h0m.2 0h0m.2 2.4h0m.3-1.9h0m.1 2h0m.3-1.4h0m.1 .6h0m.1 .7h0m0-2.4h0m.1 .9h0m0 1.8h0m.1-.6h0m.2-1.5h0m.1 .1h0m.1 1.9h0m.2-.4h0m.1-2.1h0m0 1.5h0m.1 .3h0m.1 .6h0m.2-1.2h0m0 .2h0m.1 .4h0m0-1.2h0m.1 1h0m0 1h0m0-1.9h0m0-.1h0m.3-.6h0m.1 .9h0m0 1.7h0m.1-2.2h0m0 0h0m.1 .8h0m.1 1.4h0m0-.3h0m.1-1.6h0m0-.4h0m0 .2h0m0 .7h0m.1 .4h0m.1 .7h0m0 .4h0m0-1.6h0m.1-.4h0m0 1h0m0-.1h0m.2-1.2h0m.2-.2h0m0 .1h0m0 1h0m0-.6h0m.1-.4h0m0 0h0m.1 .4h0m0 .5h0m0-.8h0m.1 1.5h0m.1-.4h0m0 .7h0m.1-.5h0m0-1.6h0m.1 2.2h0m0-1.4h0m0 .7h0m.2-1.1h0m0 .2h0m0 1.8h0m0-2.3h0m.1-.1h0m.2 .7h0m0 1.2h0m.1-.3h0m0-1.7h0m0-.1h0m0 1h0m0 1.5h0m0-.9h0m.1 1.2h0m0-.2h0m0-2.1h0m0-.5h0m.1 .6h0m0 .8h0m0-1.1h0m0 2.1h0m.1-2.5h0m0 1.7h0m0-1.1h0m.1 .3h0m0-.7h0m.1 2.3h0m.1-.2h0m0-1.8h0m0 1.6h0m0-2h0m0 2.3h0m.1-1.8h0m0 1.4h0m0 .8h0m0-2.3h0m0 1.7h0m.1 .3h0m0-2.6h0m.1 1.6h0m.2-.3h0m0 .6h0m.1-.5h0m.2-.1h0m0 .4h0m.2-1h0m0 .8h0m.1 .9h0m0-1.7h0m.1 2h0m0-.3h0m.2 .3h0m0-.5h0m0-1.7h0m0 1.4h0m0-1.1h0m0 1.5h0m.1-.6h0m0-1.5h0m.1 1.7h0m0-1.1h0m0-.4h0m.1 1.2h0m0-.2h0m0 .5h0m0-1.6h0m0 1h0m0 1.2h0m0-2.2h0m.1 .4h0m0 .9h0m0 .1h0m0-1.1h0m0 .3h0m0-.7h0m0 1.5h0m.1 1.2h0m0-.7h0m0-.8h0m0-.8h0m0 1.1h0m0 .4h0m.1-1.5h0m0 .7h0m.1 1.1h0m0-1h0m0-.4h0m0-.7h0m.1 2.3h0m0-1.6h0m.1 1.2h0m0 .3h0m0 0h0m0-1.5h0m0-.7h0m0 2.2h0m0-2.2h0m.1 1.1h0m0 .2h0m0-.5h0m0 1.3h0m0-.6h0m0 .6h0m0-2.1h0m0 2.2h0m.1-1.9h0m0-.5h0m.1 1.4h0m0 .9h0m0-2h0m0 .9h0m0 .9h0m0-1.6h0m0 .9h0m.1-1.2h0m0-.3h0m.1 1h0m0 .5h0m0-.4h0m0-.5h0m.1 2.4h0m0-.8h0m0-2.1h0m.1 2.7h0m0-.7h0m0-1.9h0m0 2.4h0m0-.1h0m.1-1.6h0m0-.5h0m0 .3h0m0 1.7h0m.1-.5h0m0-.6h0m.1 0h0m0 1h0m0-1.6h0m.1 1.9h0m0-.2h0m0-1.9h0m.1-.1h0m0 2.3h0m0-1.7h0m0-.9h0m0 1.1h0m.1 0h0m.1 1.3h0m0-1.2h0m0-1h0m0 2.6h0m.1-.1h0m0-.9h0m0-.4h0m0-.4h0m0-.9h0m0 2.5h0m0-1h0m0-1.6h0m.1 2.9h0m.1-.7h0m0 .7h0m0-.3h0m.1-.2h0m0-1.6h0m.1-.1h0m0 2h0m0-2.3h0m0 1.3h0m.2-.6h0m0 .5h0m0 0h0m0-1.3h0m0 .9h0m0-.4h0m0 1.2h0m.2-1.6h0m0 1h0m0 0h0m0 0h0m0 .3h0m0-.2h0m.1 1.2h0m0-1.9h0m0 1.8h0m.1-1.4h0m.1 1.4h0m0-2.7h0m0 2.7h0m0-.6h0m.1 .4h0m0 0h0m.1-1.3h0m0 1.4h0m.1-2.5h0m0 2.1h0m0-1.1h0m0 1.8h0m.1-2.1h0m0 2.1h0m.1 0h0m0-1.1h0m0 1h0m0-1.9h0m.1 .5h0m0 .6h0m.1 .2h0m0 .6h0m0-.4h0m0-2.1h0m0 2.4h0m.1 .2h0m0 0h0m0-2h0m0-.7h0m0 2.3h0m.1-1.8h0m.1 2h0m0-1.4h0m.1 1.1h0m0-.7h0m0 0h0m.1 1h0m0-2.6h0m.1 .6h0m.1 1.6h0m0-2.1h0m.1 .1h0m.1 1.9h0m0-1.7h0m0 1.2h0m.1-.6h0m0 1.6h0m0-1.4h0m.1-.6h0m.1 1h0m0 0h0m.1-.2h0m0 1.1h0m0-2h0m0-.4h0m0-.1h0m.1 1.8h0m0-1.7h0m.1 2.7h0m.1-2.1h0m0 1.2h0m.2 .1h0m0-1.3h0m.1-.2h0m0 1.9h0m.1 .2h0m.1 .1h0m0-.8h0m0-.8h0m0 .4h0m.1 .3h0m0-1.3h0m0 2.1h0m0-1.5h0m.1 1.7h0m0-.9h0m.1 .1h0m0-1.2h0m0 1.9h0m.1-2.4h0m0 .6h0m0-.3h0m.3-.2h0m.3 1.7h0m.1-.1h0m.1-.9h0m.1 1h0m0-1.9h0m0 1.8h0m0-1.9h0m0-.2h0m.1 .5h0m.1 .3h0m.2 .9h0m0 1.2h0m0-2.3h0m0 1.7h0m.1-.2h0m0-.4h0m0 .2h0m.1 .3h0m.2-2h0m0 .3h0m0-.1h0m.2 .2h0m.1-.6h0m.1 1.6h0m.2 .8h0m.4-1.4h0m.6 .8h0m0 0h0m.1-.3h0m.1 .7h0m.3-2.1h0m0 1.6h0m.1 .6h0m0 .6h0m.2-2.1h0m0 1.9h0m.3 .3h0m.6-.1h0m0-2.6h0m.1 1.5h0m0 .9h0m.1-2.6h0m.1 .6h0m.1 .6h0m.1 .6h0m0-.3h0m.1 .1h0m0 .1h0m0 .7h0m.2-.3h0m.1 .1h0m.4-1.9h0m.2 1h0m.4-1h0m.1-.2h0m.2 2.6h0m.7-1.4h0m.4 1.5h0m.1-.2h0m0-1.2h0m.1-.2h0m.5 1.3h0m.1-2.2h0m.1 1.9h0m0-1.5h0m.3-.4h0m.1 .7h0m.1 .3h0m.4 1.4h0m.7-1.9h0m.5-.4h0m.1-.3h0m.1 2.2h0m.1 .5h0m.3-2.2h0m.2 .9h0m.7 1h0m.1-.4h0m.4-.6h0m.5 .6h0m0-1.8h0m.2 0h0m.2 1.5h0m0-.4h0m.4-.1h0m.5 .8h0m0-.6h0m.1-1.1h0m.1 2.5h0m.1-2.6h0m.1 2.1h0m.1 .2h0m.2-1.3h0m.4-.9h0m.4 .2h0m.2 .5h0m.1 .4h0m.1 .3h0m.1 1h0m.3-2.8h0m.7 2.1h0m.1-2h0m.2 1.3h0m.3 0h0m.1 .5h0m.5-2h0m.2 3h0m8.2 .3h0m-6.7 1.4h0m-1.7-1.5h0m-1.1 .2h0m-.4-.1h0m-.2 .6h0m-1.4 .6h0m-1.3-1.4h0m-.8 0h0m-.5-.1h0m-.3 1.4h0m-2.4-.8h0m-.1 .4h0m-1-.9h0m-.5 .4h0m-.1-.3h0m-.1-.1h0m-.9 .5h0m-.1-.1h0m-.6-.1h0m-.3 1.9h0m-.7-.5h0m-.7-1.6h0m-.6 .2h0m-.2-.2h0m-.1 1.5h0m-.2-.2h0m0-.4h0m-.2 1.5h0m-.3-2.3h0m-.1 1.9h0m0-1.5h0m-.1-.3h0m-.2 .3h0m-.3 .8h0m-.5 1.3h0m0-.6h0m-.1-1.7h0m-.6 .7h0m-.1-.4h0m-.5 1.8h0m0-2.2h0m-.2 1.6h0m-.2-1.6h0m0 .2h0m-.1-.3h0m-.1 1.8h0m0 .6h0m-.9-2.3h0m-.1 2.1h0m-.1-2.2h0m-.4 0h0m0 1.4h0m-.1-1h0m-.1-.1h0m-.1 .9h0m0-.4h0m0-.6h0m-.1 .2h0m-.5 .5h0m-.1-.1h0m0 0h0m-.1-.6h0m0 1.2h0m-.2-1.4h0m-.1-.3h0m0 1.6h0m-.1 1.2h0m-.2-.5h0m-.1-.8h0m-.1-.9h0m-.1 1.7h0m0-2h0m-.1 2.1h0m0-2.3h0m-.1 1.8h0m0-1.6h0m0 .6h0m0-.2h0m-.3-.6h0m0 2.7h0m0-2.2h0m-.1-.5h0m0 2.6h0m-.1-1.7h0m-.1 .8h0m0-.9h0m0 .2h0m-.1-.7h0m0 1.1h0m-.1-.2h0m0-.6h0m-.1 .4h0m-.1 .3h0m-.1 0h0m-.1-1h0m0 1.3h0m-.1-1.2h0m0 0h0m0 .8h0m-.4-1.1h0m-.1 .4h0m0 .5h0m-.1 1.2h0m0-2.2h0m0 1.3h0m0 .2h0m-.1 1h0m-.1-2.1h0m0 .1h0m0 .2h0m0 .7h0m0-1.1h0m0 2.4h0m-.1-2.6h0m-.1 0h0m0 2.3h0m0-1.9h0m-.1 1.6h0m-.1-2.2h0m0 1.9h0m-.1-1.3h0m-.1 1.5h0m0-.6h0m0-.2h0m-.1-.9h0m-.1 1.5h0m0-1.9h0m-.1 .4h0m-.1 .3h0m0 1.5h0m-.2-.7h0m0-.5h0m0 1.9h0m0-.4h0m-.1-.3h0m-.1-1.5h0m-.1-.7h0m0 .9h0m-.1 .1h0m-.1-.2h0m-.1-.6h0m0-.1h0m-.1 1.7h0m0-.6h0m0-.6h0m-.3 .3h0m0 1.1h0m-.1-.9h0m0 1.4h0m-.1-1.4h0m-.1-.6h0m0 .7h0m0-.2h0m-.3-.4h0m0-.2h0m0 1.3h0m-.1-1.3h0m-.1 .1h0m0-.1h0m0 .4h0m0 .2h0m-.2-.6h0m-.1 0h0m-.1 1.6h0m-.2 .1h0m0-.1h0m0 .4h0m-.1-.3h0m0 .9h0m-.1-1.2h0m-.1-1.5h0m-.1 .7h0m0-.3h0m0 .2h0m-.1 1.3h0m0-.2h0m0-.5h0m-.2 .3h0m-.1 .6h0m0-2.4h0m0 .5h0m-.1 2.2h0m-.1-2h0m0 .6h0m0 .9h0m-.1-.7h0m0 .8h0m0-1.8h0m0-.4h0m-.3 .2h0m-.1 1.3h0m-.2-1.1h0m0 .5h0m-.1 .3h0m0-.2h0m-.2 1.7h0m-.1-2.6h0m-.1 2h0m-.1 0h0m-.2-1.9h0m-.1 2.5h0m0-.6h0m-.1-1.6h0m0-.3h0m-.4 2.2h0m-.2-.4h0m-.1-1.8h0m0 1.7h0m-.8-.5h0m-.6-.5h0m-.6 .7h0m-.3 .7h0m-1.5-1.1h0m-.6-1.1h0m-.6 .5h0m-.3 1.9h0m-.5-1.3h0m-1.1-1h0m-.4 .3h0m4.1 2.9h0m1.2 .6h0m.1 .4h0m.2-.2h0m.9 1.7h0m.3-2.7h0m.1 .7h0m.6-.5h0m.2 1.6h0m.3-2h0m1.4 0h0m.4 1.8h0m.3-.7h0m.1 .4h0m0-.1h0m.1 .2h0m0-1h0m.3-.3h0m.5 0h0m.1 .1h0m.1 1.3h0m.8-1.1h0m.1 1.9h0m.1-2.2h0m.2-.4h0m.2 2.9h0m.4-2.2h0m.3 1h0m.2 .1h0m.2-.1h0m.1-1.5h0m.4 .9h0m.3 .9h0m.1-.8h0m0 1.1h0m.2-1.3h0m0-.3h0m.1 .3h0m.1-.4h0m.1 1.1h0m.3-1.7h0m.2 .1h0m.3 .4h0m.7 .4h0m.5-.7h0m1.8 1.4h0m.7 .1h0m.6-1.6h0m.6 1h0m.5-.4h0m.8 .6h0m.1 1.4h0m6.6-2.7h0m1.1 1.3h0m3.6-1h0m2.6 .1h0m-13.5 3.8h0m-8.6-.5h0m-4.9-.5h0" stroke="#000" stroke-width="1.3" stroke-linecap="round"/>
<ellipse cx="318.9" cy="487.3" rx="6.2" ry="3.9" fill="#bdbdbd" stroke="#8a8a8a" stroke-width="0.5"/>
<ellipse cx="318.9" cy="487.3" rx="4.1" ry="2.6" fill="none" stroke="#8a8a8a" stroke-width="0.5"/>
<ellipse cx="318.9" cy="487.3" rx="2.1" ry="1.3" fill="none" stroke="#8a8a8a" stroke-width="0.5"/>
<ellipse cx="318.9" cy="487.3" rx="2" ry="1.2" fill="#eee"/>
<rect x="299.3" y="407.8" width="92.9" height="98.5" fill="none" stroke="#222" stroke-width="1.1"/>
<rect x="302.9" y="432.2" width="27.6" height="44.6" fill="none" stroke="#8a8a8a" stroke-width="0.9"/>
<path d="M330.5 432.2H385.6V477.6M330.5 432.2V501.2H385.6V477.6H330.5" fill="none" stroke="#555" stroke-width="0.9"/>
<text x="305.2" y="441.8" font-size="7.3" textLength="22.1" lengthAdjust="spacingAndGlyphs">0.17%</text>
<text x="381.7" y="441.8" font-size="7.3" text-anchor="end" textLength="32.9" lengthAdjust="spacingAndGlyphs">7.61E-3%</text>
<text x="381.7" y="498.9" font-size="7.3" text-anchor="end" textLength="20.8" lengthAdjust="spacingAndGlyphs">1.38%</text>
<line x1="296.5" y1="417.5" x2="299.3" y2="417.5" stroke="#000" stroke-width="0.9"/>
<line x1="296.5" y1="439.3" x2="299.3" y2="439.3" stroke="#000" stroke-width="0.9"/>
<line x1="296.5" y1="461.7" x2="299.3" y2="461.7" stroke="#000" stroke-width="0.9"/>
<line x1="296.5" y1="488.8" x2="299.3" y2="488.8" stroke="#000" stroke-width="0.9"/>
<line x1="297.7" y1="432.7" x2="299.3" y2="432.7" stroke="#000" stroke-width="0.6"/>
<line x1="297.7" y1="428.9" x2="299.3" y2="428.9" stroke="#000" stroke-width="0.6"/>
<line x1="297.7" y1="426.2" x2="299.3" y2="426.2" stroke="#000" stroke-width="0.6"/>
<line x1="297.7" y1="424.1" x2="299.3" y2="424.1" stroke="#000" stroke-width="0.6"/>
<line x1="297.7" y1="422.3" x2="299.3" y2="422.3" stroke="#000" stroke-width="0.6"/>
<line x1="297.7" y1="420.9" x2="299.3" y2="420.9" stroke="#000" stroke-width="0.6"/>
<line x1="297.7" y1="419.6" x2="299.3" y2="419.6" stroke="#000" stroke-width="0.6"/>
<line x1="297.7" y1="418.5" x2="299.3" y2="418.5" stroke="#000" stroke-width="0.6"/>
<line x1="297.7" y1="455" x2="299.3" y2="455" stroke="#000" stroke-width="0.6"/>
<line x1="297.7" y1="451" x2="299.3" y2="451" stroke="#000" stroke-width="0.6"/>
<line x1="297.7" y1="448.2" x2="299.3" y2="448.2" stroke="#000" stroke-width="0.6"/>
<line x1="297.7" y1="446" x2="299.3" y2="446" stroke="#000" stroke-width="0.6"/>
<line x1="297.7" y1="444.3" x2="299.3" y2="444.3" stroke="#000" stroke-width="0.6"/>
<line x1="297.7" y1="442.8" x2="299.3" y2="442.8" stroke="#000" stroke-width="0.6"/>
<line x1="297.7" y1="441.5" x2="299.3" y2="441.5" stroke="#000" stroke-width="0.6"/>
<line x1="297.7" y1="440.3" x2="299.3" y2="440.3" stroke="#000" stroke-width="0.6"/>
<line x1="297.7" y1="468.4" x2="299.3" y2="468.4" stroke="#000" stroke-width="0.6"/>
<line x1="297.7" y1="472.4" x2="299.3" y2="472.4" stroke="#000" stroke-width="0.6"/>
<line x1="297.7" y1="475.2" x2="299.3" y2="475.2" stroke="#000" stroke-width="0.6"/>
<line x1="297.7" y1="477.4" x2="299.3" y2="477.4" stroke="#000" stroke-width="0.6"/>
<line x1="297.7" y1="479.1" x2="299.3" y2="479.1" stroke="#000" stroke-width="0.6"/>
<line x1="297.7" y1="480.6" x2="299.3" y2="480.6" stroke="#000" stroke-width="0.6"/>
<line x1="297.7" y1="481.9" x2="299.3" y2="481.9" stroke="#000" stroke-width="0.6"/>
<line x1="297.7" y1="483.1" x2="299.3" y2="483.1" stroke="#000" stroke-width="0.6"/>
<line x1="297.7" y1="464.7" x2="299.3" y2="464.7" stroke="#000" stroke-width="0.6"/>
<line x1="297.7" y1="467.9" x2="299.3" y2="467.9" stroke="#000" stroke-width="0.6"/>
<line x1="297.7" y1="471.1" x2="299.3" y2="471.1" stroke="#000" stroke-width="0.6"/>
<line x1="297.7" y1="474.3" x2="299.3" y2="474.3" stroke="#000" stroke-width="0.6"/>
<line x1="297.7" y1="477.5" x2="299.3" y2="477.5" stroke="#000" stroke-width="0.6"/>
<line x1="297.7" y1="480.7" x2="299.3" y2="480.7" stroke="#000" stroke-width="0.6"/>
<line x1="297.7" y1="483.9" x2="299.3" y2="483.9" stroke="#000" stroke-width="0.6"/>
<line x1="297.7" y1="487.1" x2="299.3" y2="487.1" stroke="#000" stroke-width="0.6"/>
<line x1="297.7" y1="490.3" x2="299.3" y2="490.3" stroke="#000" stroke-width="0.6"/>
<line x1="297.7" y1="493.5" x2="299.3" y2="493.5" stroke="#000" stroke-width="0.6"/>
<line x1="297.7" y1="496.7" x2="299.3" y2="496.7" stroke="#000" stroke-width="0.6"/>
<line x1="297.7" y1="499.9" x2="299.3" y2="499.9" stroke="#000" stroke-width="0.6"/>
<line x1="297.7" y1="503.1" x2="299.3" y2="503.1" stroke="#000" stroke-width="0.6"/>
<text x="293.9" y="420.6" font-size="6.9" text-anchor="end" fill="#222">10<tspan font-size="4.7" dy="-2.6">5</tspan></text>
<text x="293.9" y="442.4" font-size="6.9" text-anchor="end" fill="#222">10<tspan font-size="4.7" dy="-2.6">4</tspan></text>
<text x="293.9" y="464.8" font-size="6.9" text-anchor="end" fill="#222">10<tspan font-size="4.7" dy="-2.6">3</tspan></text>
<text x="291.5" y="491.7" font-size="7.2" text-anchor="end">0</text>
<line x1="301.3" y1="506.3" x2="301.3" y2="508.7" stroke="#000" stroke-width="0.7"/>
<line x1="304.9" y1="506.3" x2="304.9" y2="507.7" stroke="#000" stroke-width="0.7"/>
<line x1="308.4" y1="506.3" x2="308.4" y2="507.7" stroke="#000" stroke-width="0.7"/>
<line x1="312" y1="506.3" x2="312" y2="507.7" stroke="#000" stroke-width="0.7"/>
<line x1="315.5" y1="506.3" x2="315.5" y2="507.7" stroke="#000" stroke-width="0.7"/>
<line x1="319.1" y1="506.3" x2="319.1" y2="508.7" stroke="#000" stroke-width="0.7"/>
<line x1="322.6" y1="506.3" x2="322.6" y2="507.7" stroke="#000" stroke-width="0.7"/>
<line x1="326.2" y1="506.3" x2="326.2" y2="507.7" stroke="#000" stroke-width="0.7"/>
<line x1="329.7" y1="506.3" x2="329.7" y2="507.7" stroke="#000" stroke-width="0.7"/>
<line x1="333.3" y1="506.3" x2="333.3" y2="507.7" stroke="#000" stroke-width="0.7"/>
<line x1="336.9" y1="506.3" x2="336.9" y2="508.7" stroke="#000" stroke-width="0.7"/>
<line x1="340.4" y1="506.3" x2="340.4" y2="507.7" stroke="#000" stroke-width="0.7"/>
<line x1="344" y1="506.3" x2="344" y2="507.7" stroke="#000" stroke-width="0.7"/>
<line x1="347.5" y1="506.3" x2="347.5" y2="507.7" stroke="#000" stroke-width="0.7"/>
<line x1="351.1" y1="506.3" x2="351.1" y2="507.7" stroke="#000" stroke-width="0.7"/>
<line x1="354.6" y1="506.3" x2="354.6" y2="508.7" stroke="#000" stroke-width="0.7"/>
<line x1="358.2" y1="506.3" x2="358.2" y2="507.7" stroke="#000" stroke-width="0.7"/>
<line x1="361.8" y1="506.3" x2="361.8" y2="507.7" stroke="#000" stroke-width="0.7"/>
<line x1="365.3" y1="506.3" x2="365.3" y2="507.7" stroke="#000" stroke-width="0.7"/>
<line x1="368.9" y1="506.3" x2="368.9" y2="507.7" stroke="#000" stroke-width="0.7"/>
<line x1="372.4" y1="506.3" x2="372.4" y2="508.7" stroke="#000" stroke-width="0.7"/>
<line x1="376" y1="506.3" x2="376" y2="507.7" stroke="#000" stroke-width="0.7"/>
<line x1="379.5" y1="506.3" x2="379.5" y2="507.7" stroke="#000" stroke-width="0.7"/>
<line x1="383.1" y1="506.3" x2="383.1" y2="507.7" stroke="#000" stroke-width="0.7"/>
<line x1="386.6" y1="506.3" x2="386.6" y2="507.7" stroke="#000" stroke-width="0.7"/>
<line x1="390.2" y1="506.3" x2="390.2" y2="508.7" stroke="#000" stroke-width="0.7"/>
<text x="317" y="518.9" font-size="7.2" text-anchor="middle">0</text>
<text x="346" y="519.3" font-size="6.9" text-anchor="middle" fill="#222">10<tspan font-size="4.7" dy="-2.6">3</tspan></text>
<text x="364.6" y="519.3" font-size="6.9" text-anchor="middle" fill="#222">10<tspan font-size="4.7" dy="-2.6">4</tspan></text>
<text x="383.4" y="519.3" font-size="6.9" text-anchor="middle" fill="#222">10<tspan font-size="4.7" dy="-2.6">5</tspan></text>
<line x1="274.5" y1="477.3" x2="274.5" y2="529.9" stroke="#000" stroke-width="1.3"/>
<line x1="273.9" y1="529.2" x2="330" y2="529.2" stroke="#000" stroke-width="1.3"/>
<path d="M274.5 472.3L271 478.6L278 478.6z" fill="#000"/>
<path d="M335 529.2L328.7 525.8L328.7 532.6z" fill="#000"/>
<text x="338.8" y="532.6" font-size="8.6" textLength="12" lengthAdjust="spacingAndGlyphs">PD1</text>
<text x="274.5" y="460" font-size="8.2" text-anchor="middle" textLength="17" lengthAdjust="spacingAndGlyphs" transform="rotate(-90 274.5 457)">TIM3</text>
<text x="436.5" y="403.4" font-size="9.6" textLength="60.5" lengthAdjust="spacingAndGlyphs">CD4<tspan font-size="6.3" dy="-3.5">+</tspan><tspan dy="3.5"> GZMB+</tspan></text>
<ellipse cx="449" cy="488.4" rx="14.6" ry="11.7" fill="none" stroke="#777" stroke-width="0.6"/>
<ellipse cx="449.2" cy="488.6" rx="12.8" ry="10.2" fill="none" stroke="#777" stroke-width="0.6"/>
<ellipse cx="449.4" cy="488.7" rx="10.9" ry="8.8" fill="none" stroke="#777" stroke-width="0.6"/>
<ellipse cx="449.6" cy="488.9" rx="9.1" ry="7.3" fill="none" stroke="#777" stroke-width="0.6"/>
<ellipse cx="449.8" cy="489" rx="7.3" ry="5.8" fill="none" stroke="#777" stroke-width="0.6"/>
<ellipse cx="450" cy="489.2" rx="5.5" ry="4.4" fill="none" stroke="#777" stroke-width="0.6"/>
<ellipse cx="450.2" cy="489.3" rx="3.6" ry="2.9" fill="none" stroke="#777" stroke-width="0.6"/>
<ellipse cx="450.4" cy="489.5" rx="1.8" ry="1.5" fill="none" stroke="#777" stroke-width="0.6"/>
<ellipse cx="448.9" cy="489.1" rx="1.6" ry="1.2" fill="#fff"/>
<path d="M451.5 476.3C456.5 475 457.5 469 459.5 464.5C461.5 459.5 467.5 458 470.8 460.8C474 463.8 471 470.5 467 474" stroke="#8a8a8a" stroke-width="0.55" fill="none" />
<ellipse cx="466.2" cy="465.8" rx="2.6" ry="4" transform="rotate(25 466.2 465.8)" fill="none" stroke="#8a8a8a" stroke-width="0.55"/>
<path d="M459.8 445.5h0m-9 2.3h0m5.2 2.9h0m14.2 1.8h0m.4 3.1h0m-6.6 2.1h0m3.8-1h0m3.7-.3h0m2.1 2.3h0m4.6 .3h0m-4.9 1.2h0m-5.2-.6h0m-11.8 1.7h0m-2.1 0h0m-.6 .2h0m-13.8 2.2h0m1.2 .8h0m19.9 0h0m12.4 1.5h0m-1.8 1.7h0m-14.4-2.5h0m-16.7 2.5h0m-5.2 3.2h0m11.5-2.6h0m-7.7 3.1h0m2.5 4.9h0m22-.3h0m4-1.7h0m-6.5 4.7h0m-17-1.5h0m-7.2 1.5h0m26.2 2.5h0m9.5 2.2h0m-8.1-.6h0m-32 1.3h0m1.7 2h0m30.3 .7h0m-28.2 7.4h0m20.1 2h0m-18.1 .7h0m9.4 2.7h0" stroke="#000" stroke-width="1.4" stroke-linecap="round"/>
<rect x="420.6" y="407.8" width="92.7" height="98.5" fill="none" stroke="#222" stroke-width="1.1"/>
<rect x="423.4" y="432.3" width="27.4" height="44.3" fill="none" stroke="#8a8a8a" stroke-width="0.9"/>
<path d="M450.9 432.3H506V477.3M450.9 432.3V501.2H506V477.3H450.9" fill="none" stroke="#555" stroke-width="0.9"/>
<text x="425.2" y="441.2" font-size="7.3" textLength="22.1" lengthAdjust="spacingAndGlyphs">2.16%</text>
<text x="503.9" y="441.2" font-size="7.3" text-anchor="end" textLength="22.1" lengthAdjust="spacingAndGlyphs">17.0%</text>
<text x="503.9" y="499.2" font-size="7.3" text-anchor="end" textLength="22.1" lengthAdjust="spacingAndGlyphs">31.7%</text>
<line x1="417.8" y1="417" x2="420.6" y2="417" stroke="#000" stroke-width="0.9"/>
<line x1="417.8" y1="439.3" x2="420.6" y2="439.3" stroke="#000" stroke-width="0.9"/>
<line x1="417.8" y1="461.4" x2="420.6" y2="461.4" stroke="#000" stroke-width="0.9"/>
<line x1="417.8" y1="488.3" x2="420.6" y2="488.3" stroke="#000" stroke-width="0.9"/>
<line x1="419" y1="432.6" x2="420.6" y2="432.6" stroke="#000" stroke-width="0.6"/>
<line x1="419" y1="428.7" x2="420.6" y2="428.7" stroke="#000" stroke-width="0.6"/>
<line x1="419" y1="425.9" x2="420.6" y2="425.9" stroke="#000" stroke-width="0.6"/>
<line x1="419" y1="423.7" x2="420.6" y2="423.7" stroke="#000" stroke-width="0.6"/>
<line x1="419" y1="421.9" x2="420.6" y2="421.9" stroke="#000" stroke-width="0.6"/>
<line x1="419" y1="420.5" x2="420.6" y2="420.5" stroke="#000" stroke-width="0.6"/>
<line x1="419" y1="419.2" x2="420.6" y2="419.2" stroke="#000" stroke-width="0.6"/>
<line x1="419" y1="418" x2="420.6" y2="418" stroke="#000" stroke-width="0.6"/>
<line x1="419" y1="454.7" x2="420.6" y2="454.7" stroke="#000" stroke-width="0.6"/>
<line x1="419" y1="450.9" x2="420.6" y2="450.9" stroke="#000" stroke-width="0.6"/>
<line x1="419" y1="448.1" x2="420.6" y2="448.1" stroke="#000" stroke-width="0.6"/>
<line x1="419" y1="446" x2="420.6" y2="446" stroke="#000" stroke-width="0.6"/>
<line x1="419" y1="444.2" x2="420.6" y2="444.2" stroke="#000" stroke-width="0.6"/>
<line x1="419" y1="442.7" x2="420.6" y2="442.7" stroke="#000" stroke-width="0.6"/>
<line x1="419" y1="441.4" x2="420.6" y2="441.4" stroke="#000" stroke-width="0.6"/>
<line x1="419" y1="440.3" x2="420.6" y2="440.3" stroke="#000" stroke-width="0.6"/>
<line x1="419" y1="468.1" x2="420.6" y2="468.1" stroke="#000" stroke-width="0.6"/>
<line x1="419" y1="471.9" x2="420.6" y2="471.9" stroke="#000" stroke-width="0.6"/>
<line x1="419" y1="474.7" x2="420.6" y2="474.7" stroke="#000" stroke-width="0.6"/>
<line x1="419" y1="476.8" x2="420.6" y2="476.8" stroke="#000" stroke-width="0.6"/>
<line x1="419" y1="478.6" x2="420.6" y2="478.6" stroke="#000" stroke-width="0.6"/>
<line x1="419" y1="480.1" x2="420.6" y2="480.1" stroke="#000" stroke-width="0.6"/>
<line x1="419" y1="481.4" x2="420.6" y2="481.4" stroke="#000" stroke-width="0.6"/>
<line x1="419" y1="482.5" x2="420.6" y2="482.5" stroke="#000" stroke-width="0.6"/>
<line x1="419" y1="464.4" x2="420.6" y2="464.4" stroke="#000" stroke-width="0.6"/>
<line x1="419" y1="467.6" x2="420.6" y2="467.6" stroke="#000" stroke-width="0.6"/>
<line x1="419" y1="470.8" x2="420.6" y2="470.8" stroke="#000" stroke-width="0.6"/>
<line x1="419" y1="474" x2="420.6" y2="474" stroke="#000" stroke-width="0.6"/>
<line x1="419" y1="477.2" x2="420.6" y2="477.2" stroke="#000" stroke-width="0.6"/>
<line x1="419" y1="480.4" x2="420.6" y2="480.4" stroke="#000" stroke-width="0.6"/>
<line x1="419" y1="483.6" x2="420.6" y2="483.6" stroke="#000" stroke-width="0.6"/>
<line x1="419" y1="486.8" x2="420.6" y2="486.8" stroke="#000" stroke-width="0.6"/>
<line x1="419" y1="490" x2="420.6" y2="490" stroke="#000" stroke-width="0.6"/>
<line x1="419" y1="493.2" x2="420.6" y2="493.2" stroke="#000" stroke-width="0.6"/>
<line x1="419" y1="496.4" x2="420.6" y2="496.4" stroke="#000" stroke-width="0.6"/>
<line x1="419" y1="499.6" x2="420.6" y2="499.6" stroke="#000" stroke-width="0.6"/>
<line x1="419" y1="502.8" x2="420.6" y2="502.8" stroke="#000" stroke-width="0.6"/>
<text x="415.2" y="420.1" font-size="6.9" text-anchor="end" fill="#222">10<tspan font-size="4.7" dy="-2.6">5</tspan></text>
<text x="415.2" y="442.4" font-size="6.9" text-anchor="end" fill="#222">10<tspan font-size="4.7" dy="-2.6">4</tspan></text>
<text x="415.2" y="464.5" font-size="6.9" text-anchor="end" fill="#222">10<tspan font-size="4.7" dy="-2.6">3</tspan></text>
<text x="412.8" y="491.2" font-size="7.2" text-anchor="end">0</text>
<line x1="422.6" y1="506.3" x2="422.6" y2="508.7" stroke="#000" stroke-width="0.7"/>
<line x1="426.1" y1="506.3" x2="426.1" y2="507.7" stroke="#000" stroke-width="0.7"/>
<line x1="429.7" y1="506.3" x2="429.7" y2="507.7" stroke="#000" stroke-width="0.7"/>
<line x1="433.2" y1="506.3" x2="433.2" y2="507.7" stroke="#000" stroke-width="0.7"/>
<line x1="436.8" y1="506.3" x2="436.8" y2="507.7" stroke="#000" stroke-width="0.7"/>
<line x1="440.3" y1="506.3" x2="440.3" y2="508.7" stroke="#000" stroke-width="0.7"/>
<line x1="443.9" y1="506.3" x2="443.9" y2="507.7" stroke="#000" stroke-width="0.7"/>
<line x1="447.4" y1="506.3" x2="447.4" y2="507.7" stroke="#000" stroke-width="0.7"/>
<line x1="451" y1="506.3" x2="451" y2="507.7" stroke="#000" stroke-width="0.7"/>
<line x1="454.5" y1="506.3" x2="454.5" y2="507.7" stroke="#000" stroke-width="0.7"/>
<line x1="458.1" y1="506.3" x2="458.1" y2="508.7" stroke="#000" stroke-width="0.7"/>
<line x1="461.6" y1="506.3" x2="461.6" y2="507.7" stroke="#000" stroke-width="0.7"/>
<line x1="465.2" y1="506.3" x2="465.2" y2="507.7" stroke="#000" stroke-width="0.7"/>
<line x1="468.7" y1="506.3" x2="468.7" y2="507.7" stroke="#000" stroke-width="0.7"/>
<line x1="472.3" y1="506.3" x2="472.3" y2="507.7" stroke="#000" stroke-width="0.7"/>
<line x1="475.8" y1="506.3" x2="475.8" y2="508.7" stroke="#000" stroke-width="0.7"/>
<line x1="479.4" y1="506.3" x2="479.4" y2="507.7" stroke="#000" stroke-width="0.7"/>
<line x1="482.9" y1="506.3" x2="482.9" y2="507.7" stroke="#000" stroke-width="0.7"/>
<line x1="486.5" y1="506.3" x2="486.5" y2="507.7" stroke="#000" stroke-width="0.7"/>
<line x1="490" y1="506.3" x2="490" y2="507.7" stroke="#000" stroke-width="0.7"/>
<line x1="493.6" y1="506.3" x2="493.6" y2="508.7" stroke="#000" stroke-width="0.7"/>
<line x1="497.1" y1="506.3" x2="497.1" y2="507.7" stroke="#000" stroke-width="0.7"/>
<line x1="500.7" y1="506.3" x2="500.7" y2="507.7" stroke="#000" stroke-width="0.7"/>
<line x1="504.2" y1="506.3" x2="504.2" y2="507.7" stroke="#000" stroke-width="0.7"/>
<line x1="507.8" y1="506.3" x2="507.8" y2="507.7" stroke="#000" stroke-width="0.7"/>
<line x1="511.3" y1="506.3" x2="511.3" y2="508.7" stroke="#000" stroke-width="0.7"/>
<text x="437.4" y="517.9" font-size="7.2" text-anchor="middle">0</text>
<text x="466.6" y="518.3" font-size="6.9" text-anchor="middle" fill="#222">10<tspan font-size="4.7" dy="-2.6">3</tspan></text>
<text x="487.5" y="518.3" font-size="6.9" text-anchor="middle" fill="#222">10<tspan font-size="4.7" dy="-2.6">4</tspan></text>
<text x="506.3" y="518.3" font-size="6.9" text-anchor="middle" fill="#222">10<tspan font-size="4.7" dy="-2.6">5</tspan></text>
<text x="69.2" y="557" font-size="14" font-weight="bold" fill="#000">D</text>
<line x1="98.3" y1="564" x2="98.3" y2="688.1" stroke="#000" stroke-width="1.3"/>
<line x1="97.7" y1="687.5" x2="187.5" y2="687.5" stroke="#000" stroke-width="1.3"/>
<line x1="95.3" y1="568.4" x2="98.3" y2="568.4" stroke="#000" stroke-width="1"/>
<text x="92.3" y="571" font-size="8.5" text-anchor="end" textLength="8.4" lengthAdjust="spacingAndGlyphs">80</text>
<line x1="95.3" y1="598.2" x2="98.3" y2="598.2" stroke="#000" stroke-width="1"/>
<text x="92.3" y="600.8" font-size="8.5" text-anchor="end" textLength="8.4" lengthAdjust="spacingAndGlyphs">60</text>
<line x1="95.3" y1="628" x2="98.3" y2="628" stroke="#000" stroke-width="1"/>
<text x="92.3" y="630.6" font-size="8.5" text-anchor="end" textLength="8.4" lengthAdjust="spacingAndGlyphs">40</text>
<line x1="95.3" y1="657.8" x2="98.3" y2="657.8" stroke="#000" stroke-width="1"/>
<text x="92.3" y="660.4" font-size="8.5" text-anchor="end" textLength="8.4" lengthAdjust="spacingAndGlyphs">20</text>
<line x1="95.3" y1="687.5" x2="98.3" y2="687.5" stroke="#000" stroke-width="1"/>
<text x="92.3" y="690.1" font-size="8.5" text-anchor="end" textLength="4.2" lengthAdjust="spacingAndGlyphs">0</text>
<line x1="96" y1="687.5" x2="98.3" y2="687.5" stroke="#000" stroke-width="0.9"/>
<line x1="96" y1="684.5" x2="98.3" y2="684.5" stroke="#000" stroke-width="0.9"/>
<line x1="96" y1="681.6" x2="98.3" y2="681.6" stroke="#000" stroke-width="0.9"/>
<line x1="96" y1="678.6" x2="98.3" y2="678.6" stroke="#000" stroke-width="0.9"/>
<line x1="96" y1="675.6" x2="98.3" y2="675.6" stroke="#000" stroke-width="0.9"/>
<line x1="96" y1="672.6" x2="98.3" y2="672.6" stroke="#000" stroke-width="0.9"/>
<line x1="96" y1="669.7" x2="98.3" y2="669.7" stroke="#000" stroke-width="0.9"/>
<line x1="96" y1="666.7" x2="98.3" y2="666.7" stroke="#000" stroke-width="0.9"/>
<line x1="96" y1="663.7" x2="98.3" y2="663.7" stroke="#000" stroke-width="0.9"/>
<line x1="96" y1="660.8" x2="98.3" y2="660.8" stroke="#000" stroke-width="0.9"/>
<line x1="96" y1="657.8" x2="98.3" y2="657.8" stroke="#000" stroke-width="0.9"/>
<line x1="96" y1="654.8" x2="98.3" y2="654.8" stroke="#000" stroke-width="0.9"/>
<line x1="96" y1="651.9" x2="98.3" y2="651.9" stroke="#000" stroke-width="0.9"/>
<line x1="96" y1="648.9" x2="98.3" y2="648.9" stroke="#000" stroke-width="0.9"/>
<line x1="96" y1="645.9" x2="98.3" y2="645.9" stroke="#000" stroke-width="0.9"/>
<line x1="96" y1="642.9" x2="98.3" y2="642.9" stroke="#000" stroke-width="0.9"/>
<line x1="96" y1="640" x2="98.3" y2="640" stroke="#000" stroke-width="0.9"/>
<line x1="96" y1="637" x2="98.3" y2="637" stroke="#000" stroke-width="0.9"/>
<line x1="96" y1="634" x2="98.3" y2="634" stroke="#000" stroke-width="0.9"/>
<line x1="96" y1="631.1" x2="98.3" y2="631.1" stroke="#000" stroke-width="0.9"/>
<line x1="96" y1="628.1" x2="98.3" y2="628.1" stroke="#000" stroke-width="0.9"/>
<line x1="96" y1="625.1" x2="98.3" y2="625.1" stroke="#000" stroke-width="0.9"/>
<line x1="96" y1="622.2" x2="98.3" y2="622.2" stroke="#000" stroke-width="0.9"/>
<line x1="96" y1="619.2" x2="98.3" y2="619.2" stroke="#000" stroke-width="0.9"/>
<line x1="96" y1="616.2" x2="98.3" y2="616.2" stroke="#000" stroke-width="0.9"/>
<line x1="96" y1="613.2" x2="98.3" y2="613.2" stroke="#000" stroke-width="0.9"/>
<line x1="96" y1="610.3" x2="98.3" y2="610.3" stroke="#000" stroke-width="0.9"/>
<line x1="96" y1="607.3" x2="98.3" y2="607.3" stroke="#000" stroke-width="0.9"/>
<line x1="96" y1="604.3" x2="98.3" y2="604.3" stroke="#000" stroke-width="0.9"/>
<line x1="96" y1="601.4" x2="98.3" y2="601.4" stroke="#000" stroke-width="0.9"/>
<line x1="96" y1="598.4" x2="98.3" y2="598.4" stroke="#000" stroke-width="0.9"/>
<line x1="96" y1="595.4" x2="98.3" y2="595.4" stroke="#000" stroke-width="0.9"/>
<line x1="96" y1="592.5" x2="98.3" y2="592.5" stroke="#000" stroke-width="0.9"/>
<line x1="96" y1="589.5" x2="98.3" y2="589.5" stroke="#000" stroke-width="0.9"/>
<line x1="96" y1="586.5" x2="98.3" y2="586.5" stroke="#000" stroke-width="0.9"/>
<line x1="96" y1="583.5" x2="98.3" y2="583.5" stroke="#000" stroke-width="0.9"/>
<line x1="96" y1="580.6" x2="98.3" y2="580.6" stroke="#000" stroke-width="0.9"/>
<line x1="96" y1="577.6" x2="98.3" y2="577.6" stroke="#000" stroke-width="0.9"/>
<line x1="96" y1="574.6" x2="98.3" y2="574.6" stroke="#000" stroke-width="0.9"/>
<line x1="96" y1="571.7" x2="98.3" y2="571.7" stroke="#000" stroke-width="0.9"/>
<line x1="96" y1="568.7" x2="98.3" y2="568.7" stroke="#000" stroke-width="0.9"/>
<line x1="96" y1="565.7" x2="98.3" y2="565.7" stroke="#000" stroke-width="0.9"/>
<line x1="123.5" y1="687.5" x2="123.5" y2="690" stroke="#000" stroke-width="1"/>
<line x1="162.1" y1="687.5" x2="162.1" y2="690" stroke="#000" stroke-width="1"/>
<text x="123.5" y="701.6" font-size="7.8" text-anchor="middle">CD8+</text>
<text x="162.1" y="701.6" font-size="7.8" text-anchor="middle">CD4+</text>
<text x="74.3" y="629.6" font-size="9.2" text-anchor="middle" textLength="32.5" lengthAdjust="spacingAndGlyphs" transform="rotate(-90 74.3 626.3)">% GZMB+</text>
<path d="M123.5 591V588.4H162.1V681.1" stroke="#222" stroke-width="1.1" fill="none" />
<text x="142.8" y="585.3" font-size="7.8" text-anchor="middle">&lt;0.01</text>
<line x1="111" y1="639.8" x2="136.7" y2="639.8" stroke="#444" stroke-width="1.4"/>
<circle cx="123.5" cy="592.6" r="2" fill="#C8102E"/>
<circle cx="123.5" cy="622" r="2" fill="#C8102E"/>
<circle cx="123.5" cy="639.4" r="2" fill="#C8102E"/>
<circle cx="123.5" cy="643.5" r="2" fill="#C8102E"/>
<circle cx="123.5" cy="670.7" r="2" fill="#C8102E"/>
<line x1="151.4" y1="685.2" x2="173.1" y2="685.2" stroke="#333" stroke-width="1.3"/>
<circle cx="151.4" cy="683.3" r="2" fill="#1f5a96"/>
<circle cx="151.4" cy="687.3" r="2" fill="#1f5a96"/>
<circle cx="158.4" cy="684.3" r="2" fill="#1f5a96"/>
<circle cx="165.6" cy="686.1" r="2" fill="#1f5a96"/>
<circle cx="173.1" cy="685" r="2" fill="#1f5a96"/>
<text x="241.9" y="557.9" font-size="10.4" textLength="54.2" lengthAdjust="spacingAndGlyphs">CD4<tspan font-size="6.9" dy="-3.7">+</tspan><tspan dy="3.7"> T-cells</tspan></text>
<line x1="223" y1="564" x2="223" y2="688.1" stroke="#000" stroke-width="1.3"/>
<line x1="222.4" y1="687.5" x2="309.7" y2="687.5" stroke="#000" stroke-width="1.3"/>
<line x1="220" y1="568.4" x2="223" y2="568.4" stroke="#000" stroke-width="1"/>
<text x="217.3" y="571" font-size="8.5" text-anchor="end" textLength="8.4" lengthAdjust="spacingAndGlyphs">25</text>
<line x1="220" y1="592.3" x2="223" y2="592.3" stroke="#000" stroke-width="1"/>
<text x="217.3" y="594.9" font-size="8.5" text-anchor="end" textLength="8.4" lengthAdjust="spacingAndGlyphs">20</text>
<line x1="220" y1="616.1" x2="223" y2="616.1" stroke="#000" stroke-width="1"/>
<text x="217.3" y="618.7" font-size="8.5" text-anchor="end" textLength="8.4" lengthAdjust="spacingAndGlyphs">15</text>
<line x1="220" y1="639.9" x2="223" y2="639.9" stroke="#000" stroke-width="1"/>
<text x="217.3" y="642.5" font-size="8.5" text-anchor="end" textLength="8.4" lengthAdjust="spacingAndGlyphs">10</text>
<line x1="220" y1="663.7" x2="223" y2="663.7" stroke="#000" stroke-width="1"/>
<text x="217.3" y="666.3" font-size="8.5" text-anchor="end" textLength="4.2" lengthAdjust="spacingAndGlyphs">5</text>
<line x1="220" y1="687.5" x2="223" y2="687.5" stroke="#000" stroke-width="1"/>
<text x="217.3" y="690.1" font-size="8.5" text-anchor="end" textLength="4.2" lengthAdjust="spacingAndGlyphs">0</text>
<line x1="220.7" y1="687.5" x2="223" y2="687.5" stroke="#000" stroke-width="0.9"/>
<line x1="220.7" y1="682.7" x2="223" y2="682.7" stroke="#000" stroke-width="0.9"/>
<line x1="220.7" y1="678" x2="223" y2="678" stroke="#000" stroke-width="0.9"/>
<line x1="220.7" y1="673.2" x2="223" y2="673.2" stroke="#000" stroke-width="0.9"/>
<line x1="220.7" y1="668.4" x2="223" y2="668.4" stroke="#000" stroke-width="0.9"/>
<line x1="220.7" y1="663.7" x2="223" y2="663.7" stroke="#000" stroke-width="0.9"/>
<line x1="220.7" y1="658.9" x2="223" y2="658.9" stroke="#000" stroke-width="0.9"/>
<line x1="220.7" y1="654.1" x2="223" y2="654.1" stroke="#000" stroke-width="0.9"/>
<line x1="220.7" y1="649.3" x2="223" y2="649.3" stroke="#000" stroke-width="0.9"/>
<line x1="220.7" y1="644.6" x2="223" y2="644.6" stroke="#000" stroke-width="0.9"/>
<line x1="220.7" y1="639.8" x2="223" y2="639.8" stroke="#000" stroke-width="0.9"/>
<line x1="220.7" y1="635" x2="223" y2="635" stroke="#000" stroke-width="0.9"/>
<line x1="220.7" y1="630.3" x2="223" y2="630.3" stroke="#000" stroke-width="0.9"/>
<line x1="220.7" y1="625.5" x2="223" y2="625.5" stroke="#000" stroke-width="0.9"/>
<line x1="220.7" y1="620.7" x2="223" y2="620.7" stroke="#000" stroke-width="0.9"/>
<line x1="220.7" y1="616" x2="223" y2="616" stroke="#000" stroke-width="0.9"/>
<line x1="220.7" y1="611.2" x2="223" y2="611.2" stroke="#000" stroke-width="0.9"/>
<line x1="220.7" y1="606.4" x2="223" y2="606.4" stroke="#000" stroke-width="0.9"/>
<line x1="220.7" y1="601.6" x2="223" y2="601.6" stroke="#000" stroke-width="0.9"/>
<line x1="220.7" y1="596.9" x2="223" y2="596.9" stroke="#000" stroke-width="0.9"/>
<line x1="220.7" y1="592.1" x2="223" y2="592.1" stroke="#000" stroke-width="0.9"/>
<line x1="220.7" y1="587.3" x2="223" y2="587.3" stroke="#000" stroke-width="0.9"/>
<line x1="220.7" y1="582.6" x2="223" y2="582.6" stroke="#000" stroke-width="0.9"/>
<line x1="220.7" y1="577.8" x2="223" y2="577.8" stroke="#000" stroke-width="0.9"/>
<line x1="220.7" y1="573" x2="223" y2="573" stroke="#000" stroke-width="0.9"/>
<line x1="220.7" y1="568.3" x2="223" y2="568.3" stroke="#000" stroke-width="0.9"/>
<line x1="248.9" y1="687.5" x2="248.9" y2="690" stroke="#000" stroke-width="1"/>
<line x1="288.7" y1="687.5" x2="288.7" y2="690" stroke="#000" stroke-width="1"/>
<text x="248.9" y="702.2" font-size="7.8" text-anchor="middle">GZMB+</text>
<text x="288.7" y="702.2" font-size="7.8" text-anchor="middle">GZMB–</text>
<text x="199.1" y="629.6" font-size="9.2" text-anchor="middle" textLength="30.3" lengthAdjust="spacingAndGlyphs" transform="rotate(-90 199.1 626.3)">% TIM3+</text>
<path d="M248.9 586.5V584.1H288.7V654.9" stroke="#222" stroke-width="1.1" fill="none" />
<text x="269.1" y="581.1" font-size="7.8" text-anchor="middle">0.05</text>
<line x1="236.4" y1="638" x2="262.7" y2="638" stroke="#444" stroke-width="1.4"/>
<circle cx="248.9" cy="588.9" r="2.1" fill="#174a8b"/>
<circle cx="248.9" cy="628.4" r="2.1" fill="#174a8b"/>
<circle cx="248.9" cy="638" r="2.1" fill="#174a8b"/>
<circle cx="248.9" cy="655" r="2.1" fill="#174a8b"/>
<circle cx="248.9" cy="674.7" r="2.1" fill="#174a8b"/>
<line x1="275.5" y1="674.4" x2="301.8" y2="674.4" stroke="#333" stroke-width="1.4"/>
<circle cx="288.7" cy="656.7" r="2.1" fill="#8fb2d8"/>
<circle cx="288.7" cy="668.6" r="2.1" fill="#8fb2d8"/>
<circle cx="284.7" cy="674.7" r="2.1" fill="#8fb2d8"/>
<circle cx="292.6" cy="677.1" r="2.1" fill="#8fb2d8"/>
<circle cx="288.7" cy="681.7" r="2.1" fill="#8fb2d8"/>
<text x="377.6" y="557.9" font-size="10.4" textLength="54.8" lengthAdjust="spacingAndGlyphs">CD8<tspan font-size="6.9" dy="-3.7">+</tspan><tspan dy="3.7"> T-cells</tspan></text>
<line x1="359" y1="564" x2="359" y2="688.1" stroke="#000" stroke-width="1.3"/>
<line x1="358.4" y1="687.5" x2="449.7" y2="687.5" stroke="#000" stroke-width="1.3"/>
<line x1="356" y1="568.4" x2="359" y2="568.4" stroke="#000" stroke-width="1"/>
<text x="352.4" y="571" font-size="8.5" text-anchor="end" textLength="8.4" lengthAdjust="spacingAndGlyphs">25</text>
<line x1="356" y1="592.3" x2="359" y2="592.3" stroke="#000" stroke-width="1"/>
<text x="352.4" y="594.9" font-size="8.5" text-anchor="end" textLength="8.4" lengthAdjust="spacingAndGlyphs">20</text>
<line x1="356" y1="616.1" x2="359" y2="616.1" stroke="#000" stroke-width="1"/>
<text x="352.4" y="618.7" font-size="8.5" text-anchor="end" textLength="8.4" lengthAdjust="spacingAndGlyphs">15</text>
<line x1="356" y1="639.9" x2="359" y2="639.9" stroke="#000" stroke-width="1"/>
<text x="352.4" y="642.5" font-size="8.5" text-anchor="end" textLength="8.4" lengthAdjust="spacingAndGlyphs">10</text>
<line x1="356" y1="663.7" x2="359" y2="663.7" stroke="#000" stroke-width="1"/>
<text x="352.4" y="666.3" font-size="8.5" text-anchor="end" textLength="4.2" lengthAdjust="spacingAndGlyphs">5</text>
<line x1="356" y1="687.5" x2="359" y2="687.5" stroke="#000" stroke-width="1"/>
<text x="352.4" y="690.1" font-size="8.5" text-anchor="end" textLength="4.2" lengthAdjust="spacingAndGlyphs">0</text>
<line x1="356.7" y1="687.5" x2="359" y2="687.5" stroke="#000" stroke-width="0.9"/>
<line x1="356.7" y1="682.7" x2="359" y2="682.7" stroke="#000" stroke-width="0.9"/>
<line x1="356.7" y1="678" x2="359" y2="678" stroke="#000" stroke-width="0.9"/>
<line x1="356.7" y1="673.2" x2="359" y2="673.2" stroke="#000" stroke-width="0.9"/>
<line x1="356.7" y1="668.4" x2="359" y2="668.4" stroke="#000" stroke-width="0.9"/>
<line x1="356.7" y1="663.7" x2="359" y2="663.7" stroke="#000" stroke-width="0.9"/>
<line x1="356.7" y1="658.9" x2="359" y2="658.9" stroke="#000" stroke-width="0.9"/>
<line x1="356.7" y1="654.1" x2="359" y2="654.1" stroke="#000" stroke-width="0.9"/>
<line x1="356.7" y1="649.3" x2="359" y2="649.3" stroke="#000" stroke-width="0.9"/>
<line x1="356.7" y1="644.6" x2="359" y2="644.6" stroke="#000" stroke-width="0.9"/>
<line x1="356.7" y1="639.8" x2="359" y2="639.8" stroke="#000" stroke-width="0.9"/>
<line x1="356.7" y1="635" x2="359" y2="635" stroke="#000" stroke-width="0.9"/>
<line x1="356.7" y1="630.3" x2="359" y2="630.3" stroke="#000" stroke-width="0.9"/>
<line x1="356.7" y1="625.5" x2="359" y2="625.5" stroke="#000" stroke-width="0.9"/>
<line x1="356.7" y1="620.7" x2="359" y2="620.7" stroke="#000" stroke-width="0.9"/>
<line x1="356.7" y1="616" x2="359" y2="616" stroke="#000" stroke-width="0.9"/>
<line x1="356.7" y1="611.2" x2="359" y2="611.2" stroke="#000" stroke-width="0.9"/>
<line x1="356.7" y1="606.4" x2="359" y2="606.4" stroke="#000" stroke-width="0.9"/>
<line x1="356.7" y1="601.6" x2="359" y2="601.6" stroke="#000" stroke-width="0.9"/>
<line x1="356.7" y1="596.9" x2="359" y2="596.9" stroke="#000" stroke-width="0.9"/>
<line x1="356.7" y1="592.1" x2="359" y2="592.1" stroke="#000" stroke-width="0.9"/>
<line x1="356.7" y1="587.3" x2="359" y2="587.3" stroke="#000" stroke-width="0.9"/>
<line x1="356.7" y1="582.6" x2="359" y2="582.6" stroke="#000" stroke-width="0.9"/>
<line x1="356.7" y1="577.8" x2="359" y2="577.8" stroke="#000" stroke-width="0.9"/>
<line x1="356.7" y1="573" x2="359" y2="573" stroke="#000" stroke-width="0.9"/>
<line x1="356.7" y1="568.3" x2="359" y2="568.3" stroke="#000" stroke-width="0.9"/>
<line x1="385.2" y1="687.5" x2="385.2" y2="690" stroke="#000" stroke-width="1"/>
<line x1="424.3" y1="687.5" x2="424.3" y2="690" stroke="#000" stroke-width="1"/>
<text x="385.2" y="702.2" font-size="7.8" text-anchor="middle">GZMB+</text>
<text x="424.3" y="702.2" font-size="7.8" text-anchor="middle">GZMB–</text>
<text x="334.7" y="629.4" font-size="9.2" text-anchor="middle" textLength="30.3" lengthAdjust="spacingAndGlyphs" transform="rotate(-90 334.7 626.1)">% TIM3+</text>
<path d="M385.2 593.8V591.7H424.3V663.7" stroke="#222" stroke-width="1.1" fill="none" />
<text x="404.6" y="588.4" font-size="7.8" text-anchor="middle">0.02</text>
<line x1="371.9" y1="619" x2="398.2" y2="619" stroke="#555" stroke-width="1.4"/>
<circle cx="385.2" cy="596.1" r="2.1" fill="#C8102E"/>
<circle cx="385.2" cy="608" r="2.1" fill="#C8102E"/>
<circle cx="385.2" cy="619" r="2.1" fill="#C8102E"/>
<circle cx="385.2" cy="634.3" r="2.1" fill="#C8102E"/>
<circle cx="385.2" cy="687.6" r="2.1" fill="#C8102E"/>
<line x1="411.4" y1="676" x2="437.5" y2="676" stroke="#555" stroke-width="1.4"/>
<circle cx="420.6" cy="666.1" r="2.1" fill="#e88fa3"/>
<circle cx="428.3" cy="668.8" r="2.1" fill="#e88fa3"/>
<circle cx="424.3" cy="676" r="2.1" fill="#e88fa3"/>
<circle cx="424.3" cy="681.7" r="2.1" fill="#e88fa3"/>
<circle cx="424.3" cy="687" r="2.1" fill="#e88fa3"/>
</svg>
</body></html>
